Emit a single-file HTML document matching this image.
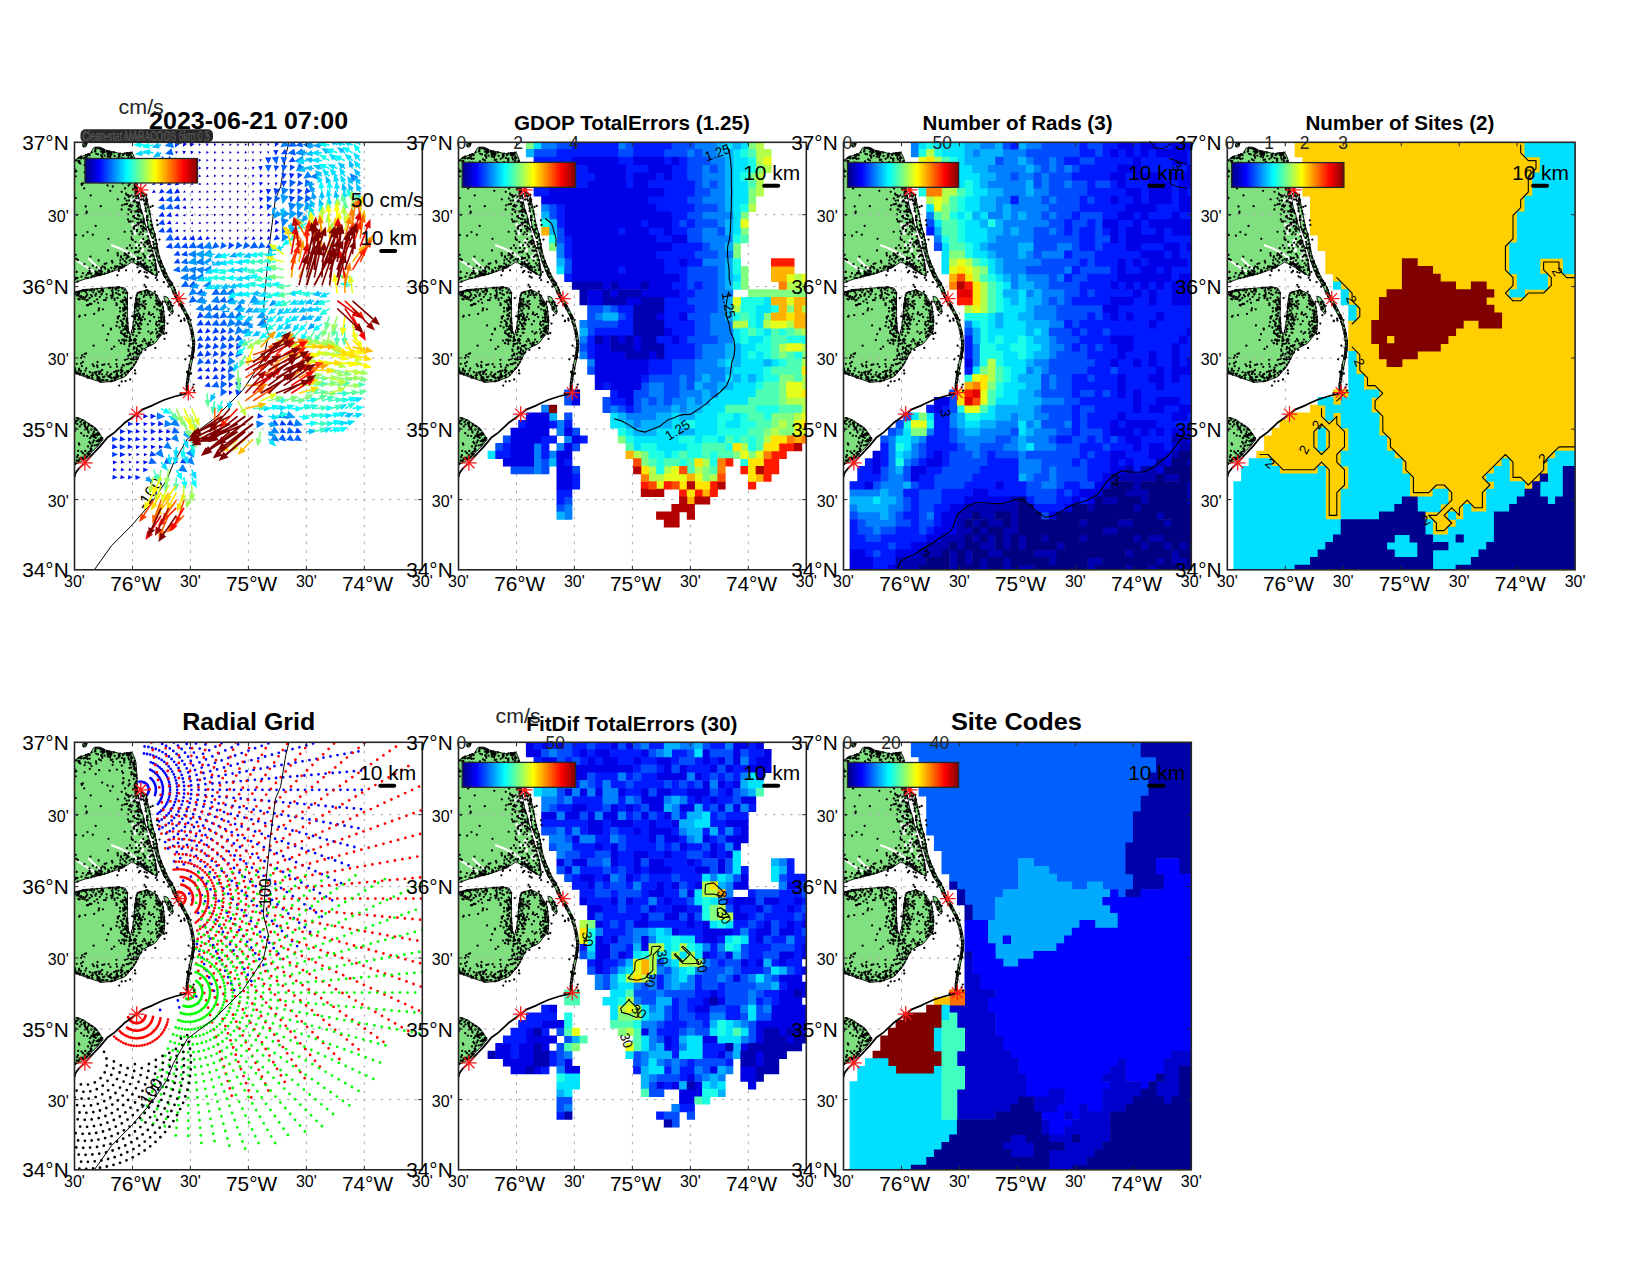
<!DOCTYPE html><html><head><meta charset="utf-8"><style>html,body{margin:0;padding:0;background:#fff;overflow:hidden;}svg{display:block;}text{font-family:'Liberation Sans', Arial, Helvetica, sans-serif;}.L{font-size:20.8px;fill:#000;}.S{font-size:16px;fill:#000;}.C{font-size:17.5px;fill:#262626;}.T{font-size:20.5px;font-weight:bold;fill:#000;}.g{stroke:#a8a8a8;stroke-width:1;stroke-dasharray:2.5 6;}.t{stroke:#262626;stroke-width:1;}.fr{fill:none;stroke:#262626;stroke-width:1.6;}</style></head><body>
<svg width="1650" height="1275" viewBox="0 0 1650 1275">
<defs><linearGradient id="jetg" x1="0" x2="1" y1="0" y2="0"><stop offset="0" stop-color="#000080"/><stop offset="0.125" stop-color="#0000ff"/><stop offset="0.375" stop-color="#00ffff"/><stop offset="0.625" stop-color="#ffff00"/><stop offset="0.875" stop-color="#ff0000"/><stop offset="1" stop-color="#800000"/></linearGradient><clipPath id="clipP"><rect x="0" y="0" width="347.8" height="427.5"/></clipPath><clipPath id="landclip"><polygon points="0.0,18.2 5.6,14.6 15.8,11.1 19.0,5.6 25.3,4.8 31.6,7.9 38.7,9.5 46.6,11.5 52.9,10.3 57.6,10.3 60.0,15.0 61.5,20.6 62.5,35.0 63.0,48.0 64.0,55.0 66.0,65.0 68.5,73.0 71.5,85.0 74.5,96.5 77.0,105.0 79.0,112.0 80.8,119.0 82.0,126.0 82.5,133.7 77.0,131.5 70.0,126.5 63.0,122.5 57.5,119.5 53.0,122.5 47.0,126.0 38.3,129.0 29.7,132.0 21.2,134.0 9.5,137.0 3.0,139.5 0.0,140.5"/><polygon points="66.3,48.1 71.8,53.0 75.0,68.6 78.0,84.0 80.5,92.0 84.9,114.7 91.8,131.1 98.7,143.2 103.9,155.3 109.9,165.6 115.1,176.0 118.6,188.9 120.3,199.7 120.0,205.0 118.9,213.0 115.3,230.6 113.6,241.2 113.6,250.1 111.8,249.0 111.8,241.0 113.3,230.6 116.9,213.0 117.9,205.0 118.1,199.7 116.4,189.0 113.0,177.0 107.8,167.2 101.9,157.2 96.8,146.0 92.5,139.0 88.5,131.5 86.0,126.0 83.5,119.0 81.5,112.0 79.0,103.0 77.0,95.0 74.5,88.0 72.5,78.0 71.5,68.0 69.5,60.0 66.5,54.0"/><polygon points="0.0,149.8 9.5,147.2 27.1,146.0 38.3,144.9 45.0,144.8 50.5,145.8 53.0,150.0 53.0,158.7 52.8,176.0 54.0,188.0 55.8,193.2 57.6,189.0 59.3,176.0 60.8,158.7 62.0,152.5 63.4,150.1 72.8,147.5 81.5,151.8 88.4,163.0 90.1,176.0 89.5,189.5 80.0,201.2 68.3,207.1 58.9,224.8 50.6,234.2 38.9,238.9 27.1,240.1 9.5,234.2 0.0,230.6"/><polygon points="89.5,153.8 93.0,155.0 96.5,161.0 98.8,169.5 97.5,172.0 94.5,168.0 91.5,161.0 89.8,157.0"/><polygon points="0.0,275.5 3.3,275.3 10.0,278.0 15.4,282.4 21.0,285.5 26.0,292.5 28.5,297.0 24.0,303.0 18.0,309.0 12.0,315.5 6.0,319.5 0.0,322.5"/><polygon points="8.0,1.5 12.7,0.9 11.5,4.5 9.0,4.8"/></clipPath><g id="landg"><polygon points="0.0,18.2 5.6,14.6 15.8,11.1 19.0,5.6 25.3,4.8 31.6,7.9 38.7,9.5 46.6,11.5 52.9,10.3 57.6,10.3 60.0,15.0 61.5,20.6 62.5,35.0 63.0,48.0 64.0,55.0 66.0,65.0 68.5,73.0 71.5,85.0 74.5,96.5 77.0,105.0 79.0,112.0 80.8,119.0 82.0,126.0 82.5,133.7 77.0,131.5 70.0,126.5 63.0,122.5 57.5,119.5 53.0,122.5 47.0,126.0 38.3,129.0 29.7,132.0 21.2,134.0 9.5,137.0 3.0,139.5 0.0,140.5" fill="#80e080" stroke="#000" stroke-width="0.9"/>
<polygon points="66.3,48.1 71.8,53.0 75.0,68.6 78.0,84.0 80.5,92.0 84.9,114.7 91.8,131.1 98.7,143.2 103.9,155.3 109.9,165.6 115.1,176.0 118.6,188.9 120.3,199.7 120.0,205.0 118.9,213.0 115.3,230.6 113.6,241.2 113.6,250.1 111.8,249.0 111.8,241.0 113.3,230.6 116.9,213.0 117.9,205.0 118.1,199.7 116.4,189.0 113.0,177.0 107.8,167.2 101.9,157.2 96.8,146.0 92.5,139.0 88.5,131.5 86.0,126.0 83.5,119.0 81.5,112.0 79.0,103.0 77.0,95.0 74.5,88.0 72.5,78.0 71.5,68.0 69.5,60.0 66.5,54.0" fill="#80e080" stroke="#000" stroke-width="0.9"/>
<polygon points="0.0,149.8 9.5,147.2 27.1,146.0 38.3,144.9 45.0,144.8 50.5,145.8 53.0,150.0 53.0,158.7 52.8,176.0 54.0,188.0 55.8,193.2 57.6,189.0 59.3,176.0 60.8,158.7 62.0,152.5 63.4,150.1 72.8,147.5 81.5,151.8 88.4,163.0 90.1,176.0 89.5,189.5 80.0,201.2 68.3,207.1 58.9,224.8 50.6,234.2 38.9,238.9 27.1,240.1 9.5,234.2 0.0,230.6" fill="#80e080" stroke="#000" stroke-width="0.9"/>
<polygon points="89.5,153.8 93.0,155.0 96.5,161.0 98.8,169.5 97.5,172.0 94.5,168.0 91.5,161.0 89.8,157.0" fill="#80e080" stroke="#000" stroke-width="0.9"/>
<polygon points="0.0,275.5 3.3,275.3 10.0,278.0 15.4,282.4 21.0,285.5 26.0,292.5 28.5,297.0 24.0,303.0 18.0,309.0 12.0,315.5 6.0,319.5 0.0,322.5" fill="#80e080" stroke="#000" stroke-width="0.9"/>
<polygon points="8.0,1.5 12.7,0.9 11.5,4.5 9.0,4.8" fill="#80e080" stroke="#000" stroke-width="0.9"/>
<path d="M58.8 83.4h0M69.4 92.3h0M68.0 108.2h0M68.2 107.2h0M60.4 73.2h0M68.8 65.5h0M60.6 57.3h0M60.8 89.0h0M66.5 98.5h0M79.6 100.8h0M73.8 108.1h0M58.3 82.4h0M68.9 59.0h0M66.7 103.3h0M69.2 60.0h0M76.2 116.3h0M74.0 114.4h0M68.7 66.5h0M67.3 100.7h0M74.4 77.4h0M67.9 54.6h0M77.7 97.4h0M63.2 58.1h0M76.2 112.4h0M78.2 101.6h0M69.8 56.1h0M67.6 102.2h0M56.2 57.8h0M65.4 83.4h0M62.3 102.9h0M58.1 62.8h0M61.6 85.1h0M73.1 91.7h0M67.7 69.7h0M70.9 71.5h0M62.6 81.9h0M60.5 91.1h0M57.7 53.2h0M59.4 57.9h0M72.3 103.4h0M65.2 82.4h0M67.7 97.9h0M76.9 108.6h0M74.6 116.0h0" stroke="#fff" stroke-width="3.2" stroke-linecap="round"/>
<polyline points="36.6,102.6 45.0,106.0 55.0,111.0 62.0,116.0 68.5,120.5" fill="none" stroke="#fff" stroke-width="2.2"/>
<polyline points="2.0,118.0 8.0,122.0 14.0,126.0 20.0,129.5" fill="none" stroke="#fff" stroke-width="2.2"/>
<polyline points="14.0,116.0 19.0,121.0 24.0,126.0 28.0,128.5" fill="none" stroke="#fff" stroke-width="2.2"/>
<polyline points="113.6,250.1 109.5,251.8 100.1,254.2 89.5,257.7 80.1,262.0 77.5,263.3 68.3,267.1 62.0,272.1 50.6,280.1 40.1,290.1 33.0,295.2 26.0,303.5 15.4,314.8 10.4,320.5 5.0,325.5 1.2,330.4 0.0,334.6" fill="none" stroke="#000" stroke-width="1.8"/>
<path d="M58.1 214.1h0M78.6 199.5h0M63.6 183.7h0M50.7 194.3h0M55.7 198.5h0M72.7 100.6h0M0.2 18.4h0M51.3 232.5h0M32.0 155.5h0M2.9 281.9h0M48.0 123.1h0M111.8 173.3h0M40.8 146.1h0M47.7 182.4h0M11.8 315.3h0M82.1 179.6h0M82.8 189.7h0M15.0 312.2h0M17.9 133.5h0M64.4 190.4h0M104.9 162.2h0M60.0 175.4h0M61.1 216.4h0M113.1 239.8h0M59.2 36.6h0M79.2 102.1h0M92.4 134.5h0M44.8 124.3h0M72.8 75.0h0M17.5 154.1h0M20.5 9.2h0M2.7 150.1h0M118.3 198.4h0M14.0 130.6h0M40.7 124.0h0M24.3 299.3h0M42.2 162.3h0M52.7 113.3h0M50.6 173.7h0M117.2 215.6h0M17.6 303.3h0M53.9 207.0h0M86.8 121.1h0M34.5 9.9h0M53.9 228.6h0M3.4 117.7h0M33.4 130.2h0M24.6 131.3h0M114.1 175.4h0M7.0 134.4h0M84.7 114.0h0M26.9 148.1h0M29.9 234.4h0M21.0 132.1h0M49.8 193.1h0M61.6 56.0h0M47.3 15.6h0M88.7 124.8h0M34.3 234.0h0M98.3 149.1h0M89.7 174.7h0M82.4 102.1h0M62.0 211.2h0M86.7 187.8h0M56.8 201.5h0M93.5 160.2h0M24.4 132.3h0M2.2 318.0h0M93.7 161.7h0M45.8 121.1h0M14.0 290.2h0M34.2 221.9h0M60.4 175.2h0M63.3 115.0h0M67.5 121.8h0M29.1 238.1h0M113.7 234.0h0M84.9 119.4h0M80.8 126.7h0M68.9 163.4h0M76.5 108.0h0M95.8 139.0h0M24.0 149.0h0M61.0 51.4h0M49.8 201.7h0M7.6 315.3h0M66.7 68.4h0M17.5 235.6h0M37.0 238.4h0M74.4 87.0h0M0.6 321.8h0M76.3 103.7h0M16.7 135.0h0M54.0 114.6h0M63.5 168.3h0M83.8 193.8h0M69.1 102.3h0M54.1 43.2h0M63.7 122.3h0M26.3 295.7h0M73.6 149.3h0M55.4 212.7h0M62.7 168.2h0M61.6 201.0h0M84.9 115.6h0M74.0 149.1h0M56.8 10.5h0M10.5 284.1h0M62.0 158.3h0M35.5 15.1h0M52.4 11.2h0M69.3 124.8h0M62.0 181.0h0M79.3 117.5h0M47.1 67.2h0M5.2 20.8h0M65.5 176.3h0M22.0 298.8h0M10.1 30.0h0M18.3 123.4h0M55.4 196.6h0M80.1 117.7h0M26.6 9.4h0M77.5 86.6h0M23.6 302.0h0M59.7 86.4h0M70.7 198.4h0M81.5 187.0h0M61.5 45.0h0M49.4 16.6h0M60.0 172.8h0M81.6 181.9h0M79.9 105.8h0M10.9 2.3h0M41.7 150.7h0M63.4 116.9h0M84.9 179.0h0M117.0 187.5h0M68.6 84.3h0M32.0 121.0h0M16.1 306.2h0M50.0 147.8h0M71.7 56.1h0M11.5 286.0h0M77.6 112.7h0M0.0 26.7h0M53.1 190.6h0M42.8 179.9h0M1.2 230.7h0M58.0 15.7h0M84.9 163.5h0M64.7 73.7h0M48.1 160.0h0M52.2 161.9h0M12.9 314.0h0M13.9 20.3h0M43.4 176.1h0M55.9 11.8h0M117.1 188.8h0M52.5 105.9h0M8.4 130.9h0M51.1 170.7h0M10.2 211.6h0M59.6 116.6h0M68.4 174.3h0M27.6 14.3h0M66.1 203.5h0M88.3 179.5h0M8.4 219.7h0M19.7 147.8h0M28.5 147.7h0M18.2 222.0h0M50.6 166.7h0M12.9 311.0h0M88.5 175.4h0M56.6 15.9h0M51.6 150.6h0M33.0 43.1h0M118.7 209.9h0M7.3 149.0h0M43.1 155.6h0M60.9 99.5h0M113.4 243.6h0M55.3 194.7h0M22.3 233.0h0M65.8 203.2h0M39.9 126.4h0M48.2 41.1h0M115.0 222.6h0M86.9 168.2h0M46.6 114.0h0M55.7 20.2h0M65.3 180.8h0M112.5 241.0h0M70.5 52.8h0M56.8 14.2h0M50.9 157.8h0M44.4 14.3h0M86.8 124.6h0M61.1 48.7h0M6.1 231.0h0M40.1 13.5h0M13.0 89.8h0M2.1 129.7h0M46.0 124.9h0M41.9 217.5h0M28.2 7.2h0M52.4 229.2h0M106.4 162.0h0M34.5 145.9h0M64.7 121.5h0M74.9 69.0h0M72.4 98.9h0M112.8 247.9h0M23.7 160.5h0M117.6 216.6h0M28.2 237.5h0M72.0 125.9h0M59.2 189.4h0M52.5 176.1h0M81.3 97.8h0M6.4 228.6h0M61.9 50.6h0M51.8 120.3h0M1.2 135.7h0M53.7 213.4h0M44.6 126.2h0M113.1 246.6h0M22.2 130.8h0M28.6 183.1h0M4.3 150.1h0M63.2 150.9h0M27.9 124.1h0M94.1 166.8h0M61.8 109.6h0M37.3 148.3h0M56.7 69.7h0M73.6 125.2h0M21.9 287.6h0M50.0 157.8h0M36.5 187.3h0M47.7 232.3h0M10.1 22.9h0M65.1 150.0h0M20.8 8.9h0M15.1 155.7h0M37.8 153.8h0M49.6 176.3h0M30.2 121.6h0M20.9 129.2h0M62.2 60.2h0M70.6 121.1h0M118.8 199.0h0M72.3 58.4h0M10.5 315.7h0M94.7 166.3h0M61.2 173.6h0M17.0 307.7h0M59.6 73.7h0M54.9 198.8h0M53.2 186.0h0M86.1 171.3h0M60.5 21.6h0M60.2 186.8h0M30.1 13.4h0M11.1 135.3h0M119.2 207.0h0M26.7 125.9h0M62.0 32.8h0M77.8 190.1h0M63.1 216.4h0M50.2 89.5h0M12.8 152.4h0M74.5 101.1h0M21.0 293.0h0M24.8 237.9h0M3.0 275.9h0M55.9 79.2h0M42.9 145.6h0M97.1 140.6h0M46.3 159.2h0M69.9 153.1h0M59.6 26.9h0M19.3 223.9h0M28.5 149.2h0M76.9 83.2h0M114.9 231.8h0M76.6 197.3h0M26.8 297.9h0M87.6 187.9h0M1.1 136.7h0M53.5 221.9h0M49.7 20.1h0M55.2 118.3h0M38.1 153.9h0M113.9 229.2h0M90.9 159.5h0M59.1 59.2h0M33.7 191.9h0M73.9 189.3h0M2.8 314.4h0M6.6 153.9h0M15.1 161.7h0M50.1 62.1h0M40.0 156.3h0M66.1 121.3h0M63.4 177.3h0M50.0 16.4h0M70.2 126.5h0M115.4 225.1h0M100.7 150.6h0M13.1 13.1h0M7.6 213.2h0M43.3 113.2h0M42.6 232.2h0M15.9 301.1h0M71.4 59.8h0M17.3 287.0h0M3.9 151.0h0M34.2 9.7h0M86.4 161.7h0M78.3 171.8h0M2.8 314.9h0M16.6 152.8h0M0.7 288.2h0M49.5 223.3h0M113.7 176.8h0M94.9 165.5h0M22.6 223.1h0M9.8 214.8h0M38.3 150.1h0M23.7 290.5h0M67.1 202.8h0M48.4 150.2h0M4.2 318.5h0M42.4 27.3h0M57.2 116.9h0M32.1 152.0h0M22.2 132.9h0M60.2 25.7h0M59.5 215.8h0M26.7 13.1h0M86.2 120.7h0M75.9 202.8h0M78.0 86.0h0M3.6 149.8h0M100.9 154.0h0M49.2 172.4h0M118.0 191.0h0M46.2 178.4h0M105.4 162.3h0M16.8 161.7h0M12.2 69.4h0M69.2 78.3h0M113.9 179.8h0M111.4 172.2h0M42.2 229.2h0M46.4 115.1h0M62.2 35.6h0M51.0 194.0h0M16.3 308.8h0M47.6 122.4h0M48.8 40.1h0M25.1 6.3h0M97.0 163.5h0M14.9 299.7h0M42.5 124.2h0M84.8 193.4h0M2.3 221.5h0M35.8 48.5h0M59.5 26.8h0M82.5 105.4h0M26.8 13.3h0M50.6 217.6h0M95.3 138.7h0M63.8 69.7h0M96.2 143.1h0M77.6 113.1h0M97.4 142.9h0M28.4 167.0h0M54.0 15.6h0M74.8 68.8h0M1.8 231.0h0M57.2 95.2h0M10.5 15.4h0M3.0 135.6h0M55.9 62.5h0M22.1 229.5h0M70.2 164.8h0M76.3 88.2h0M82.9 162.2h0M72.6 57.5h0M88.1 172.3h0M112.5 175.9h0M48.9 36.3h0M10.9 228.3h0M7.0 41.7h0M75.2 108.6h0M100.2 151.3h0M17.6 293.7h0M47.9 228.7h0M24.6 17.1h0M58.2 211.6h0M55.2 195.4h0M87.1 187.6h0M25.4 230.5h0M66.7 49.8h0M119.5 202.0h0M59.5 24.2h0M18.4 232.8h0M65.0 156.5h0M106.6 163.7h0M12.1 15.2h0M116.2 187.4h0M58.6 192.5h0M109.5 167.9h0M60.3 58.7h0M41.4 235.9h0M72.1 123.5h0M10.9 20.2h0M24.1 118.2h0M40.1 13.8h0M3.8 18.8h0M115.0 181.9h0M50.4 164.2h0M67.4 206.4h0M24.2 298.9h0M4.4 15.7h0M75.1 118.3h0M28.3 10.9h0M71.4 124.9h0M12.5 162.9h0M15.0 126.0h0M21.8 11.5h0M52.4 186.3h0M14.2 283.2h0M5.3 284.2h0M111.9 247.8h0M59.8 174.2h0M58.6 85.7h0M87.0 190.1h0M49.8 199.2h0M15.8 295.6h0M62.7 48.6h0M64.9 162.4h0M86.6 174.9h0M57.9 91.4h0M56.8 64.4h0M68.2 199.1h0M69.1 54.4h0M67.4 70.9h0M62.3 88.9h0M19.1 203.4h0M60.7 161.8h0M59.7 204.9h0M108.0 163.3h0M62.4 121.9h0M66.2 90.0h0M70.6 125.9h0M34.0 96.5h0M64.2 60.9h0M61.6 41.6h0M12.7 285.2h0M64.9 116.1h0M31.2 157.8h0M86.5 118.7h0M9.9 282.3h0M85.5 192.7h0M59.0 23.0h0M45.8 118.0h0M90.1 127.1h0M26.0 6.7h0M119.5 198.9h0M44.5 198.3h0M38.5 19.6h0M77.4 121.0h0M15.2 130.0h0M66.5 54.0h0M55.0 11.3h0M2.1 278.8h0M60.1 21.3h0M1.2 279.4h0M60.1 18.7h0M19.6 292.6h0M23.4 234.8h0M105.3 161.8h0M84.3 160.9h0M62.1 210.6h0M23.5 12.0h0M11.8 226.0h0M66.5 121.8h0M56.9 220.4h0M114.1 231.1h0M89.4 175.2h0M48.2 191.6h0M17.2 303.7h0M44.1 233.8h0M62.3 153.2h0M70.3 177.0h0M102.1 155.7h0M41.8 235.5h0M113.2 236.4h0M24.5 229.3h0M50.5 186.7h0M4.4 151.5h0M48.3 222.8h0M6.6 221.1h0M27.2 238.2h0M70.6 104.2h0M25.3 154.5h0M82.3 131.6h0M49.7 197.6h0M38.1 22.6h0M52.8 184.0h0M17.3 147.2h0M101.5 155.9h0M59.4 206.4h0M58.3 97.6h0M86.7 172.9h0M27.8 15.5h0M29.5 8.5h0M33.0 11.6h0M64.1 121.1h0M62.9 161.1h0M112.3 245.1h0M37.2 155.9h0M39.6 235.0h0M18.6 291.5h0M60.9 215.0h0M85.1 188.8h0M66.0 175.7h0M17.8 284.1h0M72.1 152.5h0M20.2 286.0h0M45.6 169.1h0M93.5 137.1h0M57.6 225.4h0M15.3 229.9h0M101.7 155.6h0M60.6 196.5h0M67.9 86.8h0M54.9 12.7h0M62.5 49.8h0M47.6 29.0h0M10.1 156.9h0M47.5 125.2h0M69.7 85.8h0M50.5 166.0h0M52.2 221.8h0M74.6 200.4h0M55.2 201.6h0M69.3 171.5h0M52.5 61.6h0M107.6 166.1h0M61.6 161.1h0M89.1 129.6h0M56.5 10.4h0M61.9 205.8h0M64.9 159.2h0M60.9 215.2h0M83.4 162.3h0M60.5 110.1h0M39.5 229.8h0M0.1 285.9h0M16.5 131.4h0M60.7 41.8h0M35.1 28.4h0M66.0 186.6h0M88.7 190.0h0M66.9 151.8h0M52.3 188.3h0M80.0 93.1h0M57.0 29.9h0M13.1 157.6h0M11.7 1.7h0M15.0 148.0h0M15.4 295.8h0M77.3 130.9h0M65.4 67.0h0M65.2 203.6h0M61.4 26.3h0M65.1 190.5h0M50.3 56.2h0M35.9 224.6h0M82.7 194.9h0M14.3 309.5h0M118.0 205.8h0M2.7 153.2h0M1.7 231.1h0M5.9 279.6h0M89.1 169.3h0M12.7 293.8h0M38.3 152.1h0M71.7 57.5h0M63.5 182.2h0M48.2 183.9h0M2.0 286.5h0M82.9 109.0h0M24.2 132.4h0M8.7 154.8h0M64.2 171.2h0M6.1 315.6h0M22.9 235.3h0M27.6 232.0h0M62.3 172.0h0M68.6 50.7h0M95.1 142.1h0M54.9 63.7h0M76.5 82.5h0M21.5 132.3h0M63.2 49.5h0M0.9 228.4h0M24.0 297.3h0M112.2 173.5h0M32.9 238.0h0M61.6 33.8h0M57.3 96.9h0M46.6 190.6h0M34.7 129.6h0M27.7 295.9h0M4.9 18.9h0M7.9 277.8h0M17.2 10.0h0M24.6 128.0h0M82.5 161.5h0M56.6 197.8h0M79.9 164.7h0M89.6 183.4h0M81.0 124.0h0M21.0 152.3h0M84.8 159.3h0M113.5 232.4h0M34.5 128.3h0M11.6 211.1h0M59.1 206.7h0M21.2 83.6h0M64.0 65.3h0M40.8 236.6h0M53.6 13.5h0M72.5 75.1h0M13.3 235.4h0M8.1 148.1h0M80.2 92.7h0M69.3 86.0h0M21.0 153.4h0M11.3 15.2h0M18.3 300.2h0M74.2 171.7h0M50.3 230.6h0M66.1 119.3h0M13.4 163.1h0M10.3 313.6h0M107.4 163.9h0M9.4 293.4h0M4.3 301.2h0M46.5 227.5h0M61.3 220.0h0M48.4 116.8h0M80.1 91.5h0M21.7 291.5h0M63.6 53.8h0M63.7 161.9h0M52.4 180.2h0M58.7 189.2h0M78.0 152.2h0M68.4 174.5h0M61.9 209.9h0M84.5 178.6h0M62.9 53.9h0M9.4 16.1h0M50.0 11.4h0M47.2 23.4h0M78.9 99.8h0M36.3 239.1h0M60.1 183.1h0M26.8 128.2h0M74.6 170.2h0M62.2 69.0h0M24.6 231.8h0M33.5 108.2h0M71.7 127.6h0M55.1 41.7h0M3.1 318.9h0M13.5 304.1h0M94.2 167.3h0M6.7 290.9h0M64.5 108.9h0M81.4 106.0h0M57.5 52.8h0M7.4 42.6h0M16.6 283.3h0M55.8 22.3h0M20.6 230.1h0M81.2 124.6h0M27.2 146.4h0M0.3 29.7h0M58.1 63.0h0M89.4 186.3h0M60.2 42.7h0M113.6 232.2h0M58.7 201.1h0M60.9 69.2h0M15.3 26.6h0M60.8 162.6h0M44.5 173.9h0M95.7 166.5h0M43.1 110.9h0M65.6 69.1h0M24.7 299.3h0M54.8 203.7h0M118.5 192.1h0M76.0 124.9h0M41.4 125.1h0M33.9 129.2h0M42.0 234.2h0M47.8 228.3h0M20.2 303.0h0M33.6 11.2h0M79.6 174.7h0M102.4 157.4h0M52.3 166.4h0M44.5 14.0h0M52.8 151.0h0M59.1 118.2h0M48.9 187.4h0M8.6 93.4h0M69.4 81.4h0M61.0 215.4h0M34.8 234.5h0M63.1 60.8h0M87.4 128.3h0M52.6 177.1h0M95.3 139.5h0M48.1 125.0h0M76.9 152.4h0M79.6 94.2h0M5.6 15.3h0M4.0 277.2h0M46.6 233.7h0M87.1 161.7h0M7.0 15.7h0M63.7 110.0h0M86.4 189.3h0M66.0 120.4h0M8.5 231.8h0M19.3 298.1h0M54.0 67.2h0M116.9 215.8h0M3.7 308.5h0M70.7 158.5h0M97.4 142.2h0M77.7 83.2h0M6.6 15.6h0M55.5 103.0h0M71.2 66.2h0M0.5 152.1h0M16.2 53.1h0M3.4 312.9h0M51.7 156.5h0M14.3 281.5h0M16.7 287.3h0M52.4 159.4h0M63.6 157.1h0M61.3 165.9h0M67.9 53.3h0M73.3 94.0h0M84.9 119.8h0M117.0 191.3h0M13.4 162.9h0M68.7 80.0h0M36.4 186.4h0M5.2 232.2h0M113.3 247.6h0M93.6 138.4h0M61.4 180.0h0M118.3 212.2h0M13.9 289.0h0M42.0 161.0h0M68.1 163.9h0M16.5 307.2h0M56.7 18.0h0M41.9 221.8h0M69.0 76.4h0M60.9 215.1h0M55.1 67.3h0M57.3 190.1h0M73.0 73.7h0M58.8 21.7h0M89.9 179.7h0M16.0 114.3h0M5.9 14.6h0M53.3 188.9h0M66.0 80.1h0M81.8 161.4h0M78.8 123.0h0M10.3 287.3h0M50.4 123.0h0M12.0 233.7h0M21.5 5.4h0M60.3 165.2h0M62.6 87.7h0M67.0 177.1h0M60.8 163.6h0M40.1 157.6h0M13.3 135.8h0M30.7 126.2h0M66.7 210.1h0M54.0 114.3h0M24.6 166.2h0M20.0 159.0h0M22.7 157.1h0M37.1 10.5h0M35.7 10.9h0M51.1 165.0h0M56.4 216.8h0M53.5 52.8h0M64.1 80.5h0M81.9 104.9h0M1.1 320.9h0M58.1 78.8h0M8.5 316.4h0M29.9 9.9h0M5.1 149.5h0M77.0 127.9h0M63.4 72.7h0M116.5 183.6h0M61.9 83.1h0M119.0 209.5h0M4.8 317.0h0M84.3 175.3h0M55.7 10.6h0M69.5 58.4h0M118.3 211.6h0M23.1 293.0h0M66.9 100.4h0M22.9 130.2h0M9.6 231.3h0M61.5 105.6h0M31.9 237.9h0M58.8 222.3h0M64.8 211.1h0M9.9 280.0h0M4.5 231.2h0M43.9 148.3h0M21.7 151.4h0M58.9 46.6h0M39.7 204.4h0M3.7 16.1h0M49.6 124.0h0M4.9 154.1h0M61.0 50.8h0M52.3 194.6h0M24.1 168.1h0M21.0 7.1h0M35.0 9.4h0M14.6 234.5h0M70.6 150.5h0M62.2 76.5h0M82.0 133.2h0M112.2 243.3h0M64.0 62.7h0M3.1 151.9h0M56.9 25.4h0M51.9 160.0h0M52.3 179.1h0M115.9 226.5h0M52.7 216.8h0M11.7 150.3h0M91.7 131.4h0M67.5 49.5h0M37.9 128.8h0M6.6 215.5h0M32.9 230.0h0M2.3 72.5h0M63.0 60.1h0M48.8 35.9h0M101.4 153.1h0M29.9 124.8h0M23.4 5.7h0M62.5 63.9h0M79.1 113.6h0M106.9 163.9h0M20.2 286.0h0M64.2 56.0h0M86.3 185.1h0M25.8 239.4h0M2.4 230.2h0M88.4 165.4h0M62.6 207.2h0M27.9 222.6h0M73.5 98.1h0M44.5 125.8h0M61.8 46.5h0M39.6 235.6h0M50.2 118.8h0M33.8 12.0h0M86.1 162.6h0M19.3 289.6h0M54.7 38.2h0M19.5 294.7h0M43.3 234.7h0M22.9 237.0h0M37.9 120.2h0M22.1 130.8h0M9.5 280.6h0M38.3 44.2h0M27.4 129.4h0M70.0 113.6h0M53.5 77.1h0M83.1 193.7h0M13.8 11.8h0M52.9 115.1h0M3.5 152.6h0M70.3 166.4h0M11.2 64.2h0M36.4 17.7h0M64.0 82.3h0M71.0 87.1h0M25.2 128.9h0M62.5 173.4h0M55.0 25.7h0M94.7 164.6h0M86.9 177.5h0M24.6 132.1h0M27.6 6.6h0M8.5 310.9h0M17.5 233.5h0M48.4 157.9h0M60.2 169.4h0M1.1 55.7h0M51.9 116.2h0M5.1 157.0h0M37.1 235.6h0M65.4 173.0h0M70.4 115.3h0M52.1 158.8h0M7.3 278.3h0M55.5 53.9h0M58.4 185.2h0M30.2 131.2h0M53.4 72.0h0M17.0 148.2h0M57.3 105.9h0M24.0 132.5h0M71.3 126.1h0M22.7 146.5h0M58.6 187.3h0M21.5 19.2h0M63.5 203.6h0M48.5 12.9h0M73.3 203.3h0M8.9 316.0h0M76.6 113.2h0M23.4 298.8h0M10.8 308.6h0M37.9 147.8h0M27.2 6.6h0M2.2 129.6h0M60.2 75.5h0M52.2 165.0h0M108.2 165.5h0M66.4 178.4h0M36.2 13.2h0M82.0 155.6h0M51.5 183.1h0M60.3 210.1h0M56.8 89.0h0M3.2 139.2h0M8.4 317.7h0M60.2 199.2h0M11.5 12.6h0M69.7 196.9h0M89.7 133.5h0M49.8 18.1h0M49.6 162.1h0M86.8 186.5h0M67.4 177.6h0M24.9 297.5h0M114.1 237.3h0M97.7 169.0h0M75.5 200.3h0M75.1 153.0h0M54.2 110.9h0M57.8 188.0h0M49.9 113.0h0M119.5 207.8h0M58.8 31.7h0M6.8 14.4h0M81.5 152.9h0M72.3 147.8h0M52.0 177.8h0M66.5 83.6h0M89.1 131.9h0M28.5 7.9h0M8.5 41.0h0M62.0 193.6h0M12.6 147.8h0M70.7 149.3h0M70.2 61.6h0M45.5 165.7h0M44.1 15.3h0M64.6 208.7h0M48.4 181.2h0M42.0 232.7h0M36.1 12.7h0M61.9 214.8h0M28.6 234.9h0M0.9 280.0h0M76.3 155.3h0M1.4 18.1h0M64.1 177.2h0M52.7 166.7h0M69.2 160.3h0M81.1 101.3h0M82.8 183.4h0M71.2 161.9h0M63.1 80.6h0M47.2 225.4h0M17.0 23.8h0M54.1 208.6h0M71.5 125.9h0M12.5 233.4h0M10.9 155.0h0M81.3 158.3h0M50.2 155.0h0M7.0 309.3h0M61.0 179.3h0M90.8 134.3h0M62.0 163.5h0M87.0 185.4h0M70.7 100.1h0M17.0 233.1h0M66.8 162.1h0M83.0 157.8h0M48.8 168.4h0M73.4 182.0h0M15.9 21.4h0M33.2 11.7h0M59.8 222.4h0M61.0 40.5h0M86.0 161.0h0M23.0 131.0h0M21.8 21.3h0M12.8 287.2h0M60.6 176.7h0M13.7 311.8h0M59.1 20.2h0M99.6 145.4h0M51.8 198.2h0M87.3 169.4h0M117.7 194.4h0M52.4 12.6h0M118.5 207.7h0M47.5 23.3h0M45.6 11.3h0M85.6 163.6h0M118.0 191.0h0M48.8 173.1h0M32.3 197.8h0M47.2 49.5h0M86.6 175.8h0M73.4 77.5h0M20.0 134.0h0M78.4 95.6h0M27.7 227.6h0M1.3 112.5h0M88.6 124.0h0M52.5 185.4h0M58.7 185.1h0M79.9 105.8h0M114.8 231.9h0M90.5 134.9h0M37.7 17.3h0M74.3 201.7h0M3.9 156.8h0M59.1 217.4h0M118.8 201.6h0M13.1 16.6h0M12.0 70.8h0M36.8 125.5h0M66.4 149.6h0M64.9 92.0h0M60.3 32.4h0M39.6 10.2h0M65.9 106.2h0M21.3 295.5h0M36.8 231.7h0M60.5 172.7h0M46.9 188.8h0M102.8 155.7h0M72.4 62.2h0M82.7 153.8h0M53.7 12.6h0M42.5 224.4h0M44.7 145.2h0M24.7 27.9h0M103.2 159.0h0M64.0 164.3h0M45.4 152.5h0M89.4 177.7h0M21.2 31.8h0M71.0 52.4h0M21.5 230.8h0M107.6 165.4h0M63.2 212.2h0M36.0 11.9h0M57.7 217.0h0M47.5 235.1h0M50.3 111.0h0M68.7 96.7h0M26.2 229.1h0M50.5 184.4h0M100.2 147.3h0M9.9 121.8h0M53.2 181.0h0M113.0 176.1h0M9.2 232.7h0M35.7 232.6h0M9.7 46.1h0M87.4 161.4h0M18.7 150.0h0M69.4 124.1h0M82.7 167.0h0M48.0 197.4h0M80.6 127.7h0M97.6 141.4h0M1.7 116.6h0M45.6 19.8h0M54.2 54.5h0M82.6 107.0h0M76.2 191.3h0M24.7 235.2h0M68.7 118.1h0M52.7 10.8h0M118.4 210.0h0M90.3 130.1h0M15.1 128.5h0M4.4 228.1h0M77.9 108.8h0M15.2 16.3h0M87.0 179.5h0M103.3 156.7h0M11.3 314.1h0M57.6 68.9h0M66.9 182.0h0M67.2 79.7h0M59.1 85.2h0M27.7 40.3h0M91.4 134.7h0M9.3 316.4h0M42.0 183.7h0M18.1 230.6h0M17.0 293.7h0M58.8 197.5h0M15.3 12.8h0M55.3 221.0h0M60.2 83.8h0M76.6 87.3h0M53.4 222.0h0M64.4 174.7h0M63.4 67.6h0M66.5 77.6h0M13.9 311.6h0M48.6 166.2h0M22.3 302.8h0M25.2 149.8h0M72.0 62.1h0M51.6 112.3h0M95.8 165.8h0M68.4 92.0h0M26.3 63.9h0M119.4 204.5h0M46.3 200.6h0M26.2 131.2h0M86.0 179.4h0M113.2 173.2h0M45.1 185.2h0M59.7 216.9h0M23.0 219.7h0M61.0 53.3h0M117.6 190.3h0M77.9 131.3h0M53.6 216.0h0M65.1 166.3h0M68.7 123.2h0M48.5 30.6h0M69.2 154.5h0M71.9 201.2h0M85.0 186.0h0M76.1 89.7h0M9.9 148.6h0M63.4 119.9h0M76.4 172.8h0M49.0 176.9h0M10.9 148.3h0M74.5 150.8h0M4.7 231.3h0M113.3 232.0h0M81.8 127.4h0M0.2 288.3h0M41.4 147.2h0M49.1 150.4h0M77.7 91.1h0M41.4 228.9h0M35.8 234.9h0M118.0 212.4h0M9.0 3.7h0M27.1 12.8h0M43.3 57.0h0M54.7 58.2h0M75.7 129.7h0M72.5 77.9h0M1.4 92.7h0M8.0 156.5h0M83.0 159.2h0M60.5 174.4h0M6.7 16.1h0M51.6 51.4h0M10.4 312.6h0M68.8 111.8h0M64.6 103.0h0M68.8 88.8h0M84.6 192.2h0M0.9 280.8h0M89.8 177.9h0M101.8 154.4h0M37.4 118.6h0M51.7 150.7h0M5.8 21.2h0M36.5 153.4h0M32.1 232.3h0M54.5 17.3h0M54.5 79.3h0M14.3 131.3h0M4.6 226.4h0M84.7 182.3h0M75.5 178.8h0M47.8 146.1h0M73.1 102.1h0M84.0 159.0h0M52.1 52.5h0M55.5 211.4h0M118.2 209.8h0M22.2 125.1h0M28.1 148.0h0M60.8 28.4h0M118.3 198.1h0M12.0 132.8h0M52.4 193.8h0M37.2 206.6h0M87.4 183.9h0M66.8 69.6h0M36.3 11.3h0M42.0 162.9h0M12.0 158.3h0M19.7 171.6h0M38.0 145.7h0M13.8 235.4h0M66.5 115.6h0M73.0 100.6h0M4.4 20.1h0M66.2 181.0h0M58.7 74.2h0M33.9 13.6h0M55.2 118.0h0M45.1 13.7h0M29.3 8.2h0M58.9 54.3h0M17.9 235.7h0M61.5 47.6h0M81.0 122.0h0M60.3 44.3h0M25.4 132.9h0M19.8 287.2h0M56.4 226.9h0M75.4 114.5h0M36.9 12.1h0M96.4 162.7h0M50.6 46.1h0M21.5 131.0h0M61.6 156.1h0M10.7 172.9h0M58.6 47.3h0M94.9 159.1h0M27.4 7.1h0M48.4 180.9h0M29.6 157.9h0M33.8 234.0h0M75.1 104.6h0M16.5 306.4h0M47.2 179.3h0M40.4 237.9h0M73.5 65.1h0M57.5 19.7h0M64.0 76.8h0M35.5 145.8h0M61.6 41.5h0M7.4 223.9h0M57.6 19.8h0M113.1 246.7h0M100.5 147.9h0M62.7 216.9h0M73.6 128.2h0M49.2 158.1h0M50.5 191.4h0M1.8 28.9h0M6.3 155.0h0M62.0 38.7h0M47.6 63.0h0M10.9 280.5h0M0.7 230.8h0M4.0 151.7h0M33.8 127.7h0M44.3 12.6h0M70.8 61.8h0M116.5 187.8h0M85.3 168.2h0M3.9 231.2h0M84.1 119.3h0M63.1 161.5h0M4.7 174.4h0M75.1 99.0h0M95.9 160.2h0M74.9 200.4h0M66.2 84.3h0M46.8 201.0h0M1.2 34.0h0M43.2 144.9h0M62.5 207.7h0M59.9 58.0h0M82.4 113.6h0M6.9 282.1h0M52.7 178.7h0M27.2 151.5h0M62.6 160.3h0M70.3 52.1h0M60.5 45.0h0M64.0 186.6h0M25.2 236.6h0M85.7 123.1h0M0.3 28.0h0M10.3 282.8h0M10.3 316.5h0M87.5 186.5h0M43.9 151.9h0M59.9 33.6h0M87.6 184.4h0M23.0 224.9h0M29.8 222.1h0M68.9 57.2h0M5.2 173.6h0M18.3 92.4h0M1.4 278.3h0M54.1 190.0h0M53.4 11.5h0M5.7 316.7h0M71.8 62.2h0M76.1 78.6h0M9.0 148.2h0M27.4 131.8h0M47.8 197.6h0M87.2 170.7h0M69.4 122.1h0M82.0 191.0h0M11.9 153.8h0M73.7 150.7h0M68.9 159.2h0M33.2 14.4h0M0.2 150.4h0M43.9 228.4h0M62.9 50.0h0M23.3 291.0h0M42.1 16.5h0M52.8 175.9h0M89.8 130.7h0M80.8 121.4h0M0.6 226.1h0M65.6 204.2h0M61.3 197.6h0M49.9 167.9h0M51.9 61.8h0M76.2 88.5h0M1.2 150.0h0M87.9 186.0h0M4.8 302.4h0M53.5 230.1h0M82.1 111.3h0M109.9 168.3h0M26.4 18.1h0M114.6 231.1h0M64.8 184.2h0M42.4 231.3h0M32.2 9.2h0M73.7 108.2h0M117.8 213.1h0M67.3 123.5h0M56.8 32.2h0M37.8 238.4h0M70.8 150.4h0M43.2 174.9h0M26.9 152.2h0M49.1 150.1h0M88.8 128.8h0M81.1 97.5h0M24.8 292.0h0M52.2 58.4h0M13.4 130.9h0M75.4 71.5h0M21.0 231.2h0M46.5 230.1h0M81.9 155.2h0M28.6 9.7h0M116.6 231.2h0M71.2 134.2h0M106.1 251.0h0M90.0 196.5h0M64.4 130.0h0M73.1 84.7h0M110.8 217.0h0M65.7 128.6h0M82.7 137.8h0M114.1 203.4h0M44.3 128.6h0M106.5 178.4h0M89.6 191.6h0M116.2 177.8h0M65.6 51.5h0M81.3 135.5h0M65.6 46.1h0M114.9 213.5h0M83.0 82.6h0M78.4 105.7h0M72.3 130.4h0M66.6 57.3h0M104.2 173.4h0M60.5 228.1h0M80.7 117.9h0M119.2 242.3h0M80.4 149.4h0M51.6 128.0h0M91.8 190.7h0M112.5 229.7h0M51.1 238.8h0M89.3 139.9h0M70.9 207.6h0M88.3 159.4h0M118.2 245.1h0M47.2 239.2h0M71.1 68.8h0M42.9 133.0h0M55.7 237.2h0M106.4 178.9h0M82.5 78.0h0M80.8 205.7h0M118.8 214.9h0M98.2 163.5h0M85.0 97.3h0M44.7 243.3h0M63.0 125.0h0M60.8 231.2h0M71.4 144.7h0M57.7 174.0h0M119.6 248.4h0M70.0 129.8h0M76.0 64.6h0M93.0 181.3h0M78.2 63.6h0M109.7 176.4h0M70.0 142.5h0M93.8 144.4h0M71.9 52.5h0M56.3 155.8h0M73.2 135.2h0M110.1 178.2h0M99.1 151.2h0M95.1 172.9h0M84.0 129.6h0" stroke="#000" stroke-width="2.3" stroke-linecap="round"/></g></defs>
<rect width="1650" height="1275" fill="#fff"/>
<g transform="translate(74.5,142.3)">
<g clip-path="url(#clipP)">
<line x1="58.0" y1="0.0" x2="58.0" y2="427.5" class="g"/>
<line x1="115.9" y1="0.0" x2="115.9" y2="427.5" class="g"/>
<line x1="173.9" y1="0.0" x2="173.9" y2="427.5" class="g"/>
<line x1="231.9" y1="0.0" x2="231.9" y2="427.5" class="g"/>
<line x1="289.8" y1="0.0" x2="289.8" y2="427.5" class="g"/>
<line x1="0.0" y1="72.4" x2="347.8" y2="72.4" class="g"/>
<line x1="0.0" y1="144.3" x2="347.8" y2="144.3" class="g"/>
<line x1="0.0" y1="215.7" x2="347.8" y2="215.7" class="g"/>
<line x1="0.0" y1="286.8" x2="347.8" y2="286.8" class="g"/>
<line x1="0.0" y1="357.3" x2="347.8" y2="357.3" class="g"/>
<path d="M214.7 -1.0L211.2 13.4L206.1 44.5L200.9 56.6L195.7 96.3L192.3 130.7L190.5 148.0L188.8 172.2L194.0 192.9L188.8 217.1L168.1 248.1L140.5 275.7L112.9 296.5L99.1 320.6L92.2 337.9L78.3 358.6L57.6 382.7L36.9 403.5L19.7 427.7L15.0 434.0" stroke="#000" stroke-width="1" fill="none"/><text x="0" y="0" font-size="17" fill="#000" transform="translate(71,369) rotate(-58)">-100</text><path fill="#00009f" d="M155.4 50.9L154.4 48.2L156.8 48.5zM155.4 66.6L154.4 63.8L156.9 64.1zM147.8 74.4L146.7 71.7L149.1 71.8zM155.5 82.2L154.2 79.6L156.7 79.5zM155.5 58.8L154.3 56.1L156.7 56.2zM147.5 66.5L146.9 63.7L149.3 64.3zM139.8 74.3L139.3 71.5L141.7 72.1zM170.4 58.7L170.0 55.8L172.4 56.6zM155.2 89.9L154.5 87.1L157.0 87.6zM162.9 50.9L162.1 48.2L164.6 48.6zM140.3 82.1L138.8 79.6L141.3 79.5zM147.6 50.9L146.9 48.1L149.3 48.6zM139.9 66.5L139.2 63.8L141.6 64.2zM162.8 58.7L162.3 55.9L164.7 56.6zM123.6 50.1L125.6 48.0L126.5 50.3zM163.1 82.2L161.9 79.5L164.4 79.6zM148.1 82.1L146.4 79.8L148.8 79.3zM155.3 43.1L154.5 40.3L156.9 40.8zM139.9 89.9L139.2 87.1L141.6 87.6zM131.7 74.1L132.3 71.3L134.3 72.8zM155.3 74.3L154.4 71.6L156.9 71.9zM163.1 74.4L162.0 71.7L164.5 71.8zM148.0 89.9L146.5 87.5L148.9 87.2zM162.5 35.1L162.8 32.3L164.9 33.5zM170.4 35.2L170.1 32.4L172.4 33.2zM162.8 43.1L162.3 40.3L164.7 40.9zM170.7 43.1L169.7 40.5L172.1 40.6zM163.2 66.6L161.9 64.0L164.4 63.9zM131.5 58.2L132.8 55.7L134.3 57.7z"/>
<path fill="#0000bf" d="M147.4 58.7L147.1 55.8L149.4 56.6zM131.4 66.0L132.9 63.5L134.3 65.6zM116.0 42.4L117.9 40.2L118.9 42.4zM170.8 50.9L169.6 48.4L172.0 48.3zM139.4 50.7L140.0 47.9L141.9 49.4zM131.4 50.4L132.9 47.9L134.3 49.9zM147.7 43.1L146.7 40.4L149.2 40.6zM116.0 58.1L117.7 55.7L118.9 57.9zM139.4 58.5L139.9 55.7L141.9 57.1zM116.0 50.1L118.0 48.0L118.8 50.3zM131.4 34.7L133.0 32.3L134.3 34.4zM139.6 35.2L139.6 32.3L141.8 33.4zM163.2 89.9L161.9 87.4L164.3 87.3zM115.9 73.4L118.2 71.6L118.7 74.0zM131.4 42.5L133.0 40.1L134.3 42.2zM170.6 66.5L169.8 63.7L172.3 64.2zM139.3 42.8L140.2 40.0L142.0 41.8zM123.9 34.9L124.9 32.2L126.6 34.0zM147.4 35.2L147.1 32.4L149.4 33.2zM154.9 35.2L155.0 32.3L157.2 33.4zM132.0 82.0L131.9 79.1L134.2 80.2zM123.6 81.3L125.6 79.2L126.5 81.6zM123.7 42.4L125.5 40.1L126.6 42.4zM123.7 58.0L125.5 55.8L126.6 58.0zM170.1 82.0L170.4 79.1L172.5 80.4zM115.9 65.6L118.1 63.7L118.8 66.1zM108.2 88.7L110.8 87.3L110.9 89.8zM154.7 3.7L155.3 0.9L157.3 2.4zM115.9 80.8L118.5 79.6L118.5 82.1zM170.4 89.9L170.0 87.0L172.4 87.8zM170.1 19.4L170.6 16.6L172.6 18.0zM147.0 3.7L147.7 0.9L149.6 2.4zM154.8 19.5L155.1 16.6L157.2 17.8zM108.3 50.1L110.3 48.0L111.2 50.3zM162.1 19.2L163.4 16.6L164.9 18.5zM193.8 11.8L192.5 9.3L195.0 9.2zM162.2 3.6L163.2 0.9L164.9 2.6zM147.1 19.4L147.5 16.6L149.6 18.0zM155.2 97.7L154.6 94.9L157.0 95.5zM123.7 65.8L125.5 63.6L126.5 65.9zM147.0 11.5L147.8 8.7L149.6 10.4zM123.6 73.4L125.8 71.5L126.4 73.9zM170.6 74.3L169.8 71.5L172.3 72.0zM108.4 42.5L109.9 40.1L111.3 42.2zM108.3 80.6L111.0 79.9L110.6 82.3zM116.0 34.6L117.8 32.3L118.9 34.6zM139.7 27.4L139.5 24.5L141.8 25.5zM147.2 27.3L147.4 24.4L149.5 25.6zM186.3 3.9L184.7 1.6L187.1 1.2zM170.0 11.5L170.7 8.7L172.6 10.3zM108.2 73.2L110.7 71.7L110.9 74.2zM124.5 3.9L124.0 1.1L126.4 1.7zM186.1 11.8L184.9 9.2L187.4 9.2zM177.6 81.8L178.4 79.1L180.3 80.7zM131.7 89.7L132.3 86.9L134.3 88.3zM170.1 3.7L170.6 0.9L172.6 2.3zM162.2 27.1L163.3 24.4L164.9 26.2zM131.8 19.5L132.1 16.6L134.2 17.9zM178.7 11.8L177.0 9.5L179.4 9.0zM185.4 74.1L185.9 71.3L187.9 72.8zM178.2 58.7L177.5 55.9L179.9 56.4zM154.7 27.2L155.3 24.4L157.3 25.9zM178.0 50.9L177.8 48.0L180.1 48.8zM192.9 81.8L193.9 79.1L195.6 80.8zM177.6 89.6L178.5 86.8L180.3 88.5zM154.9 11.7L155.0 8.8L157.2 10.0zM193.4 43.1L193.0 40.2L195.4 41.0zM139.5 11.6L139.8 8.8L141.9 10.0zM170.0 27.2L170.7 24.4L172.6 26.0zM115.9 88.4L118.7 87.6L118.3 90.1zM147.9 97.7L146.5 95.2L149.0 95.1z"/>
<path fill="#0000df" d="M162.2 11.4L163.2 8.7L165.0 10.4zM194.0 4.0L192.4 1.5L194.9 1.2zM178.2 19.7L177.5 16.8L180.0 17.3zM185.3 89.7L185.9 86.8L188.0 88.3zM177.8 66.5L178.0 63.5L180.2 64.7zM186.3 19.7L184.7 17.2L187.2 16.8zM178.5 4.0L177.2 1.3L179.7 1.3zM178.3 35.4L177.4 32.4L180.0 32.8zM139.7 4.0L139.3 0.9L141.9 1.8zM131.8 11.7L132.0 8.6L134.4 9.9zM100.5 81.2L102.9 79.2L103.6 81.8zM132.2 27.6L131.6 24.5L134.2 25.1zM185.1 81.8L186.2 78.9L188.1 80.8zM139.6 19.7L139.5 16.5L142.0 17.5zM124.2 11.8L124.3 8.6L126.7 9.9zM177.8 74.3L178.0 71.1L180.4 72.4zM162.7 97.8L162.3 94.6L164.9 95.5zM123.4 88.9L126.0 87.0L126.6 89.7zM123.9 27.3L124.7 24.2L126.9 25.9zM124.1 19.6L124.3 16.4L126.8 17.7zM57.4 319.8L54.5 321.3L54.3 318.5zM139.6 97.8L139.5 94.5L142.1 95.6zM178.2 27.7L177.3 24.4L180.2 24.9zM177.9 43.3L177.7 39.8L180.4 41.0zM132.3 4.2L131.3 0.9L134.2 1.4zM101.4 12.0L100.9 8.6L103.7 9.5zM85.2 34.9L87.0 31.9L88.7 34.3zM116.7 19.9L116.3 16.3L119.2 17.3zM65.2 312.2L62.0 313.7L62.0 310.7zM193.4 35.6L192.7 32.1L195.6 32.8zM57.5 327.6L54.2 328.8L54.5 325.8zM100.6 35.0L102.3 31.8L104.1 34.3zM116.7 12.1L116.2 8.5L119.2 9.5zM201.0 35.6L200.3 32.0L203.4 32.8zM100.3 89.0L103.1 86.7L103.8 89.8zM108.1 34.9L110.1 31.8L111.8 34.4zM77.5 42.7L79.5 39.6L81.1 42.3zM192.7 89.9L193.7 86.3L196.1 88.4zM201.2 43.5L200.2 39.9L203.3 40.4zM116.3 27.6L116.7 23.9L119.5 25.5zM65.3 319.7L62.0 321.7L61.7 318.4zM185.5 35.6L185.2 31.8L188.3 32.9zM192.7 74.4L193.7 70.6L196.2 72.8zM77.4 50.6L79.5 47.3L81.3 50.1zM100.2 73.6L103.0 70.9L104.1 74.1zM73.0 312.1L69.5 314.0L69.3 310.6zM107.9 58.3L110.3 55.1L111.9 58.1zM65.4 327.7L61.6 329.0L62.0 325.6zM57.7 311.9L54.4 314.2L53.8 310.8zM107.7 65.6L111.0 63.2L111.7 66.6zM109.3 12.3L108.0 8.5L111.5 8.9zM185.0 97.9L185.9 93.9L188.6 96.0z"/>
<path fill="#0000ff" d="M50.1 327.8L46.2 328.9L46.7 325.4zM169.7 97.9L170.5 93.9L173.3 96.0zM50.1 320.1L46.2 321.4L46.6 317.8zM177.0 97.7L178.8 93.8L181.1 96.6zM85.1 43.1L86.7 39.2L89.2 41.9zM185.3 51.4L185.3 47.1L188.7 48.7zM77.5 35.4L79.0 31.3L81.6 34.0zM192.6 98.0L193.5 93.7L196.5 96.0zM185.0 66.9L185.7 62.6L188.8 64.7zM103.8 319.8L99.9 321.8L99.9 318.0zM92.7 35.3L94.5 31.3L96.9 34.2zM42.6 327.7L38.4 329.1L38.8 325.4zM185.6 43.8L184.8 39.4L188.5 40.4zM73.2 288.9L69.6 291.5L68.9 287.8zM108.6 28.0L108.7 23.5L112.1 25.2zM116.1 4.4L116.6 -0.1L119.9 1.9zM80.9 297.3L76.5 298.5L77.2 294.6zM131.0 97.8L132.7 93.6L135.4 96.5zM65.6 281.3L61.8 283.9L61.2 280.0zM42.7 319.6L38.7 322.1L38.3 318.1zM73.3 281.3L69.4 283.9L68.9 280.0zM88.7 304.5L84.5 306.6L84.4 302.6zM65.7 304.3L61.8 306.9L61.2 302.9zM92.4 42.9L95.0 39.0L97.1 42.4zM199.9 90.2L201.5 85.7L204.4 88.5zM73.4 304.5L69.1 306.7L69.0 302.6zM100.1 43.1L102.4 38.9L104.9 42.2zM154.7 253.0L154.3 248.2L158.2 249.6zM130.6 236.8L133.3 232.7L135.5 236.2zM92.2 81.7L95.4 78.0L97.1 81.9zM108.4 4.6L108.9 -0.4L112.5 1.8zM50.5 335.5L45.7 336.8L46.4 332.6zM185.5 59.6L184.7 54.7L188.8 55.9zM73.5 319.6L69.2 322.3L68.7 318.0zM65.8 274.0L61.3 276.1L61.3 271.8zM108.7 20.5L108.4 15.4L112.4 17.1zM65.8 289.8L60.9 290.9L61.8 286.7zM96.5 289.6L91.6 291.1L92.2 286.8zM81.2 304.3L76.8 307.0L76.3 302.7zM73.6 274.0L68.8 276.1L69.0 271.7zM88.9 289.5L84.0 291.3L84.4 286.8zM101.0 20.5L100.7 15.3L104.8 17.0z"/>
<path fill="#0020ff" d="M58.3 335.3L53.3 337.1L53.8 332.6zM73.6 296.8L69.0 299.3L68.7 294.8zM107.3 97.1L111.1 93.5L112.5 97.9zM200.5 4.8L200.3 -0.4L204.5 1.4zM88.9 297.2L84.0 299.0L84.4 294.5zM186.3 28.6L183.7 24.0L188.2 23.6zM81.3 281.2L76.9 284.3L76.1 279.8zM58.3 296.7L53.7 299.5L53.3 294.9zM200.1 82.9L200.9 77.5L204.8 80.1zM58.4 281.6L53.5 284.0L53.4 279.3zM100.9 28.5L100.6 23.0L105.0 24.8zM130.1 228.7L134.2 224.9L135.6 229.4zM122.4 236.1L126.9 232.8L127.8 237.5zM43.1 335.3L37.9 337.2L38.3 332.5zM122.5 97.4L126.2 93.2L128.1 97.6zM73.8 327.5L68.7 329.9L68.7 325.1zM96.8 297.0L91.6 299.3L91.7 294.5zM58.5 289.0L53.6 292.0L53.1 287.1zM84.6 51.3L86.9 46.1L90.1 49.9zM122.7 229.3L125.7 224.4L128.4 228.6zM66.1 297.4L60.6 299.0L61.4 294.1zM154.3 245.7L154.4 239.8L158.9 242.0zM91.7 73.9L96.0 69.8L97.5 74.6zM66.2 334.9L61.1 337.8L60.7 332.7zM99.3 97.3L103.6 93.2L105.2 98.0zM81.6 289.2L76.3 291.9L76.1 286.8zM201.5 13.2L198.8 7.9L203.9 7.7zM58.6 304.7L53.1 307.0L53.3 301.9zM51.0 289.3L45.5 291.8L45.6 286.7zM130.5 191.2L132.8 185.7L136.2 189.5zM122.5 190.7L126.0 185.8L128.5 190.4zM99.5 51.1L102.8 46.0L105.6 50.4zM76.5 27.6L79.9 22.5L82.6 27.0zM138.2 229.8L140.3 224.1L144.0 227.9zM145.9 229.9L147.8 224.1L151.6 227.7zM84.0 74.2L88.0 69.5L90.2 74.4zM145.7 222.1L148.2 216.3L151.7 220.4zM216.2 36.8L214.7 30.7L220.0 31.8zM51.1 312.1L45.5 315.0L45.4 309.6zM193.4 52.4L191.5 46.5L196.8 47.2zM114.5 97.3L119.0 93.0L120.7 98.1zM51.1 297.4L45.0 299.2L45.9 293.8zM81.8 274.0L76.0 276.7L76.0 271.2zM83.9 58.5L88.2 53.9L90.2 58.9zM89.4 282.0L83.3 283.9L84.1 278.5zM43.4 305.0L37.4 306.9L38.1 301.5zM223.3 52.3L223.1 45.9L228.1 48.1z"/>
<path fill="#0040ff" d="M211.7 290.6L205.3 290.5L207.7 285.5zM43.5 312.3L37.6 314.9L37.8 309.4zM112.1 321.3L105.6 320.8L108.4 316.0zM122.3 198.6L126.0 193.3L128.8 198.1zM138.3 222.5L139.9 216.2L144.2 219.8zM201.1 29.1L199.1 22.9L204.6 23.6zM208.7 36.9L206.7 30.7L212.2 31.4zM215.5 28.8L215.6 22.3L220.6 24.8zM137.9 199.0L140.6 193.1L144.2 197.3zM223.2 36.7L223.0 30.2L228.2 32.4zM43.5 297.0L37.6 299.7L37.7 294.1zM129.7 244.2L134.4 239.7L136.2 245.0zM192.8 68.1L192.1 61.5L197.5 63.4zM99.1 121.0L103.5 115.9L105.8 121.1zM146.1 238.1L147.2 231.5L151.9 234.8zM51.3 304.5L45.4 307.5L45.1 301.8zM189.1 274.5L182.7 276.3L183.6 270.6zM222.6 44.2L224.0 37.7L228.6 41.2zM98.9 66.0L104.1 61.7L105.5 67.3zM199.1 98.3L202.0 92.3L205.6 96.8zM84.5 28.4L86.5 22.0L90.8 25.9zM129.8 221.7L133.8 216.2L136.6 221.3zM137.4 237.0L141.6 231.6L144.2 236.8zM99.0 113.1L103.6 108.1L105.8 113.5zM216.0 52.6L214.8 45.9L220.4 47.5zM130.0 199.0L133.2 192.9L136.7 197.6zM100.4 5.4L100.7 -1.4L105.9 1.3zM81.9 313.1L75.0 314.1L76.8 308.5zM138.0 214.8L140.2 208.2L144.5 212.3zM206.4 12.0L210.5 6.4L213.2 11.6zM83.6 89.6L88.6 84.9L90.4 90.5zM92.0 28.4L94.3 21.9L98.5 26.0zM153.2 214.7L155.7 208.2L159.8 212.5zM212.0 282.9L205.0 283.1L207.4 277.6zM145.6 191.6L148.0 185.1L152.2 189.4zM214.0 19.9L218.0 14.2L221.0 19.4zM83.5 81.9L88.6 77.0L90.5 82.7zM106.4 112.6L112.0 108.4L113.3 114.3zM230.1 52.1L231.7 45.3L236.4 49.0zM122.1 214.2L125.9 208.3L129.2 213.4zM192.6 60.4L192.1 53.3L197.8 55.6zM130.2 207.1L132.6 200.4L136.9 204.7zM129.6 183.0L134.2 177.6L136.7 183.1zM137.9 207.2L140.2 200.4L144.6 204.6zM98.9 58.7L103.6 53.3L106.1 59.0zM208.8 45.1L206.3 38.3L212.5 38.8zM130.1 214.8L132.7 208.0L137.0 212.5zM122.8 207.4L124.5 200.3L129.3 204.3zM153.8 207.6L154.5 200.4L159.8 203.6zM216.0 60.7L214.5 53.5L220.6 55.0zM193.7 21.6L190.7 15.0L197.0 15.1zM161.5 207.7L162.1 200.4L167.5 203.6zM190.9 105.8L195.1 99.8L198.2 105.3zM106.3 105.1L111.9 100.3L113.6 106.3zM227.5 290.5L220.2 291.0L222.5 285.1zM137.5 191.4L141.0 184.9L144.7 190.0zM162.5 246.6L160.7 239.4L166.9 240.6zM121.9 183.3L126.3 177.3L129.3 182.9zM91.1 89.9L96.2 84.5L98.5 90.4zM145.5 199.5L147.8 192.5L152.4 196.9zM91.0 50.6L96.6 45.7L98.3 51.8zM153.7 107.1L154.6 99.7L160.0 103.0zM162.6 254.3L160.5 247.1L166.9 248.1zM200.7 52.9L199.1 45.6L205.3 47.0zM145.9 215.3L147.1 207.9L152.4 211.5zM219.7 283.4L212.2 282.6L215.6 277.1zM122.2 176.1L125.5 169.3L129.5 174.4zM90.9 105.1L96.7 100.2L98.3 106.4z"/>
<path fill="#0060ff" d="M153.2 191.9L155.4 184.7L160.2 189.1zM199.9 60.5L200.1 52.9L205.9 55.9zM122.4 222.6L125.1 215.5L129.6 220.2zM83.1 65.8L89.4 61.4L90.5 67.9zM98.4 128.1L104.7 123.7L105.8 130.2zM106.2 120.8L111.9 115.6L113.8 121.9zM145.7 106.9L147.4 99.4L152.6 103.6zM90.8 58.2L96.9 53.5L98.3 59.9zM208.4 29.6L206.6 22.1L213.1 23.5zM221.0 3.5L227.0 -1.5L228.7 5.0zM183.4 106.4L186.8 99.4L191.0 104.6zM137.4 106.4L140.8 99.4L145.0 104.6zM204.6 283.3L196.7 283.0L199.9 277.0zM193.8 29.7L190.4 22.7L197.1 22.6zM90.8 66.4L96.5 60.9L98.7 67.3zM152.8 199.5L156.0 192.2L160.4 197.4zM83.4 20.0L88.2 13.7L91.3 19.7zM160.5 199.5L163.6 192.2L168.1 197.3zM208.8 21.9L206.1 14.4L212.8 15.1zM219.7 299.0L211.8 297.6L215.8 292.0zM98.5 105.5L104.0 99.7L106.5 106.1zM136.8 167.5L142.4 161.8L144.7 168.2zM91.4 20.6L94.9 13.4L99.2 18.8zM144.4 159.8L150.0 154.0L152.5 160.5zM136.8 244.7L142.3 238.7L144.9 245.1zM168.3 106.9L170.7 99.2L175.8 103.8zM160.6 215.2L163.1 207.5L168.2 212.3zM220.3 290.5L212.2 291.4L214.4 284.8zM145.2 207.4L148.0 199.7L152.9 204.7zM161.0 107.2L162.5 99.1L168.2 103.3zM215.2 45.2L215.1 37.0L221.5 39.9zM227.6 298.8L219.5 298.1L223.0 292.0zM222.6 60.7L223.2 52.5L229.4 56.0zM144.7 175.9L149.1 169.0L152.9 175.0zM105.4 290.6L97.1 291.3L99.6 284.7zM97.6 321.4L89.3 321.5L92.3 315.0zM230.1 45.0L231.0 36.8L237.1 40.5zM212.0 299.3L203.9 297.3L208.4 291.8zM145.9 246.6L146.6 238.2L152.8 241.8zM213.1 11.3L219.8 6.2L221.2 13.3zM136.7 183.2L142.2 176.9L145.1 183.5zM113.7 144.4L119.4 138.3L122.0 145.0zM153.0 230.8L155.2 222.7L160.7 227.3zM113.7 105.8L119.2 99.3L122.1 105.9zM202.2 22.1L197.2 15.3L204.3 13.9zM136.4 174.7L143.3 169.7L144.6 176.8zM121.2 152.0L127.3 146.1L129.7 152.9zM207.6 92.2L207.3 83.7L214.0 86.6zM145.9 254.3L146.5 245.8L152.9 249.4zM90.7 98.1L96.1 91.5L99.3 98.1zM114.1 160.8L118.1 153.3L122.5 159.2zM106.2 144.9L111.1 137.9L114.7 144.3zM175.1 106.2L179.9 99.1L183.7 105.4zM121.0 104.8L128.1 99.9L129.3 107.2zM136.8 152.6L141.8 145.6L145.4 152.1zM90.5 11.6L96.9 5.9L99.0 13.0zM144.3 183.4L149.7 176.7L152.9 183.3zM153.8 239.1L153.9 230.5L160.6 233.8zM82.5 321.3L73.9 321.8L76.7 314.9zM229.9 60.7L231.2 52.1L237.4 56.3zM213.3 4.5L218.5 -2.5L222.0 4.1z"/>
<path fill="#0080ff" d="M223.1 76.8L222.3 68.1L229.3 70.6zM228.8 36.2L233.2 28.7L237.5 34.9zM104.6 299.8L96.4 296.7L101.8 291.5zM97.5 306.9L88.8 305.4L93.1 299.2zM207.1 99.8L207.9 91.1L214.4 95.0zM98.2 282.1L89.8 285.0L90.6 277.4zM205.0 291.1L196.1 290.8L199.7 284.1zM207.8 53.5L206.8 44.6L214.1 47.1zM105.7 128.9L112.0 122.5L114.6 129.8zM120.1 322.6L111.6 319.8L116.9 314.3zM223.1 84.7L222.1 75.8L229.4 78.3zM220.4 11.3L227.6 5.9L229.2 13.5zM120.9 167.3L127.8 161.4L129.8 168.9zM151.7 175.6L157.7 168.8L160.8 175.9zM128.5 143.8L135.8 138.4L137.3 146.1zM120.8 127.0L129.4 124.1L128.5 131.9zM113.8 153.2L118.2 145.2L122.8 151.5zM113.1 127.0L121.8 124.1L120.8 131.9zM153.0 223.5L154.9 214.5L161.1 219.4zM190.3 281.3L182.3 285.9L181.7 278.1zM205.0 299.2L195.8 298.0L200.1 291.4zM90.7 274.1L82.2 277.8L82.5 269.9zM151.6 160.1L157.8 153.2L160.9 160.6zM205.7 5.0L210.3 -3.0L214.8 3.6zM227.9 2.5L236.4 -1.2L236.2 6.8zM221.5 29.2L224.5 20.4L230.2 25.9zM159.9 184.4L163.8 175.9L169.0 182.0zM113.0 112.2L121.2 107.7L121.7 115.7zM136.2 159.8L142.9 153.3L145.5 161.0zM144.0 152.7L149.8 145.2L153.4 152.4zM105.3 135.9L113.1 130.6L114.3 138.6zM159.4 175.9L165.1 168.4L168.8 175.6zM228.5 282.9L219.2 284.3L221.5 276.5zM120.6 135.8L128.6 130.7L129.6 138.7zM235.5 34.4L243.7 29.6L244.4 37.7zM160.1 192.4L163.4 183.5L169.1 189.3zM128.5 105.6L135.2 98.9L137.9 106.6zM128.3 167.2L135.7 161.3L137.6 169.2zM167.0 183.7L172.7 176.0L176.6 183.3zM207.9 85.0L206.4 75.5L214.3 77.8zM113.1 329.9L103.6 328.4L108.3 321.6zM120.7 159.6L128.0 153.4L130.1 161.4zM128.5 175.6L135.0 168.5L138.1 176.2zM119.6 315.8L111.3 310.9L118.2 306.3zM128.2 127.7L136.7 123.2L137.1 131.4zM182.2 183.5L188.3 176.1L191.8 183.6zM112.9 136.0L120.8 130.4L122.2 138.6zM89.4 315.5L80.5 311.6L86.8 306.2zM90.0 3.8L97.4 -2.5L99.5 5.6zM120.5 120.4L128.5 114.9L129.9 123.1zM152.3 184.7L155.7 175.6L161.6 181.6zM105.4 284.2L95.8 282.4L100.8 275.7zM159.0 167.7L166.0 160.8L168.7 168.8zM151.3 152.0L158.5 145.5L160.9 153.5zM213.1 275.9L203.3 275.8L207.0 268.3zM275.2 30.6L284.1 34.7L277.7 40.1zM215.8 69.6L213.7 60.0L221.9 61.9z"/>
<path fill="#009fff" d="M214.7 92.6L215.1 82.7L222.6 86.6zM198.8 76.7L200.6 66.9L207.5 71.9zM143.7 167.9L150.4 160.6L153.6 168.5zM128.1 113.0L135.9 106.8L137.9 115.1zM221.1 275.4L211.1 276.7L213.8 268.5zM208.1 61.9L206.0 52.0L214.3 54.0zM120.3 111.9L129.5 107.7L129.3 116.4zM229.3 68.9L231.4 59.0L238.4 64.2zM223.1 69.7L221.5 59.6L229.9 62.1zM214.6 77.1L215.1 66.9L222.8 71.1zM206.9 77.1L207.4 66.9L215.2 71.1zM127.9 120.6L136.3 114.6L137.9 123.3zM181.8 175.8L188.6 168.0L192.2 176.2zM112.6 120.8L120.8 114.4L122.8 123.0zM219.8 19.0L228.4 13.3L229.7 22.1zM174.6 161.2L179.7 152.1L184.9 159.4zM166.5 191.4L173.2 183.3L177.0 191.4zM231.7 173.3L230.4 174.1L229.2 172.2L224.5 178.9L232.5 177.3L231.3 175.4L232.5 174.6zM240.5 57.3L240.2 55.9L242.4 55.4L237.8 48.7L236.5 56.7L238.6 56.2L239.0 57.6zM193.4 173.3L192.1 174.1L190.9 172.2L186.1 178.7L194.1 177.3L192.9 175.4L194.2 174.6zM170.6 157.7L169.1 158.2L168.4 156.1L162.2 161.3L170.3 161.8L169.6 159.7L171.1 159.3zM162.9 111.2L161.4 111.7L160.7 109.6L154.5 114.7L162.6 115.3L161.9 113.2L163.4 112.7zM200.7 64.9L200.0 66.3L198.0 65.3L197.2 73.4L203.4 68.1L201.4 67.1L202.2 65.6zM132.3 150.0L130.7 150.4L130.2 148.2L123.6 153.0L131.7 154.1L131.1 151.9L132.7 151.5zM132.4 157.7L130.8 158.0L130.4 155.8L123.5 160.1L131.4 161.8L131.1 159.6L132.7 159.3zM178.0 181.0L176.7 182.0L175.4 180.1L170.9 186.9L178.9 185.1L177.6 183.3L178.9 182.3zM70.8 335.7L72.1 336.7L70.8 338.5L78.7 340.4L74.3 333.6L73.0 335.4L71.7 334.4zM239.2 181.1L238.0 182.1L236.5 180.5L232.8 187.7L240.5 185.0L239.0 183.4L240.3 182.3zM231.4 72.6L230.5 74.0L228.7 72.7L226.9 80.7L233.7 76.1L231.8 74.9L232.8 73.5zM240.4 49.1L239.3 47.8L241.1 46.5L234.0 42.4L236.4 50.2L238.1 48.8L239.1 50.1zM201.0 157.9L199.6 158.9L198.3 157.2L194.2 164.3L202.0 161.9L200.6 160.2L201.9 159.1zM193.3 289.9L194.6 291.0L193.2 292.7L201.0 295.1L197.0 288.0L195.6 289.7L194.3 288.7zM193.6 282.4L195.3 282.8L194.9 284.9L202.9 283.4L196.1 279.0L195.6 281.2L193.9 280.8zM239.7 1.9L237.9 2.1L237.7 -0.1L230.5 3.7L238.4 5.9L238.1 3.7L239.8 3.5zM232.1 9.7L230.4 9.7L230.4 7.4L222.8 10.2L230.2 13.5L230.3 11.3L232.1 11.3zM155.2 165.5L153.6 166.2L152.7 164.2L147.0 170.0L155.1 169.7L154.2 167.7L155.8 167.0zM247.3 1.9L245.5 2.1L245.3 -0.1L238.1 3.7L246.0 5.9L245.7 3.7L247.5 3.5zM239.7 41.0L237.9 41.1L237.9 38.8L230.4 42.0L238.0 44.9L238.0 42.7L239.8 42.6zM139.9 119.0L138.2 119.6L137.5 117.5L131.2 122.7L139.4 123.2L138.7 121.1L140.4 120.5zM178.1 165.5L176.4 166.4L175.4 164.5L170.2 170.7L178.3 169.8L177.2 167.8L178.9 166.9zM108.9 289.8L110.1 291.2L108.4 292.7L115.6 296.5L113.1 288.8L111.3 290.2L110.1 288.8zM124.7 142.2L122.8 142.7L122.3 140.5L115.6 145.1L123.7 146.4L123.2 144.2L125.0 143.8z"/>
<path fill="#00bfff" d="M231.9 25.4L230.0 26.0L229.4 23.8L223.0 28.9L231.1 29.6L230.4 27.5L232.3 26.9zM193.5 181.0L191.7 181.7L190.8 179.7L185.1 185.5L193.2 185.2L192.3 183.2L194.1 182.4zM239.6 9.7L237.7 10.1L237.2 7.9L230.4 12.3L238.4 13.9L238.0 11.7L239.9 11.3zM255.8 41.5L254.9 39.7L256.9 38.7L250.8 33.3L251.5 41.4L253.5 40.4L254.4 42.2zM170.6 165.5L168.6 166.1L168.0 164.0L161.7 169.2L169.8 169.7L169.1 167.6L171.1 167.0zM86.2 9.8L84.4 10.8L83.3 8.9L78.2 15.2L86.3 14.1L85.2 12.2L86.9 11.2zM163.0 142.2L161.0 142.7L160.4 140.6L153.8 145.4L161.9 146.4L161.4 144.3L163.3 143.8zM147.5 111.2L145.6 112.1L144.7 110.0L139.0 115.9L147.2 115.6L146.3 113.5L148.2 112.7zM208.3 65.1L207.8 67.0L205.7 66.5L206.7 74.6L211.5 68.0L209.4 67.4L209.9 65.5zM248.2 57.4L248.2 55.4L250.4 55.4L247.3 47.8L244.4 55.4L246.6 55.4L246.6 57.5zM247.9 33.4L246.4 32.1L247.8 30.4L240.1 27.7L243.9 35.0L245.3 33.3L246.9 34.6zM278.8 25.9L278.0 24.0L280.1 23.1L274.4 17.3L274.5 25.4L276.5 24.6L277.3 26.5zM216.0 80.7L215.6 82.8L213.4 82.4L215.2 90.4L219.4 83.4L217.2 83.0L217.6 81.0zM255.5 9.8L253.7 8.8L254.8 6.8L246.8 5.6L251.7 12.1L252.9 10.1L254.7 11.2zM86.3 1.9L84.3 2.4L83.7 0.3L77.1 5.2L85.2 6.2L84.7 4.0L86.8 3.4zM248.2 65.0L247.6 63.0L249.7 62.3L244.6 55.9L243.9 64.1L246.0 63.4L246.6 65.5zM186.0 150.0L183.9 150.2L183.6 148.0L176.4 151.8L184.3 154.0L184.0 151.8L186.2 151.6zM278.7 41.4L277.5 39.6L279.3 38.3L272.6 33.7L274.3 41.7L276.2 40.5L277.4 42.3zM270.6 274.7L272.7 274.1L273.4 276.2L279.7 271.0L271.6 270.4L272.2 272.5L270.1 273.2zM286.4 49.3L285.5 47.3L287.5 46.3L281.4 40.8L282.0 49.0L284.0 48.0L285.0 50.0zM286.4 57.0L285.1 55.2L286.9 53.9L280.1 49.4L281.9 57.3L283.8 56.1L285.1 57.9zM247.7 25.4L245.6 24.7L246.3 22.6L238.1 22.8L244.3 28.3L245.0 26.2L247.1 26.9zM286.3 41.3L284.9 39.6L286.7 38.2L279.6 34.1L281.9 41.9L283.7 40.6L285.1 42.3zM239.6 165.5L237.4 166.0L236.8 163.9L230.2 168.7L238.3 169.7L237.7 167.6L239.9 167.0zM231.8 165.5L229.7 166.5L228.7 164.4L223.1 170.4L231.3 169.9L230.4 167.9L232.4 167.0zM154.7 258.5L154.4 260.8L152.2 260.5L154.1 268.4L158.2 261.4L156.0 261.0L156.3 258.8zM271.2 49.4L270.6 47.2L272.8 46.7L267.9 40.1L266.9 48.2L269.0 47.6L269.6 49.8zM270.9 25.6L269.2 24.1L270.7 22.4L263.0 19.6L266.7 26.9L268.1 25.3L269.9 26.8zM185.8 157.8L183.7 158.7L182.8 156.6L177.0 162.4L185.2 162.2L184.3 160.2L186.4 159.2zM239.9 17.6L237.6 17.1L238.0 14.9L230.0 16.4L236.8 20.9L237.3 18.7L239.6 19.1zM78.6 17.6L76.4 18.5L75.5 16.5L69.6 22.2L77.8 22.1L77.0 20.0L79.2 19.1zM185.7 188.7L183.6 189.9L182.5 187.9L177.4 194.3L185.5 193.2L184.4 191.3L186.5 190.1zM239.8 25.4L237.4 25.1L237.7 22.9L229.8 25.1L237.0 28.9L237.2 26.7L239.7 27.0zM216.3 181.0L214.3 182.5L213.0 180.7L208.7 187.7L216.6 185.6L215.3 183.8L217.2 182.3zM263.2 2.1L261.4 0.5L262.8 -1.2L255.0 -3.8L258.9 3.4L260.3 1.7L262.2 3.3zM247.3 150.0L244.8 150.4L244.4 148.2L237.5 152.6L245.5 154.2L245.1 152.0L247.6 151.5zM263.5 57.3L263.0 54.9L265.2 54.4L260.5 47.6L259.2 55.7L261.4 55.2L261.9 57.6zM232.1 290.1L234.6 290.0L234.7 292.2L242.2 288.8L234.4 286.1L234.5 288.4L232.1 288.5zM278.8 49.3L277.6 47.1L279.6 46.0L273.3 40.7L274.2 48.9L276.2 47.8L277.3 50.0zM270.9 9.9L268.8 8.4L270.2 6.6L262.2 4.5L266.6 11.5L267.9 9.7L269.9 11.2zM240.4 64.9L239.2 62.7L241.2 61.6L234.8 56.4L235.9 64.5L237.8 63.4L239.1 65.7zM208.5 165.7L206.7 167.4L205.2 165.9L201.9 173.4L209.4 170.2L207.9 168.6L209.7 166.8zM286.3 33.5L284.6 31.5L286.3 30.0L279.1 26.2L281.7 34.0L283.4 32.5L285.1 34.5zM162.9 157.7L160.4 158.5L159.7 156.4L153.4 161.6L161.5 162.2L160.9 160.1L163.4 159.3zM178.0 173.3L175.9 174.9L174.5 173.1L170.2 180.0L178.1 178.0L176.8 176.2L178.9 174.6zM247.1 157.8L244.6 158.9L243.7 156.9L238.1 162.8L246.3 162.4L245.3 160.4L247.7 159.2zM239.5 173.2L236.9 174.0L236.2 171.9L229.9 177.2L238.1 177.7L237.4 175.6L240.0 174.7zM247.0 173.3L244.7 174.8L243.5 172.9L238.8 179.7L246.9 178.0L245.6 176.1L247.9 174.6zM170.8 126.7L168.0 126.8L167.9 124.6L160.5 128.1L168.3 130.7L168.1 128.4L170.9 128.3zM147.6 119.0L145.0 119.8L144.3 117.7L138.0 122.9L146.2 123.5L145.5 121.3L148.1 120.5zM139.5 250.6L138.2 253.0L136.2 252.0L135.4 260.2L141.6 254.8L139.6 253.8L140.9 251.3zM239.5 157.7L236.9 158.5L236.3 156.3L229.8 161.3L238.0 162.2L237.3 160.0L240.0 159.3zM201.0 103.5L198.8 105.1L197.5 103.3L193.0 110.2L201.0 108.3L199.7 106.4L201.9 104.9zM155.2 142.2L152.6 143.1L151.9 140.9L145.6 146.2L153.8 146.8L153.1 144.6L155.7 143.8zM140.1 111.2L137.3 111.5L137.1 109.2L129.8 113.0L137.7 115.3L137.5 113.0L140.2 112.8zM93.9 274.7L96.6 275.7L95.9 277.8L104.1 277.4L97.9 272.0L97.1 274.2L94.5 273.2zM185.8 165.5L183.2 166.7L182.3 164.6L176.6 170.5L184.8 170.2L183.9 168.1L186.5 167.0zM224.1 165.5L221.5 166.7L220.6 164.7L214.9 170.6L223.1 170.2L222.2 168.2L224.8 167.0zM178.2 111.2L175.5 112.0L174.8 109.9L168.4 115.0L176.6 115.7L176.0 113.6L178.7 112.7z"/>
<path fill="#00dfff" d="M208.6 181.1L206.5 183.1L204.9 181.5L201.6 189.0L209.2 185.9L207.6 184.3L209.7 182.3zM247.5 17.6L244.6 17.3L244.8 15.0L236.9 17.4L244.3 21.1L244.5 18.9L247.3 19.1zM232.0 17.6L229.1 18.0L228.7 15.8L221.7 19.9L229.7 21.8L229.3 19.6L232.2 19.1zM278.4 1.9L275.6 0.8L276.5 -1.3L268.3 -1.3L274.2 4.4L275.0 2.3L277.7 3.4zM262.9 282.4L265.8 281.9L266.2 284.1L273.1 279.6L265.0 278.1L265.5 280.3L262.6 280.8zM208.6 173.3L206.3 175.0L204.9 173.2L200.5 180.2L208.5 178.2L207.2 176.3L209.6 174.6zM162.4 219.9L161.3 222.7L159.2 221.8L159.1 230.0L164.9 224.1L162.8 223.3L163.9 220.5zM271.2 57.4L270.8 54.4L273.1 54.2L269.2 46.9L267.0 54.9L269.3 54.6L269.6 57.5zM224.1 157.8L221.4 158.9L220.5 156.8L214.6 162.4L222.8 162.4L222.0 160.3L224.7 159.2zM263.1 25.4L260.3 24.2L261.2 22.2L253.0 21.9L258.8 27.8L259.7 25.7L262.4 26.9zM216.4 165.5L213.8 167.0L212.7 165.1L207.6 171.6L215.7 170.4L214.6 168.4L217.2 166.9zM286.3 25.7L284.5 23.3L286.3 21.9L279.1 17.8L281.5 25.7L283.2 24.3L285.1 26.7zM248.1 41.4L246.6 38.8L248.6 37.7L242.2 32.5L243.3 40.7L245.2 39.6L246.7 42.2zM201.0 165.6L198.5 167.3L197.2 165.5L192.7 172.4L200.7 170.5L199.4 168.6L201.9 166.9zM208.8 103.5L206.0 104.8L205.0 102.8L199.5 108.9L207.7 108.3L206.7 106.3L209.5 104.9zM170.6 150.0L167.6 150.7L167.1 148.5L160.4 153.2L168.5 154.4L168.0 152.2L171.0 151.5zM247.4 9.7L244.3 9.7L244.3 7.5L236.7 10.6L244.3 13.6L244.3 11.3L247.4 11.3zM223.8 181.2L221.8 183.5L220.1 182.1L217.5 189.9L224.8 186.0L223.1 184.6L225.0 182.2zM108.8 297.3L110.1 300.1L108.0 301.0L113.9 306.7L113.6 298.5L111.5 299.4L110.3 296.6zM247.7 290.0L250.6 288.9L251.4 291.0L257.4 285.3L249.1 285.3L250.0 287.4L247.1 288.5zM263.5 41.6L262.6 38.6L264.8 38.0L259.7 31.5L258.9 39.7L261.1 39.1L262.0 42.1zM271.1 41.5L269.8 38.7L271.8 37.7L265.7 32.1L266.3 40.3L268.3 39.3L269.7 42.2zM116.4 304.8L117.1 307.8L114.9 308.3L119.6 315.1L120.9 307.0L118.7 307.5L118.0 304.4zM247.3 165.4L244.2 166.0L243.8 163.8L236.8 168.2L244.9 169.8L244.5 167.6L247.6 167.0zM193.5 150.0L190.5 151.0L189.8 148.9L183.6 154.3L191.8 154.7L191.1 152.5L194.1 151.5zM186.1 267.1L189.3 267.1L189.3 269.3L196.9 266.2L189.3 263.2L189.3 265.5L186.1 265.5zM271.1 33.6L269.4 30.9L271.3 29.7L264.6 24.9L266.1 33.0L268.0 31.8L269.7 34.4zM170.6 134.5L167.5 135.3L167.0 133.1L160.3 137.9L168.5 139.0L167.9 136.8L171.0 136.0zM193.2 297.5L195.6 299.7L194.0 301.3L201.7 304.3L198.2 296.9L196.7 298.5L194.3 296.3zM170.3 196.5L167.9 198.6L166.4 196.8L162.5 204.1L170.4 201.5L168.9 199.8L171.3 197.7zM224.0 173.3L221.2 174.8L220.2 172.8L214.9 179.1L223.1 178.2L222.0 176.2L224.8 174.7zM263.1 274.7L266.0 273.3L266.9 275.4L272.6 269.4L264.3 269.9L265.3 271.9L262.4 273.2zM255.6 33.4L253.3 31.2L254.9 29.6L247.2 26.5L250.6 34.0L252.2 32.4L254.5 34.6zM101.1 312.1L100.5 315.2L98.3 314.8L99.9 322.9L104.3 315.9L102.1 315.5L102.7 312.4zM270.6 282.4L273.7 281.5L274.3 283.7L280.9 278.7L272.7 277.8L273.3 280.0L270.2 280.9zM170.8 118.9L167.5 119.1L167.4 116.9L159.9 120.3L167.7 123.0L167.6 120.7L170.9 120.5zM93.4 312.3L93.9 315.6L91.7 315.9L95.8 323.0L97.7 315.0L95.5 315.3L95.0 312.1zM278.6 17.7L276.1 15.6L277.6 13.9L269.8 11.2L273.6 18.5L275.0 16.8L277.5 19.0zM163.1 126.7L159.8 127.1L159.5 124.8L152.3 128.8L160.2 130.9L160.0 128.7L163.2 128.3zM270.7 1.9L267.6 0.8L268.4 -1.3L260.1 -1.1L266.2 4.4L267.0 2.3L270.1 3.4zM286.3 2.2L284.2 -0.4L285.9 -1.8L278.7 -5.8L281.2 2.1L283.0 0.6L285.1 3.2zM139.9 142.3L136.8 143.4L136.0 141.2L129.8 146.7L138.1 147.0L137.3 144.9L140.4 143.8zM170.6 173.2L167.4 174.3L166.7 172.1L160.4 177.5L168.6 177.9L167.9 175.8L171.1 174.7zM139.9 126.7L136.8 127.9L136.0 125.7L129.8 131.2L138.1 131.5L137.3 129.4L140.4 128.3zM286.3 17.8L284.1 15.3L285.9 13.8L278.6 10.0L281.2 17.8L282.9 16.3L285.1 18.9zM193.5 165.5L190.4 166.6L189.6 164.5L183.4 169.9L191.7 170.2L190.9 168.1L194.1 167.0zM147.6 142.2L144.4 143.3L143.7 141.1L137.3 146.4L145.6 147.0L144.9 144.8L148.1 143.8zM108.8 312.5L110.2 315.6L108.1 316.5L114.0 322.3L113.7 314.0L111.6 315.0L110.3 311.9zM231.8 157.7L228.7 158.9L227.9 156.8L221.7 162.3L230.0 162.5L229.2 160.4L232.4 159.2zM178.1 188.7L175.1 190.2L174.1 188.2L168.6 194.4L176.8 193.7L175.8 191.6L178.8 190.1zM178.4 134.5L175.1 134.6L175.0 132.3L167.4 135.7L175.2 138.5L175.1 136.2L178.5 136.1zM263.5 49.6L263.3 46.2L265.5 46.0L261.9 38.6L259.4 46.5L261.7 46.3L261.9 49.7zM208.6 188.8L205.9 190.7L204.5 188.9L200.1 195.9L208.1 193.9L206.8 192.0L209.6 190.1zM278.2 274.8L281.6 274.0L282.1 276.2L288.9 271.5L280.7 270.2L281.2 272.4L277.9 273.2zM263.0 267.1L266.2 265.7L267.1 267.8L273.0 262.0L264.7 262.2L265.6 264.2L262.4 265.6zM116.5 327.8L118.0 331.0L115.9 331.9L122.0 337.5L121.5 329.3L119.4 330.3L117.9 327.1zM79.0 9.7L75.5 9.2L75.8 7.0L67.8 9.0L75.0 13.1L75.3 10.8L78.8 11.3zM71.1 9.7L67.6 10.2L67.3 7.9L60.1 11.9L68.1 14.0L67.8 11.8L71.3 11.3zM278.3 259.4L281.7 258.4L282.3 260.5L288.8 255.4L280.5 254.7L281.2 256.8L277.8 257.9zM224.4 150.0L220.9 150.2L220.7 147.9L213.3 151.5L221.1 154.1L221.0 151.8L224.5 151.6zM247.5 274.8L251.0 274.4L251.3 276.7L258.6 272.8L250.6 270.6L250.9 272.8L247.3 273.2zM170.8 142.2L167.2 142.3L167.2 140.0L159.6 143.3L167.3 146.2L167.3 143.9L170.8 143.8zM85.9 320.3L88.1 323.1L86.3 324.5L93.5 328.7L91.2 320.8L89.4 322.1L87.2 319.4zM255.9 57.3L255.2 53.8L257.4 53.3L252.9 46.4L251.4 54.6L253.6 54.1L254.3 57.6zM255.9 65.2L255.5 61.6L257.7 61.3L253.8 54.0L251.6 62.0L253.9 61.8L254.3 65.4zM132.3 134.5L128.8 135.6L128.1 133.5L121.8 138.8L130.0 139.3L129.3 137.2L132.8 136.0zM263.2 17.7L260.5 15.4L261.9 13.6L254.1 11.0L258.0 18.3L259.4 16.6L262.2 19.0zM193.7 274.8L197.3 275.3L197.0 277.5L205.0 275.6L197.9 271.5L197.5 273.7L193.9 273.2zM101.1 304.5L100.7 308.2L98.5 308.0L100.9 315.9L104.6 308.5L102.3 308.3L102.7 304.6zM201.4 111.2L197.7 111.6L197.4 109.4L190.2 113.3L198.1 115.5L197.9 113.2L201.5 112.8zM193.5 157.7L190.0 159.0L189.3 156.8L183.0 162.2L191.3 162.6L190.6 160.5L194.1 159.3zM263.3 33.4L260.6 30.8L262.2 29.2L254.6 26.1L257.9 33.6L259.5 32.0L262.2 34.6zM170.7 111.2L167.0 111.5L166.9 109.2L159.5 112.9L167.4 115.4L167.2 113.1L170.9 112.8zM201.6 267.1L205.2 266.6L205.5 268.9L212.7 264.8L204.7 262.8L205.0 265.0L201.3 265.5zM254.8 150.0L251.3 151.5L250.4 149.4L244.5 155.2L252.8 155.0L251.9 153.0L255.4 151.5zM155.3 119.0L151.6 119.7L151.2 117.5L144.2 122.0L152.4 123.5L151.9 121.3L155.6 120.5zM240.4 72.6L238.4 69.4L240.4 68.2L233.7 63.3L235.1 71.4L237.1 70.2L239.1 73.5z"/>
<path fill="#00ffff" d="M255.2 1.9L251.4 1.5L251.6 -0.8L243.6 1.5L251.0 5.3L251.2 3.1L255.0 3.5zM208.7 157.8L205.4 159.8L204.3 157.8L199.2 164.4L207.4 163.1L206.3 161.1L209.5 159.2zM139.9 134.5L136.3 135.7L135.6 133.5L129.2 138.8L137.5 139.4L136.8 137.2L140.4 136.0zM162.8 150.0L159.4 151.8L158.3 149.7L152.9 155.9L161.1 155.2L160.1 153.2L163.5 151.5zM248.2 49.5L247.7 45.7L250.0 45.4L246.0 38.2L243.9 46.2L246.1 45.9L246.6 49.7zM263.5 65.3L263.6 61.4L265.9 61.5L263.1 53.7L259.8 61.3L262.0 61.4L261.9 65.2zM86.2 267.0L89.6 268.8L88.5 270.8L96.8 271.7L91.4 265.4L90.3 267.4L86.9 265.6zM186.0 111.2L182.2 111.6L181.9 109.4L174.6 113.3L182.6 115.5L182.4 113.2L186.2 112.8zM186.3 134.5L182.5 133.7L182.9 131.5L174.8 133.0L181.7 137.5L182.2 135.3L186.0 136.0zM216.1 173.5L213.7 176.5L212.0 175.1L209.6 183.0L216.8 178.9L215.0 177.5L217.4 174.5zM193.8 142.2L189.9 142.4L189.8 140.1L182.2 143.5L190.0 146.3L189.9 144.0L193.8 143.8zM224.3 274.8L228.2 275.5L227.8 277.7L235.9 276.0L228.8 271.6L228.4 273.9L224.6 273.2zM178.6 118.9L174.7 118.4L175.0 116.1L166.9 118.1L174.1 122.2L174.4 120.0L178.4 120.5zM278.2 267.1L282.1 266.5L282.4 268.8L289.6 264.6L281.5 262.7L281.8 264.9L277.9 265.5zM286.4 10.0L284.0 6.8L285.8 5.5L278.8 1.1L280.9 9.1L282.7 7.8L285.1 11.0zM163.1 134.5L159.1 134.7L158.9 132.4L151.5 136.0L159.3 138.6L159.2 136.3L163.2 136.1zM232.2 282.4L236.2 281.9L236.5 284.2L243.8 280.2L235.7 278.1L236.0 280.4L232.0 280.8zM178.4 142.2L174.4 142.6L174.1 140.3L166.8 144.1L174.7 146.5L174.5 144.2L178.5 143.8zM178.3 150.0L174.3 150.9L173.8 148.6L167.0 153.3L175.2 154.6L174.7 152.4L178.6 151.5zM263.0 290.0L266.8 288.4L267.7 290.5L273.6 284.7L265.3 284.9L266.2 287.0L262.4 288.5zM231.5 181.1L228.5 183.9L227.0 182.2L223.4 189.7L231.2 186.7L229.6 185.1L232.6 182.3zM248.2 72.9L247.6 68.9L249.8 68.5L245.6 61.4L243.7 69.5L246.0 69.1L246.6 73.2zM231.4 189.0L229.2 192.5L227.3 191.3L225.8 199.4L232.5 194.5L230.6 193.3L232.8 189.8zM155.3 111.2L151.3 112.3L150.7 110.1L144.1 115.2L152.4 116.1L151.7 113.9L155.7 112.7zM209.3 267.1L213.3 265.9L214.0 268.0L220.5 262.8L212.2 262.1L212.8 264.3L208.9 265.5zM194.0 267.1L198.0 266.1L198.6 268.3L205.3 263.4L197.1 262.3L197.6 264.5L193.6 265.5zM116.5 335.4L118.2 339.2L116.1 340.2L122.2 345.9L121.7 337.6L119.7 338.5L117.9 334.8zM78.7 1.9L74.6 2.7L74.2 0.4L67.2 4.9L75.4 6.5L74.9 4.2L79.0 3.5zM231.7 80.2L228.1 82.4L226.9 80.4L222.0 87.1L230.1 85.7L228.9 83.7L232.5 81.5zM255.3 274.7L259.3 273.6L260.0 275.8L266.5 270.7L258.3 269.9L258.9 272.1L254.9 273.2zM255.9 49.6L255.8 45.4L258.1 45.4L254.9 37.7L251.9 45.5L254.2 45.4L254.3 49.7zM201.0 173.3L197.5 175.7L196.2 173.8L191.6 180.7L199.7 178.9L198.4 177.0L201.9 174.6zM216.8 267.1L221.0 267.1L221.0 269.4L228.8 266.4L221.1 263.2L221.1 265.5L216.8 265.5zM147.7 126.7L143.5 127.5L143.1 125.2L136.0 129.6L144.2 131.3L143.7 129.1L148.0 128.3zM255.3 290.0L259.4 288.5L260.2 290.7L266.4 285.1L258.0 284.9L258.8 287.0L254.8 288.5zM193.3 188.8L190.0 191.6L188.5 189.9L184.6 197.2L192.5 194.6L191.0 192.8L194.3 190.0zM216.3 95.8L212.9 98.4L211.5 96.6L207.2 103.8L215.2 101.5L213.8 99.7L217.3 97.1zM108.7 335.2L109.2 339.5L106.9 339.7L110.8 347.1L113.1 339.1L110.8 339.3L110.3 335.0zM255.3 282.4L259.5 281.2L260.1 283.4L266.7 278.3L258.4 277.5L259.1 279.7L254.8 280.9zM255.4 25.4L251.3 23.8L252.1 21.6L243.8 21.6L249.8 27.4L250.7 25.2L254.8 26.9zM246.9 181.1L243.4 183.9L242.0 182.1L237.9 189.4L245.9 186.9L244.4 185.1L247.9 182.3zM263.0 9.8L258.8 8.2L259.6 6.1L251.2 6.3L257.4 11.9L258.2 9.7L262.5 11.3zM208.9 150.0L204.5 151.0L204.0 148.8L197.2 153.5L205.4 154.8L204.9 152.6L209.3 151.5zM201.4 134.5L196.9 134.7L196.7 132.4L189.2 136.0L197.1 138.6L197.0 136.3L201.5 136.1zM278.4 9.8L274.5 7.6L275.6 5.6L267.4 4.4L272.6 10.9L273.7 8.9L277.7 11.2zM232.2 259.4L236.7 258.7L237.1 261.0L244.2 256.6L236.1 254.8L236.5 257.1L232.0 257.9zM71.2 1.9L66.7 1.8L66.7 -0.5L58.9 2.5L66.6 5.7L66.6 3.4L71.2 3.5zM269.6 181.4L268.3 185.8L266.1 185.2L266.8 193.5L272.0 187.0L269.8 186.3L271.2 181.9zM209.2 142.2L204.6 141.6L204.9 139.3L196.9 141.4L204.1 145.5L204.4 143.2L209.0 143.8zM247.5 267.1L252.1 266.7L252.3 269.0L259.8 265.2L251.8 262.8L252.0 265.1L247.3 265.5zM170.3 204.2L166.8 207.4L165.3 205.7L161.6 213.2L169.4 210.3L167.9 208.6L171.3 205.4zM270.7 17.6L266.5 15.6L267.5 13.5L259.1 13.0L264.8 19.1L265.8 17.0L270.0 19.1zM101.2 327.9L103.6 331.9L101.6 333.1L108.2 338.2L106.9 330.0L105.0 331.1L102.6 327.1zM108.7 304.4L108.0 309.1L105.7 308.7L107.5 316.9L111.8 309.7L109.5 309.4L110.3 304.7zM270.6 259.4L275.1 258.0L275.8 260.2L282.3 254.9L274.0 254.3L274.7 256.5L270.2 257.9zM163.1 118.9L158.4 119.1L158.3 116.8L150.7 120.2L158.5 123.0L158.4 120.7L163.2 120.5zM201.6 126.7L197.0 125.7L197.5 123.4L189.3 124.8L196.2 129.5L196.6 127.3L201.3 128.3z"/>
<path fill="#20ffdf" d="M255.5 17.7L251.3 15.2L252.5 13.2L244.3 11.9L249.3 18.5L250.5 16.6L254.7 19.0zM239.6 150.0L234.9 150.8L234.5 148.5L227.3 152.8L235.5 154.6L235.1 152.3L239.9 151.5zM201.6 119.0L196.8 118.1L197.2 115.9L189.0 117.6L196.2 122.0L196.5 119.7L201.3 120.5zM201.5 259.4L206.3 259.2L206.5 261.5L214.0 257.9L206.1 255.3L206.2 257.6L201.4 257.8zM232.2 150.0L227.3 149.6L227.5 147.3L219.5 149.8L227.0 153.5L227.2 151.2L232.0 151.6zM147.8 134.5L143.0 134.5L142.9 132.2L135.2 135.5L143.0 138.4L143.0 136.1L147.8 136.1zM155.3 126.7L150.6 128.1L150.0 125.9L143.4 131.1L151.7 131.9L151.1 129.6L155.7 128.3zM201.0 181.0L197.0 183.7L195.7 181.8L190.9 188.7L199.1 187.0L197.8 185.0L201.9 182.4zM201.0 188.8L197.0 191.6L195.7 189.7L191.1 196.7L199.3 194.8L197.9 192.9L201.9 190.1zM201.1 150.0L196.6 152.1L195.7 150.0L189.9 156.0L198.2 155.6L197.3 153.5L201.8 151.5zM232.2 274.8L237.1 274.0L237.5 276.3L244.6 272.0L236.5 270.1L236.8 272.4L232.0 273.2zM147.1 258.3L145.3 263.0L143.1 262.1L143.1 270.5L148.9 264.4L146.7 263.5L148.6 258.9zM216.4 188.7L212.1 191.2L210.9 189.2L205.8 195.9L214.1 194.6L212.9 192.6L217.2 190.1zM270.8 267.0L275.1 264.6L276.2 266.6L281.5 260.0L273.2 261.2L274.3 263.2L270.0 265.6zM254.6 165.6L250.5 168.3L249.2 166.4L244.4 173.2L252.6 171.6L251.3 169.6L255.5 166.9zM262.8 259.4L267.8 258.7L268.1 261.0L275.3 256.8L267.2 254.9L267.5 257.1L262.6 257.9zM201.5 142.2L196.5 141.8L196.7 139.5L188.7 142.0L196.2 145.7L196.4 143.4L201.4 143.8zM247.5 282.4L252.5 282.1L252.6 284.4L260.2 280.8L252.2 278.2L252.4 280.5L247.4 280.8zM155.4 134.5L150.4 134.9L150.2 132.6L142.7 136.4L150.7 138.8L150.5 136.5L155.6 136.1zM201.6 274.8L206.6 273.6L207.2 275.8L214.0 271.0L205.7 269.8L206.3 272.0L201.3 273.2zM232.3 267.1L237.3 265.6L238.0 267.8L244.5 262.6L236.2 261.9L236.9 264.1L231.9 265.5zM262.7 251.8L268.0 251.8L267.9 254.1L275.8 251.1L268.0 247.9L268.0 250.2L262.7 250.2zM239.8 274.8L245.1 274.2L245.3 276.5L252.7 272.6L244.7 270.3L244.9 272.6L239.7 273.2zM278.2 142.2L272.9 141.4L273.2 139.1L265.0 141.1L272.3 145.3L272.6 143.0L277.9 143.8zM278.8 57.1L276.2 52.3L278.2 51.2L271.8 45.8L272.7 54.2L274.8 53.1L277.3 57.8zM193.7 126.7L188.3 127.1L188.2 124.8L180.6 128.4L188.6 131.0L188.4 128.7L193.8 128.3zM116.4 297.0L117.2 302.4L114.9 302.8L119.1 310.0L121.1 301.9L118.8 302.2L118.0 296.8zM186.3 142.2L180.8 141.4L181.2 139.1L173.0 141.0L180.2 145.3L180.6 143.0L186.0 143.8zM193.8 111.2L188.3 111.2L188.2 108.9L180.5 112.1L188.3 115.1L188.3 112.8L193.8 112.8zM224.6 267.1L230.0 265.6L230.6 267.9L237.3 262.8L229.0 261.8L229.6 264.1L224.2 265.5zM254.9 157.7L249.5 159.2L248.9 157.0L242.2 162.1L250.5 163.0L249.9 160.8L255.3 159.3zM178.5 126.7L172.9 126.5L172.9 124.2L165.0 127.1L172.7 130.5L172.8 128.1L178.4 128.3z"/>
<path fill="#40ffbf" d="M193.8 118.9L188.1 118.6L188.3 116.3L180.3 119.0L187.9 122.5L188.1 120.2L193.7 120.5zM186.1 118.9L180.4 118.9L180.4 116.6L172.6 119.7L180.4 122.8L180.4 120.5L186.1 120.5zM216.4 157.8L211.3 160.2L210.3 158.1L204.5 164.3L212.9 163.8L212.0 161.7L217.1 159.2zM223.9 188.8L219.8 192.8L218.2 191.2L214.8 198.9L222.5 195.6L220.9 194.0L225.0 190.0zM278.1 244.1L283.9 243.5L284.1 245.8L291.6 241.9L283.5 239.6L283.7 241.9L278.0 242.5zM178.6 267.1L184.3 266.5L184.6 268.8L192.0 264.9L183.9 262.6L184.2 264.9L178.4 265.5zM239.9 290.1L245.6 288.7L246.2 291.0L253.1 286.2L244.7 284.9L245.3 287.2L239.6 288.5zM246.8 188.9L243.0 193.5L241.2 192.0L238.7 200.1L246.1 196.0L244.3 194.5L248.0 189.9zM78.2 327.8L80.7 333.2L78.6 334.2L84.7 340.0L84.3 331.6L82.1 332.5L79.6 327.1zM255.2 267.1L261.1 265.8L261.6 268.1L268.6 263.4L260.3 262.0L260.8 264.3L254.9 265.5zM255.2 259.4L261.2 258.5L261.5 260.9L268.8 256.6L260.6 254.7L260.9 257.0L255.0 257.9zM139.4 258.5L138.4 264.5L136.1 264.1L137.9 272.3L142.3 265.1L140.0 264.7L141.0 258.8zM186.0 126.7L180.0 127.9L179.6 125.7L172.5 130.3L180.8 131.8L180.3 129.5L186.3 128.3zM239.8 282.4L245.9 282.1L246.0 284.4L253.7 280.9L245.7 278.2L245.8 280.5L239.7 280.8zM262.9 244.1L268.8 242.7L269.4 245.0L276.3 240.2L268.0 238.9L268.5 241.2L262.6 242.5zM278.2 134.5L272.1 133.7L272.4 131.3L264.2 133.4L271.6 137.6L271.9 135.2L277.9 136.1zM247.7 259.4L253.5 257.5L254.2 259.7L260.7 254.3L252.3 253.7L253.0 256.0L247.2 257.9zM223.8 88.1L219.8 92.9L218.0 91.4L215.3 99.4L222.8 95.4L221.0 93.9L225.0 89.2zM240.5 80.5L237.5 74.9L239.6 73.8L233.1 68.3L234.0 76.7L236.1 75.6L239.0 81.2zM269.6 189.4L269.2 195.7L266.9 195.6L269.6 203.6L273.2 195.9L270.8 195.8L271.2 189.4zM261.9 189.4L261.6 195.7L259.3 195.6L262.1 203.6L265.6 195.9L263.2 195.8L263.5 189.4zM101.1 335.0L100.7 341.4L98.3 341.3L101.0 349.3L104.6 341.7L102.3 341.5L102.7 335.1zM239.9 244.1L246.2 242.9L246.7 245.2L253.8 240.8L245.5 239.1L246.0 241.4L239.6 242.5zM239.8 267.1L246.3 266.5L246.5 268.8L254.0 265.0L245.9 262.6L246.1 264.9L239.7 265.5zM193.6 134.5L187.1 135.8L186.7 133.5L179.6 138.2L187.9 139.7L187.5 137.4L194.0 136.0z"/>
<path fill="#60ff9f" d="M239.8 251.8L246.4 251.0L246.7 253.3L254.2 249.2L246.0 247.1L246.2 249.4L239.7 250.2zM239.1 188.9L235.2 194.4L233.3 193.0L231.3 201.3L238.4 196.7L236.5 195.3L240.4 189.9zM254.3 173.7L252.1 180.1L249.9 179.3L250.3 187.8L255.9 181.3L253.6 180.6L255.8 174.2zM131.7 251.0L132.2 257.8L129.9 258.0L133.6 265.6L136.1 257.5L133.8 257.7L133.3 250.9zM162.4 235.7L163.2 242.5L160.9 242.8L164.9 250.2L167.1 242.0L164.8 242.3L163.9 235.5zM170.1 212.2L167.3 218.4L165.1 217.5L164.8 225.9L170.9 220.0L168.7 219.1L171.5 212.9zM286.5 65.1L284.7 58.4L287.0 57.8L282.0 51.0L280.9 59.4L283.2 58.8L284.9 65.5zM271.2 65.1L269.8 58.4L272.1 57.9L267.5 50.8L266.0 59.2L268.3 58.7L269.6 65.4zM178.1 196.4L172.1 199.7L171.0 197.7L165.6 204.3L174.0 203.2L172.9 201.1L178.9 197.8zM240.1 259.4L246.3 256.4L247.3 258.6L253.1 252.4L244.6 252.9L245.6 255.0L239.4 257.9zM232.3 251.7L238.9 249.6L239.6 251.8L246.1 246.4L237.6 245.8L238.4 248.1L231.8 250.2zM270.5 251.8L277.3 251.1L277.5 253.5L285.1 249.6L277.0 247.2L277.2 249.6L270.3 250.2zM216.6 150.0L209.7 151.5L209.2 149.2L202.1 154.0L210.5 155.4L210.0 153.1L216.9 151.5zM216.8 259.4L223.9 259.1L224.0 261.5L231.8 258.0L223.7 255.2L223.8 257.5L216.7 257.8zM93.4 334.9L91.6 341.9L89.3 341.3L90.3 349.7L95.4 342.9L93.1 342.3L95.0 335.3zM255.9 72.9L254.6 65.8L256.9 65.4L252.4 58.2L250.7 66.5L253.0 66.1L254.3 73.2zM278.2 251.8L285.4 250.7L285.7 253.0L293.1 248.8L284.8 246.8L285.2 249.1L277.9 250.2zM262.0 181.4L259.2 188.2L257.0 187.3L256.9 195.8L262.9 189.7L260.7 188.8L263.5 182.0zM239.7 236.4L247.2 236.7L247.1 239.0L255.1 236.1L247.3 232.7L247.2 235.1L239.8 234.8zM93.6 266.8L98.0 272.8L96.2 274.2L103.4 278.6L101.2 270.4L99.3 271.8L94.8 265.8zM271.2 73.1L271.5 65.6L273.9 65.7L271.1 57.7L267.6 65.5L269.9 65.6L269.6 73.0zM216.6 142.2L209.2 143.5L208.8 141.1L201.5 145.5L209.9 147.4L209.5 145.0L216.9 143.8z"/>
<path fill="#80ff80" d="M185.3 289.1L183.7 296.5L181.4 296.0L182.7 304.4L187.5 297.4L185.2 296.9L186.9 289.5zM108.8 282.0L112.1 288.8L110.0 289.9L116.3 295.6L115.7 287.1L113.5 288.1L110.3 281.3zM247.4 251.8L255.2 251.9L255.2 254.3L263.2 251.3L255.3 247.9L255.3 250.3L247.4 250.2zM101.3 274.6L107.0 280.0L105.3 281.7L113.2 285.0L109.7 277.2L108.1 278.9L102.4 273.4zM209.3 259.4L216.9 257.1L217.6 259.4L224.3 254.1L215.8 253.3L216.5 255.6L208.9 257.9zM162.4 228.0L163.2 236.0L160.8 236.2L164.9 243.8L167.2 235.5L164.8 235.8L163.9 227.8zM85.8 327.3L84.4 335.3L82.1 334.9L83.9 343.3L88.4 335.9L86.0 335.5L87.3 327.6zM262.5 228.7L270.1 231.2L269.4 233.5L277.9 233.0L271.4 227.5L270.6 229.7L263.0 227.2zM277.9 236.4L286.0 237.4L285.7 239.8L294.0 237.6L286.5 233.5L286.2 235.8L278.2 234.8zM232.7 88.2L227.9 81.6L229.8 80.2L222.5 75.7L224.7 84.0L226.6 82.5L231.4 89.1zM278.8 73.1L279.4 65.0L281.8 65.1L279.1 57.0L275.4 64.7L277.8 64.9L277.3 73.0zM261.9 197.2L263.3 205.4L260.9 205.8L265.3 213.1L267.2 204.8L264.8 205.1L263.5 197.0zM262.6 236.4L270.8 237.5L270.5 239.8L278.9 237.7L271.4 233.5L271.1 235.9L262.8 234.8zM209.2 134.5L200.8 133.9L201.0 131.5L192.8 134.1L200.6 137.9L200.7 135.5L209.1 136.1zM254.4 181.3L250.0 188.3L247.9 187.1L246.4 195.5L253.3 190.5L251.3 189.2L255.7 182.1zM194.0 259.4L202.1 257.2L202.7 259.5L209.6 254.3L201.0 253.4L201.7 255.7L193.6 257.9zM247.6 244.1L255.8 242.2L256.3 244.5L263.4 239.6L254.9 238.3L255.4 240.6L247.2 242.5zM224.8 259.4L232.4 255.7L233.4 257.9L239.3 251.6L230.7 252.1L231.7 254.3L224.1 257.9zM209.3 126.7L201.1 124.7L201.6 122.4L193.1 123.5L200.1 128.6L200.7 126.2L208.9 128.3z"/>
<path fill="#9fff60" d="M193.6 196.3L185.3 198.6L184.7 196.3L177.8 201.5L186.4 202.4L185.8 200.1L194.0 197.9zM270.4 244.1L279.0 244.1L279.0 246.5L287.0 243.4L279.0 240.1L279.0 242.5L270.4 242.5zM247.4 228.7L256.0 229.1L255.9 231.5L264.0 228.7L256.2 225.1L256.1 227.5L247.4 227.1zM231.9 197.9L240.3 200.0L239.7 202.3L248.3 201.2L241.3 196.1L240.7 198.5L232.3 196.3zM116.5 282.1L121.5 289.2L119.5 290.6L126.7 295.3L124.8 286.9L122.8 288.3L117.8 281.2zM254.8 228.7L262.9 231.8L262.0 234.1L270.6 234.0L264.3 228.1L263.5 230.3L255.4 227.2zM93.4 327.3L91.9 335.9L89.5 335.5L91.3 343.9L95.8 336.6L93.5 336.2L95.0 327.6zM239.4 197.8L247.3 201.5L246.3 203.7L254.9 204.2L249.0 197.9L248.0 200.1L240.1 196.4zM277.9 228.7L286.4 230.6L285.9 233.0L294.4 231.6L287.3 226.7L286.8 229.0L278.2 227.1zM232.3 236.4L240.8 234.3L241.4 236.7L248.4 231.7L239.9 230.4L240.4 232.8L231.9 234.8zM247.4 236.4L256.2 236.3L256.3 238.7L264.2 235.4L256.2 232.3L256.2 234.7L247.4 234.8zM270.4 236.4L279.3 236.4L279.2 238.8L287.3 235.7L279.3 232.4L279.3 234.8L270.4 234.8zM116.4 342.7L116.8 351.7L114.4 351.8L118.0 359.7L120.8 351.5L118.4 351.6L118.0 342.7zM255.9 88.5L254.8 79.7L257.2 79.4L253.1 71.8L250.8 80.1L253.2 79.9L254.3 88.7zM262.0 173.7L259.2 182.3L256.9 181.5L257.5 190.1L263.0 183.5L260.7 182.7L263.5 174.2zM255.2 244.1L264.2 242.5L264.6 244.9L271.9 240.4L263.5 238.6L263.9 240.9L254.9 242.5zM201.2 197.9L210.0 200.5L209.3 202.8L217.9 202.0L211.1 196.6L210.4 198.9L201.7 196.4zM116.4 350.1L113.4 358.7L111.1 357.9L111.4 366.5L117.2 360.0L114.9 359.2L117.9 350.6zM247.1 197.9L255.5 201.5L254.6 203.7L263.2 203.9L257.1 197.8L256.1 200.0L247.7 196.4zM278.8 65.2L278.5 56.0L280.9 55.9L277.4 48.0L274.5 56.1L276.9 56.0L277.3 65.3zM101.1 266.6L104.7 275.2L102.5 276.1L108.6 282.2L108.4 273.6L106.2 274.5L102.6 266.0zM116.4 274.2L119.1 283.1L116.8 283.8L122.1 290.6L122.9 282.0L120.6 282.7L118.0 273.7zM232.3 244.1L241.3 241.9L241.9 244.3L249.0 239.3L240.4 238.0L241.0 240.4L231.9 242.5zM255.9 96.6L257.4 87.4L259.8 87.8L257.9 79.3L253.4 86.7L255.8 87.1L254.3 96.3zM224.2 197.9L233.1 200.6L232.4 203.0L241.0 202.3L234.3 196.8L233.6 199.1L224.7 196.4zM116.4 289.5L118.9 298.5L116.6 299.1L121.9 306.0L122.8 297.4L120.5 298.0L118.0 289.1zM216.2 197.7L223.0 204.2L221.3 205.9L229.4 209.1L225.8 201.2L224.1 203.0L217.3 196.5zM254.4 197.5L259.0 205.7L256.9 206.9L263.7 212.3L262.5 203.7L260.4 204.9L255.8 196.7zM254.3 189.2L252.3 198.4L250.0 197.9L251.4 206.5L256.2 199.3L253.9 198.8L255.9 189.6zM185.7 196.5L178.0 201.9L176.6 199.9L171.9 207.2L180.3 205.2L178.9 203.2L186.6 197.8zM208.7 197.8L217.0 202.4L215.8 204.5L224.5 205.5L218.9 198.8L217.8 201.0L209.5 196.4z"/>
<path fill="#bfff40" d="M255.3 251.7L264.3 248.6L265.1 250.9L271.7 245.2L263.0 244.8L263.8 247.1L254.8 250.2zM248.2 80.9L248.7 71.2L251.1 71.3L248.2 63.1L244.6 71.0L247.1 71.1L246.6 80.8zM263.5 73.1L263.8 63.3L266.2 63.3L263.2 55.2L259.8 63.2L262.2 63.2L261.9 73.0zM254.9 236.4L264.3 239.0L263.6 241.4L272.3 240.5L265.4 235.2L264.7 237.5L255.3 234.8zM78.1 334.9L75.9 344.5L73.5 344.0L74.9 352.6L79.8 345.4L77.5 344.9L79.7 335.3zM271.2 80.8L270.3 70.9L272.7 70.7L268.7 63.0L266.3 71.3L268.7 71.1L269.6 80.9zM254.9 221.0L264.4 223.6L263.8 225.9L272.4 224.9L265.5 219.7L264.8 222.0L255.3 219.5zM162.5 259.0L167.3 267.6L165.2 268.8L172.0 274.3L170.8 265.7L168.7 266.9L163.8 258.2zM247.4 213.3L257.4 213.4L257.4 215.8L265.5 212.6L257.4 209.4L257.4 211.8L247.4 211.7zM247.5 205.6L257.5 205.0L257.6 207.4L265.5 203.7L257.2 201.0L257.4 203.4L247.4 204.0zM270.2 228.7L280.2 230.6L279.8 233.0L288.3 231.3L281.0 226.6L280.5 229.0L270.5 227.1zM224.5 221.0L234.6 220.0L234.9 222.4L242.6 218.3L234.2 215.9L234.5 218.4L224.3 219.4zM270.3 221.0L280.5 221.6L280.4 224.1L288.7 221.3L280.8 217.6L280.6 220.0L270.4 219.4zM239.8 213.3L250.0 212.4L250.2 214.8L258.0 210.9L249.7 208.4L249.9 210.8L239.7 211.7zM108.7 342.7L108.2 353.0L105.8 352.9L108.6 361.1L112.3 353.2L109.8 353.1L110.3 342.8z"/>
<path fill="#dfff20" d="M239.7 221.0L250.1 221.7L250.0 224.1L258.3 221.4L250.4 217.6L250.2 220.1L239.8 219.4zM209.6 111.3L201.1 105.2L202.5 103.2L194.0 101.1L198.7 108.5L200.1 106.5L208.6 112.6zM277.3 181.8L279.4 192.1L277.0 192.6L281.8 199.9L283.4 191.3L281.0 191.8L278.8 181.5zM278.8 150.6L277.2 140.2L279.7 139.8L275.2 132.3L273.2 140.8L275.7 140.4L277.3 150.9zM271.2 88.8L273.1 78.4L275.5 78.8L273.8 70.2L269.1 77.6L271.5 78.1L269.6 88.5zM186.5 259.4L196.2 254.9L197.2 257.1L203.3 250.8L194.5 251.2L195.5 253.4L185.8 257.9zM93.5 342.4L89.1 352.4L86.9 351.4L86.6 360.2L92.8 354.0L90.6 353.0L94.9 343.0zM270.2 213.3L280.6 216.5L279.9 218.8L288.7 218.0L281.8 212.6L281.1 214.9L270.6 211.8zM85.8 342.5L82.3 352.8L79.9 352.0L80.4 360.8L86.1 354.1L83.8 353.3L87.3 343.0zM232.2 213.3L243.2 211.9L243.5 214.4L251.2 210.1L242.7 207.9L243.0 210.3L232.0 211.7zM170.3 296.3L161.7 303.2L160.1 301.3L155.8 308.9L164.2 306.4L162.6 304.5L171.3 297.6zM248.2 88.6L247.1 77.5L249.5 77.3L245.4 69.5L243.0 78.0L245.5 77.7L246.6 88.7zM209.3 119.0L198.6 115.9L199.3 113.5L190.6 114.4L197.5 119.8L198.2 117.5L208.9 120.5zM116.5 266.6L121.0 276.9L118.8 277.9L125.1 284.0L124.8 275.2L122.5 276.2L117.9 266.0zM108.8 266.6L113.4 276.9L111.2 277.9L117.5 284.0L117.1 275.2L114.9 276.2L110.3 266.0z"/>
<path fill="#ffff00" d="M177.7 204.6L174.2 215.3L171.8 214.6L172.3 223.4L178.0 216.6L175.7 215.8L179.2 205.1zM108.9 274.4L115.3 283.8L113.3 285.2L120.6 290.0L118.7 281.4L116.7 282.9L110.2 273.5zM262.3 205.5L272.3 211.0L271.1 213.2L279.9 214.2L274.3 207.4L273.1 209.6L263.1 204.1zM255.9 80.8L255.0 69.3L257.4 69.1L253.5 61.3L250.9 69.7L253.4 69.5L254.3 80.9zM85.8 334.7L80.5 345.0L78.3 343.9L77.5 352.7L84.1 346.9L81.9 345.8L87.3 335.5zM232.1 221.0L243.7 220.7L243.8 223.2L251.9 219.7L243.6 216.6L243.7 219.1L232.1 219.4zM277.3 189.8L283.0 200.0L280.8 201.2L287.6 206.8L286.5 198.0L284.4 199.2L278.8 189.0zM277.8 221.0L289.2 224.0L288.6 226.4L297.4 225.3L290.3 220.1L289.6 222.5L278.3 219.5zM262.6 221.0L274.3 222.5L274.0 225.0L282.6 222.8L274.8 218.5L274.5 220.9L262.8 219.4zM269.6 173.9L268.0 185.6L265.5 185.3L267.7 193.8L272.0 186.1L269.6 185.8L271.2 174.1zM78.2 349.9L72.5 360.4L70.3 359.2L69.3 367.9L76.1 362.3L73.9 361.1L79.6 350.7zM254.9 213.3L266.5 216.0L265.9 218.5L274.7 217.1L267.4 212.1L266.9 214.5L255.3 211.8zM263.5 150.6L261.6 138.8L264.1 138.4L259.6 130.8L257.6 139.4L260.1 139.0L261.9 150.9zM263.5 80.8L263.1 68.8L265.6 68.8L262.0 60.7L259.0 69.0L261.5 68.9L261.9 80.9zM263.5 88.7L265.0 76.8L267.4 77.1L265.2 68.6L260.9 76.3L263.4 76.6L261.9 88.5zM240.5 88.5L238.1 76.6L240.6 76.2L235.7 68.7L234.1 77.5L236.6 77.0L239.0 88.8zM224.4 213.3L236.6 213.8L236.5 216.3L244.8 213.4L236.7 209.8L236.6 212.2L224.5 211.7zM270.1 205.6L281.4 210.0L280.5 212.3L289.4 212.3L282.9 206.2L282.0 208.5L270.7 204.1z"/>
<path fill="#ffdf00" d="M217.0 205.6L228.8 202.0L229.5 204.3L236.4 198.8L227.5 198.0L228.3 200.4L216.5 204.1zM286.5 73.1L287.6 60.9L290.1 61.1L287.5 52.6L283.5 60.5L286.0 60.7L284.9 73.0zM254.8 205.6L266.3 209.9L265.5 212.2L274.3 212.0L267.8 206.0L266.9 208.4L255.3 204.1zM101.2 342.3L94.2 352.4L92.2 351.0L90.3 359.7L97.6 354.7L95.6 353.3L102.5 343.2zM277.8 213.3L289.7 216.5L289.1 218.9L297.9 217.8L290.8 212.5L290.2 214.9L278.3 211.8zM247.4 221.0L259.7 221.3L259.7 223.8L268.0 220.7L259.8 217.2L259.8 219.7L247.4 219.4zM101.2 349.9L95.2 360.7L93.0 359.5L91.9 368.3L98.8 362.7L96.6 361.5L102.6 350.7zM224.9 95.8L214.8 88.6L216.3 86.6L207.6 84.5L212.4 92.0L213.9 89.9L224.0 97.1zM232.1 205.6L244.5 205.3L244.6 207.8L252.7 204.3L244.4 201.2L244.4 203.7L232.1 204.0zM262.7 213.3L275.0 214.1L274.9 216.6L283.3 213.8L275.3 210.0L275.1 212.5L262.8 211.7zM108.8 350.1L104.5 361.8L102.2 360.9L102.5 369.8L108.4 363.2L106.0 362.3L110.3 350.6zM239.7 228.7L252.3 229.0L252.2 231.5L260.6 228.4L252.4 224.9L252.3 227.4L239.8 227.1zM85.9 349.9L79.7 360.9L77.5 359.7L76.4 368.5L83.3 362.9L81.1 361.7L87.2 350.7zM224.7 244.1L236.8 240.3L237.6 242.7L244.5 237.0L235.6 236.3L236.4 238.7L224.2 242.5zM277.5 197.7L286.1 207.0L284.3 208.7L292.3 212.6L289.2 204.3L287.3 206.0L278.6 196.6zM224.7 251.7L236.9 248.1L237.6 250.5L244.6 245.0L235.7 244.2L236.5 246.6L224.2 250.2zM217.3 213.1L227.0 204.8L228.7 206.7L232.8 198.8L224.4 201.7L226.0 203.6L216.2 211.9zM224.5 205.6L237.4 204.8L237.5 207.3L245.6 203.5L237.1 200.7L237.3 203.2L224.4 204.0zM217.5 104.0L214.2 91.4L216.6 90.7L211.3 83.6L210.2 92.4L212.7 91.8L216.0 104.4zM269.7 197.5L276.2 208.9L274.0 210.2L280.9 215.7L279.7 206.9L277.6 208.1L271.1 196.7zM240.5 96.2L237.1 83.5L239.6 82.9L234.2 75.7L233.2 84.6L235.6 83.9L239.0 96.6z"/>
<path fill="#ffbf00" d="M162.7 296.3L152.2 304.5L150.6 302.6L146.1 310.3L154.7 307.8L153.1 305.8L163.6 297.6zM278.7 120.2L286.5 109.4L288.6 110.9L290.7 102.2L283.2 107.0L285.2 108.4L277.4 119.3zM239.8 205.6L253.2 205.4L253.2 207.9L261.4 204.4L253.1 201.3L253.1 203.8L239.7 204.0zM277.9 205.6L291.1 208.3L290.6 210.7L299.3 209.1L291.9 204.2L291.4 206.7L278.2 204.0zM286.5 88.8L289.2 75.6L291.6 76.1L290.0 67.3L285.1 74.8L287.6 75.3L284.9 88.5zM263.5 96.3L262.2 82.8L264.7 82.6L260.6 74.6L258.1 83.2L260.6 82.9L261.9 96.5zM93.5 349.9L86.8 361.9L84.6 360.6L83.4 369.5L90.4 363.9L88.2 362.7L94.9 350.7zM177.9 296.4L168.3 306.2L166.5 304.4L163.0 312.7L171.2 309.1L169.4 307.3L179.0 297.5zM255.7 111.4L246.6 101.1L248.6 99.4L240.6 95.3L243.5 103.8L245.4 102.1L254.5 112.5zM171.0 267.1L184.5 264.0L185.0 266.4L192.4 261.3L183.5 259.9L184.1 262.4L170.6 265.5zM93.6 357.4L84.6 368.3L82.7 366.7L79.9 375.2L87.8 370.9L85.9 369.3L94.8 358.4zM255.9 104.2L256.0 90.1L258.5 90.1L255.3 81.7L251.9 90.0L254.4 90.1L254.3 104.2z"/>
<path fill="#ff9f00" d="M186.7 205.4L196.4 195.1L198.3 196.8L201.6 188.5L193.4 192.2L195.3 194.0L185.5 204.3zM217.4 220.7L226.4 209.7L228.4 211.4L231.1 202.8L223.2 207.1L225.2 208.7L216.2 219.7zM217.6 135.4L219.5 121.2L222.0 121.5L219.8 112.8L215.4 120.7L217.9 121.0L216.0 135.2zM225.2 119.9L227.9 105.7L230.4 106.2L228.7 97.4L223.8 104.9L226.3 105.4L223.6 119.6zM271.2 150.8L271.2 136.3L273.7 136.3L270.4 127.9L267.0 136.3L269.6 136.3L269.6 150.8zM232.3 228.7L246.5 225.3L247.1 227.8L254.5 222.5L245.6 221.2L246.2 223.7L231.9 227.1zM170.8 244.1L185.5 243.6L185.6 246.2L193.9 242.5L185.4 239.5L185.5 242.0L170.8 242.5zM201.9 205.5L213.5 196.3L215.1 198.3L219.6 190.4L210.9 193.0L212.5 195.0L201.0 204.2zM248.2 103.9L243.1 90.0L245.5 89.1L239.4 82.4L239.2 91.4L241.6 90.6L246.7 104.5zM201.8 220.9L214.8 213.7L216.0 215.9L221.7 208.8L212.7 210.0L214.0 212.3L201.1 219.5zM286.4 112.4L294.8 100.0L296.9 101.4L298.8 92.5L291.3 97.6L293.5 99.1L285.0 111.5z"/>
<path fill="#ff8000" d="M225.2 111.9L223.9 96.6L226.4 96.4L222.3 88.3L219.7 97.0L222.3 96.8L223.6 112.0zM224.8 236.3L238.2 228.8L239.4 231.0L245.1 224.0L236.1 225.2L237.4 227.4L224.0 234.9zM271.2 96.6L274.7 81.6L277.2 82.2L275.8 73.3L270.6 80.7L273.1 81.3L269.6 96.2zM248.2 96.3L246.8 81.0L249.3 80.8L245.2 72.7L242.6 81.4L245.2 81.2L246.6 96.5zM278.8 88.6L278.3 73.2L280.8 73.1L277.1 64.8L274.1 73.4L276.7 73.3L277.3 88.7zM271.2 143.2L274.6 128.1L277.1 128.6L275.6 119.7L270.5 127.2L273.0 127.7L269.6 142.8zM278.8 81.0L281.1 65.5L283.7 65.9L281.6 57.0L277.0 64.9L279.6 65.3L277.3 80.7zM209.4 205.6L224.4 200.2L225.2 202.7L232.0 196.6L222.9 196.3L223.8 198.7L208.8 204.1zM225.2 135.6L231.9 121.1L234.2 122.2L234.7 113.1L228.1 119.4L230.4 120.4L223.7 134.9zM217.3 236.2L229.6 226.1L231.3 228.1L235.7 220.1L227.0 222.9L228.6 224.9L216.3 235.0z"/>
<path fill="#ff6000" d="M232.8 96.0L225.1 82.0L227.3 80.7L220.3 74.9L221.4 84.0L223.7 82.8L231.4 96.8zM109.0 372.6L97.5 383.9L95.7 382.0L92.1 390.4L100.5 386.8L98.7 385.0L110.1 373.7zM139.4 266.3L139.4 282.5L136.8 282.5L140.3 291.0L143.6 282.5L141.0 282.5L141.0 266.3zM194.2 205.5L208.5 197.9L209.7 200.2L215.6 193.2L206.5 194.2L207.8 196.5L193.4 204.1zM93.5 372.8L86.7 387.6L84.4 386.5L83.9 395.6L90.5 389.3L88.2 388.2L94.9 373.5zM286.5 80.8L285.1 64.3L287.7 64.1L283.5 55.9L280.9 64.7L283.5 64.5L284.9 80.9zM171.3 259.3L184.5 249.3L186.1 251.4L190.9 243.5L182.0 245.9L183.6 248.0L170.3 258.0zM85.8 357.7L80.1 373.3L77.6 372.4L77.9 381.5L84.0 374.7L81.6 373.8L87.3 358.2zM186.6 236.2L199.8 225.9L201.4 227.9L206.0 220.0L197.2 222.6L198.8 224.6L185.6 235.0zM286.5 96.5L288.8 79.9L291.4 80.3L289.1 71.4L284.6 79.3L287.2 79.7L284.9 96.3zM171.0 221.0L187.5 217.2L188.1 219.8L195.6 214.5L186.5 213.1L187.1 215.7L170.6 219.4zM101.2 357.5L91.6 371.4L89.4 369.9L87.4 378.9L95.0 373.8L92.9 372.3L102.5 358.4z"/>
<path fill="#ff4000" d="M286.4 120.1L293.7 104.7L296.0 105.8L296.6 96.7L289.9 102.9L292.2 104.0L285.0 119.4zM171.3 236.3L185.6 226.4L187.1 228.6L192.2 221.0L183.2 223.0L184.7 225.1L170.4 235.0zM271.2 119.8L273.1 102.4L275.7 102.7L273.2 93.9L268.9 102.0L271.5 102.3L269.6 119.7zM178.9 259.3L193.7 250.0L195.1 252.3L200.6 244.8L191.5 246.5L192.9 248.7L178.0 258.0zM217.5 120.1L224.4 103.9L226.8 105.0L227.0 95.7L220.5 102.3L222.9 103.3L216.0 119.4zM78.2 357.5L68.7 372.3L66.5 370.9L64.7 379.9L72.3 374.6L70.0 373.2L79.6 358.4zM224.7 228.7L241.5 223.4L242.3 225.9L249.5 220.1L240.3 219.4L241.1 221.9L224.2 227.2zM108.8 357.7L103.4 374.5L100.9 373.7L101.6 382.9L107.4 375.8L104.9 375.0L110.3 358.2zM178.7 213.3L195.5 207.7L196.4 210.2L203.4 204.2L194.2 203.6L195.0 206.1L178.2 211.8zM271.1 104.5L277.5 87.8L279.9 88.7L279.8 79.5L273.5 86.3L276.0 87.2L269.6 103.9zM147.1 265.9L138.7 281.7L136.4 280.5L135.4 289.7L142.4 283.7L140.1 282.5L148.5 266.7z"/>
<path fill="#ff2000" d="M278.7 127.9L287.9 112.5L290.2 113.9L291.6 104.7L284.3 110.4L286.5 111.7L277.4 127.1zM186.6 228.5L200.6 217.3L202.2 219.4L206.8 211.3L197.9 214.0L199.6 216.1L185.6 227.3zM217.5 127.7L222.8 110.6L225.3 111.3L224.5 102.1L218.7 109.3L221.2 110.1L216.0 127.3zM217.3 228.5L230.6 216.4L232.4 218.4L236.5 210.1L227.8 213.3L229.6 215.2L216.2 227.3zM202.0 213.1L214.9 200.6L216.8 202.5L220.6 194.1L212.0 197.6L213.8 199.5L200.9 212.0zM101.3 365.0L88.5 377.8L86.7 375.9L83.0 384.4L91.5 380.8L89.7 378.9L102.4 366.1zM162.6 265.8L150.1 278.9L148.2 277.1L144.8 285.7L153.2 281.8L151.3 280.0L163.7 266.9zM232.9 104.3L234.7 86.2L237.4 86.5L234.8 77.5L230.5 85.8L233.1 86.0L231.3 104.1zM278.8 104.4L284.6 86.7L287.1 87.5L286.5 78.2L280.6 85.3L283.1 86.2L277.3 104.0zM232.9 112.0L233.1 93.3L235.7 93.3L232.3 84.6L228.8 93.2L231.5 93.2L231.3 112.0zM209.6 220.9L225.0 210.2L226.5 212.4L231.6 204.6L222.6 206.7L224.1 208.9L208.7 219.6zM269.8 159.1L283.6 172.0L281.8 173.9L290.4 177.3L286.5 168.9L284.7 170.8L270.9 157.9z"/>
<path fill="#ff0000" d="M108.8 365.1L99.3 381.4L97.0 380.1L95.6 389.3L103.0 383.6L100.7 382.2L110.2 365.9zM217.2 251.6L233.4 241.5L234.8 243.8L240.3 236.2L231.1 237.9L232.5 240.2L216.3 250.3zM217.2 244.0L233.3 233.6L234.7 235.9L240.1 228.3L231.0 230.0L232.4 232.3L216.3 242.6zM277.3 174.3L286.4 191.4L284.1 192.6L291.2 198.6L290.2 189.3L287.8 190.6L278.8 173.6zM186.6 243.9L201.6 231.3L203.3 233.3L207.7 225.1L198.8 228.0L200.6 230.1L185.6 242.7zM209.5 213.2L226.6 203.4L227.9 205.7L233.7 198.3L224.4 199.7L225.8 202.0L208.7 211.8z"/>
<path fill="#df0000" d="M278.8 96.6L284.3 77.5L286.9 78.2L285.9 68.8L280.2 76.3L282.8 77.0L277.3 96.2zM271.2 135.1L267.3 115.5L270.0 115.0L264.9 107.1L263.1 116.3L265.8 115.8L269.6 135.4zM269.7 166.7L281.3 183.1L279.1 184.6L287.0 189.7L284.8 180.6L282.6 182.1L271.0 165.8zM225.2 127.8L231.9 108.9L234.5 109.8L234.1 100.4L227.9 107.4L230.4 108.3L223.7 127.2zM262.3 159.1L278.7 171.0L277.1 173.1L286.3 175.4L281.2 167.5L279.6 169.7L263.2 157.8zM85.9 372.7L74.9 390.0L72.7 388.5L70.9 397.8L78.6 392.3L76.3 390.8L87.2 373.6zM263.5 104.2L264.2 83.7L266.9 83.8L263.7 74.9L259.9 83.5L262.6 83.6L261.9 104.2zM286.5 104.5L293.6 85.2L296.1 86.1L295.9 76.7L289.6 83.7L292.1 84.6L285.0 103.9zM217.6 112.1L221.1 91.8L223.8 92.3L221.8 83.1L216.9 91.1L219.5 91.6L216.0 111.8z"/>
<path fill="#bf0000" d="M171.2 228.6L189.4 218.1L190.7 220.4L196.6 213.0L187.2 214.3L188.6 216.7L170.4 227.2zM179.1 251.5L193.5 235.9L195.5 237.8L198.9 228.9L190.3 233.0L192.3 234.8L177.9 250.4zM240.5 104.2L241.7 83.0L244.4 83.1L241.3 74.2L237.3 82.8L240.1 82.9L239.0 104.2zM209.5 236.3L228.7 226.8L229.9 229.2L236.2 222.1L226.7 222.9L227.9 225.3L208.8 234.9zM225.2 104.1L221.6 82.8L224.3 82.4L219.3 74.3L217.3 83.6L220.0 83.1L223.6 104.3zM194.1 213.2L213.5 203.7L214.7 206.1L221.0 199.0L211.6 199.8L212.8 202.2L193.4 211.8zM178.9 244.0L197.8 233.5L199.1 235.9L205.1 228.5L195.7 229.7L197.0 232.1L178.1 242.6z"/>
<path fill="#9f0000" d="M179.0 236.2L195.2 221.8L197.1 223.9L201.3 215.4L192.4 218.6L194.2 220.6L177.9 235.0zM171.4 251.5L186.3 235.2L188.4 237.0L191.7 228.1L183.1 232.2L185.2 234.1L170.2 250.4zM263.5 112.1L266.9 90.1L269.6 90.5L267.5 81.2L262.6 89.4L265.3 89.8L261.9 111.9zM277.5 166.8L293.5 182.5L291.6 184.5L300.4 188.2L296.6 179.4L294.6 181.4L278.6 165.7zM93.5 365.2L83.6 385.4L81.2 384.2L80.5 393.8L87.6 387.3L85.1 386.1L94.9 365.9z"/>
<path fill="#800000" d="M248.2 143.3L255.4 121.8L258.0 122.6L257.5 113.1L251.2 120.4L253.9 121.2L246.7 142.8zM85.8 365.2L76.5 386.0L74.0 384.8L73.6 394.4L80.5 387.8L78.0 386.6L87.3 365.9zM178.8 228.6L199.0 218.1L200.3 220.5L206.5 213.2L197.0 214.2L198.3 216.7L178.1 227.2zM194.3 251.6L211.4 236.5L213.3 238.5L217.6 230.0L208.6 233.2L210.4 235.3L193.3 250.4zM225.2 143.2L231.0 121.1L233.6 121.8L232.4 112.2L226.7 120.0L229.4 120.7L223.7 142.8zM271.1 127.8L278.7 106.1L281.4 107.0L280.9 97.4L274.6 104.6L277.2 105.5L269.6 127.2zM154.9 265.8L139.6 283.0L137.5 281.1L134.2 290.2L142.8 285.9L140.8 284.0L156.1 266.8zM278.8 112.0L281.0 89.0L283.8 89.3L281.0 80.1L276.6 88.6L279.4 88.9L277.3 111.9zM101.2 372.7L88.2 391.8L85.9 390.2L83.8 399.6L91.8 394.3L89.5 392.7L102.5 373.6zM240.5 135.4L245.4 112.7L248.1 113.3L246.5 103.8L241.1 111.8L243.8 112.4L239.0 135.1zM248.2 111.8L241.9 89.1L244.5 88.4L238.7 80.7L237.6 90.3L240.3 89.5L246.6 112.2zM263.5 143.2L269.5 120.5L272.2 121.2L271.0 111.6L265.3 119.4L268.0 120.1L262.0 142.8zM240.5 111.9L238.4 88.5L241.2 88.2L236.8 79.6L234.1 88.9L236.8 88.6L239.0 112.0zM232.9 135.5L239.1 112.2L241.8 113.0L240.6 103.4L234.8 111.1L237.5 111.8L231.3 135.1zM255.8 127.8L266.0 106.0L268.5 107.2L269.0 97.5L262.0 104.2L264.5 105.3L254.3 127.2zM271.1 112.3L280.3 89.9L282.9 90.9L283.0 81.2L276.3 88.2L278.9 89.3L269.7 111.7zM209.4 228.6L231.6 218.4L232.8 220.9L239.4 213.9L229.7 214.4L230.9 216.9L208.8 227.2zM147.5 288.6L125.0 298.7L123.9 296.1L117.1 303.1L126.8 302.7L125.7 300.1L148.2 290.0zM194.3 243.9L214.1 229.1L215.7 231.3L220.8 223.0L211.4 225.5L213.1 227.8L193.3 242.7zM201.8 236.3L223.8 224.4L225.1 226.9L231.3 219.4L221.7 220.6L223.0 223.0L201.1 234.9zM255.9 119.9L261.2 95.5L264.0 96.1L262.4 86.5L256.9 94.6L259.6 95.2L254.3 119.6zM194.2 228.6L216.2 216.3L217.6 218.8L223.7 211.2L214.0 212.4L215.4 214.9L193.4 227.2zM162.7 273.3L142.3 289.3L140.5 287.0L135.6 295.5L145.0 292.8L143.2 290.5L163.6 274.6zM186.5 213.3L210.4 202.2L211.6 204.8L218.3 197.6L208.5 198.1L209.7 200.7L185.8 211.8zM194.3 236.3L215.7 220.8L217.3 223.1L222.6 214.8L213.1 217.2L214.7 219.5L193.3 235.0zM179.0 220.9L200.2 204.8L202.0 207.1L207.0 198.7L197.5 201.3L199.3 203.5L178.0 219.6zM262.2 166.8L281.9 185.1L280.0 187.2L289.2 190.7L285.0 181.8L283.0 183.9L263.3 165.6zM194.1 221.0L218.6 209.7L219.8 212.3L226.6 205.2L216.7 205.7L217.9 208.2L193.5 219.5zM248.2 135.3L249.9 108.3L252.8 108.4L249.7 99.1L245.5 108.0L248.3 108.2L246.6 135.2zM277.5 159.1L298.1 177.4L296.2 179.5L305.5 182.9L301.1 174.0L299.2 176.1L278.6 157.9zM201.9 244.0L224.4 227.7L226.1 230.0L231.4 221.6L221.8 224.0L223.4 226.3L201.0 242.6zM201.7 251.8L227.7 241.8L228.8 244.4L236.1 237.7L226.1 237.5L227.1 240.2L201.2 250.2zM240.5 120.0L249.2 93.3L252.0 94.2L251.3 84.3L244.9 91.9L247.6 92.8L239.0 119.5zM209.5 251.7L234.1 238.0L235.5 240.5L241.7 232.8L231.9 234.1L233.3 236.6L208.7 250.2zM255.9 143.1L259.8 115.1L262.6 115.5L260.2 105.8L255.3 114.5L258.1 114.9L254.2 142.9zM263.6 119.8L267.1 91.4L269.9 91.8L267.4 82.1L262.6 90.9L265.4 91.2L261.9 119.6zM154.9 288.6L132.9 307.2L131.1 305.0L126.4 313.8L135.9 310.7L134.0 308.5L156.0 289.9zM201.9 228.7L227.2 213.9L228.7 216.4L234.9 208.4L224.9 209.9L226.4 212.4L201.0 227.2zM209.6 244.0L233.8 227.4L235.4 229.7L241.0 221.4L231.2 223.6L232.8 225.9L208.6 242.6zM147.4 280.9L121.1 294.0L119.9 291.5L113.2 299.0L123.2 298.1L121.9 295.6L148.2 282.4zM248.2 120.0L258.6 92.0L261.2 93.0L261.0 82.9L254.2 90.4L256.9 91.4L246.6 119.4zM147.4 273.2L121.9 289.5L120.4 287.1L114.5 295.3L124.4 293.4L122.9 291.0L148.3 274.7zM232.9 127.8L241.5 98.6L244.2 99.4L243.3 89.4L237.0 97.3L239.8 98.1L231.2 127.3zM256.0 135.5L263.1 105.3L265.8 106.0L264.3 96.0L258.5 104.3L261.3 104.9L254.2 135.1zM233.0 119.9L239.9 89.4L242.7 90.0L241.1 80.0L235.3 88.4L238.1 89.0L231.2 119.5zM186.6 251.8L213.8 236.1L215.3 238.5L221.6 230.5L211.5 232.0L212.9 234.5L185.7 250.2zM240.7 127.6L244.7 95.6L247.6 95.9L245.0 86.0L240.0 95.0L242.9 95.4L238.8 127.4zM162.6 288.5L135.2 306.1L133.6 303.7L127.7 312.1L137.8 310.1L136.2 307.7L163.7 290.1zM170.2 288.6L144.9 309.5L143.1 307.3L138.2 316.3L148.0 313.2L146.1 311.0L171.4 290.0zM162.7 280.8L133.0 294.8L131.7 292.2L124.7 299.8L135.0 299.1L133.8 296.5L163.6 282.5zM155.1 280.8L125.2 295.6L123.9 293.1L117.0 300.8L127.3 299.9L126.0 297.4L155.9 282.5zM240.6 143.5L256.4 114.1L258.9 115.4L260.1 105.2L252.2 111.8L254.7 113.1L238.9 142.6zM155.1 273.1L125.0 287.6L123.8 285.0L116.8 292.7L127.1 291.9L125.8 289.4L155.9 274.8zM170.4 280.7L138.8 293.7L137.8 291.0L130.3 298.2L140.7 298.2L139.6 295.5L171.2 282.5zM186.8 220.9L210.8 196.5L212.8 198.5L216.8 188.9L207.3 193.1L209.4 195.1L185.4 219.5zM170.2 273.1L141.4 293.6L139.7 291.2L134.0 300.0L144.2 297.6L142.5 295.2L171.4 274.8zM177.8 288.5L150.8 311.5L148.9 309.4L144.1 318.6L154.0 315.3L152.1 313.1L179.1 290.1zM177.9 280.8L149.5 302.5L147.7 300.2L142.3 309.2L152.4 306.4L150.7 304.1L179.1 282.4zM263.7 127.9L276.0 93.0L278.7 94.0L278.3 83.4L271.4 91.4L274.1 92.3L261.7 127.2zM177.8 273.2L148.8 296.3L147.0 294.0L141.8 303.2L151.9 300.1L150.2 297.9L179.1 274.8zM233.1 143.3L243.8 107.6L246.5 108.5L245.5 97.9L239.0 106.2L241.7 107.0L231.1 142.7zM263.8 135.5L273.2 98.4L276.0 99.1L274.6 88.5L268.4 97.1L271.1 97.8L261.7 135.0zM248.4 127.9L262.7 91.8L265.3 92.9L265.3 82.2L258.0 90.0L260.6 91.0L246.4 127.1z"/>
<use href="#landg"/>
<g clip-path="url(#landclip)"><line x1="58.0" y1="0.0" x2="58.0" y2="427.5" class="g"/>
<line x1="115.9" y1="0.0" x2="115.9" y2="427.5" class="g"/>
<line x1="173.9" y1="0.0" x2="173.9" y2="427.5" class="g"/>
<line x1="231.9" y1="0.0" x2="231.9" y2="427.5" class="g"/>
<line x1="289.8" y1="0.0" x2="289.8" y2="427.5" class="g"/>
<line x1="0.0" y1="72.4" x2="347.8" y2="72.4" class="g"/>
<line x1="0.0" y1="144.3" x2="347.8" y2="144.3" class="g"/>
<line x1="0.0" y1="215.7" x2="347.8" y2="215.7" class="g"/>
<line x1="0.0" y1="286.8" x2="347.8" y2="286.8" class="g"/>
<line x1="0.0" y1="357.3" x2="347.8" y2="357.3" class="g"/></g>
</g>
<path d="M58.5 47.5L74.1 47.5M60.8 42.0L71.8 53.0M66.3 39.7L66.3 55.3M71.8 42.0L60.8 53.0" stroke="#ff1a1a" stroke-width="1.3"/>
<path d="M96.6 156.3L112.2 156.3M98.9 150.8L109.9 161.8M104.4 148.5L104.4 164.1M109.9 150.8L98.9 161.8" stroke="#ff1a1a" stroke-width="1.3"/>
<path d="M106.0 250.3L121.6 250.3M108.3 244.8L119.3 255.8M113.8 242.5L113.8 258.1M119.3 244.8L108.3 255.8" stroke="#ff1a1a" stroke-width="1.3"/>
<path d="M54.4 271.8L70.0 271.8M56.7 266.3L67.7 277.3M62.2 264.0L62.2 279.6M67.7 266.3L56.7 277.3" stroke="#ff1a1a" stroke-width="1.3"/>
<path d="M2.6 320.5L18.2 320.5M4.9 315.0L15.9 326.0M10.4 312.7L10.4 328.3M15.9 315.0L4.9 326.0" stroke="#ff1a1a" stroke-width="1.3"/>
</g>
<line x1="132.5" y1="569.8" x2="132.5" y2="565.8" class="t"/>
<line x1="132.5" y1="142.3" x2="132.5" y2="146.3" class="t"/>
<line x1="190.4" y1="569.8" x2="190.4" y2="565.8" class="t"/>
<line x1="190.4" y1="142.3" x2="190.4" y2="146.3" class="t"/>
<line x1="248.4" y1="569.8" x2="248.4" y2="565.8" class="t"/>
<line x1="248.4" y1="142.3" x2="248.4" y2="146.3" class="t"/>
<line x1="306.4" y1="569.8" x2="306.4" y2="565.8" class="t"/>
<line x1="306.4" y1="142.3" x2="306.4" y2="146.3" class="t"/>
<line x1="364.3" y1="569.8" x2="364.3" y2="565.8" class="t"/>
<line x1="364.3" y1="142.3" x2="364.3" y2="146.3" class="t"/>
<line x1="74.5" y1="214.7" x2="78.5" y2="214.7" class="t"/>
<line x1="422.3" y1="214.7" x2="418.3" y2="214.7" class="t"/>
<line x1="74.5" y1="286.6" x2="78.5" y2="286.6" class="t"/>
<line x1="422.3" y1="286.6" x2="418.3" y2="286.6" class="t"/>
<line x1="74.5" y1="358.0" x2="78.5" y2="358.0" class="t"/>
<line x1="422.3" y1="358.0" x2="418.3" y2="358.0" class="t"/>
<line x1="74.5" y1="429.1" x2="78.5" y2="429.1" class="t"/>
<line x1="422.3" y1="429.1" x2="418.3" y2="429.1" class="t"/>
<line x1="74.5" y1="499.6" x2="78.5" y2="499.6" class="t"/>
<line x1="422.3" y1="499.6" x2="418.3" y2="499.6" class="t"/>
<rect x="74.5" y="142.3" width="347.8" height="427.5" class="fr"/>
<text x="68.7" y="149.9" class="L" text-anchor="end">37°N</text>
<text x="68.7" y="221.6" class="S" text-anchor="end">30'</text>
<text x="68.7" y="294.2" class="L" text-anchor="end">36°N</text>
<text x="68.7" y="364.9" class="S" text-anchor="end">30'</text>
<text x="68.7" y="436.7" class="L" text-anchor="end">35°N</text>
<text x="68.7" y="506.5" class="S" text-anchor="end">30'</text>
<text x="68.7" y="577.4" class="L" text-anchor="end">34°N</text>
<text x="74.5" y="587.3" class="S" text-anchor="middle">30'</text>
<text x="135.7" y="590.8" class="L" text-anchor="middle">76°W</text>
<text x="190.4" y="587.3" class="S" text-anchor="middle">30'</text>
<text x="251.6" y="590.8" class="L" text-anchor="middle">75°W</text>
<text x="306.4" y="587.3" class="S" text-anchor="middle">30'</text>
<text x="367.5" y="590.8" class="L" text-anchor="middle">74°W</text>
<text x="422.3" y="587.3" class="S" text-anchor="middle">30'</text>
<g transform="translate(458.5,142.3)">
<g clip-path="url(#clipP)">
<line x1="58.0" y1="0.0" x2="58.0" y2="427.5" class="g"/>
<line x1="115.9" y1="0.0" x2="115.9" y2="427.5" class="g"/>
<line x1="173.9" y1="0.0" x2="173.9" y2="427.5" class="g"/>
<line x1="231.9" y1="0.0" x2="231.9" y2="427.5" class="g"/>
<line x1="289.8" y1="0.0" x2="289.8" y2="427.5" class="g"/>
<line x1="0.0" y1="72.4" x2="347.8" y2="72.4" class="g"/>
<line x1="0.0" y1="144.3" x2="347.8" y2="144.3" class="g"/>
<line x1="0.0" y1="215.7" x2="347.8" y2="215.7" class="g"/>
<line x1="0.0" y1="286.8" x2="347.8" y2="286.8" class="g"/>
<line x1="0.0" y1="357.3" x2="347.8" y2="357.3" class="g"/>
<path fill="#80ff80" d="M67.4 -1.3h8.2v8.4h-8.2zM289.5 -1.3h8.2v8.4h-8.2zM297.2 22.3h8.2v8.4h-8.2zM289.5 30.1h8.2v8.4h-8.2zM289.5 45.7h8.2v8.4h-8.2zM289.5 53.5h8.2v8.4h-8.2zM281.9 69.2h8.2v8.4h-8.2zM281.9 84.7h8.2v8.4h-8.2zM90.4 100.3h8.2v8.4h-8.2zM274.2 100.3h8.2v8.4h-8.2zM274.2 108.1h8.2v8.4h-8.2zM281.9 123.6h8.2v8.4h-8.2zM281.9 131.4h8.2v8.4h-8.2zM281.9 139.1h8.2v8.3h-8.2zM289.5 146.9h61.8v8.3h-61.8zM327.8 162.4h8.2v8.3h-8.2zM304.9 170.1h8.2v8.3h-8.2zM335.5 185.5h8.2v8.3h-8.2zM320.2 208.7h8.2v8.3h-8.2zM343.2 208.7h8.2v8.3h-8.2zM320.2 231.8h15.8v8.3h-15.8zM320.2 239.5h8.2v8.3h-8.2zM320.2 247.1h8.2v8.3h-8.2zM320.2 254.8h8.2v8.3h-8.2zM312.5 270.1h23.5v8.3h-23.5zM312.5 277.8h8.2v8.3h-8.2zM327.8 277.8h8.2v8.3h-8.2zM304.9 285.5h8.2v8.2h-8.2zM320.2 285.5h15.8v8.2h-15.8zM159.3 293.1h8.2v8.2h-8.2zM182.3 308.4h8.2v8.2h-8.2zM274.2 308.4h8.2v8.2h-8.2zM289.5 308.4h8.2v8.2h-8.2zM182.3 316.0h8.2v8.2h-8.2zM243.6 323.7h8.2v8.2h-8.2zM243.6 331.3h8.2v8.2h-8.2z"/>
<path fill="#00e5ff" d="M75.1 -1.3h8.2v8.4h-8.2zM266.6 -1.3h8.2v8.4h-8.2zM281.9 -1.3h8.2v8.4h-8.2zM274.2 6.6h8.2v8.4h-8.2zM274.2 14.4h15.8v8.4h-15.8zM274.2 22.3h15.8v8.4h-15.8zM274.2 30.1h8.2v8.4h-8.2zM274.2 37.9h15.8v8.4h-15.8zM274.2 45.7h15.8v8.4h-15.8zM274.2 53.5h15.8v8.4h-15.8zM274.2 61.4h8.2v8.4h-8.2zM274.2 69.2h8.2v8.4h-8.2zM274.2 77.0h8.2v8.4h-8.2zM274.2 84.7h8.2v8.4h-8.2zM98.0 123.6h8.2v8.4h-8.2zM274.2 131.4h8.2v8.4h-8.2zM304.9 154.6h8.2v8.3h-8.2zM297.2 162.4h15.8v8.3h-15.8zM297.2 170.1h8.2v8.3h-8.2zM297.2 177.8h8.2v8.3h-8.2zM274.2 185.5h8.2v8.3h-8.2zM304.9 185.5h8.2v8.3h-8.2zM274.2 193.3h8.2v8.3h-8.2zM289.5 193.3h15.8v8.3h-15.8zM281.9 201.0h15.8v8.3h-15.8zM281.9 208.7h8.2v8.3h-8.2zM297.2 208.7h8.2v8.3h-8.2zM266.6 216.4h8.2v8.3h-8.2zM281.9 216.4h23.5v8.3h-23.5zM312.5 216.4h8.2v8.3h-8.2zM274.2 224.1h31.1v8.3h-31.1zM266.6 231.8h8.2v8.3h-8.2zM281.9 231.8h8.2v8.3h-8.2zM297.2 231.8h8.2v8.3h-8.2zM274.2 239.5h23.5v8.3h-23.5zM258.9 247.1h38.8v8.3h-38.8zM251.2 254.8h38.8v8.3h-38.8zM243.6 262.5h23.5v8.3h-23.5zM151.7 270.1h8.2v8.3h-8.2zM212.9 270.1h8.2v8.3h-8.2zM235.9 270.1h23.5v8.3h-23.5zM274.2 270.1h8.2v8.3h-8.2zM151.7 277.8h15.8v8.3h-15.8zM212.9 277.8h15.8v8.3h-15.8zM235.9 277.8h23.5v8.3h-23.5zM266.6 277.8h15.8v8.3h-15.8zM167.0 285.5h8.2v8.2h-8.2zM197.6 285.5h23.5v8.2h-23.5zM235.9 285.5h23.5v8.2h-23.5zM174.6 293.1h46.5v8.2h-46.5zM235.9 293.1h8.2v8.2h-8.2zM258.9 293.1h8.2v8.2h-8.2zM174.6 300.8h8.2v8.2h-8.2zM197.6 300.8h31.1v8.2h-31.1zM29.1 308.4h8.2v8.2h-8.2zM205.3 308.4h8.2v8.2h-8.2z"/>
<path fill="#0080ff" d="M82.7 -1.3h15.8v8.4h-15.8zM159.3 -1.3h8.2v8.4h-8.2zM235.9 -1.3h23.5v8.4h-23.5zM228.3 6.6h8.2v8.4h-8.2zM243.6 6.6h15.8v8.4h-15.8zM251.2 14.4h15.8v8.4h-15.8zM243.6 22.3h8.2v8.4h-8.2zM258.9 22.3h8.2v8.4h-8.2zM243.6 30.1h23.5v8.4h-23.5zM243.6 37.9h8.2v8.4h-8.2zM258.9 37.9h8.2v8.4h-8.2zM251.2 45.7h15.8v8.4h-15.8zM243.6 53.5h23.5v8.4h-23.5zM82.7 61.4h8.2v8.4h-8.2zM258.9 61.4h8.2v8.4h-8.2zM243.6 69.2h31.1v8.4h-31.1zM258.9 77.0h8.2v8.4h-8.2zM243.6 84.7h15.8v8.4h-15.8zM243.6 92.5h31.1v8.4h-31.1zM98.0 100.3h8.2v8.4h-8.2zM251.2 100.3h15.8v8.4h-15.8zM98.0 108.1h8.2v8.4h-8.2zM258.9 108.1h15.8v8.4h-15.8zM243.6 115.9h23.5v8.4h-23.5zM258.9 123.6h8.2v8.4h-8.2zM258.9 131.4h8.2v8.4h-8.2zM258.9 139.1h8.2v8.3h-8.2zM258.9 146.9h15.8v8.3h-15.8zM258.9 154.6h8.2v8.3h-8.2zM144.0 162.4h8.2v8.3h-8.2zM258.9 162.4h8.2v8.3h-8.2zM136.3 170.1h8.2v8.3h-8.2zM251.2 170.1h15.8v8.3h-15.8zM121.0 177.8h8.2v8.3h-8.2zM251.2 177.8h23.5v8.3h-23.5zM251.2 185.5h23.5v8.3h-23.5zM121.0 193.3h8.2v8.3h-8.2zM258.9 193.3h15.8v8.3h-15.8zM243.6 201.0h23.5v8.3h-23.5zM121.0 208.7h8.2v8.3h-8.2zM243.6 208.7h23.5v8.3h-23.5zM128.7 216.4h8.2v8.3h-8.2zM235.9 216.4h23.5v8.3h-23.5zM235.9 224.1h31.1v8.3h-31.1zM220.6 231.8h8.2v8.3h-8.2zM235.9 231.8h8.2v8.3h-8.2zM251.2 231.8h15.8v8.3h-15.8zM190.0 239.5h15.8v8.3h-15.8zM220.6 239.5h8.2v8.3h-8.2zM243.6 239.5h15.8v8.3h-15.8zM190.0 247.1h15.8v8.3h-15.8zM220.6 247.1h23.5v8.3h-23.5zM251.2 247.1h8.2v8.3h-8.2zM182.3 254.8h8.2v8.3h-8.2zM197.6 254.8h8.2v8.3h-8.2zM212.9 254.8h15.8v8.3h-15.8zM235.9 254.8h8.2v8.3h-8.2zM82.7 262.5h8.2v8.3h-8.2zM151.7 262.5h8.2v8.3h-8.2zM182.3 262.5h31.1v8.3h-31.1zM220.6 262.5h8.2v8.3h-8.2zM167.0 270.1h31.1v8.3h-31.1zM98.0 277.8h8.2v8.3h-8.2zM174.6 277.8h8.2v8.3h-8.2zM98.0 285.5h8.2v8.2h-8.2zM105.7 293.1h8.2v8.2h-8.2zM75.1 300.8h8.2v8.2h-8.2zM98.0 300.8h8.2v8.2h-8.2zM75.1 308.4h8.2v8.2h-8.2zM90.4 308.4h8.2v8.2h-8.2zM75.1 316.0h8.2v8.2h-8.2zM75.1 323.7h8.2v8.2h-8.2zM105.7 361.7h8.2v8.2h-8.2zM105.7 369.3h8.2v8.2h-8.2z"/>
<path fill="#004dff" d="M98.0 -1.3h15.8v8.4h-15.8zM167.0 -1.3h8.2v8.4h-8.2zM212.9 -1.3h23.5v8.4h-23.5zM75.1 6.6h23.5v8.4h-23.5zM159.3 6.6h15.8v8.4h-15.8zM205.3 6.6h23.5v8.4h-23.5zM235.9 6.6h8.2v8.4h-8.2zM228.3 14.4h23.5v8.4h-23.5zM228.3 22.3h15.8v8.4h-15.8zM251.2 22.3h8.2v8.4h-8.2zM228.3 30.1h15.8v8.4h-15.8zM235.9 37.9h8.2v8.4h-8.2zM251.2 37.9h8.2v8.4h-8.2zM235.9 45.7h15.8v8.4h-15.8zM228.3 53.5h15.8v8.4h-15.8zM90.4 61.4h8.2v8.4h-8.2zM235.9 61.4h23.5v8.4h-23.5zM90.4 69.2h8.2v8.4h-8.2zM228.3 69.2h15.8v8.4h-15.8zM220.6 77.0h8.2v8.4h-8.2zM235.9 77.0h23.5v8.4h-23.5zM98.0 84.7h8.2v8.4h-8.2zM228.3 84.7h15.8v8.4h-15.8zM258.9 84.7h8.2v8.4h-8.2zM98.0 92.5h8.2v8.4h-8.2zM228.3 92.5h15.8v8.4h-15.8zM243.6 100.3h8.2v8.4h-8.2zM235.9 108.1h23.5v8.4h-23.5zM105.7 115.9h8.2v8.4h-8.2zM105.7 123.6h8.2v8.4h-8.2zM228.3 123.6h31.1v8.4h-31.1zM228.3 131.4h31.1v8.4h-31.1zM228.3 139.1h8.2v8.3h-8.2zM243.6 139.1h15.8v8.3h-15.8zM235.9 146.9h23.5v8.3h-23.5zM228.3 154.6h31.1v8.3h-31.1zM128.7 162.4h15.8v8.3h-15.8zM151.7 162.4h8.2v8.3h-8.2zM235.9 162.4h23.5v8.3h-23.5zM128.7 170.1h8.2v8.3h-8.2zM159.3 170.1h8.2v8.3h-8.2zM228.3 170.1h23.5v8.3h-23.5zM128.7 177.8h31.1v8.3h-31.1zM235.9 177.8h15.8v8.3h-15.8zM128.7 185.5h8.2v8.3h-8.2zM235.9 185.5h15.8v8.3h-15.8zM228.3 193.3h31.1v8.3h-31.1zM121.0 201.0h8.2v8.3h-8.2zM235.9 201.0h8.2v8.3h-8.2zM235.9 208.7h8.2v8.3h-8.2zM212.9 216.4h23.5v8.3h-23.5zM128.7 224.1h8.2v8.3h-8.2zM212.9 224.1h23.5v8.3h-23.5zM190.0 231.8h31.1v8.3h-31.1zM228.3 231.8h8.2v8.3h-8.2zM182.3 239.5h8.2v8.3h-8.2zM205.3 239.5h15.8v8.3h-15.8zM228.3 239.5h8.2v8.3h-8.2zM105.7 247.1h8.2v8.3h-8.2zM174.6 247.1h15.8v8.3h-15.8zM205.3 247.1h15.8v8.3h-15.8zM105.7 254.8h8.2v8.3h-8.2zM144.0 254.8h8.2v8.3h-8.2zM174.6 254.8h8.2v8.3h-8.2zM190.0 254.8h8.2v8.3h-8.2zM205.3 254.8h8.2v8.3h-8.2zM144.0 262.5h8.2v8.3h-8.2zM159.3 262.5h8.2v8.3h-8.2zM174.6 262.5h8.2v8.3h-8.2zM105.7 270.1h8.2v8.3h-8.2zM113.4 285.5h8.2v8.2h-8.2zM44.4 293.1h8.2v8.2h-8.2zM36.8 300.8h8.2v8.2h-8.2zM113.4 300.8h8.2v8.2h-8.2zM82.7 316.0h8.2v8.2h-8.2zM52.1 323.7h23.5v8.2h-23.5zM82.7 323.7h8.2v8.2h-8.2zM113.4 323.7h8.2v8.2h-8.2zM105.7 354.1h8.2v8.2h-8.2zM98.0 361.7h8.2v8.2h-8.2z"/>
<path fill="#001aff" d="M113.4 -1.3h46.5v8.4h-46.5zM174.6 -1.3h38.8v8.4h-38.8zM98.0 6.6h61.8v8.4h-61.8zM174.6 6.6h31.1v8.4h-31.1zM75.1 14.4h38.8v8.4h-38.8zM159.3 14.4h15.8v8.4h-15.8zM205.3 14.4h8.2v8.4h-8.2zM220.6 14.4h8.2v8.4h-8.2zM75.1 22.3h54.1v8.4h-54.1zM167.0 22.3h23.5v8.4h-23.5zM212.9 22.3h15.8v8.4h-15.8zM75.1 30.1h61.8v8.4h-61.8zM167.0 30.1h8.2v8.4h-8.2zM197.6 30.1h8.2v8.4h-8.2zM212.9 30.1h15.8v8.4h-15.8zM75.1 37.9h54.1v8.4h-54.1zM167.0 37.9h8.2v8.4h-8.2zM190.0 37.9h46.5v8.4h-46.5zM75.1 45.7h15.8v8.4h-15.8zM205.3 45.7h31.1v8.4h-31.1zM190.0 53.5h38.8v8.4h-38.8zM98.0 61.4h8.2v8.4h-8.2zM197.6 61.4h38.8v8.4h-38.8zM98.0 69.2h8.2v8.4h-8.2zM212.9 69.2h15.8v8.4h-15.8zM98.0 77.0h8.2v8.4h-8.2zM182.3 77.0h8.2v8.4h-8.2zM212.9 77.0h8.2v8.4h-8.2zM228.3 77.0h8.2v8.4h-8.2zM159.3 84.7h8.2v8.4h-8.2zM190.0 84.7h15.8v8.4h-15.8zM212.9 84.7h15.8v8.4h-15.8zM105.7 92.5h8.2v8.4h-8.2zM197.6 92.5h15.8v8.4h-15.8zM105.7 100.3h8.2v8.4h-8.2zM212.9 100.3h31.1v8.4h-31.1zM105.7 108.1h8.2v8.4h-8.2zM197.6 108.1h38.8v8.4h-38.8zM205.3 115.9h15.8v8.4h-15.8zM228.3 115.9h15.8v8.4h-15.8zM159.3 123.6h8.2v8.4h-8.2zM205.3 123.6h23.5v8.4h-23.5zM105.7 131.4h8.2v8.4h-8.2zM220.6 131.4h8.2v8.4h-8.2zM212.9 139.1h15.8v8.3h-15.8zM235.9 139.1h8.2v8.3h-8.2zM220.6 146.9h15.8v8.3h-15.8zM205.3 154.6h23.5v8.3h-23.5zM159.3 162.4h15.8v8.3h-15.8zM205.3 162.4h31.1v8.3h-31.1zM167.0 170.1h8.2v8.3h-8.2zM205.3 170.1h15.8v8.3h-15.8zM159.3 177.8h15.8v8.3h-15.8zM205.3 177.8h31.1v8.3h-31.1zM136.3 185.5h38.8v8.3h-38.8zM212.9 185.5h23.5v8.3h-23.5zM128.7 193.3h8.2v8.3h-8.2zM197.6 193.3h15.8v8.3h-15.8zM220.6 193.3h8.2v8.3h-8.2zM128.7 201.0h8.2v8.3h-8.2zM205.3 201.0h31.1v8.3h-31.1zM128.7 208.7h8.2v8.3h-8.2zM205.3 208.7h31.1v8.3h-31.1zM190.0 216.4h23.5v8.3h-23.5zM190.0 224.1h23.5v8.3h-23.5zM182.3 231.8h8.2v8.3h-8.2zM144.0 239.5h8.2v8.3h-8.2zM151.7 247.1h8.2v8.3h-8.2zM151.7 254.8h15.8v8.3h-15.8zM167.0 262.5h8.2v8.3h-8.2zM59.7 277.8h8.2v8.3h-8.2zM90.4 277.8h8.2v8.3h-8.2zM105.7 277.8h8.2v8.3h-8.2zM82.7 293.1h15.8v8.2h-15.8zM121.0 293.1h8.2v8.2h-8.2zM44.4 300.8h8.2v8.2h-8.2zM82.7 300.8h8.2v8.2h-8.2zM36.8 308.4h15.8v8.2h-15.8zM82.7 308.4h8.2v8.2h-8.2zM105.7 316.0h8.2v8.2h-8.2zM113.4 331.3h8.2v8.2h-8.2zM113.4 338.9h8.2v8.2h-8.2zM98.0 346.5h15.8v8.2h-15.8zM98.0 354.1h8.2v8.2h-8.2z"/>
<path fill="#00b2ff" d="M258.9 -1.3h8.2v8.4h-8.2zM274.2 -1.3h8.2v8.4h-8.2zM67.4 6.6h8.2v8.4h-8.2zM258.9 6.6h15.8v8.4h-15.8zM266.6 14.4h8.2v8.4h-8.2zM266.6 22.3h8.2v8.4h-8.2zM266.6 30.1h8.2v8.4h-8.2zM266.6 37.9h8.2v8.4h-8.2zM266.6 45.7h8.2v8.4h-8.2zM266.6 53.5h8.2v8.4h-8.2zM266.6 61.4h8.2v8.4h-8.2zM82.7 69.2h8.2v8.4h-8.2zM90.4 77.0h8.2v8.4h-8.2zM266.6 77.0h8.2v8.4h-8.2zM90.4 84.7h8.2v8.4h-8.2zM266.6 84.7h8.2v8.4h-8.2zM266.6 100.3h8.2v8.4h-8.2zM98.0 115.9h8.2v8.4h-8.2zM266.6 115.9h8.2v8.4h-8.2zM266.6 123.6h8.2v8.4h-8.2zM266.6 131.4h8.2v8.4h-8.2zM266.6 139.1h8.2v8.3h-8.2zM266.6 154.6h8.2v8.3h-8.2zM266.6 162.4h8.2v8.3h-8.2zM144.0 170.1h15.8v8.3h-15.8zM266.6 170.1h8.2v8.3h-8.2zM121.0 185.5h8.2v8.3h-8.2zM266.6 201.0h15.8v8.3h-15.8zM266.6 208.7h15.8v8.3h-15.8zM258.9 216.4h8.2v8.3h-8.2zM274.2 216.4h8.2v8.3h-8.2zM304.9 216.4h8.2v8.3h-8.2zM266.6 224.1h8.2v8.3h-8.2zM243.6 231.8h8.2v8.3h-8.2zM274.2 231.8h8.2v8.3h-8.2zM289.5 231.8h8.2v8.3h-8.2zM235.9 239.5h8.2v8.3h-8.2zM258.9 239.5h15.8v8.3h-15.8zM243.6 247.1h8.2v8.3h-8.2zM228.3 254.8h8.2v8.3h-8.2zM243.6 254.8h8.2v8.3h-8.2zM212.9 262.5h8.2v8.3h-8.2zM228.3 262.5h15.8v8.3h-15.8zM90.4 270.1h8.2v8.3h-8.2zM159.3 270.1h8.2v8.3h-8.2zM197.6 270.1h15.8v8.3h-15.8zM220.6 270.1h15.8v8.3h-15.8zM167.0 277.8h8.2v8.3h-8.2zM182.3 277.8h31.1v8.3h-31.1zM174.6 285.5h23.5v8.2h-23.5zM220.6 285.5h15.8v8.2h-15.8zM90.4 316.0h8.2v8.2h-8.2zM98.0 369.3h8.2v8.2h-8.2z"/>
<path fill="#b3ff4c" d="M297.2 -1.3h8.2v8.4h-8.2zM297.2 6.6h15.8v8.4h-15.8zM297.2 14.4h8.2v8.4h-8.2zM304.9 22.3h8.2v8.4h-8.2zM297.2 30.1h8.2v8.4h-8.2zM297.2 37.9h8.2v8.4h-8.2zM297.2 45.7h8.2v8.4h-8.2zM289.5 61.4h8.2v8.4h-8.2zM335.5 131.4h8.2v8.4h-8.2zM327.8 139.1h23.5v8.3h-23.5zM274.2 162.4h8.2v8.3h-8.2zM343.2 162.4h8.2v8.3h-8.2zM274.2 177.8h15.8v8.3h-15.8zM304.9 177.8h8.2v8.3h-8.2zM327.8 177.8h8.2v8.3h-8.2zM343.2 185.5h8.2v8.3h-8.2zM320.2 201.0h8.2v8.3h-8.2zM343.2 201.0h8.2v8.3h-8.2zM343.2 216.4h8.2v8.3h-8.2zM343.2 231.8h8.2v8.3h-8.2zM343.2 239.5h8.2v8.3h-8.2zM327.8 254.8h23.5v8.3h-23.5zM343.2 262.5h8.2v8.3h-8.2zM335.5 270.1h8.2v8.3h-8.2zM320.2 277.8h8.2v8.3h-8.2zM312.5 285.5h8.2v8.2h-8.2zM304.9 293.1h8.2v8.2h-8.2zM281.9 300.8h8.2v8.2h-8.2zM174.6 308.4h8.2v8.2h-8.2zM243.6 316.0h8.2v8.2h-8.2zM190.0 323.7h8.2v8.2h-8.2zM205.3 323.7h8.2v8.2h-8.2zM235.9 323.7h8.2v8.2h-8.2zM190.0 331.3h15.8v8.2h-15.8zM251.2 331.3h8.2v8.2h-8.2z"/>
<path fill="#1affe5" d="M281.9 6.6h8.2v8.4h-8.2zM289.5 14.4h8.2v8.4h-8.2zM289.5 22.3h8.2v8.4h-8.2zM281.9 30.1h8.2v8.4h-8.2zM281.9 61.4h8.2v8.4h-8.2zM82.7 77.0h8.2v8.4h-8.2zM90.4 92.5h8.2v8.4h-8.2zM274.2 92.5h8.2v8.4h-8.2zM274.2 115.9h8.2v8.4h-8.2zM274.2 123.6h8.2v8.4h-8.2zM274.2 139.1h8.2v8.3h-8.2zM281.9 154.6h23.5v8.3h-23.5zM281.9 162.4h15.8v8.3h-15.8zM312.5 162.4h8.2v8.3h-8.2zM274.2 170.1h8.2v8.3h-8.2zM289.5 170.1h8.2v8.3h-8.2zM289.5 177.8h8.2v8.3h-8.2zM281.9 185.5h8.2v8.3h-8.2zM297.2 185.5h8.2v8.3h-8.2zM320.2 185.5h8.2v8.3h-8.2zM281.9 193.3h8.2v8.3h-8.2zM304.9 193.3h8.2v8.3h-8.2zM327.8 193.3h23.5v8.3h-23.5zM297.2 201.0h15.8v8.3h-15.8zM289.5 208.7h8.2v8.3h-8.2zM304.9 208.7h8.2v8.3h-8.2zM335.5 208.7h8.2v8.3h-8.2zM320.2 216.4h8.2v8.3h-8.2zM304.9 224.1h8.2v8.3h-8.2zM304.9 231.8h15.8v8.3h-15.8zM297.2 239.5h8.2v8.3h-8.2zM297.2 262.5h23.5v8.3h-23.5zM258.9 270.1h15.8v8.3h-15.8zM281.9 270.1h8.2v8.3h-8.2zM304.9 270.1h8.2v8.3h-8.2zM228.3 277.8h8.2v8.3h-8.2zM258.9 277.8h8.2v8.3h-8.2zM281.9 277.8h15.8v8.3h-15.8zM159.3 285.5h8.2v8.2h-8.2zM258.9 285.5h31.1v8.2h-31.1zM167.0 293.1h8.2v8.2h-8.2zM220.6 293.1h15.8v8.2h-15.8zM243.6 293.1h15.8v8.2h-15.8zM274.2 293.1h8.2v8.2h-8.2zM289.5 293.1h8.2v8.2h-8.2zM182.3 300.8h15.8v8.2h-15.8zM228.3 300.8h15.8v8.2h-15.8zM266.6 300.8h8.2v8.2h-8.2zM289.5 300.8h8.2v8.2h-8.2zM190.0 308.4h15.8v8.2h-15.8zM212.9 308.4h8.2v8.2h-8.2zM228.3 308.4h15.8v8.2h-15.8zM251.2 308.4h8.2v8.2h-8.2zM197.6 316.0h8.2v8.2h-8.2zM220.6 316.0h8.2v8.2h-8.2zM251.2 316.0h8.2v8.2h-8.2zM281.9 316.0h8.2v8.2h-8.2zM197.6 323.7h8.2v8.2h-8.2z"/>
<path fill="#4dffb2" d="M289.5 6.6h8.2v8.4h-8.2zM289.5 37.9h8.2v8.4h-8.2zM281.9 92.5h8.2v8.4h-8.2zM281.9 170.1h8.2v8.3h-8.2zM289.5 185.5h8.2v8.3h-8.2zM312.5 185.5h8.2v8.3h-8.2zM327.8 185.5h8.2v8.3h-8.2zM312.5 193.3h15.8v8.3h-15.8zM312.5 201.0h8.2v8.3h-8.2zM312.5 208.7h8.2v8.3h-8.2zM327.8 208.7h8.2v8.3h-8.2zM327.8 216.4h15.8v8.3h-15.8zM312.5 224.1h31.1v8.3h-31.1zM335.5 231.8h8.2v8.3h-8.2zM304.9 239.5h15.8v8.3h-15.8zM297.2 247.1h23.5v8.3h-23.5zM289.5 254.8h31.1v8.3h-31.1zM266.6 262.5h31.1v8.3h-31.1zM320.2 262.5h23.5v8.3h-23.5zM289.5 270.1h15.8v8.3h-15.8zM297.2 277.8h15.8v8.3h-15.8zM289.5 285.5h15.8v8.2h-15.8zM266.6 293.1h8.2v8.2h-8.2zM281.9 293.1h8.2v8.2h-8.2zM297.2 293.1h8.2v8.2h-8.2zM167.0 300.8h8.2v8.2h-8.2zM243.6 300.8h23.5v8.2h-23.5zM297.2 300.8h8.2v8.2h-8.2zM220.6 308.4h8.2v8.2h-8.2zM243.6 308.4h8.2v8.2h-8.2zM258.9 308.4h15.8v8.2h-15.8zM190.0 316.0h8.2v8.2h-8.2zM205.3 316.0h15.8v8.2h-15.8zM228.3 316.0h8.2v8.2h-8.2zM228.3 323.7h8.2v8.2h-8.2zM251.2 323.7h8.2v8.2h-8.2z"/>
<path fill="#0000e6" d="M113.4 14.4h46.5v8.4h-46.5zM174.6 14.4h31.1v8.4h-31.1zM212.9 14.4h8.2v8.4h-8.2zM128.7 22.3h38.8v8.4h-38.8zM190.0 22.3h23.5v8.4h-23.5zM136.3 30.1h31.1v8.4h-31.1zM174.6 30.1h23.5v8.4h-23.5zM205.3 30.1h8.2v8.4h-8.2zM128.7 37.9h38.8v8.4h-38.8zM174.6 37.9h15.8v8.4h-15.8zM90.4 45.7h115.4v8.4h-115.4zM82.7 53.5h107.7v8.4h-107.7zM105.7 61.4h92.4v8.4h-92.4zM105.7 69.2h107.7v8.4h-107.7zM105.7 77.0h77.1v8.4h-77.1zM190.0 77.0h23.5v8.4h-23.5zM105.7 84.7h54.1v8.4h-54.1zM167.0 84.7h23.5v8.4h-23.5zM205.3 84.7h8.2v8.4h-8.2zM113.4 92.5h84.8v8.4h-84.8zM212.9 92.5h15.8v8.4h-15.8zM113.4 100.3h100.1v8.4h-100.1zM113.4 108.1h84.8v8.4h-84.8zM113.4 115.9h92.4v8.4h-92.4zM220.6 115.9h8.2v8.4h-8.2zM113.4 123.6h46.5v8.4h-46.5zM167.0 123.6h38.8v8.4h-38.8zM113.4 131.4h107.7v8.4h-107.7zM144.0 139.1h8.2v8.3h-8.2zM159.3 139.1h23.5v8.3h-23.5zM190.0 139.1h23.5v8.3h-23.5zM128.7 146.9h15.8v8.3h-15.8zM151.7 146.9h8.2v8.3h-8.2zM182.3 146.9h38.8v8.3h-38.8zM128.7 154.6h15.8v8.3h-15.8zM167.0 154.6h15.8v8.3h-15.8zM197.6 170.1h8.2v8.3h-8.2zM220.6 170.1h8.2v8.3h-8.2zM205.3 185.5h8.2v8.3h-8.2zM144.0 193.3h8.2v8.3h-8.2zM159.3 193.3h8.2v8.3h-8.2zM174.6 193.3h8.2v8.3h-8.2zM212.9 193.3h8.2v8.3h-8.2zM136.3 201.0h15.8v8.3h-15.8zM174.6 201.0h8.2v8.3h-8.2zM136.3 208.7h31.1v8.3h-31.1zM190.0 208.7h8.2v8.3h-8.2zM136.3 216.4h54.1v8.3h-54.1zM136.3 224.1h54.1v8.3h-54.1zM136.3 231.8h46.5v8.3h-46.5zM136.3 239.5h8.2v8.3h-8.2zM151.7 239.5h31.1v8.3h-31.1zM113.4 247.1h8.2v8.3h-8.2zM159.3 247.1h15.8v8.3h-15.8zM113.4 254.8h8.2v8.3h-8.2zM167.0 254.8h8.2v8.3h-8.2zM67.4 270.1h23.5v8.3h-23.5zM67.4 277.8h23.5v8.3h-23.5zM52.1 285.5h38.8v8.2h-38.8zM105.7 285.5h8.2v8.2h-8.2zM52.1 293.1h31.1v8.2h-31.1zM113.4 293.1h8.2v8.2h-8.2zM52.1 300.8h23.5v8.2h-23.5zM105.7 300.8h8.2v8.2h-8.2zM52.1 308.4h23.5v8.2h-23.5zM98.0 308.4h15.8v8.2h-15.8zM44.4 316.0h31.1v8.2h-31.1zM98.0 316.0h8.2v8.2h-8.2zM98.0 323.7h15.8v8.2h-15.8zM98.0 331.3h15.8v8.2h-15.8zM98.0 338.9h15.8v8.2h-15.8z"/>
<path fill="#e5ff1a" d="M304.9 14.4h8.2v8.4h-8.2zM281.9 77.0h8.2v8.4h-8.2zM327.8 131.4h8.2v8.4h-8.2zM343.2 131.4h8.2v8.4h-8.2zM274.2 154.6h8.2v8.3h-8.2zM327.8 154.6h8.2v8.3h-8.2zM312.5 177.8h15.8v8.3h-15.8zM327.8 201.0h15.8v8.3h-15.8zM327.8 239.5h15.8v8.3h-15.8zM327.8 247.1h15.8v8.3h-15.8zM343.2 270.1h8.2v8.3h-8.2zM335.5 277.8h8.2v8.3h-8.2zM335.5 285.5h15.8v8.2h-15.8zM281.9 308.4h8.2v8.2h-8.2zM297.2 308.4h8.2v8.2h-8.2zM212.9 323.7h8.2v8.2h-8.2zM205.3 331.3h23.5v8.2h-23.5zM235.9 331.3h8.2v8.2h-8.2zM197.6 338.9h8.2v8.2h-8.2z"/>
<path fill="#ffb300" d="M82.7 84.7h8.2v8.4h-8.2zM312.5 123.6h23.5v8.4h-23.5zM312.5 131.4h15.8v8.4h-15.8zM312.5 154.6h15.8v8.3h-15.8zM335.5 154.6h15.8v8.3h-15.8zM320.2 162.4h8.2v8.3h-8.2zM335.5 162.4h8.2v8.3h-8.2zM312.5 170.1h15.8v8.3h-15.8zM335.5 170.1h15.8v8.3h-15.8zM335.5 177.8h15.8v8.3h-15.8zM335.5 293.1h8.2v8.2h-8.2zM167.0 308.4h8.2v8.2h-8.2zM228.3 331.3h8.2v8.2h-8.2zM297.2 331.3h8.2v8.2h-8.2zM243.6 346.5h8.2v8.2h-8.2zM228.3 354.1h8.2v8.2h-8.2z"/>
<path fill="#ff1a00" d="M312.5 115.9h23.5v8.4h-23.5zM320.2 300.8h15.8v8.2h-15.8zM312.5 308.4h15.8v8.2h-15.8zM266.6 316.0h8.2v8.2h-8.2zM304.9 316.0h15.8v8.2h-15.8zM281.9 323.7h8.2v8.2h-8.2zM304.9 323.7h15.8v8.2h-15.8zM304.9 331.3h8.2v8.2h-8.2zM182.3 338.9h8.2v8.2h-8.2zM205.3 338.9h8.2v8.2h-8.2zM251.2 338.9h8.2v8.2h-8.2zM289.5 338.9h8.2v8.2h-8.2zM220.6 346.5h8.2v8.2h-8.2zM235.9 346.5h8.2v8.2h-8.2zM251.2 346.5h8.2v8.2h-8.2z"/>
<path fill="#0000b2" d="M113.4 139.1h31.1v8.3h-31.1zM151.7 139.1h8.2v8.3h-8.2zM182.3 139.1h8.2v8.3h-8.2zM121.0 146.9h8.2v8.3h-8.2zM144.0 146.9h8.2v8.3h-8.2zM159.3 146.9h23.5v8.3h-23.5zM121.0 154.6h8.2v8.3h-8.2zM144.0 154.6h23.5v8.3h-23.5zM182.3 154.6h23.5v8.3h-23.5zM174.6 162.4h31.1v8.3h-31.1zM174.6 170.1h23.5v8.3h-23.5zM174.6 177.8h31.1v8.3h-31.1zM174.6 185.5h31.1v8.3h-31.1zM136.3 193.3h8.2v8.3h-8.2zM151.7 193.3h8.2v8.3h-8.2zM167.0 193.3h8.2v8.3h-8.2zM182.3 193.3h15.8v8.3h-15.8zM151.7 201.0h23.5v8.3h-23.5zM182.3 201.0h23.5v8.3h-23.5zM167.0 208.7h23.5v8.3h-23.5zM197.6 208.7h8.2v8.3h-8.2z"/>
<path fill="#ff8000" d="M320.2 139.1h8.2v8.3h-8.2zM327.8 293.1h8.2v8.2h-8.2zM343.2 293.1h8.2v8.2h-8.2zM304.9 308.4h8.2v8.2h-8.2zM258.9 316.0h8.2v8.2h-8.2zM258.9 323.7h8.2v8.2h-8.2zM182.3 331.3h8.2v8.2h-8.2z"/>
<path fill="#ffe500" d="M327.8 170.1h8.2v8.3h-8.2zM343.2 224.1h8.2v8.3h-8.2zM343.2 247.1h8.2v8.3h-8.2zM343.2 277.8h8.2v8.3h-8.2zM312.5 293.1h15.8v8.2h-15.8zM274.2 300.8h8.2v8.2h-8.2zM304.9 300.8h15.8v8.2h-15.8zM235.9 316.0h8.2v8.2h-8.2zM289.5 316.0h15.8v8.2h-15.8zM182.3 323.7h8.2v8.2h-8.2zM289.5 323.7h8.2v8.2h-8.2zM289.5 331.3h8.2v8.2h-8.2zM220.6 338.9h8.2v8.2h-8.2zM235.9 338.9h15.8v8.2h-15.8zM228.3 346.5h8.2v8.2h-8.2z"/>
<path fill="#800000" d="M90.4 262.5h8.2v8.3h-8.2z"/>
<path fill="#b30000" d="M335.5 300.8h8.2v8.2h-8.2zM174.6 323.7h8.2v8.2h-8.2zM297.2 323.7h8.2v8.2h-8.2zM228.3 338.9h8.2v8.2h-8.2zM258.9 338.9h8.2v8.2h-8.2zM182.3 346.5h23.5v8.2h-23.5zM220.6 354.1h8.2v8.2h-8.2zM235.9 354.1h15.8v8.2h-15.8zM212.9 361.7h23.5v8.2h-23.5zM197.6 369.3h23.5v8.2h-23.5zM228.3 369.3h8.2v8.2h-8.2zM205.3 376.9h15.8v8.2h-15.8z"/>
<path fill="#ff4c00" d="M174.6 316.0h8.2v8.2h-8.2zM220.6 323.7h8.2v8.2h-8.2zM258.9 331.3h8.2v8.2h-8.2zM190.0 338.9h8.2v8.2h-8.2zM212.9 338.9h8.2v8.2h-8.2z"/><path d="M268.0 2.7L270.4 8.8L271.0 10.5L272.0 18.3L272.8 26.2L272.8 34.0L272.8 41.8L273.1 49.6L272.8 57.5L272.8 65.3L272.4 73.1L272.2 80.9L271.9 88.6L271.1 96.4L270.4 99.3L269.1 104.2L269.0 112.0L269.6 119.7L270.4 125.6L270.7 127.5L270.6 135.3L272.1 143.0M97.3 104.2L97.7 96.4L95.2 88.6L94.2 84.4L92.9 80.9L86.6 75.9M270.4 149.3L269.9 150.8L268.2 158.5L267.4 166.2L267.9 174.0L270.4 181.0L270.6 181.7L271.8 189.4L275.4 197.1L276.4 204.8L275.8 212.5L273.3 220.2L272.3 227.9L271.3 235.6L270.4 237.5L268.1 243.3L262.7 248.7L260.4 251.0L255.1 254.8L250.6 258.6L247.4 261.8L240.7 266.3L239.8 267.0L232.1 272.1L224.4 272.3L218.7 274.0L216.8 274.9L209.1 277.8L204.3 281.6L201.4 283.9L193.8 287.0L188.0 289.3L186.1 289.8L184.2 289.3L178.5 287.9L170.8 282.8L168.8 281.6L163.2 278.6L155.5 276.5" stroke="#000" stroke-width="1.1" fill="none" stroke-linejoin="round"/>
<use href="#landg"/>
<g clip-path="url(#landclip)"><line x1="58.0" y1="0.0" x2="58.0" y2="427.5" class="g"/>
<line x1="115.9" y1="0.0" x2="115.9" y2="427.5" class="g"/>
<line x1="173.9" y1="0.0" x2="173.9" y2="427.5" class="g"/>
<line x1="231.9" y1="0.0" x2="231.9" y2="427.5" class="g"/>
<line x1="289.8" y1="0.0" x2="289.8" y2="427.5" class="g"/>
<line x1="0.0" y1="72.4" x2="347.8" y2="72.4" class="g"/>
<line x1="0.0" y1="144.3" x2="347.8" y2="144.3" class="g"/>
<line x1="0.0" y1="215.7" x2="347.8" y2="215.7" class="g"/>
<line x1="0.0" y1="286.8" x2="347.8" y2="286.8" class="g"/>
<line x1="0.0" y1="357.3" x2="347.8" y2="357.3" class="g"/></g>
</g>
<path d="M58.5 47.5L74.1 47.5M60.8 42.0L71.8 53.0M66.3 39.7L66.3 55.3M71.8 42.0L60.8 53.0" stroke="#ff1a1a" stroke-width="1.3"/>
<path d="M96.6 156.3L112.2 156.3M98.9 150.8L109.9 161.8M104.4 148.5L104.4 164.1M109.9 150.8L98.9 161.8" stroke="#ff1a1a" stroke-width="1.3"/>
<path d="M106.0 250.3L121.6 250.3M108.3 244.8L119.3 255.8M113.8 242.5L113.8 258.1M119.3 244.8L108.3 255.8" stroke="#ff1a1a" stroke-width="1.3"/>
<path d="M54.4 271.8L70.0 271.8M56.7 266.3L67.7 277.3M62.2 264.0L62.2 279.6M67.7 266.3L56.7 277.3" stroke="#ff1a1a" stroke-width="1.3"/>
<path d="M2.6 320.5L18.2 320.5M4.9 315.0L15.9 326.0M10.4 312.7L10.4 328.3M15.9 315.0L4.9 326.0" stroke="#ff1a1a" stroke-width="1.3"/>
</g>
<line x1="516.5" y1="569.8" x2="516.5" y2="565.8" class="t"/>
<line x1="516.5" y1="142.3" x2="516.5" y2="146.3" class="t"/>
<line x1="574.4" y1="569.8" x2="574.4" y2="565.8" class="t"/>
<line x1="574.4" y1="142.3" x2="574.4" y2="146.3" class="t"/>
<line x1="632.4" y1="569.8" x2="632.4" y2="565.8" class="t"/>
<line x1="632.4" y1="142.3" x2="632.4" y2="146.3" class="t"/>
<line x1="690.4" y1="569.8" x2="690.4" y2="565.8" class="t"/>
<line x1="690.4" y1="142.3" x2="690.4" y2="146.3" class="t"/>
<line x1="748.3" y1="569.8" x2="748.3" y2="565.8" class="t"/>
<line x1="748.3" y1="142.3" x2="748.3" y2="146.3" class="t"/>
<line x1="458.5" y1="214.7" x2="462.5" y2="214.7" class="t"/>
<line x1="806.3" y1="214.7" x2="802.3" y2="214.7" class="t"/>
<line x1="458.5" y1="286.6" x2="462.5" y2="286.6" class="t"/>
<line x1="806.3" y1="286.6" x2="802.3" y2="286.6" class="t"/>
<line x1="458.5" y1="358.0" x2="462.5" y2="358.0" class="t"/>
<line x1="806.3" y1="358.0" x2="802.3" y2="358.0" class="t"/>
<line x1="458.5" y1="429.1" x2="462.5" y2="429.1" class="t"/>
<line x1="806.3" y1="429.1" x2="802.3" y2="429.1" class="t"/>
<line x1="458.5" y1="499.6" x2="462.5" y2="499.6" class="t"/>
<line x1="806.3" y1="499.6" x2="802.3" y2="499.6" class="t"/>
<rect x="458.5" y="142.3" width="347.8" height="427.5" class="fr"/>
<text x="452.7" y="149.9" class="L" text-anchor="end">37°N</text>
<text x="452.7" y="221.6" class="S" text-anchor="end">30'</text>
<text x="452.7" y="294.2" class="L" text-anchor="end">36°N</text>
<text x="452.7" y="364.9" class="S" text-anchor="end">30'</text>
<text x="452.7" y="436.7" class="L" text-anchor="end">35°N</text>
<text x="452.7" y="506.5" class="S" text-anchor="end">30'</text>
<text x="452.7" y="577.4" class="L" text-anchor="end">34°N</text>
<text x="458.5" y="587.3" class="S" text-anchor="middle">30'</text>
<text x="519.7" y="590.8" class="L" text-anchor="middle">76°W</text>
<text x="574.4" y="587.3" class="S" text-anchor="middle">30'</text>
<text x="635.6" y="590.8" class="L" text-anchor="middle">75°W</text>
<text x="690.4" y="587.3" class="S" text-anchor="middle">30'</text>
<text x="751.5" y="590.8" class="L" text-anchor="middle">74°W</text>
<text x="806.3" y="587.3" class="S" text-anchor="middle">30'</text>
<g transform="translate(843.5,142.3)">
<g clip-path="url(#clipP)">
<line x1="58.0" y1="0.0" x2="58.0" y2="427.5" class="g"/>
<line x1="115.9" y1="0.0" x2="115.9" y2="427.5" class="g"/>
<line x1="173.9" y1="0.0" x2="173.9" y2="427.5" class="g"/>
<line x1="231.9" y1="0.0" x2="231.9" y2="427.5" class="g"/>
<line x1="289.8" y1="0.0" x2="289.8" y2="427.5" class="g"/>
<line x1="0.0" y1="72.4" x2="347.8" y2="72.4" class="g"/>
<line x1="0.0" y1="144.3" x2="347.8" y2="144.3" class="g"/>
<line x1="0.0" y1="215.7" x2="347.8" y2="215.7" class="g"/>
<line x1="0.0" y1="286.8" x2="347.8" y2="286.8" class="g"/>
<line x1="0.0" y1="357.3" x2="347.8" y2="357.3" class="g"/>
<path fill="#0080ff" d="M67.4 -1.3h8.2v8.4h-8.2zM136.3 -1.3h15.8v8.4h-15.8zM182.3 -1.3h15.8v8.4h-15.8zM67.4 6.6h8.2v8.4h-8.2zM128.7 6.6h8.2v8.4h-8.2zM159.3 6.6h23.5v8.4h-23.5zM159.3 14.4h15.8v8.4h-15.8zM182.3 14.4h8.2v8.4h-8.2zM205.3 14.4h8.2v8.4h-8.2zM144.0 22.3h38.8v8.4h-38.8zM190.0 22.3h8.2v8.4h-8.2zM205.3 22.3h8.2v8.4h-8.2zM220.6 22.3h8.2v8.4h-8.2zM151.7 30.1h15.8v8.4h-15.8zM174.6 30.1h15.8v8.4h-15.8zM197.6 30.1h8.2v8.4h-8.2zM144.0 37.9h38.8v8.4h-38.8zM197.6 37.9h8.2v8.4h-8.2zM220.6 37.9h8.2v8.4h-8.2zM159.3 45.7h23.5v8.4h-23.5zM190.0 45.7h15.8v8.4h-15.8zM151.7 53.5h15.8v8.4h-15.8zM174.6 53.5h23.5v8.4h-23.5zM205.3 53.5h8.2v8.4h-8.2zM151.7 61.4h8.2v8.4h-8.2zM167.0 61.4h38.8v8.4h-38.8zM82.7 69.2h8.2v8.4h-8.2zM144.0 69.2h15.8v8.4h-15.8zM167.0 69.2h8.2v8.4h-8.2zM182.3 69.2h15.8v8.4h-15.8zM205.3 69.2h8.2v8.4h-8.2zM159.3 77.0h46.5v8.4h-46.5zM159.3 84.7h8.2v8.4h-8.2zM174.6 84.7h15.8v8.4h-15.8zM205.3 84.7h8.2v8.4h-8.2zM90.4 92.5h8.2v8.4h-8.2zM151.7 92.5h38.8v8.4h-38.8zM144.0 100.3h31.1v8.4h-31.1zM212.9 100.3h15.8v8.4h-15.8zM151.7 108.1h23.5v8.4h-23.5zM182.3 108.1h8.2v8.4h-8.2zM197.6 108.1h23.5v8.4h-23.5zM159.3 115.9h38.8v8.4h-38.8zM159.3 123.6h23.5v8.4h-23.5zM220.6 123.6h8.2v8.4h-8.2zM167.0 131.4h8.2v8.4h-8.2zM182.3 131.4h23.5v8.4h-23.5zM212.9 131.4h8.2v8.4h-8.2zM167.0 139.1h8.2v8.3h-8.2zM190.0 139.1h15.8v8.3h-15.8zM182.3 146.9h8.2v8.3h-8.2zM197.6 146.9h23.5v8.3h-23.5zM197.6 154.6h8.2v8.3h-8.2zM212.9 154.6h8.2v8.3h-8.2zM190.0 162.4h23.5v8.3h-23.5zM190.0 170.1h23.5v8.3h-23.5zM121.0 177.8h8.2v8.3h-8.2zM205.3 177.8h15.8v8.3h-15.8zM205.3 193.3h8.2v8.3h-8.2zM128.7 201.0h8.2v8.3h-8.2zM205.3 201.0h15.8v8.3h-15.8zM128.7 208.7h8.2v8.3h-8.2zM205.3 208.7h8.2v8.3h-8.2zM128.7 216.4h8.2v8.3h-8.2zM190.0 216.4h15.8v8.3h-15.8zM182.3 224.1h8.2v8.3h-8.2zM197.6 224.1h8.2v8.3h-8.2zM205.3 231.8h8.2v8.3h-8.2zM205.3 239.5h8.2v8.3h-8.2zM190.0 247.1h8.2v8.3h-8.2zM197.6 254.8h23.5v8.3h-23.5zM190.0 262.5h8.2v8.3h-8.2zM105.7 270.1h8.2v8.3h-8.2zM167.0 270.1h8.2v8.3h-8.2zM190.0 270.1h15.8v8.3h-15.8zM105.7 277.8h8.2v8.3h-8.2zM151.7 277.8h23.5v8.3h-23.5zM182.3 277.8h8.2v8.3h-8.2zM220.6 277.8h8.2v8.3h-8.2zM52.1 285.5h8.2v8.2h-8.2zM82.7 285.5h8.2v8.2h-8.2zM113.4 285.5h8.2v8.2h-8.2zM136.3 285.5h31.1v8.2h-31.1zM190.0 285.5h23.5v8.2h-23.5zM44.4 293.1h8.2v8.2h-8.2zM75.1 293.1h8.2v8.2h-8.2zM113.4 293.1h38.8v8.2h-38.8zM167.0 293.1h8.2v8.2h-8.2zM182.3 293.1h23.5v8.2h-23.5zM44.4 300.8h8.2v8.2h-8.2zM67.4 300.8h8.2v8.2h-8.2zM121.0 300.8h15.8v8.2h-15.8zM159.3 300.8h15.8v8.2h-15.8zM190.0 300.8h23.5v8.2h-23.5zM44.4 308.4h8.2v8.2h-8.2zM67.4 308.4h8.2v8.2h-8.2zM128.7 308.4h8.2v8.2h-8.2zM174.6 308.4h8.2v8.2h-8.2zM44.4 316.0h8.2v8.2h-8.2zM59.7 316.0h8.2v8.2h-8.2zM174.6 316.0h23.5v8.2h-23.5zM44.4 323.7h8.2v8.2h-8.2zM174.6 323.7h23.5v8.2h-23.5zM205.3 323.7h8.2v8.2h-8.2zM44.4 331.3h15.8v8.2h-15.8zM182.3 331.3h8.2v8.2h-8.2zM205.3 331.3h8.2v8.2h-8.2zM36.8 338.9h23.5v8.2h-23.5zM197.6 338.9h15.8v8.2h-15.8zM6.1 346.5h31.1v8.2h-31.1zM44.4 346.5h15.8v8.2h-15.8zM52.1 354.1h8.2v8.2h-8.2zM6.1 361.7h8.2v8.2h-8.2zM44.4 361.7h15.8v8.2h-15.8zM13.8 369.3h23.5v8.2h-23.5zM44.4 369.3h8.2v8.2h-8.2zM82.7 369.3h8.2v8.2h-8.2zM21.4 376.9h31.1v8.2h-31.1zM29.1 384.5h8.2v8.2h-8.2z"/>
<path fill="#00e5ff" d="M75.1 -1.3h8.2v8.4h-8.2zM90.4 -1.3h31.1v8.4h-31.1zM98.0 6.6h23.5v8.4h-23.5zM113.4 14.4h8.2v8.4h-8.2zM75.1 22.3h54.1v8.4h-54.1zM75.1 30.1h61.8v8.4h-61.8zM75.1 37.9h46.5v8.4h-46.5zM128.7 37.9h8.2v8.4h-8.2zM128.7 45.7h15.8v8.4h-15.8zM121.0 53.5h15.8v8.4h-15.8zM82.7 61.4h8.2v8.4h-8.2zM121.0 61.4h15.8v8.4h-15.8zM113.4 69.2h8.2v8.4h-8.2zM136.3 69.2h8.2v8.4h-8.2zM90.4 77.0h8.2v8.4h-8.2zM121.0 77.0h15.8v8.4h-15.8zM121.0 84.7h23.5v8.4h-23.5zM121.0 92.5h23.5v8.4h-23.5zM98.0 100.3h8.2v8.4h-8.2zM128.7 100.3h8.2v8.4h-8.2zM98.0 108.1h8.2v8.4h-8.2zM128.7 108.1h15.8v8.4h-15.8zM98.0 115.9h8.2v8.4h-8.2zM144.0 115.9h8.2v8.4h-8.2zM98.0 123.6h8.2v8.4h-8.2zM144.0 123.6h8.2v8.4h-8.2zM151.7 131.4h8.2v8.4h-8.2zM159.3 139.1h8.2v8.3h-8.2zM174.6 146.9h8.2v8.3h-8.2zM159.3 154.6h8.2v8.3h-8.2zM174.6 154.6h8.2v8.3h-8.2zM159.3 162.4h23.5v8.3h-23.5zM144.0 170.1h8.2v8.3h-8.2zM159.3 170.1h15.8v8.3h-15.8zM128.7 177.8h8.2v8.3h-8.2zM144.0 177.8h8.2v8.3h-8.2zM159.3 177.8h23.5v8.3h-23.5zM144.0 185.5h38.8v8.3h-38.8zM190.0 185.5h8.2v8.3h-8.2zM144.0 193.3h8.2v8.3h-8.2zM159.3 193.3h15.8v8.3h-15.8zM182.3 193.3h8.2v8.3h-8.2zM151.7 201.0h15.8v8.3h-15.8zM182.3 201.0h15.8v8.3h-15.8zM159.3 208.7h15.8v8.3h-15.8zM182.3 208.7h8.2v8.3h-8.2zM159.3 216.4h23.5v8.3h-23.5zM128.7 224.1h8.2v8.3h-8.2zM167.0 224.1h15.8v8.3h-15.8zM167.0 231.8h8.2v8.3h-8.2zM159.3 239.5h23.5v8.3h-23.5zM159.3 247.1h15.8v8.3h-15.8zM151.7 254.8h23.5v8.3h-23.5zM144.0 262.5h8.2v8.3h-8.2zM67.4 270.1h8.2v8.3h-8.2zM82.7 270.1h8.2v8.3h-8.2zM136.3 270.1h15.8v8.3h-15.8zM121.0 277.8h15.8v8.3h-15.8zM174.6 277.8h8.2v8.3h-8.2zM59.7 285.5h8.2v8.2h-8.2zM174.6 285.5h8.2v8.2h-8.2zM52.1 293.1h15.8v8.2h-15.8zM59.7 300.8h8.2v8.2h-8.2zM182.3 300.8h8.2v8.2h-8.2zM52.1 308.4h8.2v8.2h-8.2zM29.1 354.1h8.2v8.2h-8.2z"/>
<path fill="#1affe5" d="M82.7 -1.3h8.2v8.4h-8.2zM75.1 6.6h8.2v8.4h-8.2zM90.4 6.6h8.2v8.4h-8.2zM105.7 14.4h8.2v8.4h-8.2zM121.0 37.9h8.2v8.4h-8.2zM75.1 45.7h8.2v8.4h-8.2zM121.0 45.7h8.2v8.4h-8.2zM113.4 53.5h8.2v8.4h-8.2zM113.4 61.4h8.2v8.4h-8.2zM105.7 69.2h8.2v8.4h-8.2zM121.0 69.2h8.2v8.4h-8.2zM113.4 77.0h8.2v8.4h-8.2zM144.0 77.0h8.2v8.4h-8.2zM113.4 84.7h8.2v8.4h-8.2zM98.0 92.5h8.2v8.4h-8.2zM113.4 92.5h8.2v8.4h-8.2zM121.0 100.3h8.2v8.4h-8.2zM121.0 108.1h8.2v8.4h-8.2zM136.3 115.9h8.2v8.4h-8.2zM144.0 131.4h8.2v8.4h-8.2zM151.7 139.1h8.2v8.3h-8.2zM151.7 146.9h8.2v8.3h-8.2zM151.7 154.6h8.2v8.3h-8.2zM151.7 162.4h8.2v8.3h-8.2zM121.0 170.1h23.5v8.3h-23.5zM136.3 177.8h8.2v8.3h-8.2zM136.3 185.5h8.2v8.3h-8.2zM136.3 193.3h8.2v8.3h-8.2zM151.7 193.3h8.2v8.3h-8.2zM174.6 193.3h8.2v8.3h-8.2zM136.3 201.0h15.8v8.3h-15.8zM167.0 201.0h15.8v8.3h-15.8zM136.3 208.7h23.5v8.3h-23.5zM174.6 208.7h8.2v8.3h-8.2zM136.3 216.4h8.2v8.3h-8.2zM151.7 216.4h8.2v8.3h-8.2zM159.3 224.1h8.2v8.3h-8.2zM121.0 231.8h8.2v8.3h-8.2zM159.3 231.8h8.2v8.3h-8.2zM151.7 239.5h8.2v8.3h-8.2zM151.7 247.1h8.2v8.3h-8.2zM113.4 262.5h8.2v8.3h-8.2zM121.0 270.1h15.8v8.3h-15.8zM59.7 277.8h8.2v8.3h-8.2zM82.7 277.8h8.2v8.3h-8.2zM52.1 300.8h8.2v8.2h-8.2zM52.1 316.0h8.2v8.2h-8.2z"/>
<path fill="#00b2ff" d="M121.0 -1.3h15.8v8.4h-15.8zM151.7 -1.3h8.2v8.4h-8.2zM174.6 -1.3h8.2v8.4h-8.2zM121.0 6.6h8.2v8.4h-8.2zM136.3 6.6h23.5v8.4h-23.5zM121.0 14.4h31.1v8.4h-31.1zM174.6 14.4h8.2v8.4h-8.2zM128.7 22.3h15.8v8.4h-15.8zM182.3 22.3h8.2v8.4h-8.2zM136.3 30.1h15.8v8.4h-15.8zM136.3 37.9h8.2v8.4h-8.2zM182.3 37.9h8.2v8.4h-8.2zM144.0 45.7h15.8v8.4h-15.8zM182.3 45.7h8.2v8.4h-8.2zM136.3 53.5h15.8v8.4h-15.8zM136.3 61.4h15.8v8.4h-15.8zM159.3 61.4h8.2v8.4h-8.2zM128.7 69.2h8.2v8.4h-8.2zM159.3 69.2h8.2v8.4h-8.2zM174.6 69.2h8.2v8.4h-8.2zM136.3 77.0h8.2v8.4h-8.2zM151.7 77.0h8.2v8.4h-8.2zM90.4 84.7h8.2v8.4h-8.2zM144.0 84.7h15.8v8.4h-15.8zM167.0 84.7h8.2v8.4h-8.2zM144.0 92.5h8.2v8.4h-8.2zM136.3 100.3h8.2v8.4h-8.2zM174.6 100.3h15.8v8.4h-15.8zM144.0 108.1h8.2v8.4h-8.2zM174.6 108.1h8.2v8.4h-8.2zM151.7 115.9h8.2v8.4h-8.2zM151.7 123.6h8.2v8.4h-8.2zM159.3 131.4h8.2v8.4h-8.2zM174.6 131.4h8.2v8.4h-8.2zM174.6 139.1h15.8v8.3h-15.8zM159.3 146.9h15.8v8.3h-15.8zM190.0 146.9h8.2v8.3h-8.2zM167.0 154.6h8.2v8.3h-8.2zM182.3 154.6h15.8v8.3h-15.8zM182.3 162.4h8.2v8.3h-8.2zM151.7 170.1h8.2v8.3h-8.2zM174.6 170.1h15.8v8.3h-15.8zM151.7 177.8h8.2v8.3h-8.2zM182.3 177.8h23.5v8.3h-23.5zM128.7 185.5h8.2v8.3h-8.2zM182.3 185.5h8.2v8.3h-8.2zM197.6 185.5h8.2v8.3h-8.2zM128.7 193.3h8.2v8.3h-8.2zM190.0 193.3h15.8v8.3h-15.8zM197.6 201.0h8.2v8.3h-8.2zM190.0 208.7h15.8v8.3h-15.8zM182.3 216.4h8.2v8.3h-8.2zM190.0 224.1h8.2v8.3h-8.2zM174.6 231.8h23.5v8.3h-23.5zM182.3 239.5h15.8v8.3h-15.8zM174.6 247.1h15.8v8.3h-15.8zM174.6 254.8h23.5v8.3h-23.5zM151.7 262.5h38.8v8.3h-38.8zM113.4 270.1h8.2v8.3h-8.2zM151.7 270.1h15.8v8.3h-15.8zM174.6 270.1h15.8v8.3h-15.8zM113.4 277.8h8.2v8.3h-8.2zM136.3 277.8h15.8v8.3h-15.8zM190.0 277.8h8.2v8.3h-8.2zM121.0 285.5h15.8v8.2h-15.8zM182.3 285.5h8.2v8.2h-8.2zM67.4 293.1h8.2v8.2h-8.2zM174.6 293.1h8.2v8.2h-8.2zM174.6 300.8h8.2v8.2h-8.2zM59.7 308.4h8.2v8.2h-8.2zM52.1 323.7h8.2v8.2h-8.2zM174.6 331.3h8.2v8.2h-8.2zM59.7 338.9h8.2v8.2h-8.2zM36.8 346.5h8.2v8.2h-8.2zM6.1 354.1h23.5v8.2h-23.5zM36.8 354.1h15.8v8.2h-15.8zM13.8 361.7h31.1v8.2h-31.1zM36.8 369.3h8.2v8.2h-8.2z"/>
<path fill="#004dff" d="M159.3 -1.3h8.2v8.4h-8.2zM197.6 -1.3h38.8v8.4h-38.8zM243.6 -1.3h15.8v8.4h-15.8zM182.3 6.6h54.1v8.4h-54.1zM251.2 6.6h8.2v8.4h-8.2zM151.7 14.4h8.2v8.4h-8.2zM190.0 14.4h15.8v8.4h-15.8zM212.9 14.4h8.2v8.4h-8.2zM235.9 14.4h15.8v8.4h-15.8zM197.6 22.3h8.2v8.4h-8.2zM212.9 22.3h8.2v8.4h-8.2zM228.3 22.3h8.2v8.4h-8.2zM167.0 30.1h8.2v8.4h-8.2zM190.0 30.1h8.2v8.4h-8.2zM205.3 30.1h23.5v8.4h-23.5zM190.0 37.9h8.2v8.4h-8.2zM205.3 37.9h15.8v8.4h-15.8zM228.3 37.9h15.8v8.4h-15.8zM251.2 37.9h15.8v8.4h-15.8zM205.3 45.7h38.8v8.4h-38.8zM197.6 53.5h8.2v8.4h-8.2zM212.9 53.5h23.5v8.4h-23.5zM243.6 53.5h8.2v8.4h-8.2zM205.3 61.4h31.1v8.4h-31.1zM197.6 69.2h8.2v8.4h-8.2zM212.9 69.2h15.8v8.4h-15.8zM235.9 69.2h23.5v8.4h-23.5zM82.7 77.0h8.2v8.4h-8.2zM205.3 77.0h15.8v8.4h-15.8zM228.3 77.0h15.8v8.4h-15.8zM251.2 77.0h8.2v8.4h-8.2zM190.0 84.7h15.8v8.4h-15.8zM212.9 84.7h8.2v8.4h-8.2zM228.3 84.7h8.2v8.4h-8.2zM251.2 84.7h8.2v8.4h-8.2zM190.0 92.5h46.5v8.4h-46.5zM251.2 92.5h15.8v8.4h-15.8zM90.4 100.3h8.2v8.4h-8.2zM190.0 100.3h23.5v8.4h-23.5zM228.3 100.3h8.2v8.4h-8.2zM251.2 100.3h8.2v8.4h-8.2zM190.0 108.1h8.2v8.4h-8.2zM228.3 108.1h23.5v8.4h-23.5zM197.6 115.9h38.8v8.4h-38.8zM243.6 115.9h8.2v8.4h-8.2zM182.3 123.6h38.8v8.4h-38.8zM235.9 123.6h31.1v8.4h-31.1zM205.3 131.4h8.2v8.4h-8.2zM228.3 131.4h15.8v8.4h-15.8zM205.3 139.1h31.1v8.3h-31.1zM220.6 146.9h15.8v8.3h-15.8zM243.6 146.9h8.2v8.3h-8.2zM205.3 154.6h8.2v8.3h-8.2zM220.6 154.6h8.2v8.3h-8.2zM212.9 162.4h46.5v8.3h-46.5zM212.9 170.1h31.1v8.3h-31.1zM251.2 170.1h8.2v8.3h-8.2zM228.3 177.8h8.2v8.3h-8.2zM121.0 185.5h8.2v8.3h-8.2zM205.3 185.5h23.5v8.3h-23.5zM235.9 185.5h8.2v8.3h-8.2zM258.9 185.5h8.2v8.3h-8.2zM212.9 193.3h23.5v8.3h-23.5zM220.6 201.0h8.2v8.3h-8.2zM235.9 201.0h8.2v8.3h-8.2zM251.2 201.0h8.2v8.3h-8.2zM212.9 208.7h31.1v8.3h-31.1zM205.3 216.4h46.5v8.3h-46.5zM205.3 224.1h38.8v8.3h-38.8zM266.6 224.1h8.2v8.3h-8.2zM197.6 231.8h8.2v8.3h-8.2zM212.9 231.8h15.8v8.3h-15.8zM243.6 231.8h8.2v8.3h-8.2zM197.6 239.5h8.2v8.3h-8.2zM212.9 239.5h15.8v8.3h-15.8zM105.7 247.1h8.2v8.3h-8.2zM197.6 247.1h31.1v8.3h-31.1zM235.9 247.1h15.8v8.3h-15.8zM258.9 247.1h8.2v8.3h-8.2zM105.7 254.8h8.2v8.3h-8.2zM220.6 254.8h15.8v8.3h-15.8zM105.7 262.5h8.2v8.3h-8.2zM197.6 262.5h31.1v8.3h-31.1zM235.9 262.5h15.8v8.3h-15.8zM59.7 270.1h8.2v8.3h-8.2zM205.3 270.1h23.5v8.3h-23.5zM235.9 270.1h8.2v8.3h-8.2zM52.1 277.8h8.2v8.3h-8.2zM197.6 277.8h23.5v8.3h-23.5zM235.9 277.8h8.2v8.3h-8.2zM44.4 285.5h8.2v8.2h-8.2zM105.7 285.5h8.2v8.2h-8.2zM167.0 285.5h8.2v8.2h-8.2zM212.9 285.5h15.8v8.2h-15.8zM235.9 285.5h23.5v8.2h-23.5zM36.8 293.1h8.2v8.2h-8.2zM105.7 293.1h8.2v8.2h-8.2zM151.7 293.1h15.8v8.2h-15.8zM205.3 293.1h8.2v8.2h-8.2zM228.3 293.1h15.8v8.2h-15.8zM251.2 293.1h8.2v8.2h-8.2zM266.6 293.1h8.2v8.2h-8.2zM75.1 300.8h8.2v8.2h-8.2zM113.4 300.8h8.2v8.2h-8.2zM136.3 300.8h23.5v8.2h-23.5zM212.9 300.8h23.5v8.2h-23.5zM258.9 300.8h8.2v8.2h-8.2zM75.1 308.4h8.2v8.2h-8.2zM105.7 308.4h23.5v8.2h-23.5zM136.3 308.4h8.2v8.2h-8.2zM151.7 308.4h23.5v8.2h-23.5zM182.3 308.4h54.1v8.2h-54.1zM243.6 308.4h8.2v8.2h-8.2zM67.4 316.0h8.2v8.2h-8.2zM105.7 316.0h38.8v8.2h-38.8zM197.6 316.0h31.1v8.2h-31.1zM235.9 316.0h8.2v8.2h-8.2zM36.8 323.7h8.2v8.2h-8.2zM59.7 323.7h8.2v8.2h-8.2zM98.0 323.7h38.8v8.2h-38.8zM197.6 323.7h8.2v8.2h-8.2zM212.9 323.7h31.1v8.2h-31.1zM36.8 331.3h8.2v8.2h-8.2zM59.7 331.3h8.2v8.2h-8.2zM90.4 331.3h38.8v8.2h-38.8zM190.0 331.3h15.8v8.2h-15.8zM212.9 331.3h31.1v8.2h-31.1zM29.1 338.9h8.2v8.2h-8.2zM67.4 338.9h8.2v8.2h-8.2zM90.4 338.9h31.1v8.2h-31.1zM182.3 338.9h15.8v8.2h-15.8zM212.9 338.9h8.2v8.2h-8.2zM235.9 338.9h15.8v8.2h-15.8zM75.1 346.5h23.5v8.2h-23.5zM182.3 346.5h31.1v8.2h-31.1zM220.6 346.5h8.2v8.2h-8.2zM59.7 354.1h8.2v8.2h-8.2zM75.1 354.1h23.5v8.2h-23.5zM190.0 354.1h23.5v8.2h-23.5zM59.7 361.7h8.2v8.2h-8.2zM75.1 361.7h15.8v8.2h-15.8zM6.1 369.3h8.2v8.2h-8.2zM52.1 369.3h8.2v8.2h-8.2zM75.1 369.3h8.2v8.2h-8.2zM197.6 369.3h8.2v8.2h-8.2zM13.8 376.9h8.2v8.2h-8.2zM52.1 376.9h15.8v8.2h-15.8zM75.1 376.9h15.8v8.2h-15.8zM13.8 384.5h15.8v8.2h-15.8zM36.8 384.5h15.8v8.2h-15.8zM75.1 384.5h8.2v8.2h-8.2zM21.4 392.1h15.8v8.2h-15.8zM44.4 399.7h8.2v8.2h-8.2zM29.1 407.3h8.2v8.2h-8.2z"/>
<path fill="#001aff" d="M167.0 -1.3h8.2v8.4h-8.2zM235.9 -1.3h8.2v8.4h-8.2zM258.9 -1.3h15.8v8.4h-15.8zM289.5 -1.3h8.2v8.4h-8.2zM312.5 -1.3h15.8v8.4h-15.8zM235.9 6.6h15.8v8.4h-15.8zM258.9 6.6h8.2v8.4h-8.2zM274.2 6.6h8.2v8.4h-8.2zM289.5 6.6h8.2v8.4h-8.2zM304.9 6.6h8.2v8.4h-8.2zM343.2 6.6h8.2v8.4h-8.2zM220.6 14.4h15.8v8.4h-15.8zM251.2 14.4h38.8v8.4h-38.8zM297.2 14.4h31.1v8.4h-31.1zM343.2 14.4h8.2v8.4h-8.2zM235.9 22.3h38.8v8.4h-38.8zM297.2 22.3h46.5v8.4h-46.5zM228.3 30.1h38.8v8.4h-38.8zM281.9 30.1h8.2v8.4h-8.2zM320.2 30.1h8.2v8.4h-8.2zM243.6 37.9h8.2v8.4h-8.2zM266.6 37.9h8.2v8.4h-8.2zM281.9 37.9h23.5v8.4h-23.5zM327.8 37.9h8.2v8.4h-8.2zM243.6 45.7h38.8v8.4h-38.8zM297.2 45.7h8.2v8.4h-8.2zM327.8 45.7h8.2v8.4h-8.2zM343.2 45.7h8.2v8.4h-8.2zM167.0 53.5h8.2v8.4h-8.2zM235.9 53.5h8.2v8.4h-8.2zM251.2 53.5h15.8v8.4h-15.8zM274.2 53.5h15.8v8.4h-15.8zM297.2 53.5h8.2v8.4h-8.2zM327.8 53.5h8.2v8.4h-8.2zM235.9 61.4h46.5v8.4h-46.5zM312.5 61.4h23.5v8.4h-23.5zM228.3 69.2h8.2v8.4h-8.2zM258.9 69.2h15.8v8.4h-15.8zM289.5 69.2h8.2v8.4h-8.2zM304.9 69.2h23.5v8.4h-23.5zM335.5 69.2h15.8v8.4h-15.8zM220.6 77.0h8.2v8.4h-8.2zM243.6 77.0h8.2v8.4h-8.2zM274.2 77.0h15.8v8.4h-15.8zM297.2 77.0h8.2v8.4h-8.2zM82.7 84.7h8.2v8.4h-8.2zM220.6 84.7h8.2v8.4h-8.2zM235.9 84.7h15.8v8.4h-15.8zM258.9 84.7h8.2v8.4h-8.2zM274.2 84.7h8.2v8.4h-8.2zM297.2 84.7h15.8v8.4h-15.8zM320.2 84.7h8.2v8.4h-8.2zM235.9 92.5h15.8v8.4h-15.8zM274.2 92.5h8.2v8.4h-8.2zM320.2 92.5h31.1v8.4h-31.1zM235.9 100.3h15.8v8.4h-15.8zM258.9 100.3h23.5v8.4h-23.5zM297.2 100.3h23.5v8.4h-23.5zM335.5 100.3h8.2v8.4h-8.2zM220.6 108.1h8.2v8.4h-8.2zM251.2 108.1h46.5v8.4h-46.5zM320.2 108.1h8.2v8.4h-8.2zM335.5 108.1h15.8v8.4h-15.8zM235.9 115.9h8.2v8.4h-8.2zM251.2 115.9h23.5v8.4h-23.5zM281.9 115.9h8.2v8.4h-8.2zM297.2 115.9h8.2v8.4h-8.2zM343.2 115.9h8.2v8.4h-8.2zM228.3 123.6h8.2v8.4h-8.2zM266.6 123.6h8.2v8.4h-8.2zM281.9 123.6h15.8v8.4h-15.8zM312.5 123.6h8.2v8.4h-8.2zM327.8 123.6h23.5v8.4h-23.5zM220.6 131.4h8.2v8.4h-8.2zM243.6 131.4h31.1v8.4h-31.1zM327.8 131.4h8.2v8.4h-8.2zM235.9 139.1h31.1v8.3h-31.1zM274.2 139.1h8.2v8.3h-8.2zM289.5 139.1h8.2v8.3h-8.2zM304.9 139.1h8.2v8.3h-8.2zM320.2 139.1h8.2v8.3h-8.2zM343.2 139.1h8.2v8.3h-8.2zM235.9 146.9h8.2v8.3h-8.2zM251.2 146.9h38.8v8.3h-38.8zM297.2 146.9h8.2v8.3h-8.2zM312.5 146.9h15.8v8.3h-15.8zM228.3 154.6h38.8v8.3h-38.8zM289.5 154.6h15.8v8.3h-15.8zM312.5 154.6h15.8v8.3h-15.8zM274.2 162.4h77.1v8.3h-77.1zM243.6 170.1h8.2v8.3h-8.2zM258.9 170.1h8.2v8.3h-8.2zM274.2 170.1h8.2v8.3h-8.2zM289.5 170.1h23.5v8.3h-23.5zM320.2 170.1h31.1v8.3h-31.1zM220.6 177.8h8.2v8.3h-8.2zM235.9 177.8h69.4v8.3h-69.4zM312.5 177.8h38.8v8.3h-38.8zM228.3 185.5h8.2v8.3h-8.2zM243.6 185.5h15.8v8.3h-15.8zM266.6 185.5h77.1v8.3h-77.1zM121.0 193.3h8.2v8.3h-8.2zM235.9 193.3h31.1v8.3h-31.1zM289.5 193.3h46.5v8.3h-46.5zM343.2 193.3h8.2v8.3h-8.2zM121.0 201.0h8.2v8.3h-8.2zM228.3 201.0h8.2v8.3h-8.2zM243.6 201.0h8.2v8.3h-8.2zM258.9 201.0h15.8v8.3h-15.8zM289.5 201.0h38.8v8.3h-38.8zM335.5 201.0h15.8v8.3h-15.8zM121.0 208.7h8.2v8.3h-8.2zM243.6 208.7h31.1v8.3h-31.1zM281.9 208.7h23.5v8.3h-23.5zM312.5 208.7h15.8v8.3h-15.8zM335.5 208.7h15.8v8.3h-15.8zM251.2 216.4h15.8v8.3h-15.8zM274.2 216.4h15.8v8.3h-15.8zM297.2 216.4h8.2v8.3h-8.2zM312.5 216.4h15.8v8.3h-15.8zM335.5 216.4h8.2v8.3h-8.2zM121.0 224.1h8.2v8.3h-8.2zM243.6 224.1h23.5v8.3h-23.5zM274.2 224.1h38.8v8.3h-38.8zM320.2 224.1h8.2v8.3h-8.2zM228.3 231.8h15.8v8.3h-15.8zM251.2 231.8h23.5v8.3h-23.5zM281.9 231.8h23.5v8.3h-23.5zM320.2 231.8h8.2v8.3h-8.2zM335.5 231.8h15.8v8.3h-15.8zM228.3 239.5h46.5v8.3h-46.5zM281.9 239.5h31.1v8.3h-31.1zM320.2 239.5h31.1v8.3h-31.1zM228.3 247.1h8.2v8.3h-8.2zM251.2 247.1h8.2v8.3h-8.2zM266.6 247.1h8.2v8.3h-8.2zM281.9 247.1h8.2v8.3h-8.2zM297.2 247.1h54.1v8.3h-54.1zM235.9 254.8h54.1v8.3h-54.1zM297.2 254.8h15.8v8.3h-15.8zM335.5 254.8h15.8v8.3h-15.8zM82.7 262.5h8.2v8.3h-8.2zM98.0 262.5h8.2v8.3h-8.2zM228.3 262.5h8.2v8.3h-8.2zM251.2 262.5h38.8v8.3h-38.8zM297.2 262.5h8.2v8.3h-8.2zM320.2 262.5h15.8v8.3h-15.8zM90.4 270.1h15.8v8.3h-15.8zM228.3 270.1h8.2v8.3h-8.2zM243.6 270.1h31.1v8.3h-31.1zM281.9 270.1h46.5v8.3h-46.5zM343.2 270.1h8.2v8.3h-8.2zM90.4 277.8h15.8v8.3h-15.8zM228.3 277.8h8.2v8.3h-8.2zM243.6 277.8h23.5v8.3h-23.5zM274.2 277.8h8.2v8.3h-8.2zM312.5 277.8h38.8v8.3h-38.8zM90.4 285.5h15.8v8.2h-15.8zM228.3 285.5h8.2v8.2h-8.2zM258.9 285.5h8.2v8.2h-8.2zM289.5 285.5h8.2v8.2h-8.2zM304.9 285.5h8.2v8.2h-8.2zM320.2 285.5h8.2v8.2h-8.2zM82.7 293.1h23.5v8.2h-23.5zM212.9 293.1h15.8v8.2h-15.8zM243.6 293.1h8.2v8.2h-8.2zM258.9 293.1h8.2v8.2h-8.2zM274.2 293.1h8.2v8.2h-8.2zM297.2 293.1h31.1v8.2h-31.1zM36.8 300.8h8.2v8.2h-8.2zM82.7 300.8h31.1v8.2h-31.1zM235.9 300.8h23.5v8.2h-23.5zM266.6 300.8h23.5v8.2h-23.5zM297.2 300.8h8.2v8.2h-8.2zM320.2 300.8h8.2v8.2h-8.2zM36.8 308.4h8.2v8.2h-8.2zM82.7 308.4h8.2v8.2h-8.2zM98.0 308.4h8.2v8.2h-8.2zM144.0 308.4h8.2v8.2h-8.2zM235.9 308.4h8.2v8.2h-8.2zM251.2 308.4h15.8v8.2h-15.8zM281.9 308.4h23.5v8.2h-23.5zM21.4 316.0h8.2v8.2h-8.2zM36.8 316.0h8.2v8.2h-8.2zM75.1 316.0h8.2v8.2h-8.2zM98.0 316.0h8.2v8.2h-8.2zM144.0 316.0h31.1v8.2h-31.1zM228.3 316.0h8.2v8.2h-8.2zM243.6 316.0h23.5v8.2h-23.5zM274.2 316.0h8.2v8.2h-8.2zM289.5 316.0h23.5v8.2h-23.5zM13.8 323.7h15.8v8.2h-15.8zM82.7 323.7h15.8v8.2h-15.8zM136.3 323.7h38.8v8.2h-38.8zM243.6 323.7h23.5v8.2h-23.5zM289.5 323.7h8.2v8.2h-8.2zM13.8 331.3h23.5v8.2h-23.5zM75.1 331.3h15.8v8.2h-15.8zM128.7 331.3h46.5v8.2h-46.5zM243.6 331.3h15.8v8.2h-15.8zM6.1 338.9h15.8v8.2h-15.8zM75.1 338.9h15.8v8.2h-15.8zM121.0 338.9h31.1v8.2h-31.1zM159.3 338.9h23.5v8.2h-23.5zM220.6 338.9h15.8v8.2h-15.8zM59.7 346.5h15.8v8.2h-15.8zM98.0 346.5h31.1v8.2h-31.1zM144.0 346.5h38.8v8.2h-38.8zM212.9 346.5h8.2v8.2h-8.2zM228.3 346.5h8.2v8.2h-8.2zM67.4 354.1h8.2v8.2h-8.2zM98.0 354.1h23.5v8.2h-23.5zM182.3 354.1h8.2v8.2h-8.2zM212.9 354.1h15.8v8.2h-15.8zM235.9 354.1h8.2v8.2h-8.2zM67.4 361.7h8.2v8.2h-8.2zM90.4 361.7h15.8v8.2h-15.8zM190.0 361.7h31.1v8.2h-31.1zM59.7 369.3h15.8v8.2h-15.8zM90.4 369.3h8.2v8.2h-8.2zM6.1 376.9h8.2v8.2h-8.2zM67.4 376.9h8.2v8.2h-8.2zM90.4 376.9h8.2v8.2h-8.2zM6.1 384.5h8.2v8.2h-8.2zM52.1 384.5h23.5v8.2h-23.5zM82.7 384.5h8.2v8.2h-8.2zM6.1 392.1h15.8v8.2h-15.8zM36.8 392.1h46.5v8.2h-46.5zM6.1 399.7h38.8v8.2h-38.8zM52.1 399.7h15.8v8.2h-15.8zM21.4 407.3h8.2v8.2h-8.2zM36.8 407.3h15.8v8.2h-15.8zM29.1 414.8h23.5v8.2h-23.5zM29.1 422.4h15.8v8.2h-15.8z"/>
<path fill="#0000e6" d="M274.2 -1.3h15.8v8.4h-15.8zM297.2 -1.3h15.8v8.4h-15.8zM327.8 -1.3h23.5v8.4h-23.5zM266.6 6.6h8.2v8.4h-8.2zM281.9 6.6h8.2v8.4h-8.2zM297.2 6.6h8.2v8.4h-8.2zM312.5 6.6h31.1v8.4h-31.1zM289.5 14.4h8.2v8.4h-8.2zM327.8 14.4h15.8v8.4h-15.8zM274.2 22.3h23.5v8.4h-23.5zM343.2 22.3h8.2v8.4h-8.2zM266.6 30.1h15.8v8.4h-15.8zM289.5 30.1h31.1v8.4h-31.1zM327.8 30.1h23.5v8.4h-23.5zM274.2 37.9h8.2v8.4h-8.2zM304.9 37.9h23.5v8.4h-23.5zM335.5 37.9h15.8v8.4h-15.8zM281.9 45.7h15.8v8.4h-15.8zM304.9 45.7h23.5v8.4h-23.5zM335.5 45.7h8.2v8.4h-8.2zM266.6 53.5h8.2v8.4h-8.2zM289.5 53.5h8.2v8.4h-8.2zM304.9 53.5h23.5v8.4h-23.5zM335.5 53.5h15.8v8.4h-15.8zM281.9 61.4h31.1v8.4h-31.1zM335.5 61.4h15.8v8.4h-15.8zM274.2 69.2h15.8v8.4h-15.8zM297.2 69.2h8.2v8.4h-8.2zM327.8 69.2h8.2v8.4h-8.2zM258.9 77.0h15.8v8.4h-15.8zM289.5 77.0h8.2v8.4h-8.2zM304.9 77.0h46.5v8.4h-46.5zM266.6 84.7h8.2v8.4h-8.2zM281.9 84.7h15.8v8.4h-15.8zM312.5 84.7h8.2v8.4h-8.2zM327.8 84.7h23.5v8.4h-23.5zM266.6 92.5h8.2v8.4h-8.2zM281.9 92.5h38.8v8.4h-38.8zM281.9 100.3h15.8v8.4h-15.8zM320.2 100.3h15.8v8.4h-15.8zM343.2 100.3h8.2v8.4h-8.2zM297.2 108.1h23.5v8.4h-23.5zM327.8 108.1h8.2v8.4h-8.2zM274.2 115.9h8.2v8.4h-8.2zM289.5 115.9h8.2v8.4h-8.2zM304.9 115.9h38.8v8.4h-38.8zM274.2 123.6h8.2v8.4h-8.2zM297.2 123.6h15.8v8.4h-15.8zM320.2 123.6h8.2v8.4h-8.2zM274.2 131.4h54.1v8.4h-54.1zM335.5 131.4h15.8v8.4h-15.8zM266.6 139.1h8.2v8.3h-8.2zM281.9 139.1h8.2v8.3h-8.2zM297.2 139.1h8.2v8.3h-8.2zM312.5 139.1h8.2v8.3h-8.2zM327.8 139.1h15.8v8.3h-15.8zM289.5 146.9h8.2v8.3h-8.2zM304.9 146.9h8.2v8.3h-8.2zM327.8 146.9h23.5v8.3h-23.5zM266.6 154.6h23.5v8.3h-23.5zM304.9 154.6h8.2v8.3h-8.2zM327.8 154.6h23.5v8.3h-23.5zM258.9 162.4h15.8v8.3h-15.8zM266.6 170.1h8.2v8.3h-8.2zM281.9 170.1h8.2v8.3h-8.2zM312.5 170.1h8.2v8.3h-8.2zM304.9 177.8h8.2v8.3h-8.2zM343.2 185.5h8.2v8.3h-8.2zM266.6 193.3h23.5v8.3h-23.5zM335.5 193.3h8.2v8.3h-8.2zM274.2 201.0h15.8v8.3h-15.8zM327.8 201.0h8.2v8.3h-8.2zM274.2 208.7h8.2v8.3h-8.2zM304.9 208.7h8.2v8.3h-8.2zM327.8 208.7h8.2v8.3h-8.2zM121.0 216.4h8.2v8.3h-8.2zM266.6 216.4h8.2v8.3h-8.2zM289.5 216.4h8.2v8.3h-8.2zM304.9 216.4h8.2v8.3h-8.2zM327.8 216.4h8.2v8.3h-8.2zM343.2 216.4h8.2v8.3h-8.2zM312.5 224.1h8.2v8.3h-8.2zM327.8 224.1h23.5v8.3h-23.5zM274.2 231.8h8.2v8.3h-8.2zM304.9 231.8h15.8v8.3h-15.8zM327.8 231.8h8.2v8.3h-8.2zM274.2 239.5h8.2v8.3h-8.2zM312.5 239.5h8.2v8.3h-8.2zM274.2 247.1h8.2v8.3h-8.2zM289.5 247.1h8.2v8.3h-8.2zM90.4 254.8h15.8v8.3h-15.8zM289.5 254.8h8.2v8.3h-8.2zM312.5 254.8h23.5v8.3h-23.5zM90.4 262.5h8.2v8.3h-8.2zM289.5 262.5h8.2v8.3h-8.2zM304.9 262.5h15.8v8.3h-15.8zM335.5 262.5h15.8v8.3h-15.8zM274.2 270.1h8.2v8.3h-8.2zM327.8 270.1h15.8v8.3h-15.8zM266.6 277.8h8.2v8.3h-8.2zM281.9 277.8h31.1v8.3h-31.1zM266.6 285.5h23.5v8.2h-23.5zM297.2 285.5h8.2v8.2h-8.2zM312.5 285.5h8.2v8.2h-8.2zM327.8 285.5h23.5v8.2h-23.5zM281.9 293.1h15.8v8.2h-15.8zM343.2 293.1h8.2v8.2h-8.2zM289.5 300.8h8.2v8.2h-8.2zM304.9 300.8h15.8v8.2h-15.8zM327.8 300.8h8.2v8.2h-8.2zM29.1 308.4h8.2v8.2h-8.2zM90.4 308.4h8.2v8.2h-8.2zM266.6 308.4h15.8v8.2h-15.8zM304.9 308.4h23.5v8.2h-23.5zM29.1 316.0h8.2v8.2h-8.2zM82.7 316.0h15.8v8.2h-15.8zM266.6 316.0h8.2v8.2h-8.2zM281.9 316.0h8.2v8.2h-8.2zM320.2 316.0h8.2v8.2h-8.2zM29.1 323.7h8.2v8.2h-8.2zM67.4 323.7h15.8v8.2h-15.8zM266.6 323.7h15.8v8.2h-15.8zM312.5 323.7h8.2v8.2h-8.2zM67.4 331.3h8.2v8.2h-8.2zM258.9 331.3h8.2v8.2h-8.2zM21.4 338.9h8.2v8.2h-8.2zM151.7 338.9h8.2v8.2h-8.2zM251.2 338.9h15.8v8.2h-15.8zM128.7 346.5h15.8v8.2h-15.8zM235.9 346.5h23.5v8.2h-23.5zM121.0 354.1h46.5v8.2h-46.5zM228.3 354.1h8.2v8.2h-8.2zM243.6 354.1h8.2v8.2h-8.2zM105.7 361.7h15.8v8.2h-15.8zM220.6 361.7h8.2v8.2h-8.2zM98.0 369.3h15.8v8.2h-15.8zM205.3 369.3h8.2v8.2h-8.2zM98.0 376.9h15.8v8.2h-15.8zM90.4 384.5h23.5v8.2h-23.5zM82.7 392.1h15.8v8.2h-15.8zM67.4 399.7h15.8v8.2h-15.8zM6.1 407.3h15.8v8.2h-15.8zM52.1 407.3h23.5v8.2h-23.5zM6.1 414.8h23.5v8.2h-23.5zM6.1 422.4h23.5v8.2h-23.5zM44.4 422.4h8.2v8.2h-8.2z"/>
<path fill="#b3ff4c" d="M82.7 6.6h8.2v8.4h-8.2zM90.4 14.4h8.2v8.4h-8.2zM98.0 45.7h15.8v8.4h-15.8zM82.7 53.5h8.2v8.4h-8.2zM98.0 53.5h8.2v8.4h-8.2zM105.7 115.9h8.2v8.4h-8.2zM121.0 115.9h8.2v8.4h-8.2zM128.7 123.6h8.2v8.4h-8.2zM128.7 131.4h8.2v8.4h-8.2zM136.3 139.1h8.2v8.3h-8.2zM136.3 146.9h8.2v8.3h-8.2zM136.3 154.6h8.2v8.3h-8.2zM121.0 162.4h8.2v8.3h-8.2zM136.3 162.4h8.2v8.3h-8.2zM144.0 216.4h8.2v8.3h-8.2zM144.0 224.1h8.2v8.3h-8.2zM144.0 231.8h8.2v8.3h-8.2z"/>
<path fill="#e5ff1a" d="M75.1 14.4h8.2v8.4h-8.2zM90.4 53.5h8.2v8.4h-8.2zM90.4 61.4h8.2v8.4h-8.2zM113.4 115.9h8.2v8.4h-8.2zM105.7 123.6h8.2v8.4h-8.2zM121.0 123.6h8.2v8.4h-8.2zM128.7 162.4h8.2v8.3h-8.2zM128.7 231.8h8.2v8.3h-8.2zM136.3 247.1h8.2v8.3h-8.2zM136.3 254.8h8.2v8.3h-8.2zM121.0 262.5h15.8v8.3h-15.8zM67.4 277.8h15.8v8.3h-15.8z"/>
<path fill="#ffe500" d="M82.7 14.4h8.2v8.4h-8.2zM113.4 123.6h8.2v8.4h-8.2zM121.0 131.4h8.2v8.4h-8.2zM128.7 139.1h8.2v8.3h-8.2zM128.7 146.9h8.2v8.3h-8.2zM128.7 154.6h8.2v8.3h-8.2zM136.3 231.8h8.2v8.3h-8.2zM136.3 239.5h8.2v8.3h-8.2zM113.4 247.1h8.2v8.3h-8.2zM113.4 254.8h8.2v8.3h-8.2z"/>
<path fill="#4dffb2" d="M98.0 14.4h8.2v8.4h-8.2zM113.4 45.7h8.2v8.4h-8.2zM105.7 53.5h8.2v8.4h-8.2zM105.7 61.4h8.2v8.4h-8.2zM90.4 69.2h8.2v8.4h-8.2zM98.0 77.0h15.8v8.4h-15.8zM98.0 84.7h15.8v8.4h-15.8zM105.7 92.5h8.2v8.4h-8.2zM105.7 100.3h15.8v8.4h-15.8zM128.7 115.9h8.2v8.4h-8.2zM136.3 131.4h8.2v8.4h-8.2zM144.0 139.1h8.2v8.3h-8.2zM144.0 146.9h8.2v8.3h-8.2zM144.0 154.6h8.2v8.3h-8.2zM144.0 162.4h8.2v8.3h-8.2zM151.7 224.1h8.2v8.3h-8.2zM151.7 231.8h8.2v8.3h-8.2zM144.0 247.1h8.2v8.3h-8.2zM144.0 254.8h8.2v8.3h-8.2zM136.3 262.5h8.2v8.3h-8.2z"/>
<path fill="#ff8000" d="M82.7 45.7h15.8v8.4h-15.8zM105.7 139.1h8.2v8.3h-8.2zM128.7 239.5h8.2v8.3h-8.2z"/>
<path fill="#80ff80" d="M98.0 61.4h8.2v8.4h-8.2zM98.0 69.2h8.2v8.4h-8.2zM105.7 108.1h15.8v8.4h-15.8zM136.3 123.6h8.2v8.4h-8.2zM136.3 224.1h8.2v8.3h-8.2zM144.0 239.5h8.2v8.3h-8.2zM75.1 270.1h8.2v8.3h-8.2zM67.4 285.5h15.8v8.2h-15.8z"/>
<path fill="#ffb300" d="M105.7 131.4h8.2v8.4h-8.2zM121.0 239.5h8.2v8.3h-8.2z"/>
<path fill="#ff4c00" d="M113.4 131.4h8.2v8.4h-8.2zM128.7 254.8h8.2v8.3h-8.2z"/>
<path fill="#b30000" d="M113.4 139.1h8.2v8.3h-8.2z"/>
<path fill="#ff1a00" d="M121.0 139.1h8.2v8.3h-8.2zM113.4 154.6h15.8v8.3h-15.8zM121.0 247.1h8.2v8.3h-8.2z"/>
<path fill="#e50000" d="M113.4 146.9h15.8v8.3h-15.8zM128.7 247.1h8.2v8.3h-8.2zM121.0 254.8h8.2v8.3h-8.2z"/>
<path fill="#0000b2" d="M327.8 293.1h15.8v8.2h-15.8zM335.5 300.8h15.8v8.2h-15.8zM327.8 308.4h8.2v8.2h-8.2zM312.5 316.0h8.2v8.2h-8.2zM343.2 316.0h8.2v8.2h-8.2zM281.9 323.7h8.2v8.2h-8.2zM297.2 323.7h15.8v8.2h-15.8zM266.6 331.3h46.5v8.2h-46.5zM320.2 331.3h15.8v8.2h-15.8zM289.5 338.9h8.2v8.2h-8.2zM343.2 338.9h8.2v8.2h-8.2zM281.9 346.5h23.5v8.2h-23.5zM343.2 346.5h8.2v8.2h-8.2zM167.0 354.1h8.2v8.2h-8.2zM258.9 354.1h15.8v8.2h-15.8zM297.2 354.1h8.2v8.2h-8.2zM343.2 354.1h8.2v8.2h-8.2zM121.0 361.7h54.1v8.2h-54.1zM243.6 361.7h8.2v8.2h-8.2zM289.5 361.7h8.2v8.2h-8.2zM113.4 369.3h15.8v8.2h-15.8zM136.3 369.3h15.8v8.2h-15.8zM167.0 369.3h8.2v8.2h-8.2zM312.5 369.3h8.2v8.2h-8.2zM113.4 376.9h8.2v8.2h-8.2zM128.7 376.9h8.2v8.2h-8.2zM144.0 376.9h15.8v8.2h-15.8zM167.0 376.9h8.2v8.2h-8.2zM235.9 376.9h8.2v8.2h-8.2zM274.2 376.9h15.8v8.2h-15.8zM320.2 376.9h8.2v8.2h-8.2zM113.4 384.5h15.8v8.2h-15.8zM136.3 384.5h8.2v8.2h-8.2zM159.3 384.5h15.8v8.2h-15.8zM258.9 384.5h15.8v8.2h-15.8zM98.0 392.1h23.5v8.2h-23.5zM128.7 392.1h8.2v8.2h-8.2zM144.0 392.1h8.2v8.2h-8.2zM159.3 392.1h8.2v8.2h-8.2zM174.6 392.1h8.2v8.2h-8.2zM197.6 392.1h8.2v8.2h-8.2zM235.9 392.1h8.2v8.2h-8.2zM289.5 392.1h8.2v8.2h-8.2zM304.9 392.1h15.8v8.2h-15.8zM82.7 399.7h23.5v8.2h-23.5zM113.4 399.7h8.2v8.2h-8.2zM136.3 399.7h15.8v8.2h-15.8zM159.3 399.7h8.2v8.2h-8.2zM174.6 399.7h8.2v8.2h-8.2zM212.9 399.7h8.2v8.2h-8.2zM297.2 399.7h8.2v8.2h-8.2zM320.2 399.7h8.2v8.2h-8.2zM335.5 399.7h8.2v8.2h-8.2zM75.1 407.3h23.5v8.2h-23.5zM105.7 407.3h8.2v8.2h-8.2zM121.0 407.3h8.2v8.2h-8.2zM144.0 407.3h15.8v8.2h-15.8zM190.0 407.3h23.5v8.2h-23.5zM281.9 407.3h8.2v8.2h-8.2zM327.8 407.3h8.2v8.2h-8.2zM52.1 414.8h31.1v8.2h-31.1zM105.7 414.8h8.2v8.2h-8.2zM121.0 414.8h8.2v8.2h-8.2zM136.3 414.8h8.2v8.2h-8.2zM159.3 414.8h8.2v8.2h-8.2zM205.3 414.8h8.2v8.2h-8.2zM243.6 414.8h15.8v8.2h-15.8zM312.5 414.8h8.2v8.2h-8.2zM327.8 414.8h15.8v8.2h-15.8zM52.1 422.4h23.5v8.2h-23.5zM105.7 422.4h8.2v8.2h-8.2zM136.3 422.4h8.2v8.2h-8.2zM159.3 422.4h8.2v8.2h-8.2zM174.6 422.4h15.8v8.2h-15.8zM243.6 422.4h8.2v8.2h-8.2zM281.9 422.4h8.2v8.2h-8.2zM304.9 422.4h8.2v8.2h-8.2zM335.5 422.4h8.2v8.2h-8.2z"/>
<path fill="#000080" d="M335.5 308.4h15.8v8.2h-15.8zM327.8 316.0h15.8v8.2h-15.8zM320.2 323.7h31.1v8.2h-31.1zM312.5 331.3h8.2v8.2h-8.2zM335.5 331.3h15.8v8.2h-15.8zM266.6 338.9h23.5v8.2h-23.5zM297.2 338.9h46.5v8.2h-46.5zM258.9 346.5h23.5v8.2h-23.5zM304.9 346.5h38.8v8.2h-38.8zM174.6 354.1h8.2v8.2h-8.2zM251.2 354.1h8.2v8.2h-8.2zM274.2 354.1h23.5v8.2h-23.5zM304.9 354.1h38.8v8.2h-38.8zM174.6 361.7h15.8v8.2h-15.8zM228.3 361.7h15.8v8.2h-15.8zM251.2 361.7h38.8v8.2h-38.8zM297.2 361.7h54.1v8.2h-54.1zM128.7 369.3h8.2v8.2h-8.2zM151.7 369.3h15.8v8.2h-15.8zM174.6 369.3h23.5v8.2h-23.5zM212.9 369.3h100.1v8.2h-100.1zM320.2 369.3h31.1v8.2h-31.1zM121.0 376.9h8.2v8.2h-8.2zM136.3 376.9h8.2v8.2h-8.2zM159.3 376.9h8.2v8.2h-8.2zM174.6 376.9h61.8v8.2h-61.8zM243.6 376.9h31.1v8.2h-31.1zM289.5 376.9h31.1v8.2h-31.1zM327.8 376.9h23.5v8.2h-23.5zM128.7 384.5h8.2v8.2h-8.2zM144.0 384.5h15.8v8.2h-15.8zM174.6 384.5h84.8v8.2h-84.8zM274.2 384.5h77.1v8.2h-77.1zM121.0 392.1h8.2v8.2h-8.2zM136.3 392.1h8.2v8.2h-8.2zM151.7 392.1h8.2v8.2h-8.2zM167.0 392.1h8.2v8.2h-8.2zM182.3 392.1h15.8v8.2h-15.8zM205.3 392.1h31.1v8.2h-31.1zM243.6 392.1h46.5v8.2h-46.5zM297.2 392.1h8.2v8.2h-8.2zM320.2 392.1h31.1v8.2h-31.1zM105.7 399.7h8.2v8.2h-8.2zM121.0 399.7h15.8v8.2h-15.8zM151.7 399.7h8.2v8.2h-8.2zM167.0 399.7h8.2v8.2h-8.2zM182.3 399.7h31.1v8.2h-31.1zM220.6 399.7h77.1v8.2h-77.1zM304.9 399.7h15.8v8.2h-15.8zM327.8 399.7h8.2v8.2h-8.2zM343.2 399.7h8.2v8.2h-8.2zM98.0 407.3h8.2v8.2h-8.2zM113.4 407.3h8.2v8.2h-8.2zM128.7 407.3h15.8v8.2h-15.8zM159.3 407.3h31.1v8.2h-31.1zM212.9 407.3h69.4v8.2h-69.4zM289.5 407.3h38.8v8.2h-38.8zM335.5 407.3h15.8v8.2h-15.8zM82.7 414.8h23.5v8.2h-23.5zM113.4 414.8h8.2v8.2h-8.2zM128.7 414.8h8.2v8.2h-8.2zM144.0 414.8h15.8v8.2h-15.8zM167.0 414.8h38.8v8.2h-38.8zM212.9 414.8h31.1v8.2h-31.1zM258.9 414.8h54.1v8.2h-54.1zM320.2 414.8h8.2v8.2h-8.2zM343.2 414.8h8.2v8.2h-8.2zM75.1 422.4h31.1v8.2h-31.1zM113.4 422.4h23.5v8.2h-23.5zM144.0 422.4h15.8v8.2h-15.8zM167.0 422.4h8.2v8.2h-8.2zM190.0 422.4h54.1v8.2h-54.1zM251.2 422.4h31.1v8.2h-31.1zM289.5 422.4h15.8v8.2h-15.8zM312.5 422.4h23.5v8.2h-23.5zM343.2 422.4h8.2v8.2h-8.2z"/><path d="M347.0 296.6L339.3 295.7L337.4 296.9L331.7 304.6L331.7 304.6L325.5 312.2L324.0 313.7L316.4 319.8L316.4 319.8L308.7 325.3L304.9 327.5L301.0 329.4L293.4 330.0L285.7 329.6L278.1 328.4L270.4 332.9L267.8 335.1L262.7 340.2L260.8 342.7L255.9 350.3L255.1 351.2L247.4 356.2L243.6 357.9L239.8 359.5L232.1 361.4L224.4 364.8L223.5 365.5L216.8 369.6L210.2 373.1L209.1 373.8L201.4 374.9L198.9 373.1L193.8 369.9L189.4 365.5L186.1 362.3L179.3 357.9L178.5 357.3L170.8 357.1L168.9 357.9L163.2 360.5L155.5 361.3L147.8 361.2L140.2 360.5L132.5 360.5L124.9 363.4L121.8 365.5L117.2 369.3L113.4 373.1L111.1 380.7L109.5 384.5L107.6 388.3L101.9 392.1L96.1 395.9L94.2 397.2L86.6 402.4L84.6 403.5L78.9 406.7L72.8 411.0L71.2 412.3L63.6 414.8L57.8 418.6L55.9 421.4L54.1 426.2" stroke="#000" stroke-width="1.1" fill="none" stroke-linejoin="round"/>
<use href="#landg"/>
<g clip-path="url(#landclip)"><line x1="58.0" y1="0.0" x2="58.0" y2="427.5" class="g"/>
<line x1="115.9" y1="0.0" x2="115.9" y2="427.5" class="g"/>
<line x1="173.9" y1="0.0" x2="173.9" y2="427.5" class="g"/>
<line x1="231.9" y1="0.0" x2="231.9" y2="427.5" class="g"/>
<line x1="289.8" y1="0.0" x2="289.8" y2="427.5" class="g"/>
<line x1="0.0" y1="72.4" x2="347.8" y2="72.4" class="g"/>
<line x1="0.0" y1="144.3" x2="347.8" y2="144.3" class="g"/>
<line x1="0.0" y1="215.7" x2="347.8" y2="215.7" class="g"/>
<line x1="0.0" y1="286.8" x2="347.8" y2="286.8" class="g"/>
<line x1="0.0" y1="357.3" x2="347.8" y2="357.3" class="g"/></g>
</g>
<path d="M58.5 47.5L74.1 47.5M60.8 42.0L71.8 53.0M66.3 39.7L66.3 55.3M71.8 42.0L60.8 53.0" stroke="#ff1a1a" stroke-width="1.3"/>
<path d="M96.6 156.3L112.2 156.3M98.9 150.8L109.9 161.8M104.4 148.5L104.4 164.1M109.9 150.8L98.9 161.8" stroke="#ff1a1a" stroke-width="1.3"/>
<path d="M106.0 250.3L121.6 250.3M108.3 244.8L119.3 255.8M113.8 242.5L113.8 258.1M119.3 244.8L108.3 255.8" stroke="#ff1a1a" stroke-width="1.3"/>
<path d="M54.4 271.8L70.0 271.8M56.7 266.3L67.7 277.3M62.2 264.0L62.2 279.6M67.7 266.3L56.7 277.3" stroke="#ff1a1a" stroke-width="1.3"/>
<path d="M2.6 320.5L18.2 320.5M4.9 315.0L15.9 326.0M10.4 312.7L10.4 328.3M15.9 315.0L4.9 326.0" stroke="#ff1a1a" stroke-width="1.3"/>
</g>
<line x1="901.5" y1="569.8" x2="901.5" y2="565.8" class="t"/>
<line x1="901.5" y1="142.3" x2="901.5" y2="146.3" class="t"/>
<line x1="959.4" y1="569.8" x2="959.4" y2="565.8" class="t"/>
<line x1="959.4" y1="142.3" x2="959.4" y2="146.3" class="t"/>
<line x1="1017.4" y1="569.8" x2="1017.4" y2="565.8" class="t"/>
<line x1="1017.4" y1="142.3" x2="1017.4" y2="146.3" class="t"/>
<line x1="1075.4" y1="569.8" x2="1075.4" y2="565.8" class="t"/>
<line x1="1075.4" y1="142.3" x2="1075.4" y2="146.3" class="t"/>
<line x1="1133.3" y1="569.8" x2="1133.3" y2="565.8" class="t"/>
<line x1="1133.3" y1="142.3" x2="1133.3" y2="146.3" class="t"/>
<line x1="843.5" y1="214.7" x2="847.5" y2="214.7" class="t"/>
<line x1="1191.3" y1="214.7" x2="1187.3" y2="214.7" class="t"/>
<line x1="843.5" y1="286.6" x2="847.5" y2="286.6" class="t"/>
<line x1="1191.3" y1="286.6" x2="1187.3" y2="286.6" class="t"/>
<line x1="843.5" y1="358.0" x2="847.5" y2="358.0" class="t"/>
<line x1="1191.3" y1="358.0" x2="1187.3" y2="358.0" class="t"/>
<line x1="843.5" y1="429.1" x2="847.5" y2="429.1" class="t"/>
<line x1="1191.3" y1="429.1" x2="1187.3" y2="429.1" class="t"/>
<line x1="843.5" y1="499.6" x2="847.5" y2="499.6" class="t"/>
<line x1="1191.3" y1="499.6" x2="1187.3" y2="499.6" class="t"/>
<rect x="843.5" y="142.3" width="347.8" height="427.5" class="fr"/>
<text x="837.7" y="149.9" class="L" text-anchor="end">37°N</text>
<text x="837.7" y="221.6" class="S" text-anchor="end">30'</text>
<text x="837.7" y="294.2" class="L" text-anchor="end">36°N</text>
<text x="837.7" y="364.9" class="S" text-anchor="end">30'</text>
<text x="837.7" y="436.7" class="L" text-anchor="end">35°N</text>
<text x="837.7" y="506.5" class="S" text-anchor="end">30'</text>
<text x="837.7" y="577.4" class="L" text-anchor="end">34°N</text>
<text x="843.5" y="587.3" class="S" text-anchor="middle">30'</text>
<text x="904.7" y="590.8" class="L" text-anchor="middle">76°W</text>
<text x="959.4" y="587.3" class="S" text-anchor="middle">30'</text>
<text x="1020.6" y="590.8" class="L" text-anchor="middle">75°W</text>
<text x="1075.4" y="587.3" class="S" text-anchor="middle">30'</text>
<text x="1136.5" y="590.8" class="L" text-anchor="middle">74°W</text>
<text x="1191.3" y="587.3" class="S" text-anchor="middle">30'</text>
<g transform="translate(1227.3,142.3)">
<g clip-path="url(#clipP)">
<line x1="58.0" y1="0.0" x2="58.0" y2="427.5" class="g"/>
<line x1="115.9" y1="0.0" x2="115.9" y2="427.5" class="g"/>
<line x1="173.9" y1="0.0" x2="173.9" y2="427.5" class="g"/>
<line x1="231.9" y1="0.0" x2="231.9" y2="427.5" class="g"/>
<line x1="289.8" y1="0.0" x2="289.8" y2="427.5" class="g"/>
<line x1="0.0" y1="72.4" x2="347.8" y2="72.4" class="g"/>
<line x1="0.0" y1="144.3" x2="347.8" y2="144.3" class="g"/>
<line x1="0.0" y1="215.7" x2="347.8" y2="215.7" class="g"/>
<line x1="0.0" y1="286.8" x2="347.8" y2="286.8" class="g"/>
<line x1="0.0" y1="357.3" x2="347.8" y2="357.3" class="g"/>
<path fill="#ffcf00" d="M67.4 -1.3h230.3v8.4h-230.3zM67.4 6.6h230.3v8.4h-230.3zM75.1 14.4h238.0v8.4h-238.0zM75.1 22.3h238.0v8.4h-238.0zM75.1 30.1h230.3v8.4h-230.3zM75.1 37.9h230.3v8.4h-230.3zM75.1 45.7h230.3v8.4h-230.3zM82.7 53.5h215.0v8.4h-215.0zM82.7 61.4h215.0v8.4h-215.0zM82.7 69.2h207.3v8.4h-207.3zM82.7 77.0h207.3v8.4h-207.3zM82.7 84.7h207.3v8.4h-207.3zM90.4 92.5h199.7v8.4h-199.7zM90.4 100.3h192.0v8.4h-192.0zM98.0 108.1h184.3v8.4h-184.3zM98.0 115.9h77.1v8.4h-77.1zM190.0 115.9h92.4v8.4h-92.4zM312.5 115.9h23.5v8.4h-23.5zM98.0 123.6h77.1v8.4h-77.1zM205.3 123.6h77.1v8.4h-77.1zM312.5 123.6h23.5v8.4h-23.5zM105.7 131.4h69.4v8.4h-69.4zM212.9 131.4h77.1v8.4h-77.1zM320.2 131.4h31.1v8.4h-31.1zM113.4 139.1h61.8v8.3h-61.8zM228.3 139.1h15.8v8.3h-15.8zM258.9 139.1h31.1v8.3h-31.1zM320.2 139.1h31.1v8.3h-31.1zM121.0 146.9h38.8v8.3h-38.8zM266.6 146.9h15.8v8.3h-15.8zM297.2 146.9h54.1v8.3h-54.1zM121.0 154.6h31.1v8.3h-31.1zM258.9 154.6h92.4v8.3h-92.4zM128.7 162.4h23.5v8.3h-23.5zM266.6 162.4h84.8v8.3h-84.8zM128.7 170.1h23.5v8.3h-23.5zM274.2 170.1h77.1v8.3h-77.1zM121.0 177.8h23.5v8.3h-23.5zM235.9 177.8h15.8v8.3h-15.8zM274.2 177.8h77.1v8.3h-77.1zM121.0 185.5h23.5v8.3h-23.5zM228.3 185.5h123.1v8.3h-123.1zM121.0 193.3h23.5v8.3h-23.5zM159.3 193.3h8.2v8.3h-8.2zM220.6 193.3h130.7v8.3h-130.7zM121.0 201.0h31.1v8.3h-31.1zM212.9 201.0h138.4v8.3h-138.4zM128.7 208.7h23.5v8.3h-23.5zM190.0 208.7h161.4v8.3h-161.4zM128.7 216.4h31.1v8.3h-31.1zM174.6 216.4h176.7v8.3h-176.7zM128.7 224.1h222.6v8.3h-222.6zM136.3 231.8h215.0v8.3h-215.0zM136.3 239.5h215.0v8.3h-215.0zM105.7 247.1h15.8v8.3h-15.8zM151.7 247.1h199.7v8.3h-199.7zM105.7 254.8h8.2v8.3h-8.2zM144.0 254.8h207.3v8.3h-207.3zM82.7 262.5h15.8v8.3h-15.8zM144.0 262.5h207.3v8.3h-207.3zM59.7 270.1h38.8v8.3h-38.8zM105.7 270.1h8.2v8.3h-8.2zM151.7 270.1h199.7v8.3h-199.7zM52.1 277.8h61.8v8.3h-61.8zM151.7 277.8h199.7v8.3h-199.7zM44.4 285.5h46.5v8.2h-46.5zM98.0 285.5h23.5v8.2h-23.5zM151.7 285.5h199.7v8.2h-199.7zM36.8 293.1h54.1v8.2h-54.1zM98.0 293.1h23.5v8.2h-23.5zM159.3 293.1h192.0v8.2h-192.0zM36.8 300.8h54.1v8.2h-54.1zM98.0 300.8h23.5v8.2h-23.5zM159.3 300.8h192.0v8.2h-192.0zM29.1 308.4h84.8v8.2h-84.8zM167.0 308.4h161.4v8.2h-161.4zM44.4 316.0h69.4v8.2h-69.4zM174.6 316.0h100.1v8.2h-100.1zM281.9 316.0h38.8v8.2h-38.8zM52.1 323.7h38.8v8.2h-38.8zM98.0 323.7h23.5v8.2h-23.5zM174.6 323.7h92.4v8.2h-92.4zM281.9 323.7h38.8v8.2h-38.8zM98.0 331.3h23.5v8.2h-23.5zM182.3 331.3h77.1v8.2h-77.1zM281.9 331.3h31.1v8.2h-31.1zM98.0 338.9h23.5v8.2h-23.5zM182.3 338.9h84.8v8.2h-84.8zM297.2 338.9h8.2v8.2h-8.2zM98.0 346.5h15.8v8.2h-15.8zM182.3 346.5h23.5v8.2h-23.5zM220.6 346.5h38.8v8.2h-38.8zM98.0 354.1h15.8v8.2h-15.8zM220.6 354.1h38.8v8.2h-38.8zM98.0 361.7h15.8v8.2h-15.8zM212.9 361.7h23.5v8.2h-23.5zM243.6 361.7h15.8v8.2h-15.8zM98.0 369.3h15.8v8.2h-15.8zM197.6 369.3h23.5v8.2h-23.5zM228.3 369.3h8.2v8.2h-8.2zM205.3 376.9h23.5v8.2h-23.5zM205.3 384.5h15.8v8.2h-15.8z"/>
<path fill="#00dfff" d="M297.2 -1.3h54.1v8.4h-54.1zM297.2 6.6h54.1v8.4h-54.1zM312.5 14.4h38.8v8.4h-38.8zM312.5 22.3h38.8v8.4h-38.8zM304.9 30.1h46.5v8.4h-46.5zM304.9 37.9h46.5v8.4h-46.5zM304.9 45.7h46.5v8.4h-46.5zM297.2 53.5h54.1v8.4h-54.1zM297.2 61.4h54.1v8.4h-54.1zM289.5 69.2h61.8v8.4h-61.8zM289.5 77.0h61.8v8.4h-61.8zM289.5 84.7h61.8v8.4h-61.8zM289.5 92.5h61.8v8.4h-61.8zM281.9 100.3h69.4v8.4h-69.4zM281.9 108.1h69.4v8.4h-69.4zM281.9 115.9h31.1v8.4h-31.1zM335.5 115.9h15.8v8.4h-15.8zM281.9 123.6h31.1v8.4h-31.1zM335.5 123.6h15.8v8.4h-15.8zM289.5 131.4h31.1v8.4h-31.1zM105.7 139.1h8.2v8.3h-8.2zM289.5 139.1h31.1v8.3h-31.1zM113.4 146.9h8.2v8.3h-8.2zM281.9 146.9h15.8v8.3h-15.8zM113.4 154.6h8.2v8.3h-8.2zM121.0 162.4h8.2v8.3h-8.2zM121.0 170.1h8.2v8.3h-8.2zM121.0 208.7h8.2v8.3h-8.2zM121.0 216.4h8.2v8.3h-8.2zM121.0 224.1h8.2v8.3h-8.2zM121.0 231.8h15.8v8.3h-15.8zM121.0 239.5h15.8v8.3h-15.8zM121.0 247.1h31.1v8.3h-31.1zM90.4 254.8h15.8v8.3h-15.8zM113.4 254.8h31.1v8.3h-31.1zM98.0 262.5h46.5v8.3h-46.5zM98.0 270.1h8.2v8.3h-8.2zM113.4 270.1h38.8v8.3h-38.8zM113.4 277.8h38.8v8.3h-38.8zM90.4 285.5h8.2v8.2h-8.2zM121.0 285.5h31.1v8.2h-31.1zM90.4 293.1h8.2v8.2h-8.2zM121.0 293.1h38.8v8.2h-38.8zM90.4 300.8h8.2v8.2h-8.2zM121.0 300.8h38.8v8.2h-38.8zM113.4 308.4h54.1v8.2h-54.1zM327.8 308.4h23.5v8.2h-23.5zM21.4 316.0h23.5v8.2h-23.5zM113.4 316.0h61.8v8.2h-61.8zM274.2 316.0h8.2v8.2h-8.2zM320.2 316.0h31.1v8.2h-31.1zM13.8 323.7h38.8v8.2h-38.8zM90.4 323.7h8.2v8.2h-8.2zM121.0 323.7h54.1v8.2h-54.1zM266.6 323.7h15.8v8.2h-15.8zM320.2 323.7h15.8v8.2h-15.8zM13.8 331.3h84.8v8.2h-84.8zM121.0 331.3h61.8v8.2h-61.8zM258.9 331.3h23.5v8.2h-23.5zM320.2 331.3h15.8v8.2h-15.8zM6.1 338.9h92.4v8.2h-92.4zM121.0 338.9h61.8v8.2h-61.8zM266.6 338.9h31.1v8.2h-31.1zM312.5 338.9h23.5v8.2h-23.5zM6.1 346.5h92.4v8.2h-92.4zM113.4 346.5h69.4v8.2h-69.4zM205.3 346.5h15.8v8.2h-15.8zM258.9 346.5h38.8v8.2h-38.8zM312.5 346.5h23.5v8.2h-23.5zM6.1 354.1h92.4v8.2h-92.4zM113.4 354.1h61.8v8.2h-61.8zM190.0 354.1h31.1v8.2h-31.1zM258.9 354.1h31.1v8.2h-31.1zM320.2 354.1h8.2v8.2h-8.2zM6.1 361.7h92.4v8.2h-92.4zM113.4 361.7h54.1v8.2h-54.1zM190.0 361.7h23.5v8.2h-23.5zM235.9 361.7h8.2v8.2h-8.2zM258.9 361.7h23.5v8.2h-23.5zM6.1 369.3h92.4v8.2h-92.4zM113.4 369.3h38.8v8.2h-38.8zM220.6 369.3h8.2v8.2h-8.2zM235.9 369.3h31.1v8.2h-31.1zM6.1 376.9h107.7v8.2h-107.7zM197.6 376.9h8.2v8.2h-8.2zM228.3 376.9h38.8v8.2h-38.8zM6.1 384.5h107.7v8.2h-107.7zM197.6 384.5h8.2v8.2h-8.2zM220.6 384.5h46.5v8.2h-46.5zM6.1 392.1h100.1v8.2h-100.1zM167.0 392.1h15.8v8.2h-15.8zM205.3 392.1h23.5v8.2h-23.5zM235.9 392.1h31.1v8.2h-31.1zM6.1 399.7h92.4v8.2h-92.4zM159.3 399.7h31.1v8.2h-31.1zM220.6 399.7h38.8v8.2h-38.8zM6.1 407.3h84.8v8.2h-84.8zM167.0 407.3h23.5v8.2h-23.5zM205.3 407.3h46.5v8.2h-46.5zM6.1 414.8h77.1v8.2h-77.1zM205.3 414.8h38.8v8.2h-38.8zM6.1 422.4h61.8v8.2h-61.8zM205.3 422.4h23.5v8.2h-23.5z"/>
<path fill="#800000" d="M174.6 115.9h15.8v8.4h-15.8zM174.6 123.6h31.1v8.4h-31.1zM174.6 131.4h38.8v8.4h-38.8zM174.6 139.1h54.1v8.3h-54.1zM243.6 139.1h15.8v8.3h-15.8zM159.3 146.9h107.7v8.3h-107.7zM151.7 154.6h107.7v8.3h-107.7zM151.7 162.4h115.4v8.3h-115.4zM151.7 170.1h123.1v8.3h-123.1zM144.0 177.8h92.4v8.3h-92.4zM251.2 177.8h23.5v8.3h-23.5zM144.0 185.5h84.8v8.3h-84.8zM144.0 193.3h15.8v8.3h-15.8zM167.0 193.3h54.1v8.3h-54.1zM151.7 201.0h61.8v8.3h-61.8zM151.7 208.7h38.8v8.3h-38.8zM159.3 216.4h15.8v8.3h-15.8z"/>
<path fill="#00008f" d="M335.5 323.7h15.8v8.2h-15.8zM312.5 331.3h8.2v8.2h-8.2zM335.5 331.3h15.8v8.2h-15.8zM304.9 338.9h8.2v8.2h-8.2zM335.5 338.9h15.8v8.2h-15.8zM297.2 346.5h15.8v8.2h-15.8zM335.5 346.5h15.8v8.2h-15.8zM174.6 354.1h15.8v8.2h-15.8zM289.5 354.1h31.1v8.2h-31.1zM327.8 354.1h23.5v8.2h-23.5zM167.0 361.7h23.5v8.2h-23.5zM281.9 361.7h69.4v8.2h-69.4zM151.7 369.3h46.5v8.2h-46.5zM266.6 369.3h84.8v8.2h-84.8zM113.4 376.9h84.8v8.2h-84.8zM266.6 376.9h84.8v8.2h-84.8zM113.4 384.5h84.8v8.2h-84.8zM266.6 384.5h84.8v8.2h-84.8zM105.7 392.1h61.8v8.2h-61.8zM182.3 392.1h23.5v8.2h-23.5zM228.3 392.1h8.2v8.2h-8.2zM266.6 392.1h84.8v8.2h-84.8zM98.0 399.7h61.8v8.2h-61.8zM190.0 399.7h31.1v8.2h-31.1zM258.9 399.7h92.4v8.2h-92.4zM90.4 407.3h77.1v8.2h-77.1zM190.0 407.3h15.8v8.2h-15.8zM251.2 407.3h100.1v8.2h-100.1zM82.7 414.8h123.1v8.2h-123.1zM243.6 414.8h107.7v8.2h-107.7zM67.4 422.4h138.4v8.2h-138.4zM228.3 422.4h123.1v8.2h-123.1z"/><path d="M293.4 2.7L293.4 10.5M293.4 10.5L301.0 18.3M308.7 18.3L301.0 18.3M308.7 18.3L308.7 18.3M308.7 18.3L308.7 26.2M308.7 26.2L301.0 34.0M308.7 26.2L308.7 26.2M301.0 34.0L301.0 41.8M301.0 41.8L301.0 49.6M301.0 49.7L293.4 57.5M301.0 49.6L301.0 49.7M293.4 57.5L293.4 65.3M293.4 65.3L285.7 73.1M293.4 65.3L293.4 65.3M285.7 73.1L285.7 80.9M285.7 80.9L285.7 88.6M285.7 88.6L285.7 96.4M285.7 96.4L278.1 104.2M285.7 96.4L285.7 96.4M278.1 104.2L278.1 112.0M278.1 112.0L278.1 119.7M316.4 119.7L316.3 119.7M324.0 119.7L316.4 119.7M331.7 119.7L324.0 119.7M331.7 119.7L331.7 119.7M278.1 119.7L278.1 127.5M316.3 119.7L316.3 127.5M331.7 119.7L331.7 127.5M278.1 127.5L285.7 135.3M285.7 135.3L285.7 135.3M316.3 127.5L316.4 127.5M324.0 135.3L316.4 127.5M331.7 127.5L339.3 135.3M347.0 135.3L339.3 135.3M117.2 143.0L109.5 135.3M285.7 135.3L285.7 143.0M324.0 135.3L324.0 143.0M124.8 150.8L117.2 143.0M285.7 143.0L278.1 150.8M285.7 143.0L285.7 143.0M301.0 150.7L301.0 150.8M308.7 150.7L301.0 150.7M316.4 150.7L308.7 150.7M324.0 143.0L316.4 150.7M124.8 150.8L124.8 158.5M278.1 150.8L285.7 158.5M293.4 158.5L285.7 158.5M301.0 150.8L293.4 158.5M132.5 166.2L124.9 158.5M132.5 166.2L132.5 174.0M132.5 174.0L124.9 181.7M132.5 212.5L124.9 204.8M132.5 212.5L132.5 220.2M132.5 220.2L132.5 227.9M132.5 227.9L132.5 227.9M140.2 235.6L132.5 227.9M140.2 235.6L140.2 243.3M140.2 243.3L140.2 243.3M147.8 243.3L140.2 243.3M155.5 251.0L147.8 243.3M117.2 251.0L109.5 258.6M117.2 251.0L117.2 251.0M147.8 258.6L147.8 258.6M155.5 251.0L147.8 258.6M94.2 266.3L94.2 266.3M109.5 258.6L109.5 258.7M109.5 258.6L109.5 258.7M147.8 258.6L147.8 266.3M94.2 266.3L94.2 274.0M109.5 274.0L109.5 274.0M109.5 274.0L109.5 274.0M147.8 266.3L147.8 266.3M155.5 274.0L147.8 266.3M94.2 274.0L101.9 281.6M109.5 274.0L101.9 281.6M109.5 274.0L109.5 281.6M155.5 274.0L155.5 281.6M94.2 281.6L86.6 289.3M101.9 289.3L94.2 281.6M109.5 281.6L117.2 289.3M117.2 289.3L117.2 289.3M155.5 281.6L155.5 289.3M86.6 289.3L86.6 296.9M101.9 289.3L101.9 296.9M117.2 289.3L117.2 296.9M155.5 289.3L155.5 289.3M163.1 296.9L155.5 289.3M86.6 296.9L86.6 304.6M101.9 296.9L101.9 304.6M117.2 296.9L117.2 304.6M163.1 296.9L163.1 304.6M86.6 304.6L94.2 312.2M101.9 304.6L94.2 312.2M117.2 304.6L109.5 312.2M117.2 304.6L117.2 304.6M163.1 304.6L163.2 304.6M170.8 312.2L163.2 304.6M331.7 304.6L324.0 312.2M339.3 304.6L331.7 304.6M347.0 304.6L339.3 304.6M40.6 312.2L32.9 312.2M48.2 319.8L40.6 312.2M109.5 312.2L109.5 319.8M170.8 312.2L170.8 312.2M178.5 319.8L170.8 312.2M278.1 312.2L270.4 319.8M285.7 319.8L278.1 312.2M324.0 312.2L316.4 319.8M324.0 312.2L324.0 312.2M48.2 319.8L48.3 319.9M55.9 327.5L48.3 319.9M94.2 319.9L86.6 327.5M101.9 327.5L94.2 319.9M109.5 319.8L117.2 327.5M117.2 327.5L117.2 327.5M178.5 319.8L178.5 327.5M270.4 319.9L262.7 327.5M270.4 319.8L270.4 319.9M285.7 319.8L285.7 327.5M316.4 319.8L316.4 327.5M55.9 327.5L55.9 327.5M63.6 327.5L55.9 327.5M71.2 327.5L63.6 327.5M78.9 327.5L71.2 327.5M86.6 327.5L78.9 327.5M86.6 327.5L86.6 327.5M101.9 327.5L101.9 335.1M117.2 327.5L117.2 335.1M178.5 327.5L178.5 327.5M186.1 335.1L178.5 327.5M262.7 327.5L255.1 335.1M262.7 327.5L262.7 327.5M285.7 327.5L285.7 335.1M316.4 327.5L308.7 335.1M316.4 327.5L316.4 327.5M101.9 335.1L101.9 342.7M117.2 335.1L117.2 342.7M186.1 335.1L186.1 342.7M255.1 335.1L262.7 342.7M262.7 342.7L262.7 342.7M285.7 335.1L285.7 335.1M293.4 335.1L285.7 335.1M301.0 342.7L293.4 335.1M308.7 335.1L301.0 342.7M308.7 335.1L308.7 335.1M101.9 342.7L101.9 350.3M117.2 342.7L109.5 350.3M117.2 342.7L117.2 342.7M186.1 342.7L186.1 350.3M209.1 342.7L201.5 350.3M216.8 342.7L209.1 342.7M224.4 350.3L216.8 342.7M262.7 342.7L255.1 350.3M262.7 342.7L262.7 342.7M301.0 342.7L301.0 342.7M301.0 342.7L301.0 342.7M101.9 350.3L101.9 357.9M109.5 350.3L109.5 357.9M186.1 350.3L186.1 350.3M193.8 350.3L186.1 350.3M201.4 350.3L193.8 350.3M201.5 350.3L201.4 350.3M224.4 350.3L224.4 357.9M255.1 350.3L255.1 357.9M101.9 357.9L101.9 365.5M109.5 357.9L109.5 365.5M216.8 365.5L216.8 365.5M224.4 357.9L216.8 365.5M239.8 357.9L232.1 365.5M247.4 365.5L239.8 357.9M255.1 357.9L255.1 365.5M101.9 365.5L101.9 373.1M109.5 365.5L109.5 373.1M201.4 373.1L201.4 373.1M209.1 373.1L201.4 373.1M216.8 365.5L209.1 373.1M224.4 365.5L216.8 373.1M232.1 373.1L224.4 365.5M232.1 365.5L232.1 373.1M247.4 365.5L247.4 365.5M255.1 365.5L247.4 365.5M255.1 365.5L255.1 365.5M101.9 373.1L101.9 373.1M109.5 373.1L101.9 373.1M109.5 373.1L109.5 373.1M201.4 373.1L201.4 373.1M209.1 380.7L201.4 373.1M216.8 373.1L224.4 380.7M232.1 373.1L232.1 373.1M224.4 380.7L224.4 380.7M232.1 373.1L232.1 373.1M209.1 380.7L209.1 388.3M224.4 380.7L216.8 388.3M224.4 380.7L224.4 380.7M209.1 388.3L209.1 388.3M216.8 388.3L209.1 388.3M216.8 388.3L216.8 388.3" stroke="#000" stroke-width="1.1" fill="none" stroke-linecap="round"/>
<use href="#landg"/>
<g clip-path="url(#landclip)"><line x1="58.0" y1="0.0" x2="58.0" y2="427.5" class="g"/>
<line x1="115.9" y1="0.0" x2="115.9" y2="427.5" class="g"/>
<line x1="173.9" y1="0.0" x2="173.9" y2="427.5" class="g"/>
<line x1="231.9" y1="0.0" x2="231.9" y2="427.5" class="g"/>
<line x1="289.8" y1="0.0" x2="289.8" y2="427.5" class="g"/>
<line x1="0.0" y1="72.4" x2="347.8" y2="72.4" class="g"/>
<line x1="0.0" y1="144.3" x2="347.8" y2="144.3" class="g"/>
<line x1="0.0" y1="215.7" x2="347.8" y2="215.7" class="g"/>
<line x1="0.0" y1="286.8" x2="347.8" y2="286.8" class="g"/>
<line x1="0.0" y1="357.3" x2="347.8" y2="357.3" class="g"/></g>
</g>
<path d="M58.5 47.5L74.1 47.5M60.8 42.0L71.8 53.0M66.3 39.7L66.3 55.3M71.8 42.0L60.8 53.0" stroke="#ff1a1a" stroke-width="1.3"/>
<path d="M96.6 156.3L112.2 156.3M98.9 150.8L109.9 161.8M104.4 148.5L104.4 164.1M109.9 150.8L98.9 161.8" stroke="#ff1a1a" stroke-width="1.3"/>
<path d="M106.0 250.3L121.6 250.3M108.3 244.8L119.3 255.8M113.8 242.5L113.8 258.1M119.3 244.8L108.3 255.8" stroke="#ff1a1a" stroke-width="1.3"/>
<path d="M54.4 271.8L70.0 271.8M56.7 266.3L67.7 277.3M62.2 264.0L62.2 279.6M67.7 266.3L56.7 277.3" stroke="#ff1a1a" stroke-width="1.3"/>
<path d="M2.6 320.5L18.2 320.5M4.9 315.0L15.9 326.0M10.4 312.7L10.4 328.3M15.9 315.0L4.9 326.0" stroke="#ff1a1a" stroke-width="1.3"/>
</g>
<line x1="1285.3" y1="569.8" x2="1285.3" y2="565.8" class="t"/>
<line x1="1285.3" y1="142.3" x2="1285.3" y2="146.3" class="t"/>
<line x1="1343.2" y1="569.8" x2="1343.2" y2="565.8" class="t"/>
<line x1="1343.2" y1="142.3" x2="1343.2" y2="146.3" class="t"/>
<line x1="1401.2" y1="569.8" x2="1401.2" y2="565.8" class="t"/>
<line x1="1401.2" y1="142.3" x2="1401.2" y2="146.3" class="t"/>
<line x1="1459.2" y1="569.8" x2="1459.2" y2="565.8" class="t"/>
<line x1="1459.2" y1="142.3" x2="1459.2" y2="146.3" class="t"/>
<line x1="1517.1" y1="569.8" x2="1517.1" y2="565.8" class="t"/>
<line x1="1517.1" y1="142.3" x2="1517.1" y2="146.3" class="t"/>
<line x1="1227.3" y1="214.7" x2="1231.3" y2="214.7" class="t"/>
<line x1="1575.1" y1="214.7" x2="1571.1" y2="214.7" class="t"/>
<line x1="1227.3" y1="286.6" x2="1231.3" y2="286.6" class="t"/>
<line x1="1575.1" y1="286.6" x2="1571.1" y2="286.6" class="t"/>
<line x1="1227.3" y1="358.0" x2="1231.3" y2="358.0" class="t"/>
<line x1="1575.1" y1="358.0" x2="1571.1" y2="358.0" class="t"/>
<line x1="1227.3" y1="429.1" x2="1231.3" y2="429.1" class="t"/>
<line x1="1575.1" y1="429.1" x2="1571.1" y2="429.1" class="t"/>
<line x1="1227.3" y1="499.6" x2="1231.3" y2="499.6" class="t"/>
<line x1="1575.1" y1="499.6" x2="1571.1" y2="499.6" class="t"/>
<rect x="1227.3" y="142.3" width="347.8" height="427.5" class="fr"/>
<text x="1221.5" y="149.9" class="L" text-anchor="end">37°N</text>
<text x="1221.5" y="221.6" class="S" text-anchor="end">30'</text>
<text x="1221.5" y="294.2" class="L" text-anchor="end">36°N</text>
<text x="1221.5" y="364.9" class="S" text-anchor="end">30'</text>
<text x="1221.5" y="436.7" class="L" text-anchor="end">35°N</text>
<text x="1221.5" y="506.5" class="S" text-anchor="end">30'</text>
<text x="1221.5" y="577.4" class="L" text-anchor="end">34°N</text>
<text x="1227.3" y="587.3" class="S" text-anchor="middle">30'</text>
<text x="1288.5" y="590.8" class="L" text-anchor="middle">76°W</text>
<text x="1343.2" y="587.3" class="S" text-anchor="middle">30'</text>
<text x="1404.4" y="590.8" class="L" text-anchor="middle">75°W</text>
<text x="1459.2" y="587.3" class="S" text-anchor="middle">30'</text>
<text x="1520.3" y="590.8" class="L" text-anchor="middle">74°W</text>
<text x="1575.1" y="587.3" class="S" text-anchor="middle">30'</text>
<g transform="translate(74.5,742.3)">
<g clip-path="url(#clipP)">
<line x1="58.0" y1="0.0" x2="58.0" y2="427.5" class="g"/>
<line x1="115.9" y1="0.0" x2="115.9" y2="427.5" class="g"/>
<line x1="173.9" y1="0.0" x2="173.9" y2="427.5" class="g"/>
<line x1="231.9" y1="0.0" x2="231.9" y2="427.5" class="g"/>
<line x1="289.8" y1="0.0" x2="289.8" y2="427.5" class="g"/>
<line x1="0.0" y1="72.4" x2="347.8" y2="72.4" class="g"/>
<line x1="0.0" y1="144.3" x2="347.8" y2="144.3" class="g"/>
<line x1="0.0" y1="215.7" x2="347.8" y2="215.7" class="g"/>
<line x1="0.0" y1="286.8" x2="347.8" y2="286.8" class="g"/>
<line x1="0.0" y1="357.3" x2="347.8" y2="357.3" class="g"/>
<path d="M64.9 39.6h0M65.6 39.5h0M66.3 39.5h0M67.0 39.5h0M69.5 11.2h0M70.1 4.2h0M67.7 39.6h0M72.6 11.7h0M73.9 4.7h0M68.4 39.8h0M75.7 12.3h0M77.6 5.5h0M69.0 40.0h0M76.3 20.0h0M78.7 13.3h0M81.2 6.6h0M69.7 40.2h0M75.7 27.4h0M78.7 20.9h0M81.7 14.5h0M84.7 8.1h0M87.7 1.6h0M70.3 40.6h0M77.4 28.3h0M80.9 22.1h0M84.5 16.0h0M88.0 9.8h0M91.6 3.7h0M70.9 40.9h0M79.0 29.3h0M83.1 23.5h0M87.2 17.7h0M91.3 11.9h0M95.3 6.1h0M99.4 0.2h0M71.4 41.4h0M76.0 35.9h0M80.6 30.5h0M85.1 25.1h0M89.7 19.6h0M94.3 14.2h0M98.8 8.7h0M103.4 3.3h0M72.0 41.8h0M77.0 36.8h0M82.0 31.8h0M87.0 26.8h0M92.0 21.8h0M97.1 16.7h0M102.1 11.7h0M107.1 6.7h0M112.1 1.7h0M72.4 42.4h0M77.9 37.8h0M83.3 33.2h0M88.7 28.7h0M94.2 24.1h0M99.6 19.5h0M105.1 15.0h0M110.5 10.4h0M115.9 5.8h0M121.4 1.3h0M72.9 42.9h0M78.7 38.8h0M84.5 34.8h0M90.3 30.7h0M96.1 26.6h0M101.9 22.5h0M107.7 18.5h0M113.6 14.4h0M119.4 10.3h0M125.2 6.3h0M131.0 2.2h0M73.2 43.5h0M79.4 39.9h0M85.5 36.4h0M91.7 32.8h0M97.8 29.3h0M104.0 25.7h0M110.1 22.2h0M116.3 18.6h0M122.4 15.1h0M128.6 11.5h0M134.7 8.0h0M140.9 4.4h0M147.0 0.9h0M73.6 44.1h0M80.0 41.1h0M86.4 38.1h0M92.9 35.1h0M99.3 32.1h0M105.7 29.1h0M112.2 26.1h0M118.6 23.1h0M125.0 20.1h0M131.5 17.1h0M137.9 14.1h0M144.3 11.1h0M150.8 8.1h0M157.2 5.1h0M163.6 2.1h0M73.8 44.8h0M80.5 42.3h0M87.2 39.9h0M93.8 37.5h0M100.5 35.1h0M107.2 32.6h0M113.8 30.2h0M120.5 27.8h0M127.2 25.3h0M133.9 22.9h0M140.5 20.5h0M147.2 18.1h0M153.9 15.6h0M160.6 13.2h0M167.2 10.8h0M173.9 8.3h0M180.6 5.9h0M187.2 3.5h0M193.9 1.1h0M74.0 45.4h0M80.9 43.6h0M87.7 41.8h0M94.6 39.9h0M101.5 38.1h0M108.3 36.2h0M115.2 34.4h0M122.0 32.6h0M128.9 30.7h0M135.8 28.9h0M142.6 27.1h0M149.5 25.2h0M156.3 23.4h0M163.2 21.5h0M170.0 19.7h0M176.9 17.9h0M183.8 16.0h0M190.6 14.2h0M197.5 12.4h0M204.3 10.5h0M211.2 8.7h0M218.0 6.8h0M224.9 5.0h0M231.8 3.2h0M238.6 1.3h0M74.2 46.1h0M81.2 44.9h0M88.2 43.6h0M95.2 42.4h0M102.1 41.2h0M109.1 39.9h0M116.1 38.7h0M123.1 37.5h0M130.1 36.2h0M137.1 35.0h0M144.1 33.8h0M151.1 32.5h0M158.1 31.3h0M165.1 30.1h0M172.1 28.9h0M179.1 27.6h0M186.1 26.4h0M193.0 25.2h0M200.0 23.9h0M207.0 22.7h0M214.0 21.5h0M221.0 20.2h0M228.0 19.0h0M235.0 17.8h0M242.0 16.5h0M249.0 15.3h0M256.0 14.1h0M263.0 12.8h0M270.0 11.6h0M277.0 10.4h0M283.9 9.1h0M74.3 46.8h0M81.3 46.2h0M88.4 45.6h0M95.5 44.9h0M102.6 44.3h0M109.6 43.7h0M116.7 43.1h0M123.8 42.5h0M130.9 41.9h0M137.9 41.2h0M145.0 40.6h0M152.1 40.0h0M159.1 39.4h0M166.2 38.8h0M173.3 38.1h0M180.4 37.5h0M187.4 36.9h0M194.5 36.3h0M201.6 35.7h0M208.7 35.0h0M215.7 34.4h0M222.8 33.8h0M229.9 33.2h0M236.9 32.6h0M244.0 32.0h0M251.1 31.3h0M258.2 30.7h0M265.2 30.1h0M272.3 29.5h0M279.4 28.9h0M286.5 28.2h0M74.3 47.5h0M81.4 47.5h0M88.5 47.5h0M95.6 47.5h0M102.7 47.5h0M109.8 47.5h0M116.9 47.5h0M124.0 47.5h0M131.1 47.5h0M138.2 47.5h0M145.3 47.5h0M152.4 47.5h0M159.5 47.5h0M166.6 47.5h0M173.7 47.5h0M180.8 47.5h0M187.9 47.5h0M195.0 47.5h0M202.1 47.5h0M209.2 47.5h0M216.3 47.5h0M223.4 47.5h0M230.5 47.5h0M237.6 47.5h0M244.7 47.5h0M251.8 47.5h0M258.9 47.5h0M266.0 47.5h0M273.1 47.5h0M280.2 47.5h0M287.3 47.5h0M74.3 48.2h0M81.3 48.8h0M88.4 49.4h0M95.5 50.1h0M102.6 50.7h0M109.6 51.3h0M116.7 51.9h0M123.8 52.5h0M130.9 53.1h0M137.9 53.8h0M145.0 54.4h0M152.1 55.0h0M159.1 55.6h0M166.2 56.2h0M173.3 56.9h0M180.4 57.5h0M187.4 58.1h0M194.5 58.7h0M201.6 59.3h0M208.7 60.0h0M215.7 60.6h0M222.8 61.2h0M229.9 61.8h0M236.9 62.4h0M244.0 63.0h0M251.1 63.7h0M258.2 64.3h0M265.2 64.9h0M272.3 65.5h0M279.4 66.1h0M286.5 66.8h0M74.2 48.9h0M81.2 50.1h0M88.2 51.4h0M95.2 52.6h0M102.1 53.8h0M109.1 55.1h0M116.1 56.3h0M123.1 57.5h0M130.1 58.8h0M137.1 60.0h0M144.1 61.2h0M151.1 62.5h0M158.1 63.7h0M165.1 64.9h0M172.1 66.1h0M179.1 67.4h0M186.1 68.6h0M193.0 69.8h0M200.0 71.1h0M207.0 72.3h0M214.0 73.5h0M221.0 74.8h0M228.0 76.0h0M235.0 77.2h0M242.0 78.5h0M249.0 79.7h0M256.0 80.9h0M263.0 82.2h0M270.0 83.4h0M277.0 84.6h0M283.9 85.9h0M74.0 49.6h0M80.9 51.4h0M87.7 53.2h0M94.6 55.1h0M101.5 56.9h0M108.3 58.8h0M115.2 60.6h0M122.0 62.4h0M128.9 64.3h0M135.8 66.1h0M142.6 67.9h0M149.5 69.8h0M156.3 71.6h0M163.2 73.5h0M170.0 75.3h0M176.9 77.1h0M183.8 79.0h0M190.6 80.8h0M197.5 82.6h0M204.3 84.5h0M211.2 86.3h0M218.0 88.2h0M224.9 90.0h0M231.8 91.8h0M238.6 93.7h0M245.5 95.5h0M252.3 97.3h0M259.2 99.2h0M266.1 101.0h0M272.9 102.9h0M279.8 104.7h0M73.8 50.2h0M80.5 52.7h0M87.2 55.1h0M93.8 57.5h0M100.5 59.9h0M107.2 62.4h0M113.8 64.8h0M120.5 67.2h0M127.2 69.7h0M133.9 72.1h0M140.5 74.5h0M147.2 76.9h0M153.9 79.4h0M160.6 81.8h0M167.2 84.2h0M173.9 86.7h0M180.6 89.1h0M187.2 91.5h0M193.9 93.9h0M200.6 96.4h0M207.3 98.8h0M213.9 101.2h0M220.6 103.7h0M227.3 106.1h0M233.9 108.5h0M240.6 110.9h0M247.3 113.4h0M254.0 115.8h0M260.6 118.2h0M267.3 120.7h0M274.0 123.1h0M73.6 50.9h0M86.4 56.9h0M92.9 59.9h0M99.3 62.9h0M105.7 65.9h0M112.2 68.9h0M118.6 71.9h0M125.0 74.9h0M131.5 77.9h0M137.9 80.9h0M144.3 83.9h0M150.8 86.9h0M157.2 89.9h0M163.6 92.9h0M170.1 95.9h0M176.5 98.9h0M182.9 101.9h0M189.4 104.9h0M195.8 107.9h0M202.2 110.9h0M208.7 113.9h0M215.1 116.9h0M221.6 119.9h0M228.0 122.9h0M234.4 125.9h0M240.9 128.9h0M247.3 131.9h0M253.7 134.9h0M260.2 137.9h0M266.6 140.9h0M73.2 51.5h0M85.5 58.6h0M91.7 62.1h0M97.8 65.7h0M104.0 69.2h0M110.1 72.8h0M116.3 76.3h0M122.4 79.9h0M128.6 83.4h0M134.7 87.0h0M140.9 90.5h0M147.0 94.1h0M153.2 97.6h0M159.3 101.2h0M165.5 104.7h0M171.6 108.3h0M177.8 111.8h0M183.9 115.4h0M190.1 118.9h0M196.2 122.5h0M202.4 126.0h0M208.5 129.6h0M214.7 133.1h0M220.8 136.7h0M226.9 140.2h0M233.1 143.8h0M239.2 147.3h0M245.4 150.9h0M251.5 154.4h0M257.7 158.0h0M72.9 52.1h0M84.5 60.2h0M90.3 64.3h0M96.1 68.4h0M101.9 72.5h0M107.7 76.5h0M113.6 80.6h0M119.4 84.7h0M125.2 88.7h0M131.0 92.8h0M136.8 96.9h0M142.6 101.0h0M148.5 105.0h0M154.3 109.1h0M160.1 113.2h0M165.9 117.2h0M171.7 121.3h0M177.5 125.4h0M183.4 129.5h0M189.2 133.5h0M195.0 137.6h0M200.8 141.7h0M206.6 145.8h0M212.4 149.8h0M218.3 153.9h0M224.1 158.0h0M229.9 162.0h0M235.7 166.1h0M241.5 170.2h0M247.3 174.3h0M72.4 52.6h0M83.3 61.8h0M88.7 66.3h0M94.2 70.9h0M99.6 75.5h0M105.1 80.0h0M110.5 84.6h0M115.9 89.2h0M121.4 93.7h0M126.8 98.3h0M132.3 102.8h0M137.7 107.4h0M143.1 112.0h0M148.6 116.5h0M154.0 121.1h0M159.5 125.7h0M164.9 130.2h0M170.3 134.8h0M175.8 139.4h0M181.2 143.9h0M186.6 148.5h0M192.1 153.0h0M197.5 157.6h0M203.0 162.2h0M208.4 166.7h0M213.8 171.3h0M219.3 175.9h0M224.7 180.4h0M230.2 185.0h0M235.6 189.6h0M72.0 53.2h0M87.0 68.2h0M92.0 73.2h0M97.1 78.3h0M102.1 83.3h0M107.1 88.3h0M112.1 93.3h0M117.1 98.3h0M122.2 103.4h0M127.2 108.4h0M132.2 113.4h0M137.2 118.4h0M142.2 123.4h0M147.3 128.5h0M152.3 133.5h0M157.3 138.5h0M162.3 143.5h0M167.3 148.5h0M172.4 153.6h0M177.4 158.6h0M182.4 163.6h0M187.4 168.6h0M192.4 173.6h0M197.5 178.7h0M202.5 183.7h0M207.5 188.7h0M212.5 193.7h0M217.6 198.8h0M222.6 203.8h0M85.1 69.9h0M89.7 75.4h0M94.3 80.8h0M98.8 86.3h0M103.4 91.7h0M108.0 97.1h0M112.5 102.6h0M117.1 108.0h0M121.6 113.5h0M126.2 118.9h0M130.8 124.3h0M135.3 129.8h0M139.9 135.2h0M144.5 140.7h0M149.0 146.1h0M153.6 151.5h0M158.2 157.0h0M162.7 162.4h0M167.3 167.8h0M171.8 173.3h0M176.4 178.7h0M181.0 184.2h0M185.5 189.6h0M190.1 195.0h0M194.7 200.5h0M199.2 205.9h0M203.8 211.4h0M208.4 216.8h0M83.1 71.5h0M87.2 77.3h0M91.3 83.1h0M95.3 88.9h0M99.4 94.8h0M103.5 100.6h0M107.5 106.4h0M111.6 112.2h0M115.7 118.0h0M119.8 123.8h0M123.8 129.7h0M127.9 135.5h0M132.0 141.3h0M136.0 147.1h0M140.1 152.9h0M144.2 158.7h0M148.3 164.6h0M152.3 170.4h0M156.4 176.2h0M160.5 182.0h0M164.6 187.8h0M168.6 193.6h0M172.7 199.5h0M176.8 205.3h0M180.8 211.1h0M184.9 216.9h0M189.0 222.7h0M193.1 228.5h0M84.5 79.0h0M88.0 85.2h0M91.6 91.3h0M95.1 97.5h0M98.7 103.6h0M102.2 109.8h0M105.8 115.9h0M109.3 122.1h0M112.9 128.2h0M116.4 134.4h0M120.0 140.5h0M123.5 146.7h0M127.1 152.8h0M130.6 159.0h0M134.2 165.1h0M137.8 171.3h0M141.3 177.4h0M144.8 183.6h0M148.4 189.7h0M151.9 195.9h0M155.5 202.0h0M159.0 208.1h0M162.6 214.3h0M166.1 220.4h0M169.7 226.6h0M173.2 232.7h0M176.8 238.9h0M84.7 86.9h0M90.7 99.8h0M93.7 106.2h0M99.7 119.1h0M102.7 125.5h0M108.7 138.4h0M111.7 144.8h0M114.7 151.3h0M117.7 157.7h0M123.7 170.6h0M126.7 177.0h0M129.7 183.4h0M132.7 189.9h0M135.7 196.3h0M138.7 202.8h0M141.7 209.2h0M144.7 215.6h0M147.7 222.1h0M150.7 228.5h0M153.7 234.9h0M156.7 241.4h0M159.7 247.8h0M122.5 201.8h0M124.9 208.5h0M127.3 215.1h0M129.7 221.8h0M132.2 228.5h0M134.6 235.2h0M137.0 241.8h0M139.5 248.5h0M141.9 255.2h0M119.8 247.3h0M121.7 254.1h0M123.5 261.0h0M103.4 258.2h0M104.7 265.1h0M67.0 55.5h0M85.6 267.7h0" stroke="#0000ff" stroke-width="2.8" stroke-linecap="round" fill="none"/>
<path d="M102.2 150.2h0M102.7 150.0h0M90.9 106.0h0M87.0 91.3h0M85.0 84.0h0M83.0 76.6h0M75.2 47.2h0M103.3 149.9h0M99.3 127.4h0M95.4 105.0h0M94.0 97.5h0M92.7 90.0h0M91.4 82.5h0M90.1 75.1h0M88.8 67.6h0M87.4 60.1h0M86.1 52.6h0M84.8 45.1h0M83.5 37.6h0M82.2 30.1h0M80.8 22.7h0M79.5 15.2h0M78.2 7.7h0M76.9 0.2h0M103.8 149.8h0M101.8 127.1h0M101.2 119.5h0M100.5 112.0h0M99.9 104.4h0M99.2 96.8h0M98.5 89.3h0M97.9 81.7h0M97.2 74.1h0M96.5 66.5h0M95.9 59.0h0M95.2 51.4h0M94.6 43.8h0M93.9 36.3h0M93.2 28.7h0M92.6 21.1h0M91.9 13.5h0M91.2 6.0h0M104.4 149.8h0M104.4 127.0h0M104.4 119.4h0M104.4 111.8h0M104.4 104.2h0M104.4 96.6h0M104.4 89.0h0M104.4 81.4h0M104.4 73.8h0M104.4 66.2h0M104.4 58.6h0M104.4 51.0h0M104.4 43.4h0M104.4 35.8h0M104.4 28.2h0M104.4 20.6h0M104.4 13.0h0M104.4 5.4h0M105.0 149.8h0M106.3 134.7h0M107.0 127.1h0M107.6 119.5h0M108.3 112.0h0M108.9 104.4h0M109.6 96.8h0M110.3 89.3h0M110.9 81.7h0M111.6 74.1h0M112.3 66.5h0M112.9 59.0h0M113.6 51.4h0M114.2 43.8h0M114.9 36.3h0M115.6 28.7h0M116.2 21.1h0M116.9 13.5h0M117.6 6.0h0M105.5 149.9h0M106.8 142.4h0M108.2 134.9h0M109.5 127.4h0M110.8 120.0h0M112.1 112.5h0M113.4 105.0h0M114.8 97.5h0M116.1 90.0h0M117.4 82.5h0M118.7 75.1h0M120.0 67.6h0M121.4 60.1h0M122.7 52.6h0M124.0 45.1h0M125.3 37.6h0M126.6 30.1h0M128.0 22.7h0M129.3 15.2h0M130.6 7.7h0M131.9 0.2h0M106.1 150.0h0M108.0 142.7h0M110.0 135.3h0M112.0 128.0h0M114.0 120.7h0M115.9 113.3h0M117.9 106.0h0M119.9 98.6h0M121.8 91.3h0M123.8 84.0h0M125.8 76.6h0M127.7 69.3h0M129.7 61.9h0M131.7 54.6h0M133.6 47.2h0M135.6 39.9h0M137.6 32.6h0M139.5 25.2h0M141.5 17.9h0M143.5 10.5h0M145.4 3.2h0M106.6 150.2h0M109.2 143.1h0M111.8 135.9h0M114.4 128.8h0M117.0 121.6h0M119.6 114.5h0M122.2 107.3h0M124.8 100.2h0M127.4 93.1h0M130.0 85.9h0M132.6 78.8h0M135.2 71.6h0M137.8 64.5h0M140.4 57.4h0M143.0 50.2h0M145.6 43.1h0M148.2 35.9h0M150.8 28.8h0M153.4 21.6h0M156.0 14.5h0M158.6 7.4h0M161.2 0.2h0M107.1 150.4h0M110.4 143.5h0M113.6 136.6h0M116.8 129.7h0M120.0 122.9h0M123.2 116.0h0M126.4 109.1h0M129.6 102.2h0M132.8 95.3h0M136.1 88.4h0M139.3 81.5h0M142.5 74.6h0M145.7 67.8h0M148.9 60.9h0M152.1 54.0h0M155.3 47.1h0M158.5 40.2h0M161.7 33.3h0M165.0 26.4h0M168.2 19.5h0M171.4 12.7h0M174.6 5.8h0M107.7 150.7h0M111.5 144.1h0M115.2 137.5h0M119.0 130.9h0M122.8 124.3h0M126.7 117.8h0M130.4 111.2h0M134.2 104.6h0M138.1 98.0h0M141.8 91.4h0M145.7 84.9h0M149.4 78.3h0M153.2 71.7h0M157.1 65.1h0M160.8 58.5h0M164.7 51.9h0M168.4 45.4h0M172.2 38.8h0M176.0 32.2h0M179.8 25.6h0M183.6 19.0h0M187.4 12.5h0M191.2 5.9h0M108.1 151.0h0M112.5 144.7h0M116.8 138.5h0M121.2 132.3h0M125.6 126.1h0M129.9 119.8h0M134.3 113.6h0M138.6 107.4h0M143.0 101.2h0M147.4 94.9h0M151.7 88.7h0M156.1 82.5h0M160.4 76.3h0M164.8 70.0h0M169.2 63.8h0M173.5 57.6h0M177.9 51.4h0M182.2 45.1h0M186.6 38.9h0M191.0 32.7h0M195.3 26.5h0M199.7 20.2h0M204.0 14.0h0M208.4 7.8h0M212.7 1.6h0M108.6 151.3h0M113.5 145.5h0M118.3 139.7h0M123.2 133.9h0M128.1 128.0h0M133.0 122.2h0M137.9 116.4h0M142.8 110.6h0M147.7 104.7h0M152.5 98.9h0M157.4 93.1h0M162.3 87.3h0M167.2 81.5h0M172.1 75.6h0M177.0 69.8h0M181.9 64.0h0M186.7 58.2h0M191.6 52.3h0M196.5 46.5h0M201.4 40.7h0M206.3 34.9h0M211.2 29.1h0M216.1 23.2h0M220.9 17.4h0M225.8 11.6h0M230.7 5.8h0M109.0 151.7h0M114.4 146.3h0M119.7 141.0h0M125.1 135.6h0M130.5 130.2h0M135.9 124.8h0M141.2 119.5h0M146.6 114.1h0M152.0 108.7h0M157.4 103.3h0M162.7 98.0h0M168.1 92.6h0M173.5 87.2h0M178.9 81.8h0M184.2 76.5h0M189.6 71.1h0M195.0 65.7h0M200.4 60.3h0M205.7 55.0h0M211.1 49.6h0M216.5 44.2h0M221.9 38.8h0M227.2 33.5h0M232.6 28.1h0M238.0 22.7h0M243.3 17.4h0M248.7 12.0h0M254.1 6.6h0M259.5 1.2h0M109.4 152.1h0M115.2 147.2h0M121.0 142.4h0M126.8 137.5h0M132.7 132.6h0M138.5 127.7h0M144.3 122.8h0M150.1 117.9h0M156.0 113.0h0M161.8 108.2h0M167.6 103.3h0M173.4 98.4h0M179.2 93.5h0M185.1 88.6h0M190.9 83.7h0M196.7 78.8h0M202.5 74.0h0M208.4 69.1h0M214.2 64.2h0M220.0 59.3h0M225.8 54.4h0M231.6 49.5h0M237.5 44.6h0M243.3 39.8h0M249.1 34.9h0M254.9 30.0h0M260.7 25.1h0M266.6 20.2h0M272.4 15.3h0M278.2 10.5h0M284.0 5.6h0M289.9 0.7h0M109.7 152.6h0M116.0 148.2h0M122.2 143.9h0M128.4 139.5h0M134.6 135.1h0M140.9 130.8h0M147.1 126.4h0M153.3 122.1h0M159.5 117.7h0M165.8 113.3h0M172.0 109.0h0M178.2 104.6h0M184.4 100.3h0M190.7 95.9h0M196.9 91.5h0M203.1 87.2h0M209.3 82.8h0M215.6 78.5h0M221.8 74.1h0M228.0 69.7h0M234.2 65.4h0M240.5 61.0h0M246.7 56.7h0M252.9 52.3h0M259.1 48.0h0M265.4 43.6h0M271.6 39.2h0M277.8 34.9h0M284.0 30.5h0M290.3 26.2h0M296.5 21.8h0M302.7 17.4h0M308.9 13.1h0M315.2 8.7h0M321.4 4.4h0M110.0 153.1h0M116.6 149.2h0M123.2 145.5h0M129.8 141.7h0M136.4 137.9h0M142.9 134.1h0M149.5 130.2h0M156.1 126.5h0M162.7 122.7h0M169.3 118.9h0M175.8 115.1h0M182.4 111.2h0M189.0 107.5h0M195.6 103.7h0M202.2 99.8h0M208.8 96.0h0M215.3 92.2h0M221.9 88.5h0M228.5 84.7h0M235.1 80.8h0M241.7 77.0h0M248.2 73.2h0M254.8 69.5h0M261.4 65.7h0M268.0 61.9h0M274.6 58.0h0M281.2 54.2h0M287.7 50.4h0M294.3 46.6h0M300.9 42.8h0M307.5 39.0h0M314.1 35.2h0M320.6 31.4h0M327.2 27.7h0M333.8 23.8h0M110.3 153.6h0M117.2 150.3h0M124.1 147.1h0M131.0 143.9h0M137.8 140.7h0M144.7 137.5h0M151.6 134.3h0M158.5 131.1h0M165.4 127.9h0M172.3 124.6h0M179.2 121.4h0M186.1 118.2h0M192.9 115.0h0M199.8 111.8h0M206.7 108.6h0M213.6 105.4h0M220.5 102.2h0M227.4 99.0h0M234.3 95.7h0M241.2 92.5h0M248.0 89.3h0M254.9 86.1h0M261.8 82.9h0M268.7 79.7h0M275.6 76.5h0M282.5 73.3h0M289.4 70.0h0M296.3 66.8h0M303.2 63.6h0M310.0 60.4h0M316.9 57.2h0M323.8 54.0h0M330.7 50.8h0M337.6 47.6h0M344.5 44.3h0M110.5 154.1h0M117.6 151.5h0M124.8 148.9h0M131.9 146.3h0M139.1 143.7h0M146.2 141.1h0M153.4 138.5h0M160.5 135.9h0M167.6 133.3h0M174.8 130.7h0M181.9 128.1h0M189.1 125.5h0M196.2 122.9h0M203.3 120.3h0M210.5 117.7h0M217.6 115.1h0M224.8 112.5h0M231.9 109.9h0M239.1 107.3h0M246.2 104.7h0M253.3 102.1h0M260.5 99.5h0M267.6 96.9h0M274.8 94.3h0M281.9 91.7h0M289.0 89.1h0M296.2 86.5h0M303.3 83.9h0M310.5 81.3h0M317.6 78.7h0M324.8 76.1h0M331.9 73.5h0M339.0 70.9h0M346.2 68.3h0M110.7 154.6h0M118.0 152.7h0M125.4 150.7h0M132.7 148.7h0M140.0 146.7h0M147.4 144.8h0M154.7 142.8h0M162.1 140.8h0M169.4 138.9h0M176.7 136.9h0M184.1 134.9h0M191.4 133.0h0M198.8 131.0h0M206.1 129.0h0M213.5 127.1h0M220.8 125.1h0M228.1 123.1h0M235.5 121.2h0M242.8 119.2h0M250.2 117.2h0M257.5 115.3h0M264.8 113.3h0M272.2 111.3h0M279.5 109.4h0M286.9 107.4h0M294.2 105.4h0M301.5 103.5h0M308.9 101.5h0M316.2 99.5h0M323.6 97.6h0M330.9 95.6h0M338.3 93.6h0M345.6 91.7h0M110.8 155.2h0M118.3 153.9h0M125.8 152.5h0M133.3 151.2h0M140.7 149.9h0M148.2 148.6h0M155.7 147.3h0M163.2 145.9h0M170.7 144.6h0M178.2 143.3h0M185.6 142.0h0M193.1 140.7h0M200.6 139.3h0M208.1 138.0h0M215.6 136.7h0M223.1 135.4h0M230.6 134.1h0M238.0 132.7h0M245.5 131.4h0M253.0 130.1h0M260.5 128.8h0M268.0 127.5h0M275.5 126.1h0M282.9 124.8h0M290.4 123.5h0M297.9 122.2h0M305.4 120.9h0M312.9 119.5h0M320.4 118.2h0M327.9 116.9h0M335.3 115.6h0M342.8 114.3h0M110.9 155.7h0M118.4 155.1h0M126.0 154.4h0M133.6 153.7h0M141.2 153.1h0M148.7 152.4h0M156.3 151.8h0M163.9 151.1h0M171.4 150.4h0M179.0 149.8h0M186.6 149.1h0M194.2 148.4h0M201.7 147.8h0M209.3 147.1h0M216.9 146.5h0M224.4 145.8h0M232.0 145.1h0M239.6 144.5h0M247.2 143.8h0M254.7 143.1h0M262.3 142.5h0M269.9 141.8h0M277.4 141.2h0M285.0 140.5h0M292.6 139.8h0M300.2 139.2h0M307.7 138.5h0M315.3 137.8h0M322.9 137.2h0M330.4 136.5h0M338.0 135.9h0M345.6 135.2h0M110.9 156.3h0M118.5 156.3h0M126.1 156.3h0M133.7 156.3h0M141.3 156.3h0M148.9 156.3h0M156.5 156.3h0M164.1 156.3h0M171.7 156.3h0M179.3 156.3h0M186.9 156.3h0M194.5 156.3h0M202.1 156.3h0M209.7 156.3h0M217.3 156.3h0M224.9 156.3h0M232.5 156.3h0M240.1 156.3h0M247.7 156.3h0M255.3 156.3h0M262.9 156.3h0M270.5 156.3h0M278.1 156.3h0M285.7 156.3h0M293.3 156.3h0M300.9 156.3h0M308.5 156.3h0M316.1 156.3h0M323.7 156.3h0M331.3 156.3h0M338.9 156.3h0M346.5 156.3h0M110.9 156.9h0M118.4 157.5h0M126.0 158.2h0M133.6 158.9h0M141.2 159.5h0M148.7 160.2h0M156.3 160.8h0M163.9 161.5h0M171.4 162.2h0M179.0 162.8h0M186.6 163.5h0M194.2 164.2h0M201.7 164.8h0M209.3 165.5h0M216.9 166.1h0M224.4 166.8h0M232.0 167.5h0M239.6 168.1h0M247.2 168.8h0M254.7 169.5h0M262.3 170.1h0M269.9 170.8h0M277.4 171.4h0M285.0 172.1h0M292.6 172.8h0M300.2 173.4h0M307.7 174.1h0M315.3 174.8h0M322.9 175.4h0M330.4 176.1h0M338.0 176.7h0M345.6 177.4h0M110.8 157.4h0M118.3 158.7h0M125.8 160.1h0M133.3 161.4h0M140.7 162.7h0M148.2 164.0h0M155.7 165.3h0M163.2 166.7h0M170.7 168.0h0M178.2 169.3h0M185.6 170.6h0M193.1 171.9h0M200.6 173.3h0M208.1 174.6h0M215.6 175.9h0M223.1 177.2h0M230.6 178.5h0M238.0 179.9h0M245.5 181.2h0M253.0 182.5h0M260.5 183.8h0M268.0 185.1h0M275.5 186.5h0M282.9 187.8h0M290.4 189.1h0M297.9 190.4h0M305.4 191.7h0M312.9 193.1h0M320.4 194.4h0M327.9 195.7h0M335.3 197.0h0M342.8 198.3h0M110.7 158.0h0M118.0 159.9h0M125.4 161.9h0M132.7 163.9h0M140.0 165.9h0M147.4 167.8h0M154.7 169.8h0M162.1 171.8h0M169.4 173.7h0M176.7 175.7h0M184.1 177.7h0M191.4 179.6h0M198.8 181.6h0M206.1 183.6h0M213.5 185.5h0M220.8 187.5h0M228.1 189.5h0M235.5 191.4h0M242.8 193.4h0M250.2 195.4h0M257.5 197.3h0M264.8 199.3h0M272.2 201.3h0M279.5 203.2h0M286.9 205.2h0M294.2 207.2h0M301.5 209.1h0M308.9 211.1h0M316.2 213.1h0M323.6 215.0h0M330.9 217.0h0M338.3 219.0h0M345.6 220.9h0M110.5 158.5h0M117.6 161.1h0M124.8 163.7h0M131.9 166.3h0M139.1 168.9h0M146.2 171.5h0M153.4 174.1h0M160.5 176.7h0M167.6 179.3h0M174.8 181.9h0M181.9 184.5h0M189.1 187.1h0M196.2 189.7h0M203.3 192.3h0M210.5 194.9h0M217.6 197.5h0M224.8 200.1h0M231.9 202.7h0M239.1 205.3h0M246.2 207.9h0M253.3 210.5h0M260.5 213.1h0M267.6 215.7h0M274.8 218.3h0M281.9 220.9h0M289.0 223.5h0M296.2 226.1h0M303.3 228.7h0M310.5 231.3h0M317.6 233.9h0M324.8 236.5h0M331.9 239.1h0M339.0 241.7h0M346.2 244.3h0M110.3 159.0h0M117.2 162.3h0M124.1 165.5h0M131.0 168.7h0M137.8 171.9h0M144.7 175.1h0M151.6 178.3h0M158.5 181.5h0M165.4 184.7h0M172.3 188.0h0M179.2 191.2h0M186.1 194.4h0M192.9 197.6h0M199.8 200.8h0M206.7 204.0h0M213.6 207.2h0M220.5 210.4h0M227.4 213.6h0M234.3 216.9h0M241.2 220.1h0M248.0 223.3h0M254.9 226.5h0M261.8 229.7h0M268.7 232.9h0M275.6 236.1h0M282.5 239.3h0M289.4 242.6h0M296.3 245.8h0M303.2 249.0h0M310.0 252.2h0M316.9 255.4h0M323.8 258.6h0M330.7 261.8h0M337.6 265.0h0M344.5 268.3h0M110.0 159.6h0M123.2 167.2h0M129.8 170.9h0M136.4 174.8h0M142.9 178.6h0M149.5 182.3h0M156.1 186.2h0M162.7 189.9h0M169.3 193.8h0M175.8 197.5h0M182.4 201.3h0M189.0 205.1h0M195.6 208.9h0M202.2 212.7h0M208.8 216.5h0M215.3 220.3h0M221.9 224.1h0M228.5 227.9h0M235.1 231.8h0M241.7 235.5h0M248.2 239.3h0M254.8 243.1h0M261.4 246.9h0M268.0 250.7h0M274.6 254.5h0M281.2 258.3h0M287.7 262.1h0M294.3 265.9h0M300.9 269.7h0M307.5 273.5h0M314.1 277.3h0M320.6 281.1h0M327.2 284.9h0M333.8 288.7h0M109.7 160.0h0M122.2 168.7h0M128.4 173.1h0M134.6 177.5h0M140.9 181.8h0M147.1 186.2h0M153.3 190.5h0M159.5 194.9h0M165.8 199.3h0M172.0 203.6h0M178.2 208.0h0M184.4 212.3h0M190.7 216.7h0M196.9 221.1h0M203.1 225.4h0M209.3 229.8h0M215.6 234.1h0M221.8 238.5h0M228.0 242.9h0M234.2 247.2h0M240.5 251.6h0M246.7 255.9h0M252.9 260.3h0M259.1 264.6h0M265.4 269.0h0M271.6 273.4h0M277.8 277.7h0M284.0 282.1h0M290.3 286.4h0M296.5 290.8h0M302.7 295.2h0M308.9 299.5h0M109.4 160.5h0M121.0 170.2h0M126.8 175.1h0M132.7 180.0h0M138.5 184.9h0M144.3 189.8h0M150.1 194.7h0M156.0 199.6h0M161.8 204.4h0M167.6 209.3h0M173.4 214.2h0M179.2 219.1h0M185.1 224.0h0M190.9 228.9h0M196.7 233.8h0M202.5 238.6h0M208.4 243.5h0M214.2 248.4h0M220.0 253.3h0M225.8 258.2h0M231.6 263.1h0M237.5 268.0h0M243.3 272.8h0M249.1 277.7h0M254.9 282.6h0M260.7 287.5h0M266.6 292.4h0M272.4 297.3h0M278.2 302.1h0M284.0 307.0h0M109.0 160.9h0M125.1 177.0h0M130.5 182.4h0M135.9 187.8h0M141.2 193.1h0M146.6 198.5h0M152.0 203.9h0M157.4 209.3h0M162.7 214.6h0M168.1 220.0h0M173.5 225.4h0M178.9 230.8h0M184.2 236.1h0M189.6 241.5h0M195.0 246.9h0M200.4 252.3h0M205.7 257.6h0M211.1 263.0h0M216.5 268.4h0M221.9 273.8h0M227.2 279.1h0M232.6 284.5h0M238.0 289.9h0M243.3 295.2h0M248.7 300.6h0M254.1 306.0h0M259.5 311.4h0M264.8 316.7h0M108.6 161.3h0M123.2 178.7h0M128.1 184.6h0M133.0 190.4h0M137.9 196.2h0M142.8 202.0h0M147.7 207.9h0M152.5 213.7h0M157.4 219.5h0M162.3 225.3h0M167.2 231.1h0M172.1 237.0h0M177.0 242.8h0M181.9 248.6h0M186.7 254.4h0M191.6 260.3h0M196.5 266.1h0M201.4 271.9h0M206.3 277.7h0M211.2 283.5h0M216.1 289.4h0M220.9 295.2h0M225.8 301.0h0M230.7 306.8h0M235.6 312.6h0M240.5 318.5h0M245.4 324.3h0M108.1 161.6h0M121.2 180.3h0M125.6 186.5h0M129.9 192.8h0M134.3 199.0h0M138.6 205.2h0M143.0 211.4h0M147.4 217.7h0M151.7 223.9h0M156.1 230.1h0M160.4 236.3h0M164.8 242.6h0M169.2 248.8h0M173.5 255.0h0M177.9 261.2h0M182.2 267.5h0M186.6 273.7h0M191.0 279.9h0M195.3 286.1h0M199.7 292.4h0M204.0 298.6h0M208.4 304.8h0M212.7 311.0h0M217.1 317.3h0M221.5 323.5h0M225.8 329.7h0M230.2 335.9h0M122.8 188.3h0M126.7 194.8h0M130.4 201.4h0M134.2 208.0h0M138.1 214.6h0M141.8 221.2h0M145.7 227.7h0M149.4 234.3h0M153.2 240.9h0M157.1 247.5h0M160.8 254.1h0M164.7 260.7h0M168.4 267.2h0M172.2 273.8h0M176.0 280.4h0M179.8 287.0h0M183.6 293.6h0M187.4 300.1h0M191.2 306.7h0M195.0 313.3h0M198.8 319.9h0M202.6 326.5h0M206.4 333.1h0M210.2 339.6h0M123.2 196.6h0M126.4 203.5h0M129.6 210.4h0M132.8 217.3h0M136.1 224.2h0M139.3 231.1h0M142.5 238.0h0M145.7 244.8h0M148.9 251.7h0M152.1 258.6h0M155.3 265.5h0M158.5 272.4h0M161.7 279.3h0M165.0 286.2h0M168.2 293.1h0M171.4 299.9h0M174.6 306.8h0M177.8 313.7h0M181.0 320.6h0M184.2 327.5h0M187.4 334.4h0M190.7 341.3h0M193.9 348.2h0M122.2 205.3h0M124.8 212.4h0M127.4 219.5h0M130.0 226.7h0M132.6 233.8h0M135.2 241.0h0M137.8 248.1h0M140.4 255.2h0M143.0 262.4h0M145.6 269.5h0M148.2 276.7h0M150.8 283.8h0M153.4 291.0h0M156.0 298.1h0M158.6 305.2h0M161.2 312.4h0M163.8 319.5h0M166.4 326.7h0M169.0 333.8h0M171.6 340.9h0M174.2 348.1h0M176.8 355.2h0M121.8 221.3h0M123.8 228.6h0M125.8 236.0h0M127.7 243.3h0M129.7 250.7h0M131.7 258.0h0M133.6 265.4h0M135.6 272.7h0M137.6 280.0h0M139.5 287.4h0M141.5 294.7h0M143.5 302.1h0M145.4 309.4h0M147.4 316.7h0M149.4 324.1h0M151.3 331.4h0M153.3 338.8h0M155.3 346.1h0M157.2 353.4h0" stroke="#ff0000" stroke-width="2.8" stroke-linecap="round" fill="none"/>
<path d="M114.4 243.8h0M121.7 160.5h0M122.3 153.0h0M123.0 145.4h0M123.6 137.8h0M124.3 130.3h0M114.9 243.9h0M121.5 206.5h0M122.8 199.0h0M124.2 191.5h0M125.5 184.0h0M126.8 176.5h0M128.1 169.1h0M129.4 161.6h0M130.8 154.1h0M132.1 146.6h0M133.4 139.1h0M134.7 131.6h0M115.5 244.0h0M121.4 222.0h0M123.4 214.7h0M125.3 207.3h0M127.3 200.0h0M129.3 192.6h0M131.2 185.3h0M133.2 178.0h0M135.2 170.6h0M137.1 163.3h0M139.1 155.9h0M141.1 148.6h0M143.0 141.2h0M145.0 133.9h0M147.0 126.6h0M116.0 244.2h0M121.2 229.9h0M123.8 222.8h0M126.4 215.6h0M129.0 208.5h0M131.6 201.3h0M134.2 194.2h0M136.8 187.1h0M139.4 179.9h0M142.0 172.8h0M144.6 165.6h0M147.2 158.5h0M149.8 151.4h0M152.4 144.2h0M155.0 137.1h0M157.6 129.9h0M116.5 244.4h0M123.0 230.6h0M126.2 223.7h0M129.4 216.9h0M132.6 210.0h0M135.8 203.1h0M139.0 196.2h0M142.2 189.3h0M145.5 182.4h0M148.7 175.5h0M151.9 168.6h0M155.1 161.8h0M158.3 154.9h0M161.5 148.0h0M164.7 141.1h0M167.9 134.2h0M171.1 127.3h0M117.0 244.7h0M124.6 231.5h0M128.4 224.9h0M132.2 218.3h0M136.0 211.8h0M139.8 205.2h0M143.6 198.6h0M147.4 192.0h0M151.2 185.4h0M155.0 178.9h0M158.8 172.3h0M162.6 165.7h0M166.4 159.1h0M170.2 152.5h0M174.0 145.9h0M177.8 139.4h0M181.6 132.8h0M185.4 126.2h0M117.5 245.0h0M121.9 238.7h0M126.2 232.5h0M130.6 226.3h0M135.0 220.1h0M139.3 213.8h0M143.7 207.6h0M148.0 201.4h0M152.4 195.2h0M156.8 188.9h0M161.1 182.7h0M165.5 176.5h0M169.8 170.3h0M174.2 164.0h0M178.6 157.8h0M182.9 151.6h0M187.3 145.4h0M191.6 139.1h0M196.0 132.9h0M200.4 126.7h0M118.0 245.3h0M122.9 239.5h0M127.7 233.7h0M132.6 227.9h0M137.5 222.0h0M142.4 216.2h0M147.3 210.4h0M152.2 204.6h0M157.1 198.7h0M161.9 192.9h0M166.8 187.1h0M171.7 181.3h0M176.6 175.5h0M181.5 169.6h0M186.4 163.8h0M191.3 158.0h0M196.1 152.2h0M201.0 146.3h0M205.9 140.5h0M210.8 134.7h0M215.7 128.9h0M118.4 245.7h0M123.8 240.3h0M129.1 235.0h0M134.5 229.6h0M139.9 224.2h0M145.3 218.8h0M150.6 213.5h0M156.0 208.1h0M161.4 202.7h0M166.8 197.3h0M172.1 192.0h0M177.5 186.6h0M182.9 181.2h0M188.3 175.8h0M193.6 170.5h0M199.0 165.1h0M204.4 159.7h0M209.8 154.3h0M215.1 149.0h0M220.5 143.6h0M225.9 138.2h0M231.3 132.8h0M118.8 246.1h0M124.6 241.2h0M130.4 236.4h0M136.2 231.5h0M142.1 226.6h0M147.9 221.7h0M153.7 216.8h0M159.5 211.9h0M165.4 207.0h0M171.2 202.2h0M177.0 197.3h0M182.8 192.4h0M188.6 187.5h0M194.5 182.6h0M200.3 177.7h0M206.1 172.8h0M211.9 168.0h0M217.8 163.1h0M223.6 158.2h0M229.4 153.3h0M235.2 148.4h0M241.0 143.5h0M246.9 138.6h0M252.7 133.8h0M119.1 246.6h0M125.4 242.2h0M131.6 237.9h0M137.8 233.5h0M144.0 229.1h0M150.3 224.8h0M156.5 220.4h0M162.7 216.1h0M168.9 211.7h0M175.2 207.3h0M181.4 203.0h0M187.6 198.6h0M193.8 194.3h0M200.1 189.9h0M206.3 185.5h0M212.5 181.2h0M218.7 176.8h0M225.0 172.5h0M231.2 168.1h0M237.4 163.7h0M243.6 159.4h0M249.9 155.0h0M256.1 150.7h0M262.3 146.3h0M268.5 142.0h0M274.8 137.6h0M281.0 133.2h0M119.4 247.1h0M126.0 243.2h0M132.6 239.5h0M139.2 235.7h0M145.8 231.9h0M152.3 228.1h0M158.9 224.2h0M165.5 220.5h0M172.1 216.7h0M178.7 212.9h0M185.2 209.1h0M191.8 205.2h0M198.4 201.4h0M205.0 197.7h0M211.6 193.8h0M218.2 190.1h0M224.7 186.2h0M231.3 182.4h0M237.9 178.7h0M244.5 174.8h0M251.1 171.1h0M257.6 167.2h0M264.2 163.4h0M270.8 159.7h0M277.4 155.9h0M284.0 152.0h0M290.6 148.2h0M297.1 144.4h0M303.7 140.6h0M310.3 136.8h0M119.7 247.6h0M126.6 244.3h0M133.5 241.1h0M140.4 237.9h0M147.2 234.7h0M154.1 231.5h0M161.0 228.3h0M167.9 225.1h0M174.8 221.9h0M181.7 218.6h0M188.6 215.4h0M195.5 212.2h0M202.3 209.0h0M209.2 205.8h0M216.1 202.6h0M223.0 199.4h0M229.9 196.2h0M236.8 193.0h0M243.7 189.7h0M250.6 186.5h0M257.4 183.3h0M264.3 180.1h0M271.2 176.9h0M278.1 173.7h0M285.0 170.5h0M291.9 167.3h0M298.8 164.0h0M305.7 160.8h0M312.6 157.6h0M319.4 154.4h0M326.3 151.2h0M333.2 148.0h0M340.1 144.8h0M347.0 141.6h0M119.9 248.1h0M127.0 245.5h0M134.2 242.9h0M141.3 240.3h0M148.5 237.7h0M155.6 235.1h0M162.8 232.5h0M169.9 229.9h0M177.0 227.3h0M184.2 224.7h0M191.3 222.1h0M198.5 219.5h0M205.6 216.9h0M212.7 214.3h0M219.9 211.7h0M227.0 209.1h0M234.2 206.5h0M241.3 203.9h0M248.5 201.3h0M255.6 198.7h0M262.7 196.1h0M269.9 193.5h0M277.0 190.9h0M284.2 188.3h0M291.3 185.7h0M298.4 183.1h0M305.6 180.5h0M312.7 177.9h0M319.9 175.3h0M327.0 172.7h0M334.2 170.1h0M341.3 167.5h0M120.1 248.6h0M127.4 246.7h0M134.8 244.7h0M142.1 242.7h0M149.4 240.7h0M156.8 238.8h0M164.1 236.8h0M171.5 234.8h0M178.8 232.9h0M186.1 230.9h0M193.5 228.9h0M200.8 227.0h0M208.2 225.0h0M215.5 223.0h0M222.9 221.1h0M230.2 219.1h0M237.5 217.1h0M244.9 215.2h0M252.2 213.2h0M259.6 211.2h0M266.9 209.3h0M274.2 207.3h0M281.6 205.3h0M288.9 203.4h0M296.3 201.4h0M303.6 199.4h0M310.9 197.5h0M318.3 195.5h0M325.6 193.5h0M333.0 191.6h0M340.3 189.6h0M347.7 187.6h0M120.2 249.2h0M127.7 247.9h0M135.2 246.5h0M142.7 245.2h0M150.1 243.9h0M157.6 242.6h0M165.1 241.3h0M172.6 239.9h0M180.1 238.6h0M187.6 237.3h0M195.0 236.0h0M202.5 234.7h0M210.0 233.3h0M217.5 232.0h0M225.0 230.7h0M232.5 229.4h0M240.0 228.1h0M247.4 226.7h0M254.9 225.4h0M262.4 224.1h0M269.9 222.8h0M277.4 221.5h0M284.9 220.1h0M292.3 218.8h0M299.8 217.5h0M307.3 216.2h0M314.8 214.9h0M322.3 213.5h0M329.8 212.2h0M337.3 210.9h0M344.7 209.6h0M120.3 249.7h0M127.8 249.1h0M135.4 248.4h0M143.0 247.7h0M150.6 247.1h0M158.1 246.4h0M165.7 245.8h0M173.3 245.1h0M180.8 244.4h0M188.4 243.8h0M196.0 243.1h0M203.6 242.4h0M211.1 241.8h0M218.7 241.1h0M226.3 240.5h0M233.8 239.8h0M241.4 239.1h0M249.0 238.5h0M256.6 237.8h0M264.1 237.1h0M271.7 236.5h0M279.3 235.8h0M286.8 235.2h0M294.4 234.5h0M302.0 233.8h0M309.6 233.2h0M317.1 232.5h0M324.7 231.8h0M332.3 231.2h0M339.8 230.5h0M347.4 229.9h0M120.3 250.3h0M127.9 250.3h0M135.5 250.3h0M143.1 250.3h0M150.7 250.3h0M158.3 250.3h0M165.9 250.3h0M173.5 250.3h0M181.1 250.3h0M188.7 250.3h0M196.3 250.3h0M203.9 250.3h0M211.5 250.3h0M219.1 250.3h0M226.7 250.3h0M234.3 250.3h0M241.9 250.3h0M249.5 250.3h0M257.1 250.3h0M264.7 250.3h0M272.3 250.3h0M279.9 250.3h0M287.5 250.3h0M295.1 250.3h0M302.7 250.3h0M310.3 250.3h0M317.9 250.3h0M325.5 250.3h0M333.1 250.3h0M340.7 250.3h0M120.3 250.9h0M127.8 251.5h0M135.4 252.2h0M143.0 252.9h0M150.6 253.5h0M158.1 254.2h0M165.7 254.8h0M173.3 255.5h0M180.8 256.2h0M188.4 256.8h0M196.0 257.5h0M203.6 258.2h0M211.1 258.8h0M218.7 259.5h0M226.3 260.1h0M233.8 260.8h0M241.4 261.5h0M249.0 262.1h0M256.6 262.8h0M264.1 263.5h0M271.7 264.1h0M279.3 264.8h0M286.8 265.4h0M294.4 266.1h0M302.0 266.8h0M309.6 267.4h0M317.1 268.1h0M324.7 268.8h0M332.3 269.4h0M339.8 270.1h0M347.4 270.7h0M120.2 251.4h0M127.7 252.7h0M135.2 254.1h0M142.7 255.4h0M150.1 256.7h0M157.6 258.0h0M165.1 259.3h0M172.6 260.7h0M180.1 262.0h0M187.6 263.3h0M195.0 264.6h0M202.5 265.9h0M210.0 267.3h0M217.5 268.6h0M225.0 269.9h0M232.5 271.2h0M240.0 272.5h0M247.4 273.9h0M254.9 275.2h0M262.4 276.5h0M269.9 277.8h0M277.4 279.1h0M284.9 280.5h0M292.3 281.8h0M299.8 283.1h0M307.3 284.4h0M314.8 285.7h0M322.3 287.1h0M329.8 288.4h0M337.3 289.7h0M344.7 291.0h0M120.1 252.0h0M127.4 253.9h0M134.8 255.9h0M142.1 257.9h0M149.4 259.9h0M156.8 261.8h0M164.1 263.8h0M171.5 265.8h0M178.8 267.7h0M186.1 269.7h0M193.5 271.7h0M200.8 273.6h0M208.2 275.6h0M215.5 277.6h0M222.9 279.5h0M230.2 281.5h0M237.5 283.5h0M244.9 285.4h0M252.2 287.4h0M259.6 289.4h0M266.9 291.3h0M274.2 293.3h0M281.6 295.3h0M288.9 297.2h0M296.3 299.2h0M303.6 301.2h0M310.9 303.1h0M119.9 252.5h0M127.0 255.1h0M134.2 257.7h0M141.3 260.3h0M148.5 262.9h0M155.6 265.5h0M162.8 268.1h0M169.9 270.7h0M177.0 273.3h0M184.2 275.9h0M191.3 278.5h0M198.5 281.1h0M205.6 283.7h0M212.7 286.3h0M219.9 288.9h0M227.0 291.5h0M234.2 294.1h0M241.3 296.7h0M248.5 299.3h0M255.6 301.9h0M262.7 304.5h0M269.9 307.1h0M277.0 309.7h0M284.2 312.3h0M291.3 314.9h0M298.4 317.5h0M305.6 320.1h0M119.7 253.0h0M126.6 256.3h0M133.5 259.5h0M140.4 262.7h0M147.2 265.9h0M154.1 269.1h0M161.0 272.3h0M167.9 275.5h0M174.8 278.7h0M181.7 282.0h0M188.6 285.2h0M195.5 288.4h0M202.3 291.6h0M209.2 294.8h0M216.1 298.0h0M223.0 301.2h0M229.9 304.4h0M236.8 307.6h0M243.7 310.9h0M250.6 314.1h0M257.4 317.3h0M264.3 320.5h0M271.2 323.7h0M278.1 326.9h0M285.0 330.1h0M291.9 333.3h0M298.8 336.6h0M119.4 253.6h0M126.0 257.4h0M132.6 261.1h0M139.2 264.9h0M145.8 268.8h0M152.3 272.6h0M158.9 276.4h0M165.5 280.1h0M172.1 283.9h0M178.7 287.8h0M185.2 291.6h0M191.8 295.3h0M198.4 299.1h0M205.0 302.9h0M211.6 306.8h0M218.2 310.5h0M224.7 314.3h0M231.3 318.1h0M237.9 321.9h0M244.5 325.8h0M251.1 329.5h0M257.6 333.3h0M264.2 337.1h0M270.8 340.9h0M277.4 344.7h0M284.0 348.5h0M119.1 254.0h0M125.4 258.4h0M131.6 262.7h0M137.8 267.1h0M144.0 271.5h0M150.3 275.8h0M156.5 280.2h0M162.7 284.5h0M168.9 288.9h0M175.2 293.3h0M181.4 297.6h0M187.6 302.0h0M193.8 306.3h0M200.1 310.7h0M206.3 315.1h0M212.5 319.4h0M218.7 323.8h0M225.0 328.1h0M231.2 332.5h0M237.4 336.9h0M243.6 341.2h0M249.9 345.6h0M256.1 349.9h0M262.3 354.3h0M268.5 358.6h0M274.8 363.0h0M118.8 254.5h0M124.6 259.4h0M130.4 264.2h0M136.2 269.1h0M142.1 274.0h0M147.9 278.9h0M153.7 283.8h0M159.5 288.7h0M165.4 293.6h0M171.2 298.4h0M177.0 303.3h0M182.8 308.2h0M188.6 313.1h0M194.5 318.0h0M200.3 322.9h0M206.1 327.8h0M211.9 332.6h0M217.8 337.5h0M223.6 342.4h0M229.4 347.3h0M235.2 352.2h0M241.0 357.1h0M246.9 362.0h0M252.7 366.8h0M258.5 371.7h0M118.4 254.9h0M123.8 260.3h0M129.1 265.6h0M134.5 271.0h0M139.9 276.4h0M145.3 281.8h0M150.6 287.1h0M156.0 292.5h0M161.4 297.9h0M166.8 303.3h0M172.1 308.6h0M177.5 314.0h0M182.9 319.4h0M188.3 324.8h0M193.6 330.1h0M199.0 335.5h0M204.4 340.9h0M209.8 346.3h0M215.1 351.6h0M220.5 357.0h0M225.9 362.4h0M231.3 367.8h0M236.6 373.1h0M242.0 378.5h0M247.4 383.9h0M118.0 255.3h0M122.9 261.1h0M127.7 266.9h0M132.6 272.7h0M137.5 278.6h0M142.4 284.4h0M147.3 290.2h0M152.2 296.0h0M157.1 301.9h0M161.9 307.7h0M166.8 313.5h0M171.7 319.3h0M176.6 325.1h0M181.5 331.0h0M186.4 336.8h0M191.3 342.6h0M196.1 348.4h0M201.0 354.3h0M205.9 360.1h0M210.8 365.9h0M215.7 371.7h0M220.6 377.5h0M225.5 383.4h0M230.3 389.2h0M117.5 255.6h0M121.9 261.9h0M126.2 268.1h0M130.6 274.3h0M135.0 280.5h0M139.3 286.8h0M143.7 293.0h0M148.0 299.2h0M152.4 305.4h0M156.8 311.7h0M161.1 317.9h0M165.5 324.1h0M169.8 330.3h0M174.2 336.6h0M178.6 342.8h0M182.9 349.0h0M187.3 355.2h0M191.6 361.5h0M196.0 367.7h0M200.4 373.9h0M204.7 380.1h0M209.1 386.4h0M213.4 392.6h0M117.0 255.9h0M120.8 262.5h0M124.6 269.1h0M128.4 275.7h0M132.2 282.3h0M136.0 288.8h0M139.8 295.4h0M143.6 302.0h0M147.4 308.6h0M151.2 315.2h0M155.0 321.7h0M158.8 328.3h0M162.6 334.9h0M166.4 341.5h0M170.2 348.1h0M174.0 354.7h0M177.8 361.2h0M181.6 367.8h0M185.4 374.4h0M189.2 381.0h0M193.0 387.6h0M196.8 394.1h0M200.6 400.7h0M116.5 256.2h0M119.8 263.1h0M123.0 270.0h0M126.2 276.9h0M129.4 283.7h0M132.6 290.6h0M135.8 297.5h0M139.0 304.4h0M142.2 311.3h0M145.5 318.2h0M148.7 325.1h0M151.9 332.0h0M155.1 338.8h0M158.3 345.7h0M161.5 352.6h0M164.7 359.5h0M167.9 366.4h0M171.1 373.3h0M174.4 380.2h0M177.6 387.1h0M180.8 393.9h0M184.0 400.8h0M116.0 256.4h0M118.6 263.5h0M121.2 270.7h0M123.8 277.8h0M126.4 285.0h0M129.0 292.1h0M131.6 299.3h0M134.2 306.4h0M136.8 313.5h0M139.4 320.7h0M142.0 327.8h0M144.6 335.0h0M147.2 342.1h0M149.8 349.2h0M152.4 356.4h0M155.0 363.5h0M157.6 370.7h0M160.2 377.8h0M162.8 385.0h0M165.4 392.1h0M168.0 399.2h0M170.6 406.4h0M115.5 256.6h0M117.4 263.9h0M119.4 271.3h0M121.4 278.6h0M123.4 285.9h0M125.3 293.3h0M127.3 300.6h0M129.3 308.0h0M131.2 315.3h0M133.2 322.6h0M135.2 330.0h0M137.1 337.3h0M139.1 344.7h0M141.1 352.0h0M143.0 359.4h0M145.0 366.7h0M147.0 374.0h0M148.9 381.4h0M150.9 388.7h0M152.9 396.1h0M154.8 403.4h0M114.9 256.7h0M116.2 264.2h0M117.6 271.7h0M118.9 279.2h0M120.2 286.6h0M121.5 294.1h0M122.8 301.6h0M124.2 309.1h0M125.5 316.6h0M126.8 324.1h0M128.1 331.5h0M129.4 339.0h0M130.8 346.5h0M132.1 354.0h0M133.4 361.5h0M134.7 369.0h0M136.0 376.5h0M137.4 383.9h0M138.7 391.4h0M140.0 398.9h0M114.4 256.8h0M115.0 264.3h0M115.7 271.9h0M116.4 279.5h0M117.0 287.1h0M117.7 294.6h0M118.3 302.2h0M119.0 309.8h0M119.7 317.3h0M120.3 324.9h0M121.0 332.5h0M121.7 340.1h0M122.3 347.6h0M123.0 355.2h0M123.6 362.8h0M124.3 370.3h0M125.0 377.9h0M125.6 385.5h0M126.3 393.1h0M127.0 400.6h0M113.8 256.8h0M113.8 264.4h0M113.8 272.0h0M113.8 279.6h0M113.8 287.2h0M113.8 294.8h0M113.8 302.4h0M113.8 310.0h0M113.8 317.6h0M113.8 325.2h0M113.8 332.8h0M113.8 340.4h0M113.8 348.0h0M113.8 355.6h0M113.8 363.2h0M113.8 370.8h0M113.8 378.4h0M113.8 386.0h0M113.8 393.6h0M113.2 256.8h0M112.6 264.3h0M111.9 271.9h0M111.2 279.5h0M110.6 287.1h0M109.9 294.6h0M109.3 302.2h0M108.6 309.8h0M107.9 317.3h0M107.3 324.9h0M106.6 332.5h0M105.9 340.1h0M105.3 347.6h0M104.6 355.2h0M104.0 362.8h0M103.3 370.3h0M102.6 377.9h0M102.0 385.5h0M101.3 393.1h0M112.7 256.7h0M111.4 264.2h0M110.0 271.7h0M108.7 279.2h0M107.4 286.6h0M106.1 294.1h0M104.8 301.6h0M103.4 309.1h0M102.1 316.6h0M100.8 324.1h0M99.5 331.5h0M98.2 339.0h0M96.8 346.5h0M95.5 354.0h0M94.2 361.5h0M92.9 369.0h0M91.6 376.5h0M90.2 383.9h0M112.1 256.6h0M110.2 263.9h0M108.2 271.3h0M106.2 278.6h0M104.2 285.9h0M102.3 293.3h0M100.3 300.6h0M98.3 308.0h0M96.4 315.3h0M94.4 322.6h0M92.4 330.0h0M90.5 337.3h0M88.5 344.7h0M86.5 352.0h0M84.6 359.4h0M82.6 366.7h0M80.6 374.0h0M78.7 381.4h0M111.6 256.4h0M109.0 263.5h0M106.4 270.7h0M103.8 277.8h0M101.2 285.0h0M98.6 292.1h0M96.0 299.3h0M93.4 306.4h0M90.8 313.5h0M88.2 320.7h0M85.6 327.8h0M83.0 335.0h0M80.4 342.1h0M77.8 349.2h0M75.2 356.4h0M72.6 363.5h0M70.0 370.7h0M67.4 377.8h0" stroke="#00ff00" stroke-width="2.8" stroke-linecap="round" fill="none"/>
<path d="M71.1 273.4h0M78.5 274.7h0M86.0 276.0h0M93.5 277.3h0M70.9 274.1h0M78.2 276.1h0M85.6 278.1h0M92.9 280.0h0M70.7 274.9h0M77.8 277.5h0M84.9 280.1h0M92.1 282.7h0M70.4 275.6h0M77.2 278.8h0M84.1 282.0h0M91.0 285.2h0M70.0 276.3h0M76.6 280.1h0M83.2 283.9h0M89.7 287.7h0M69.6 277.0h0M75.8 281.3h0M82.0 285.7h0M88.2 290.0h0M69.1 277.6h0M74.9 282.5h0M80.7 287.4h0M86.6 292.2h0M68.6 278.2h0M73.9 283.5h0M79.3 288.9h0M84.7 294.3h0M68.0 278.7h0M72.9 284.5h0M77.8 290.3h0M82.6 296.2h0M67.4 279.2h0M71.7 285.4h0M76.1 291.6h0M80.4 297.8h0M66.7 279.6h0M70.5 286.2h0M74.3 292.8h0M78.1 299.3h0M66.0 280.0h0M69.2 286.8h0M72.4 293.7h0M75.6 300.6h0M65.3 280.3h0M67.9 287.4h0M70.5 294.5h0M73.1 301.7h0M64.5 280.5h0M66.5 287.8h0M68.5 295.2h0M70.4 302.5h0M63.8 280.7h0M65.1 288.1h0M66.4 295.6h0M67.7 303.1h0M63.0 280.8h0M63.6 288.3h0M64.3 295.9h0M65.0 303.5h0M62.2 280.8h0M62.2 288.4h0M62.2 296.0h0M62.2 303.6h0M61.4 280.8h0M60.8 288.3h0M60.1 295.9h0M59.4 303.5h0M60.6 280.7h0M59.3 288.1h0M58.0 295.6h0M56.7 303.1h0M59.9 280.5h0M57.9 287.8h0M55.9 295.2h0M54.0 302.5h0M59.1 280.3h0M56.5 287.4h0M53.9 294.5h0M51.3 301.7h0M58.4 280.0h0M55.2 286.8h0M52.0 293.7h0M48.8 300.6h0M57.7 279.6h0M53.9 286.2h0M50.1 292.8h0M46.3 299.3h0M57.0 279.2h0M52.7 285.4h0M48.3 291.6h0M44.0 297.8h0M56.4 278.7h0M46.6 290.3h0M41.8 296.2h0M55.8 278.2h0M45.1 288.9h0M39.7 294.3h0M55.3 277.6h0M54.8 277.0h0M54.4 276.3h0M54.0 275.6h0M53.7 274.9h0" stroke="#ff0000" stroke-width="2.8" stroke-linecap="round" fill="none"/>
<path d="M29.5 309.5h0M32.0 316.2h0M32.2 323.3h0M30.2 330.1h0M26.1 335.9h0M20.3 340.1h0M13.5 342.3h0M6.4 342.1h0M39.4 319.2h0M38.9 326.0h0M36.8 332.6h0M33.1 338.5h0M28.3 343.4h0M22.3 346.9h0M15.8 349.0h0M8.9 349.5h0M2.1 348.3h0M46.3 323.1h0M45.1 330.2h0M42.5 336.8h0M38.6 342.8h0M33.7 348.0h0M27.8 352.0h0M21.2 354.8h0M14.2 356.3h0M7.1 356.3h0M0.1 355.0h0M53.1 325.9h0M51.6 332.8h0M49.1 339.3h0M45.5 345.3h0M41.0 350.7h0M35.8 355.2h0M29.8 358.9h0M23.3 361.5h0M16.5 363.1h0M9.5 363.5h0M2.6 362.8h0M60.4 321.8h0M59.7 328.7h0M58.1 335.4h0M55.6 341.8h0M52.3 347.8h0M48.2 353.3h0M43.3 358.1h0M37.8 362.3h0M31.8 365.7h0M25.4 368.2h0M18.8 369.8h0M11.9 370.5h0M5.0 370.2h0M67.2 325.8h0M66.1 332.8h0M64.1 339.5h0M61.4 346.0h0M57.9 352.1h0M53.6 357.7h0M48.7 362.7h0M43.2 367.1h0M37.3 370.8h0M30.9 373.7h0M24.2 375.8h0M17.2 377.1h0M10.2 377.5h0M3.2 377.0h0M74.4 321.7h0M73.9 328.6h0M72.6 335.4h0M70.7 342.1h0M68.0 348.5h0M64.6 354.5h0M60.6 360.2h0M56.0 365.4h0M50.9 370.1h0M45.3 374.2h0M39.3 377.6h0M32.9 380.4h0M26.3 382.5h0M19.5 383.8h0M12.6 384.5h0M5.7 384.3h0M81.3 317.7h0M81.3 324.5h0M80.6 331.3h0M79.2 338.1h0M77.2 344.6h0M74.5 351.0h0M71.3 357.0h0M67.5 362.7h0M63.1 368.0h0M58.3 372.9h0M53.0 377.3h0M47.3 381.1h0M41.3 384.4h0M35.0 387.1h0M28.5 389.2h0M21.7 390.6h0M14.9 391.4h0M8.1 391.5h0M1.2 390.9h0M88.1 313.7h0M88.4 320.5h0M88.1 327.3h0M87.2 334.0h0M85.7 340.7h0M83.7 347.2h0M81.1 353.5h0M77.9 359.5h0M74.3 365.2h0M70.2 370.6h0M65.6 375.7h0M60.5 380.3h0M55.1 384.4h0M49.4 388.0h0M43.4 391.2h0M37.1 393.8h0M30.6 395.8h0M23.9 397.3h0M17.2 398.2h0M10.4 398.5h0M3.6 398.2h0M94.8 310.6h0M95.3 317.5h0M95.3 324.4h0M94.7 331.3h0M93.6 338.1h0M91.9 344.8h0M89.6 351.3h0M86.9 357.6h0M83.6 363.7h0M79.8 369.5h0M75.6 375.0h0M71.0 380.1h0M65.9 384.8h0M60.5 389.1h0M54.8 393.0h0M48.7 396.4h0M42.5 399.2h0M36.0 401.6h0M29.3 403.4h0M22.5 404.6h0M15.6 405.3h0M8.7 405.5h0M1.8 405.1h0M101.4 306.7h0M102.1 313.5h0M102.4 320.3h0M102.2 327.2h0M101.4 334.0h0M100.1 340.7h0M98.4 347.4h0M96.1 353.8h0M93.4 360.1h0M90.2 366.2h0M86.6 372.0h0M82.6 377.6h0M78.1 382.8h0M73.3 387.6h0M68.1 392.1h0M62.6 396.2h0M56.8 399.9h0M50.8 403.2h0M44.5 405.9h0M38.1 408.2h0M31.5 410.1h0M24.7 411.4h0M17.9 412.2h0M11.1 412.5h0M4.2 412.3h0M106.4 296.2h0M107.8 302.8h0M108.8 309.6h0M109.3 316.3h0M109.4 323.2h0M108.9 330.0h0M108.1 336.7h0M106.7 343.4h0M104.9 350.0h0M102.7 356.4h0M100.0 362.6h0M96.9 368.7h0M93.4 374.5h0M89.4 380.1h0M85.2 385.4h0M80.5 390.4h0M75.6 395.0h0M70.3 399.3h0M64.7 403.3h0M58.9 406.8h0M52.8 409.9h0M46.6 412.6h0M40.2 414.9h0M33.6 416.7h0M26.9 418.1h0M20.2 419.0h0M13.4 419.5h0M6.6 419.4h0M112.7 292.9h0M114.3 299.6h0M115.5 306.4h0M116.2 313.3h0M116.4 320.2h0M116.2 327.1h0M115.5 333.9h0M114.5 340.7h0M112.9 347.4h0M110.9 354.1h0M108.6 360.5h0M105.7 366.8h0M102.5 372.9h0M98.9 378.8h0M95.0 384.4h0M90.6 389.8h0M85.9 394.9h0M81.0 399.6h0M75.7 404.0h0M70.1 408.1h0M64.3 411.8h0M58.2 415.1h0M52.0 418.0h0M45.5 420.5h0M39.0 422.6h0M32.3 424.2h0M25.5 425.4h0M18.6 426.2h0M11.7 426.5h0M4.9 426.4h0" stroke="#000000" stroke-width="2.8" stroke-linecap="round" fill="none"/><path d="M214.7 -1.0L211.2 13.4L206.1 44.5L200.9 56.6L195.7 96.3L192.3 130.7L190.5 148.0L188.8 172.2L194.0 192.9L188.8 217.1L168.1 248.1L140.5 275.7L112.9 296.5L99.1 320.6L92.2 337.9L78.3 358.6L57.6 382.7L36.9 403.5L19.7 427.7L15.0 434.0" stroke="#000" stroke-width="1" fill="none"/><text x="0" y="0" font-size="17" fill="#000" transform="translate(71,369) rotate(-58)">-100</text><text x="0" y="0" font-size="17" fill="#000" transform="translate(196,170) rotate(-90)">-100</text>
<use href="#landg"/>
<g clip-path="url(#landclip)"><line x1="58.0" y1="0.0" x2="58.0" y2="427.5" class="g"/>
<line x1="115.9" y1="0.0" x2="115.9" y2="427.5" class="g"/>
<line x1="173.9" y1="0.0" x2="173.9" y2="427.5" class="g"/>
<line x1="231.9" y1="0.0" x2="231.9" y2="427.5" class="g"/>
<line x1="289.8" y1="0.0" x2="289.8" y2="427.5" class="g"/>
<line x1="0.0" y1="72.4" x2="347.8" y2="72.4" class="g"/>
<line x1="0.0" y1="144.3" x2="347.8" y2="144.3" class="g"/>
<line x1="0.0" y1="215.7" x2="347.8" y2="215.7" class="g"/>
<line x1="0.0" y1="286.8" x2="347.8" y2="286.8" class="g"/>
<line x1="0.0" y1="357.3" x2="347.8" y2="357.3" class="g"/></g>
</g>
<path d="M58.5 47.5L74.1 47.5M60.8 42.0L71.8 53.0M66.3 39.7L66.3 55.3M71.8 42.0L60.8 53.0" stroke="#ff1a1a" stroke-width="1.3"/>
<path d="M96.6 156.3L112.2 156.3M98.9 150.8L109.9 161.8M104.4 148.5L104.4 164.1M109.9 150.8L98.9 161.8" stroke="#ff1a1a" stroke-width="1.3"/>
<path d="M106.0 250.3L121.6 250.3M108.3 244.8L119.3 255.8M113.8 242.5L113.8 258.1M119.3 244.8L108.3 255.8" stroke="#ff1a1a" stroke-width="1.3"/>
<path d="M54.4 271.8L70.0 271.8M56.7 266.3L67.7 277.3M62.2 264.0L62.2 279.6M67.7 266.3L56.7 277.3" stroke="#ff1a1a" stroke-width="1.3"/>
<path d="M2.6 320.5L18.2 320.5M4.9 315.0L15.9 326.0M10.4 312.7L10.4 328.3M15.9 315.0L4.9 326.0" stroke="#ff1a1a" stroke-width="1.3"/>
</g>
<line x1="132.5" y1="1169.8" x2="132.5" y2="1165.8" class="t"/>
<line x1="132.5" y1="742.3" x2="132.5" y2="746.3" class="t"/>
<line x1="190.4" y1="1169.8" x2="190.4" y2="1165.8" class="t"/>
<line x1="190.4" y1="742.3" x2="190.4" y2="746.3" class="t"/>
<line x1="248.4" y1="1169.8" x2="248.4" y2="1165.8" class="t"/>
<line x1="248.4" y1="742.3" x2="248.4" y2="746.3" class="t"/>
<line x1="306.4" y1="1169.8" x2="306.4" y2="1165.8" class="t"/>
<line x1="306.4" y1="742.3" x2="306.4" y2="746.3" class="t"/>
<line x1="364.3" y1="1169.8" x2="364.3" y2="1165.8" class="t"/>
<line x1="364.3" y1="742.3" x2="364.3" y2="746.3" class="t"/>
<line x1="74.5" y1="814.7" x2="78.5" y2="814.7" class="t"/>
<line x1="422.3" y1="814.7" x2="418.3" y2="814.7" class="t"/>
<line x1="74.5" y1="886.6" x2="78.5" y2="886.6" class="t"/>
<line x1="422.3" y1="886.6" x2="418.3" y2="886.6" class="t"/>
<line x1="74.5" y1="958.0" x2="78.5" y2="958.0" class="t"/>
<line x1="422.3" y1="958.0" x2="418.3" y2="958.0" class="t"/>
<line x1="74.5" y1="1029.1" x2="78.5" y2="1029.1" class="t"/>
<line x1="422.3" y1="1029.1" x2="418.3" y2="1029.1" class="t"/>
<line x1="74.5" y1="1099.6" x2="78.5" y2="1099.6" class="t"/>
<line x1="422.3" y1="1099.6" x2="418.3" y2="1099.6" class="t"/>
<rect x="74.5" y="742.3" width="347.8" height="427.5" class="fr"/>
<text x="68.7" y="749.9" class="L" text-anchor="end">37°N</text>
<text x="68.7" y="821.6" class="S" text-anchor="end">30'</text>
<text x="68.7" y="894.2" class="L" text-anchor="end">36°N</text>
<text x="68.7" y="964.9" class="S" text-anchor="end">30'</text>
<text x="68.7" y="1036.7" class="L" text-anchor="end">35°N</text>
<text x="68.7" y="1106.5" class="S" text-anchor="end">30'</text>
<text x="68.7" y="1177.4" class="L" text-anchor="end">34°N</text>
<text x="74.5" y="1187.3" class="S" text-anchor="middle">30'</text>
<text x="135.7" y="1190.8" class="L" text-anchor="middle">76°W</text>
<text x="190.4" y="1187.3" class="S" text-anchor="middle">30'</text>
<text x="251.6" y="1190.8" class="L" text-anchor="middle">75°W</text>
<text x="306.4" y="1187.3" class="S" text-anchor="middle">30'</text>
<text x="367.5" y="1190.8" class="L" text-anchor="middle">74°W</text>
<text x="422.3" y="1187.3" class="S" text-anchor="middle">30'</text>
<g transform="translate(458.5,742.3)">
<g clip-path="url(#clipP)">
<line x1="58.0" y1="0.0" x2="58.0" y2="427.5" class="g"/>
<line x1="115.9" y1="0.0" x2="115.9" y2="427.5" class="g"/>
<line x1="173.9" y1="0.0" x2="173.9" y2="427.5" class="g"/>
<line x1="231.9" y1="0.0" x2="231.9" y2="427.5" class="g"/>
<line x1="289.8" y1="0.0" x2="289.8" y2="427.5" class="g"/>
<line x1="0.0" y1="72.4" x2="347.8" y2="72.4" class="g"/>
<line x1="0.0" y1="144.3" x2="347.8" y2="144.3" class="g"/>
<line x1="0.0" y1="215.7" x2="347.8" y2="215.7" class="g"/>
<line x1="0.0" y1="286.8" x2="347.8" y2="286.8" class="g"/>
<line x1="0.0" y1="357.3" x2="347.8" y2="357.3" class="g"/>
<path fill="#0000e6" d="M67.4 -1.3h8.2v8.4h-8.2zM82.7 -1.3h8.2v8.4h-8.2zM98.0 -1.3h8.2v8.4h-8.2zM151.7 -1.3h8.2v8.4h-8.2zM167.0 -1.3h8.2v8.4h-8.2zM274.2 -1.3h15.8v8.4h-15.8zM297.2 -1.3h8.2v8.4h-8.2zM67.4 6.6h15.8v8.4h-15.8zM121.0 6.6h8.2v8.4h-8.2zM136.3 6.6h15.8v8.4h-15.8zM182.3 6.6h8.2v8.4h-8.2zM243.6 6.6h8.2v8.4h-8.2zM274.2 6.6h8.2v8.4h-8.2zM304.9 6.6h8.2v8.4h-8.2zM82.7 14.4h15.8v8.4h-15.8zM128.7 14.4h8.2v8.4h-8.2zM144.0 14.4h15.8v8.4h-15.8zM174.6 14.4h8.2v8.4h-8.2zM197.6 14.4h15.8v8.4h-15.8zM243.6 14.4h8.2v8.4h-8.2zM258.9 14.4h8.2v8.4h-8.2zM274.2 14.4h8.2v8.4h-8.2zM297.2 14.4h15.8v8.4h-15.8zM75.1 22.3h8.2v8.4h-8.2zM90.4 22.3h15.8v8.4h-15.8zM113.4 22.3h61.8v8.4h-61.8zM205.3 22.3h8.2v8.4h-8.2zM220.6 22.3h8.2v8.4h-8.2zM251.2 22.3h8.2v8.4h-8.2zM266.6 22.3h8.2v8.4h-8.2zM289.5 22.3h23.5v8.4h-23.5zM113.4 30.1h15.8v8.4h-15.8zM197.6 30.1h31.1v8.4h-31.1zM235.9 30.1h8.2v8.4h-8.2zM297.2 30.1h8.2v8.4h-8.2zM243.6 37.9h8.2v8.4h-8.2zM258.9 37.9h8.2v8.4h-8.2zM274.2 37.9h8.2v8.4h-8.2zM105.7 45.7h8.2v8.4h-8.2zM121.0 45.7h8.2v8.4h-8.2zM136.3 45.7h8.2v8.4h-8.2zM159.3 45.7h8.2v8.4h-8.2zM182.3 45.7h8.2v8.4h-8.2zM197.6 45.7h15.8v8.4h-15.8zM228.3 45.7h23.5v8.4h-23.5zM266.6 45.7h8.2v8.4h-8.2zM182.3 53.5h23.5v8.4h-23.5zM235.9 53.5h8.2v8.4h-8.2zM251.2 53.5h8.2v8.4h-8.2zM281.9 53.5h15.8v8.4h-15.8zM113.4 61.4h15.8v8.4h-15.8zM151.7 61.4h8.2v8.4h-8.2zM167.0 61.4h8.2v8.4h-8.2zM190.0 61.4h15.8v8.4h-15.8zM220.6 61.4h15.8v8.4h-15.8zM258.9 61.4h8.2v8.4h-8.2zM274.2 61.4h8.2v8.4h-8.2zM82.7 69.2h15.8v8.4h-15.8zM105.7 69.2h15.8v8.4h-15.8zM128.7 69.2h8.2v8.4h-8.2zM144.0 69.2h15.8v8.4h-15.8zM182.3 69.2h8.2v8.4h-8.2zM205.3 69.2h8.2v8.4h-8.2zM128.7 77.0h15.8v8.4h-15.8zM151.7 77.0h23.5v8.4h-23.5zM190.0 77.0h8.2v8.4h-8.2zM212.9 77.0h8.2v8.4h-8.2zM266.6 77.0h23.5v8.4h-23.5zM128.7 84.7h15.8v8.4h-15.8zM174.6 84.7h8.2v8.4h-8.2zM190.0 84.7h23.5v8.4h-23.5zM281.9 84.7h8.2v8.4h-8.2zM113.4 92.5h8.2v8.4h-8.2zM190.0 92.5h8.2v8.4h-8.2zM205.3 92.5h15.8v8.4h-15.8zM243.6 92.5h8.2v8.4h-8.2zM266.6 92.5h23.5v8.4h-23.5zM136.3 100.3h8.2v8.4h-8.2zM151.7 100.3h8.2v8.4h-8.2zM220.6 100.3h8.2v8.4h-8.2zM251.2 100.3h8.2v8.4h-8.2zM274.2 100.3h8.2v8.4h-8.2zM151.7 108.1h8.2v8.4h-8.2zM174.6 108.1h15.8v8.4h-15.8zM205.3 108.1h8.2v8.4h-8.2zM251.2 108.1h8.2v8.4h-8.2zM266.6 108.1h8.2v8.4h-8.2zM98.0 115.9h8.2v8.4h-8.2zM113.4 115.9h15.8v8.4h-15.8zM151.7 115.9h8.2v8.4h-8.2zM174.6 115.9h8.2v8.4h-8.2zM190.0 115.9h15.8v8.4h-15.8zM228.3 115.9h8.2v8.4h-8.2zM258.9 115.9h8.2v8.4h-8.2zM105.7 123.6h8.2v8.4h-8.2zM174.6 123.6h8.2v8.4h-8.2zM190.0 123.6h23.5v8.4h-23.5zM235.9 123.6h15.8v8.4h-15.8zM258.9 123.6h8.2v8.4h-8.2zM121.0 131.4h15.8v8.4h-15.8zM144.0 131.4h8.2v8.4h-8.2zM167.0 131.4h8.2v8.4h-8.2zM281.9 131.4h8.2v8.4h-8.2zM128.7 139.1h8.2v8.3h-8.2zM197.6 139.1h8.2v8.3h-8.2zM212.9 139.1h8.2v8.3h-8.2zM235.9 139.1h8.2v8.3h-8.2zM274.2 139.1h15.8v8.3h-15.8zM327.8 139.1h15.8v8.3h-15.8zM190.0 146.9h15.8v8.3h-15.8zM228.3 146.9h8.2v8.3h-8.2zM121.0 154.6h8.2v8.3h-8.2zM151.7 154.6h8.2v8.3h-8.2zM167.0 154.6h8.2v8.3h-8.2zM205.3 154.6h8.2v8.3h-8.2zM274.2 154.6h23.5v8.3h-23.5zM304.9 154.6h15.8v8.3h-15.8zM335.5 154.6h8.2v8.3h-8.2zM128.7 162.4h15.8v8.3h-15.8zM190.0 162.4h8.2v8.3h-8.2zM212.9 162.4h15.8v8.3h-15.8zM274.2 162.4h8.2v8.3h-8.2zM297.2 162.4h8.2v8.3h-8.2zM327.8 162.4h8.2v8.3h-8.2zM128.7 170.1h8.2v8.3h-8.2zM182.3 170.1h8.2v8.3h-8.2zM205.3 170.1h15.8v8.3h-15.8zM228.3 170.1h8.2v8.3h-8.2zM274.2 170.1h15.8v8.3h-15.8zM136.3 177.8h8.2v8.3h-8.2zM174.6 177.8h15.8v8.3h-15.8zM228.3 177.8h8.2v8.3h-8.2zM243.6 177.8h8.2v8.3h-8.2zM304.9 177.8h8.2v8.3h-8.2zM327.8 177.8h8.2v8.3h-8.2zM343.2 177.8h8.2v8.3h-8.2zM212.9 185.5h8.2v8.3h-8.2zM243.6 185.5h31.1v8.3h-31.1zM297.2 185.5h15.8v8.3h-15.8zM320.2 185.5h15.8v8.3h-15.8zM136.3 193.3h8.2v8.3h-8.2zM151.7 193.3h8.2v8.3h-8.2zM182.3 193.3h8.2v8.3h-8.2zM243.6 193.3h15.8v8.3h-15.8zM297.2 193.3h8.2v8.3h-8.2zM136.3 201.0h15.8v8.3h-15.8zM182.3 201.0h8.2v8.3h-8.2zM343.2 201.0h8.2v8.3h-8.2zM136.3 208.7h15.8v8.3h-15.8zM159.3 208.7h8.2v8.3h-8.2zM243.6 208.7h8.2v8.3h-8.2zM266.6 208.7h8.2v8.3h-8.2zM320.2 208.7h15.8v8.3h-15.8zM343.2 208.7h8.2v8.3h-8.2zM136.3 216.4h8.2v8.3h-8.2zM281.9 216.4h8.2v8.3h-8.2zM297.2 216.4h8.2v8.3h-8.2zM320.2 216.4h8.2v8.3h-8.2zM136.3 224.1h8.2v8.3h-8.2zM343.2 224.1h8.2v8.3h-8.2zM274.2 231.8h8.2v8.3h-8.2zM320.2 231.8h23.5v8.3h-23.5zM327.8 239.5h23.5v8.3h-23.5zM251.2 247.1h8.2v8.3h-8.2zM320.2 247.1h15.8v8.3h-15.8zM343.2 247.1h8.2v8.3h-8.2zM243.6 254.8h8.2v8.3h-8.2zM258.9 254.8h8.2v8.3h-8.2zM320.2 254.8h23.5v8.3h-23.5zM90.4 262.5h8.2v8.3h-8.2zM235.9 262.5h15.8v8.3h-15.8zM312.5 262.5h38.8v8.3h-38.8zM312.5 270.1h38.8v8.3h-38.8zM82.7 277.8h23.5v8.3h-23.5zM297.2 277.8h54.1v8.3h-54.1zM67.4 285.5h8.2v8.2h-8.2zM182.3 285.5h8.2v8.2h-8.2zM297.2 285.5h8.2v8.2h-8.2zM320.2 285.5h8.2v8.2h-8.2zM343.2 285.5h8.2v8.2h-8.2zM67.4 293.1h31.1v8.2h-31.1zM205.3 293.1h8.2v8.2h-8.2zM243.6 293.1h15.8v8.2h-15.8zM297.2 293.1h8.2v8.2h-8.2zM327.8 293.1h8.2v8.2h-8.2zM36.8 300.8h15.8v8.2h-15.8zM59.7 300.8h15.8v8.2h-15.8zM82.7 300.8h8.2v8.2h-8.2zM205.3 300.8h8.2v8.2h-8.2zM281.9 300.8h8.2v8.2h-8.2zM36.8 308.4h15.8v8.2h-15.8zM59.7 308.4h15.8v8.2h-15.8zM258.9 308.4h8.2v8.2h-8.2zM297.2 308.4h8.2v8.2h-8.2zM44.4 316.0h31.1v8.2h-31.1zM105.7 316.0h8.2v8.2h-8.2zM297.2 316.0h8.2v8.2h-8.2zM52.1 323.7h15.8v8.2h-15.8zM75.1 323.7h8.2v8.2h-8.2zM105.7 323.7h15.8v8.2h-15.8zM251.2 323.7h8.2v8.2h-8.2zM281.9 323.7h15.8v8.2h-15.8zM228.3 331.3h8.2v8.2h-8.2zM281.9 331.3h15.8v8.2h-15.8zM197.6 338.9h8.2v8.2h-8.2zM212.9 338.9h8.2v8.2h-8.2zM235.9 338.9h8.2v8.2h-8.2zM289.5 338.9h8.2v8.2h-8.2zM220.6 346.5h23.5v8.2h-23.5zM220.6 354.1h15.8v8.2h-15.8z"/>
<path fill="#001aff" d="M75.1 -1.3h8.2v8.4h-8.2zM90.4 -1.3h8.2v8.4h-8.2zM113.4 -1.3h15.8v8.4h-15.8zM136.3 -1.3h15.8v8.4h-15.8zM190.0 -1.3h15.8v8.4h-15.8zM251.2 -1.3h15.8v8.4h-15.8zM289.5 -1.3h8.2v8.4h-8.2zM113.4 6.6h8.2v8.4h-8.2zM128.7 6.6h8.2v8.4h-8.2zM151.7 6.6h31.1v8.4h-31.1zM212.9 6.6h15.8v8.4h-15.8zM289.5 6.6h15.8v8.4h-15.8zM75.1 14.4h8.2v8.4h-8.2zM105.7 14.4h8.2v8.4h-8.2zM121.0 14.4h8.2v8.4h-8.2zM136.3 14.4h8.2v8.4h-8.2zM159.3 14.4h15.8v8.4h-15.8zM182.3 14.4h15.8v8.4h-15.8zM212.9 14.4h8.2v8.4h-8.2zM235.9 14.4h8.2v8.4h-8.2zM251.2 14.4h8.2v8.4h-8.2zM289.5 14.4h8.2v8.4h-8.2zM82.7 22.3h8.2v8.4h-8.2zM174.6 22.3h8.2v8.4h-8.2zM197.6 22.3h8.2v8.4h-8.2zM228.3 22.3h23.5v8.4h-23.5zM274.2 22.3h15.8v8.4h-15.8zM75.1 30.1h23.5v8.4h-23.5zM105.7 30.1h8.2v8.4h-8.2zM136.3 30.1h23.5v8.4h-23.5zM167.0 30.1h8.2v8.4h-8.2zM182.3 30.1h15.8v8.4h-15.8zM243.6 30.1h8.2v8.4h-8.2zM258.9 30.1h8.2v8.4h-8.2zM274.2 30.1h8.2v8.4h-8.2zM82.7 37.9h8.2v8.4h-8.2zM98.0 37.9h8.2v8.4h-8.2zM113.4 37.9h8.2v8.4h-8.2zM136.3 37.9h8.2v8.4h-8.2zM151.7 37.9h15.8v8.4h-15.8zM174.6 37.9h31.1v8.4h-31.1zM212.9 37.9h8.2v8.4h-8.2zM228.3 37.9h8.2v8.4h-8.2zM266.6 37.9h8.2v8.4h-8.2zM167.0 45.7h15.8v8.4h-15.8zM212.9 45.7h15.8v8.4h-15.8zM258.9 45.7h8.2v8.4h-8.2zM113.4 53.5h31.1v8.4h-31.1zM159.3 53.5h8.2v8.4h-8.2zM228.3 53.5h8.2v8.4h-8.2zM243.6 53.5h8.2v8.4h-8.2zM258.9 53.5h15.8v8.4h-15.8zM98.0 61.4h15.8v8.4h-15.8zM128.7 61.4h15.8v8.4h-15.8zM159.3 61.4h8.2v8.4h-8.2zM174.6 61.4h8.2v8.4h-8.2zM243.6 61.4h8.2v8.4h-8.2zM289.5 61.4h8.2v8.4h-8.2zM167.0 69.2h8.2v8.4h-8.2zM197.6 69.2h8.2v8.4h-8.2zM220.6 69.2h8.2v8.4h-8.2zM251.2 69.2h8.2v8.4h-8.2zM266.6 69.2h23.5v8.4h-23.5zM82.7 77.0h46.5v8.4h-46.5zM144.0 77.0h8.2v8.4h-8.2zM174.6 77.0h15.8v8.4h-15.8zM197.6 77.0h15.8v8.4h-15.8zM251.2 77.0h15.8v8.4h-15.8zM105.7 84.7h8.2v8.4h-8.2zM121.0 84.7h8.2v8.4h-8.2zM144.0 84.7h8.2v8.4h-8.2zM159.3 84.7h15.8v8.4h-15.8zM182.3 84.7h8.2v8.4h-8.2zM212.9 84.7h8.2v8.4h-8.2zM243.6 84.7h8.2v8.4h-8.2zM258.9 84.7h8.2v8.4h-8.2zM274.2 84.7h8.2v8.4h-8.2zM136.3 92.5h15.8v8.4h-15.8zM167.0 92.5h23.5v8.4h-23.5zM220.6 92.5h8.2v8.4h-8.2zM251.2 92.5h8.2v8.4h-8.2zM113.4 100.3h23.5v8.4h-23.5zM144.0 100.3h8.2v8.4h-8.2zM167.0 100.3h31.1v8.4h-31.1zM205.3 100.3h8.2v8.4h-8.2zM228.3 100.3h15.8v8.4h-15.8zM258.9 100.3h8.2v8.4h-8.2zM121.0 108.1h15.8v8.4h-15.8zM159.3 108.1h15.8v8.4h-15.8zM190.0 108.1h15.8v8.4h-15.8zM212.9 108.1h15.8v8.4h-15.8zM243.6 108.1h8.2v8.4h-8.2zM258.9 108.1h8.2v8.4h-8.2zM159.3 115.9h15.8v8.4h-15.8zM205.3 115.9h23.5v8.4h-23.5zM235.9 115.9h8.2v8.4h-8.2zM327.8 115.9h8.2v8.4h-8.2zM121.0 123.6h23.5v8.4h-23.5zM151.7 123.6h8.2v8.4h-8.2zM167.0 123.6h8.2v8.4h-8.2zM182.3 123.6h8.2v8.4h-8.2zM212.9 123.6h23.5v8.4h-23.5zM281.9 123.6h8.2v8.4h-8.2zM327.8 123.6h8.2v8.4h-8.2zM113.4 131.4h8.2v8.4h-8.2zM136.3 131.4h8.2v8.4h-8.2zM174.6 131.4h8.2v8.4h-8.2zM190.0 131.4h23.5v8.4h-23.5zM220.6 131.4h23.5v8.4h-23.5zM327.8 131.4h23.5v8.4h-23.5zM113.4 139.1h15.8v8.3h-15.8zM144.0 139.1h8.2v8.3h-8.2zM167.0 139.1h8.2v8.3h-8.2zM182.3 139.1h15.8v8.3h-15.8zM205.3 139.1h8.2v8.3h-8.2zM228.3 139.1h8.2v8.3h-8.2zM121.0 146.9h15.8v8.3h-15.8zM151.7 146.9h8.2v8.3h-8.2zM182.3 146.9h8.2v8.3h-8.2zM205.3 146.9h15.8v8.3h-15.8zM289.5 146.9h8.2v8.3h-8.2zM320.2 146.9h23.5v8.3h-23.5zM128.7 154.6h23.5v8.3h-23.5zM174.6 154.6h15.8v8.3h-15.8zM197.6 154.6h8.2v8.3h-8.2zM212.9 154.6h15.8v8.3h-15.8zM266.6 154.6h8.2v8.3h-8.2zM320.2 154.6h15.8v8.3h-15.8zM343.2 154.6h8.2v8.3h-8.2zM144.0 162.4h15.8v8.3h-15.8zM167.0 162.4h15.8v8.3h-15.8zM197.6 162.4h15.8v8.3h-15.8zM228.3 162.4h15.8v8.3h-15.8zM281.9 162.4h15.8v8.3h-15.8zM312.5 162.4h15.8v8.3h-15.8zM335.5 162.4h8.2v8.3h-8.2zM144.0 170.1h38.8v8.3h-38.8zM289.5 170.1h8.2v8.3h-8.2zM304.9 170.1h31.1v8.3h-31.1zM343.2 170.1h8.2v8.3h-8.2zM144.0 177.8h8.2v8.3h-8.2zM159.3 177.8h8.2v8.3h-8.2zM190.0 177.8h38.8v8.3h-38.8zM235.9 177.8h8.2v8.3h-8.2zM274.2 177.8h15.8v8.3h-15.8zM297.2 177.8h8.2v8.3h-8.2zM320.2 177.8h8.2v8.3h-8.2zM335.5 177.8h8.2v8.3h-8.2zM144.0 185.5h23.5v8.3h-23.5zM220.6 185.5h23.5v8.3h-23.5zM274.2 185.5h8.2v8.3h-8.2zM289.5 185.5h8.2v8.3h-8.2zM335.5 185.5h8.2v8.3h-8.2zM144.0 193.3h8.2v8.3h-8.2zM235.9 193.3h8.2v8.3h-8.2zM258.9 193.3h8.2v8.3h-8.2zM289.5 193.3h8.2v8.3h-8.2zM312.5 193.3h15.8v8.3h-15.8zM335.5 193.3h15.8v8.3h-15.8zM121.0 201.0h8.2v8.3h-8.2zM167.0 201.0h8.2v8.3h-8.2zM251.2 201.0h8.2v8.3h-8.2zM289.5 201.0h23.5v8.3h-23.5zM335.5 201.0h8.2v8.3h-8.2zM167.0 208.7h8.2v8.3h-8.2zM251.2 208.7h8.2v8.3h-8.2zM289.5 208.7h15.8v8.3h-15.8zM335.5 208.7h8.2v8.3h-8.2zM128.7 216.4h8.2v8.3h-8.2zM144.0 216.4h15.8v8.3h-15.8zM258.9 216.4h8.2v8.3h-8.2zM289.5 216.4h8.2v8.3h-8.2zM312.5 216.4h8.2v8.3h-8.2zM327.8 216.4h15.8v8.3h-15.8zM144.0 224.1h8.2v8.3h-8.2zM281.9 224.1h23.5v8.3h-23.5zM335.5 224.1h8.2v8.3h-8.2zM197.6 231.8h8.2v8.3h-8.2zM235.9 231.8h8.2v8.3h-8.2zM197.6 239.5h8.2v8.3h-8.2zM235.9 239.5h8.2v8.3h-8.2zM258.9 239.5h8.2v8.3h-8.2zM320.2 239.5h8.2v8.3h-8.2zM235.9 247.1h15.8v8.3h-15.8zM258.9 247.1h8.2v8.3h-8.2zM304.9 247.1h15.8v8.3h-15.8zM212.9 254.8h8.2v8.3h-8.2zM228.3 254.8h15.8v8.3h-15.8zM297.2 254.8h8.2v8.3h-8.2zM312.5 254.8h8.2v8.3h-8.2zM82.7 262.5h8.2v8.3h-8.2zM212.9 262.5h8.2v8.3h-8.2zM228.3 262.5h8.2v8.3h-8.2zM266.6 262.5h15.8v8.3h-15.8zM67.4 270.1h31.1v8.3h-31.1zM212.9 270.1h8.2v8.3h-8.2zM235.9 270.1h15.8v8.3h-15.8zM266.6 270.1h15.8v8.3h-15.8zM59.7 277.8h23.5v8.3h-23.5zM205.3 277.8h23.5v8.3h-23.5zM243.6 277.8h8.2v8.3h-8.2zM52.1 285.5h15.8v8.2h-15.8zM82.7 285.5h8.2v8.2h-8.2zM197.6 285.5h23.5v8.2h-23.5zM44.4 293.1h23.5v8.2h-23.5zM212.9 293.1h8.2v8.2h-8.2zM52.1 300.8h8.2v8.2h-8.2zM212.9 300.8h8.2v8.2h-8.2zM243.6 300.8h23.5v8.2h-23.5zM52.1 308.4h8.2v8.2h-8.2zM90.4 308.4h8.2v8.2h-8.2zM212.9 308.4h8.2v8.2h-8.2zM243.6 308.4h15.8v8.2h-15.8zM90.4 316.0h8.2v8.2h-8.2zM228.3 316.0h8.2v8.2h-8.2zM266.6 316.0h8.2v8.2h-8.2zM82.7 323.7h8.2v8.2h-8.2zM174.6 323.7h8.2v8.2h-8.2zM205.3 323.7h8.2v8.2h-8.2zM220.6 323.7h15.8v8.2h-15.8zM220.6 331.3h8.2v8.2h-8.2zM205.3 338.9h8.2v8.2h-8.2zM220.6 361.7h15.8v8.2h-15.8zM98.0 369.3h8.2v8.2h-8.2zM197.6 369.3h8.2v8.2h-8.2z"/>
<path fill="#004dff" d="M105.7 -1.3h8.2v8.4h-8.2zM128.7 -1.3h8.2v8.4h-8.2zM159.3 -1.3h8.2v8.4h-8.2zM174.6 -1.3h8.2v8.4h-8.2zM243.6 -1.3h8.2v8.4h-8.2zM82.7 6.6h8.2v8.4h-8.2zM98.0 6.6h15.8v8.4h-15.8zM190.0 6.6h8.2v8.4h-8.2zM228.3 6.6h8.2v8.4h-8.2zM251.2 6.6h23.5v8.4h-23.5zM281.9 6.6h8.2v8.4h-8.2zM98.0 14.4h8.2v8.4h-8.2zM113.4 14.4h8.2v8.4h-8.2zM220.6 14.4h15.8v8.4h-15.8zM266.6 14.4h8.2v8.4h-8.2zM105.7 22.3h8.2v8.4h-8.2zM182.3 22.3h15.8v8.4h-15.8zM212.9 22.3h8.2v8.4h-8.2zM258.9 22.3h8.2v8.4h-8.2zM98.0 30.1h8.2v8.4h-8.2zM128.7 30.1h8.2v8.4h-8.2zM174.6 30.1h8.2v8.4h-8.2zM251.2 30.1h8.2v8.4h-8.2zM266.6 30.1h8.2v8.4h-8.2zM75.1 37.9h8.2v8.4h-8.2zM90.4 37.9h8.2v8.4h-8.2zM128.7 37.9h8.2v8.4h-8.2zM167.0 37.9h8.2v8.4h-8.2zM205.3 37.9h8.2v8.4h-8.2zM220.6 37.9h8.2v8.4h-8.2zM235.9 37.9h8.2v8.4h-8.2zM98.0 45.7h8.2v8.4h-8.2zM190.0 45.7h8.2v8.4h-8.2zM251.2 45.7h8.2v8.4h-8.2zM274.2 45.7h8.2v8.4h-8.2zM98.0 53.5h8.2v8.4h-8.2zM174.6 53.5h8.2v8.4h-8.2zM274.2 53.5h8.2v8.4h-8.2zM90.4 61.4h8.2v8.4h-8.2zM144.0 61.4h8.2v8.4h-8.2zM182.3 61.4h8.2v8.4h-8.2zM251.2 61.4h8.2v8.4h-8.2zM121.0 69.2h8.2v8.4h-8.2zM174.6 69.2h8.2v8.4h-8.2zM190.0 69.2h8.2v8.4h-8.2zM258.9 69.2h8.2v8.4h-8.2zM82.7 84.7h15.8v8.4h-15.8zM151.7 84.7h8.2v8.4h-8.2zM105.7 92.5h8.2v8.4h-8.2zM159.3 92.5h8.2v8.4h-8.2zM197.6 92.5h8.2v8.4h-8.2zM258.9 92.5h8.2v8.4h-8.2zM90.4 100.3h8.2v8.4h-8.2zM159.3 100.3h8.2v8.4h-8.2zM197.6 100.3h8.2v8.4h-8.2zM212.9 100.3h8.2v8.4h-8.2zM243.6 100.3h8.2v8.4h-8.2zM105.7 108.1h15.8v8.4h-15.8zM136.3 108.1h15.8v8.4h-15.8zM228.3 108.1h15.8v8.4h-15.8zM105.7 115.9h8.2v8.4h-8.2zM128.7 115.9h15.8v8.4h-15.8zM182.3 115.9h8.2v8.4h-8.2zM243.6 115.9h15.8v8.4h-15.8zM266.6 115.9h8.2v8.4h-8.2zM98.0 123.6h8.2v8.4h-8.2zM144.0 123.6h8.2v8.4h-8.2zM159.3 123.6h8.2v8.4h-8.2zM251.2 123.6h8.2v8.4h-8.2zM266.6 123.6h8.2v8.4h-8.2zM105.7 131.4h8.2v8.4h-8.2zM159.3 131.4h8.2v8.4h-8.2zM182.3 131.4h8.2v8.4h-8.2zM212.9 131.4h8.2v8.4h-8.2zM274.2 131.4h8.2v8.4h-8.2zM320.2 131.4h8.2v8.4h-8.2zM136.3 139.1h8.2v8.3h-8.2zM151.7 139.1h15.8v8.3h-15.8zM220.6 139.1h8.2v8.3h-8.2zM343.2 139.1h8.2v8.3h-8.2zM136.3 146.9h15.8v8.3h-15.8zM159.3 146.9h23.5v8.3h-23.5zM297.2 146.9h23.5v8.3h-23.5zM343.2 146.9h8.2v8.3h-8.2zM159.3 154.6h8.2v8.3h-8.2zM228.3 154.6h8.2v8.3h-8.2zM297.2 154.6h8.2v8.3h-8.2zM159.3 162.4h8.2v8.3h-8.2zM182.3 162.4h8.2v8.3h-8.2zM266.6 162.4h8.2v8.3h-8.2zM304.9 162.4h8.2v8.3h-8.2zM343.2 162.4h8.2v8.3h-8.2zM136.3 170.1h8.2v8.3h-8.2zM190.0 170.1h15.8v8.3h-15.8zM220.6 170.1h8.2v8.3h-8.2zM235.9 170.1h8.2v8.3h-8.2zM297.2 170.1h8.2v8.3h-8.2zM335.5 170.1h8.2v8.3h-8.2zM151.7 177.8h8.2v8.3h-8.2zM167.0 177.8h8.2v8.3h-8.2zM289.5 177.8h8.2v8.3h-8.2zM312.5 177.8h8.2v8.3h-8.2zM167.0 185.5h8.2v8.3h-8.2zM312.5 185.5h8.2v8.3h-8.2zM343.2 185.5h8.2v8.3h-8.2zM159.3 193.3h15.8v8.3h-15.8zM304.9 193.3h8.2v8.3h-8.2zM151.7 201.0h15.8v8.3h-15.8zM281.9 201.0h8.2v8.3h-8.2zM312.5 201.0h23.5v8.3h-23.5zM121.0 208.7h8.2v8.3h-8.2zM151.7 208.7h8.2v8.3h-8.2zM258.9 208.7h8.2v8.3h-8.2zM281.9 208.7h8.2v8.3h-8.2zM304.9 208.7h15.8v8.3h-15.8zM159.3 216.4h8.2v8.3h-8.2zM197.6 216.4h8.2v8.3h-8.2zM251.2 216.4h8.2v8.3h-8.2zM266.6 216.4h15.8v8.3h-15.8zM128.7 224.1h8.2v8.3h-8.2zM151.7 224.1h8.2v8.3h-8.2zM205.3 224.1h8.2v8.3h-8.2zM243.6 224.1h23.5v8.3h-23.5zM274.2 224.1h8.2v8.3h-8.2zM304.9 224.1h8.2v8.3h-8.2zM327.8 224.1h8.2v8.3h-8.2zM144.0 231.8h8.2v8.3h-8.2zM243.6 231.8h15.8v8.3h-15.8zM266.6 231.8h8.2v8.3h-8.2zM281.9 231.8h8.2v8.3h-8.2zM312.5 231.8h8.2v8.3h-8.2zM144.0 239.5h8.2v8.3h-8.2zM182.3 239.5h8.2v8.3h-8.2zM243.6 239.5h15.8v8.3h-15.8zM266.6 239.5h31.1v8.3h-31.1zM174.6 247.1h23.5v8.3h-23.5zM205.3 247.1h31.1v8.3h-31.1zM266.6 247.1h23.5v8.3h-23.5zM297.2 247.1h8.2v8.3h-8.2zM182.3 254.8h15.8v8.3h-15.8zM220.6 254.8h8.2v8.3h-8.2zM266.6 254.8h23.5v8.3h-23.5zM304.9 254.8h8.2v8.3h-8.2zM205.3 262.5h8.2v8.3h-8.2zM220.6 262.5h8.2v8.3h-8.2zM251.2 262.5h15.8v8.3h-15.8zM297.2 262.5h8.2v8.3h-8.2zM205.3 270.1h8.2v8.3h-8.2zM220.6 270.1h15.8v8.3h-15.8zM281.9 270.1h8.2v8.3h-8.2zM297.2 270.1h15.8v8.3h-15.8zM197.6 277.8h8.2v8.3h-8.2zM228.3 277.8h15.8v8.3h-15.8zM289.5 277.8h8.2v8.3h-8.2zM98.0 285.5h8.2v8.2h-8.2zM220.6 285.5h8.2v8.2h-8.2zM235.9 285.5h15.8v8.2h-15.8zM289.5 285.5h8.2v8.2h-8.2zM105.7 293.1h8.2v8.2h-8.2zM197.6 293.1h8.2v8.2h-8.2zM289.5 293.1h8.2v8.2h-8.2zM98.0 300.8h8.2v8.2h-8.2zM98.0 308.4h8.2v8.2h-8.2zM174.6 308.4h8.2v8.2h-8.2zM266.6 308.4h8.2v8.2h-8.2zM98.0 316.0h8.2v8.2h-8.2zM174.6 316.0h8.2v8.2h-8.2zM205.3 316.0h8.2v8.2h-8.2zM220.6 316.0h8.2v8.2h-8.2zM235.9 316.0h31.1v8.2h-31.1zM243.6 323.7h8.2v8.2h-8.2zM197.6 331.3h23.5v8.2h-23.5zM235.9 331.3h8.2v8.2h-8.2zM190.0 338.9h8.2v8.2h-8.2zM190.0 346.5h15.8v8.2h-15.8zM98.0 354.1h15.8v8.2h-15.8zM98.0 361.7h8.2v8.2h-8.2zM205.3 369.3h15.8v8.2h-15.8zM228.3 369.3h8.2v8.2h-8.2zM212.9 376.9h8.2v8.2h-8.2z"/>
<path fill="#0080ff" d="M182.3 -1.3h8.2v8.4h-8.2zM220.6 -1.3h15.8v8.4h-15.8zM266.6 -1.3h8.2v8.4h-8.2zM90.4 6.6h8.2v8.4h-8.2zM197.6 6.6h8.2v8.4h-8.2zM281.9 14.4h8.2v8.4h-8.2zM159.3 30.1h8.2v8.4h-8.2zM228.3 30.1h8.2v8.4h-8.2zM281.9 30.1h8.2v8.4h-8.2zM105.7 37.9h8.2v8.4h-8.2zM121.0 37.9h8.2v8.4h-8.2zM144.0 37.9h8.2v8.4h-8.2zM251.2 37.9h8.2v8.4h-8.2zM113.4 45.7h8.2v8.4h-8.2zM128.7 45.7h8.2v8.4h-8.2zM144.0 45.7h15.8v8.4h-15.8zM281.9 45.7h8.2v8.4h-8.2zM82.7 53.5h15.8v8.4h-15.8zM105.7 53.5h8.2v8.4h-8.2zM144.0 53.5h15.8v8.4h-15.8zM167.0 53.5h8.2v8.4h-8.2zM205.3 53.5h8.2v8.4h-8.2zM220.6 53.5h8.2v8.4h-8.2zM82.7 61.4h8.2v8.4h-8.2zM212.9 61.4h8.2v8.4h-8.2zM266.6 61.4h8.2v8.4h-8.2zM281.9 61.4h8.2v8.4h-8.2zM98.0 69.2h8.2v8.4h-8.2zM136.3 69.2h8.2v8.4h-8.2zM159.3 69.2h8.2v8.4h-8.2zM212.9 69.2h8.2v8.4h-8.2zM98.0 84.7h8.2v8.4h-8.2zM113.4 84.7h8.2v8.4h-8.2zM220.6 84.7h8.2v8.4h-8.2zM266.6 84.7h8.2v8.4h-8.2zM90.4 92.5h15.8v8.4h-15.8zM121.0 92.5h15.8v8.4h-15.8zM151.7 92.5h8.2v8.4h-8.2zM228.3 92.5h8.2v8.4h-8.2zM98.0 100.3h15.8v8.4h-15.8zM266.6 100.3h8.2v8.4h-8.2zM98.0 108.1h8.2v8.4h-8.2zM144.0 115.9h8.2v8.4h-8.2zM320.2 115.9h8.2v8.4h-8.2zM113.4 123.6h8.2v8.4h-8.2zM151.7 131.4h8.2v8.4h-8.2zM251.2 131.4h8.2v8.4h-8.2zM174.6 139.1h8.2v8.3h-8.2zM266.6 139.1h8.2v8.3h-8.2zM320.2 139.1h8.2v8.3h-8.2zM220.6 146.9h8.2v8.3h-8.2zM266.6 146.9h8.2v8.3h-8.2zM190.0 154.6h8.2v8.3h-8.2zM258.9 154.6h8.2v8.3h-8.2zM136.3 185.5h8.2v8.3h-8.2zM174.6 185.5h15.8v8.3h-15.8zM281.9 185.5h8.2v8.3h-8.2zM174.6 193.3h8.2v8.3h-8.2zM190.0 193.3h8.2v8.3h-8.2zM327.8 193.3h8.2v8.3h-8.2zM243.6 201.0h8.2v8.3h-8.2zM258.9 201.0h8.2v8.3h-8.2zM243.6 216.4h8.2v8.3h-8.2zM197.6 224.1h8.2v8.3h-8.2zM235.9 224.1h8.2v8.3h-8.2zM266.6 224.1h8.2v8.3h-8.2zM136.3 231.8h8.2v8.3h-8.2zM190.0 231.8h8.2v8.3h-8.2zM205.3 231.8h8.2v8.3h-8.2zM228.3 231.8h8.2v8.3h-8.2zM258.9 231.8h8.2v8.3h-8.2zM289.5 231.8h8.2v8.3h-8.2zM304.9 231.8h8.2v8.3h-8.2zM136.3 239.5h8.2v8.3h-8.2zM174.6 239.5h8.2v8.3h-8.2zM190.0 239.5h8.2v8.3h-8.2zM205.3 239.5h8.2v8.3h-8.2zM220.6 239.5h15.8v8.3h-15.8zM297.2 239.5h15.8v8.3h-15.8zM197.6 247.1h8.2v8.3h-8.2zM289.5 247.1h8.2v8.3h-8.2zM174.6 254.8h8.2v8.3h-8.2zM289.5 254.8h8.2v8.3h-8.2zM190.0 262.5h8.2v8.3h-8.2zM281.9 262.5h8.2v8.3h-8.2zM304.9 262.5h8.2v8.3h-8.2zM251.2 270.1h15.8v8.3h-15.8zM182.3 277.8h15.8v8.3h-15.8zM281.9 277.8h8.2v8.3h-8.2zM190.0 285.5h8.2v8.2h-8.2zM228.3 285.5h8.2v8.2h-8.2zM190.0 293.1h8.2v8.2h-8.2zM281.9 293.1h8.2v8.2h-8.2zM190.0 300.8h8.2v8.2h-8.2zM220.6 300.8h8.2v8.2h-8.2zM105.7 308.4h8.2v8.2h-8.2zM182.3 308.4h8.2v8.2h-8.2zM182.3 316.0h8.2v8.2h-8.2zM197.6 316.0h8.2v8.2h-8.2zM212.9 316.0h8.2v8.2h-8.2zM98.0 323.7h8.2v8.2h-8.2zM212.9 323.7h8.2v8.2h-8.2zM235.9 323.7h8.2v8.2h-8.2zM266.6 323.7h8.2v8.2h-8.2zM190.0 331.3h8.2v8.2h-8.2zM243.6 331.3h8.2v8.2h-8.2zM258.9 331.3h8.2v8.2h-8.2zM105.7 361.7h8.2v8.2h-8.2zM212.9 361.7h8.2v8.2h-8.2z"/>
<path fill="#00b2ff" d="M205.3 -1.3h15.8v8.4h-15.8zM235.9 -1.3h8.2v8.4h-8.2zM205.3 6.6h8.2v8.4h-8.2zM281.9 37.9h8.2v8.4h-8.2zM82.7 45.7h15.8v8.4h-15.8zM289.5 45.7h8.2v8.4h-8.2zM212.9 53.5h8.2v8.4h-8.2zM205.3 61.4h8.2v8.4h-8.2zM235.9 61.4h8.2v8.4h-8.2zM228.3 69.2h15.8v8.4h-15.8zM220.6 77.0h15.8v8.4h-15.8zM228.3 84.7h15.8v8.4h-15.8zM251.2 84.7h8.2v8.4h-8.2zM235.9 92.5h8.2v8.4h-8.2zM312.5 115.9h8.2v8.4h-8.2zM320.2 123.6h8.2v8.4h-8.2zM266.6 131.4h8.2v8.4h-8.2zM258.9 139.1h8.2v8.3h-8.2zM190.0 185.5h8.2v8.3h-8.2zM205.3 185.5h8.2v8.3h-8.2zM174.6 201.0h8.2v8.3h-8.2zM128.7 208.7h8.2v8.3h-8.2zM274.2 208.7h8.2v8.3h-8.2zM167.0 216.4h8.2v8.3h-8.2zM205.3 216.4h8.2v8.3h-8.2zM304.9 216.4h8.2v8.3h-8.2zM159.3 224.1h8.2v8.3h-8.2zM212.9 224.1h8.2v8.3h-8.2zM320.2 224.1h8.2v8.3h-8.2zM151.7 231.8h8.2v8.3h-8.2zM212.9 231.8h8.2v8.3h-8.2zM151.7 239.5h8.2v8.3h-8.2zM212.9 239.5h8.2v8.3h-8.2zM312.5 239.5h8.2v8.3h-8.2zM197.6 254.8h15.8v8.3h-15.8zM197.6 262.5h8.2v8.3h-8.2zM190.0 270.1h15.8v8.3h-15.8zM251.2 277.8h8.2v8.3h-8.2zM274.2 277.8h8.2v8.3h-8.2zM113.4 293.1h8.2v8.2h-8.2zM220.6 293.1h8.2v8.2h-8.2zM197.6 300.8h8.2v8.2h-8.2zM274.2 300.8h8.2v8.2h-8.2zM190.0 308.4h23.5v8.2h-23.5zM274.2 308.4h8.2v8.2h-8.2zM182.3 323.7h8.2v8.2h-8.2zM258.9 323.7h8.2v8.2h-8.2zM182.3 331.3h8.2v8.2h-8.2zM251.2 331.3h8.2v8.2h-8.2zM182.3 338.9h8.2v8.2h-8.2zM220.6 338.9h8.2v8.2h-8.2zM251.2 338.9h8.2v8.2h-8.2zM98.0 346.5h8.2v8.2h-8.2zM258.9 346.5h8.2v8.2h-8.2z"/>
<path fill="#00e5ff" d="M235.9 6.6h8.2v8.4h-8.2zM289.5 30.1h8.2v8.4h-8.2zM289.5 37.9h15.8v8.4h-15.8zM75.1 45.7h8.2v8.4h-8.2zM243.6 69.2h8.2v8.4h-8.2zM235.9 77.0h15.8v8.4h-15.8zM274.2 108.1h8.2v8.4h-8.2zM274.2 115.9h8.2v8.4h-8.2zM274.2 123.6h8.2v8.4h-8.2zM312.5 123.6h8.2v8.4h-8.2zM243.6 131.4h8.2v8.4h-8.2zM258.9 131.4h8.2v8.4h-8.2zM312.5 131.4h8.2v8.4h-8.2zM235.9 146.9h8.2v8.3h-8.2zM235.9 154.6h8.2v8.3h-8.2zM251.2 154.6h8.2v8.3h-8.2zM251.2 177.8h8.2v8.3h-8.2zM266.6 177.8h8.2v8.3h-8.2zM197.6 185.5h8.2v8.3h-8.2zM197.6 193.3h15.8v8.3h-15.8zM220.6 193.3h15.8v8.3h-15.8zM266.6 193.3h8.2v8.3h-8.2zM281.9 193.3h8.2v8.3h-8.2zM128.7 201.0h8.2v8.3h-8.2zM205.3 201.0h8.2v8.3h-8.2zM235.9 201.0h8.2v8.3h-8.2zM274.2 201.0h8.2v8.3h-8.2zM174.6 208.7h8.2v8.3h-8.2zM197.6 208.7h15.8v8.3h-15.8zM220.6 208.7h8.2v8.3h-8.2zM235.9 208.7h8.2v8.3h-8.2zM212.9 216.4h8.2v8.3h-8.2zM167.0 224.1h8.2v8.3h-8.2zM220.6 224.1h8.2v8.3h-8.2zM312.5 224.1h8.2v8.3h-8.2zM220.6 231.8h8.2v8.3h-8.2zM297.2 231.8h8.2v8.3h-8.2zM159.3 239.5h15.8v8.3h-15.8zM151.7 247.1h15.8v8.3h-15.8zM144.0 254.8h15.8v8.3h-15.8zM151.7 262.5h8.2v8.3h-8.2zM182.3 262.5h8.2v8.3h-8.2zM289.5 262.5h8.2v8.3h-8.2zM151.7 270.1h8.2v8.3h-8.2zM182.3 270.1h8.2v8.3h-8.2zM289.5 270.1h8.2v8.3h-8.2zM266.6 277.8h8.2v8.3h-8.2zM251.2 285.5h8.2v8.2h-8.2zM266.6 285.5h8.2v8.2h-8.2zM281.9 285.5h8.2v8.2h-8.2zM182.3 293.1h8.2v8.2h-8.2zM228.3 293.1h15.8v8.2h-15.8zM258.9 293.1h23.5v8.2h-23.5zM182.3 300.8h8.2v8.2h-8.2zM228.3 300.8h15.8v8.2h-15.8zM167.0 308.4h8.2v8.2h-8.2zM220.6 308.4h23.5v8.2h-23.5zM190.0 316.0h8.2v8.2h-8.2zM190.0 323.7h15.8v8.2h-15.8zM105.7 331.3h15.8v8.2h-15.8zM98.0 338.9h23.5v8.2h-23.5zM243.6 338.9h8.2v8.2h-8.2zM258.9 338.9h8.2v8.2h-8.2zM105.7 346.5h8.2v8.2h-8.2z"/>
<path fill="#4dffb2" d="M297.2 45.7h8.2v8.4h-8.2zM105.7 247.1h15.8v8.3h-15.8zM167.0 247.1h8.2v8.3h-8.2zM105.7 254.8h15.8v8.3h-15.8zM151.7 277.8h23.5v8.3h-23.5zM105.7 285.5h8.2v8.2h-8.2zM174.6 285.5h8.2v8.2h-8.2zM274.2 285.5h8.2v8.2h-8.2zM121.0 293.1h8.2v8.2h-8.2zM174.6 293.1h8.2v8.2h-8.2zM105.7 300.8h8.2v8.2h-8.2zM174.6 300.8h8.2v8.2h-8.2zM182.3 346.5h8.2v8.2h-8.2zM235.9 354.1h8.2v8.2h-8.2z"/>
<path fill="#b3ff4c" d="M243.6 139.1h8.2v8.3h-8.2zM243.6 146.9h15.8v8.3h-15.8zM258.9 162.4h8.2v8.3h-8.2zM258.9 170.1h15.8v8.3h-15.8zM121.0 177.8h8.2v8.3h-8.2zM190.0 201.0h15.8v8.3h-15.8zM220.6 201.0h8.2v8.3h-8.2zM190.0 208.7h8.2v8.3h-8.2zM212.9 208.7h8.2v8.3h-8.2zM228.3 208.7h8.2v8.3h-8.2zM190.0 216.4h8.2v8.3h-8.2zM220.6 216.4h23.5v8.3h-23.5zM190.0 224.1h8.2v8.3h-8.2zM167.0 231.8h8.2v8.3h-8.2zM182.3 231.8h8.2v8.3h-8.2zM167.0 254.8h8.2v8.3h-8.2zM159.3 262.5h8.2v8.3h-8.2zM174.6 262.5h8.2v8.3h-8.2zM174.6 270.1h8.2v8.3h-8.2zM167.0 285.5h8.2v8.2h-8.2z"/>
<path fill="#ffe500" d="M251.2 139.1h8.2v8.3h-8.2zM121.0 185.5h8.2v8.3h-8.2zM174.6 231.8h8.2v8.3h-8.2z"/>
<path fill="#ffb300" d="M258.9 146.9h8.2v8.3h-8.2zM182.3 216.4h8.2v8.3h-8.2zM182.3 224.1h8.2v8.3h-8.2z"/>
<path fill="#1affe5" d="M243.6 154.6h8.2v8.3h-8.2zM243.6 162.4h8.2v8.3h-8.2zM243.6 170.1h8.2v8.3h-8.2zM258.9 177.8h8.2v8.3h-8.2zM128.7 185.5h8.2v8.3h-8.2zM128.7 193.3h8.2v8.3h-8.2zM212.9 193.3h8.2v8.3h-8.2zM274.2 193.3h8.2v8.3h-8.2zM212.9 201.0h8.2v8.3h-8.2zM228.3 201.0h8.2v8.3h-8.2zM266.6 201.0h8.2v8.3h-8.2zM182.3 208.7h8.2v8.3h-8.2zM228.3 224.1h8.2v8.3h-8.2zM159.3 231.8h8.2v8.3h-8.2zM159.3 254.8h8.2v8.3h-8.2zM105.7 270.1h8.2v8.3h-8.2zM105.7 277.8h8.2v8.3h-8.2zM174.6 277.8h8.2v8.3h-8.2zM258.9 277.8h8.2v8.3h-8.2zM258.9 285.5h8.2v8.2h-8.2zM98.0 331.3h8.2v8.2h-8.2zM243.6 346.5h15.8v8.2h-15.8zM243.6 354.1h8.2v8.2h-8.2z"/>
<path fill="#80ff80" d="M251.2 162.4h8.2v8.3h-8.2zM251.2 170.1h8.2v8.3h-8.2zM128.7 177.8h8.2v8.3h-8.2zM159.3 270.1h15.8v8.3h-15.8zM159.3 285.5h8.2v8.2h-8.2zM113.4 300.8h8.2v8.2h-8.2z"/>
<path fill="#e5ff1a" d="M121.0 193.3h8.2v8.3h-8.2zM174.6 216.4h8.2v8.3h-8.2zM174.6 224.1h8.2v8.3h-8.2zM167.0 262.5h8.2v8.3h-8.2zM113.4 285.5h8.2v8.2h-8.2zM167.0 300.8h8.2v8.2h-8.2z"/>
<path fill="#0000b2" d="M335.5 247.1h8.2v8.3h-8.2zM251.2 254.8h8.2v8.3h-8.2zM75.1 285.5h8.2v8.2h-8.2zM304.9 285.5h15.8v8.2h-15.8zM327.8 285.5h15.8v8.2h-15.8zM304.9 293.1h23.5v8.2h-23.5zM335.5 293.1h15.8v8.2h-15.8zM75.1 300.8h8.2v8.2h-8.2zM266.6 300.8h8.2v8.2h-8.2zM289.5 300.8h54.1v8.2h-54.1zM29.1 308.4h8.2v8.2h-8.2zM75.1 308.4h15.8v8.2h-15.8zM281.9 308.4h15.8v8.2h-15.8zM304.9 308.4h23.5v8.2h-23.5zM75.1 316.0h15.8v8.2h-15.8zM281.9 316.0h15.8v8.2h-15.8zM304.9 316.0h15.8v8.2h-15.8zM67.4 323.7h8.2v8.2h-8.2zM297.2 323.7h23.5v8.2h-23.5zM297.2 331.3h8.2v8.2h-8.2zM228.3 338.9h8.2v8.2h-8.2zM105.7 369.3h8.2v8.2h-8.2zM205.3 376.9h8.2v8.2h-8.2z"/><path d="M247.4 142.0L247.0 143.0L246.5 150.8L247.4 152.0L255.1 151.7L262.7 153.8L265.7 150.8L262.7 147.4L257.8 143.0L255.1 140.6L247.4 142.0M262.7 165.6L258.9 166.2L258.9 174.0L262.7 175.2L270.4 174.9L270.8 174.0L270.4 173.4L263.3 166.2L262.7 165.6M128.7 181.7L128.7 189.4L127.7 197.1L124.9 198.4M193.8 204.2L193.4 204.8L192.5 212.5L186.1 215.7L178.5 217.9L176.6 220.2L176.2 227.9L170.8 234.7L169.5 235.6L170.8 236.6L178.5 238.0L186.1 236.2L186.8 235.6L193.8 228.6L194.4 227.9L194.3 220.2L194.7 212.5L201.4 205.8L202.4 204.8L201.4 203.9L193.8 204.2M224.4 203.9L223.2 204.8L224.4 205.8L231.1 212.5L224.4 219.3L217.7 212.5L216.8 211.2L215.8 212.5L216.8 213.5L223.5 220.2L224.4 221.2L232.1 221.5L239.8 220.9L240.4 220.2L239.8 219.3L233.0 212.5L232.1 211.2L225.7 204.8L224.4 203.9M170.8 256.7L169.5 258.6L163.2 265.0L162.2 266.3L163.2 270.1L170.8 272.1L174.6 274.0L178.5 275.3L179.4 274.0L179.4 266.3L178.5 265.7L171.4 258.6L170.8 256.7" stroke="#000" stroke-width="1.1" fill="none" stroke-linejoin="round"/>
<use href="#landg"/>
<g clip-path="url(#landclip)"><line x1="58.0" y1="0.0" x2="58.0" y2="427.5" class="g"/>
<line x1="115.9" y1="0.0" x2="115.9" y2="427.5" class="g"/>
<line x1="173.9" y1="0.0" x2="173.9" y2="427.5" class="g"/>
<line x1="231.9" y1="0.0" x2="231.9" y2="427.5" class="g"/>
<line x1="289.8" y1="0.0" x2="289.8" y2="427.5" class="g"/>
<line x1="0.0" y1="72.4" x2="347.8" y2="72.4" class="g"/>
<line x1="0.0" y1="144.3" x2="347.8" y2="144.3" class="g"/>
<line x1="0.0" y1="215.7" x2="347.8" y2="215.7" class="g"/>
<line x1="0.0" y1="286.8" x2="347.8" y2="286.8" class="g"/>
<line x1="0.0" y1="357.3" x2="347.8" y2="357.3" class="g"/></g>
</g>
<path d="M58.5 47.5L74.1 47.5M60.8 42.0L71.8 53.0M66.3 39.7L66.3 55.3M71.8 42.0L60.8 53.0" stroke="#ff1a1a" stroke-width="1.3"/>
<path d="M96.6 156.3L112.2 156.3M98.9 150.8L109.9 161.8M104.4 148.5L104.4 164.1M109.9 150.8L98.9 161.8" stroke="#ff1a1a" stroke-width="1.3"/>
<path d="M106.0 250.3L121.6 250.3M108.3 244.8L119.3 255.8M113.8 242.5L113.8 258.1M119.3 244.8L108.3 255.8" stroke="#ff1a1a" stroke-width="1.3"/>
<path d="M54.4 271.8L70.0 271.8M56.7 266.3L67.7 277.3M62.2 264.0L62.2 279.6M67.7 266.3L56.7 277.3" stroke="#ff1a1a" stroke-width="1.3"/>
<path d="M2.6 320.5L18.2 320.5M4.9 315.0L15.9 326.0M10.4 312.7L10.4 328.3M15.9 315.0L4.9 326.0" stroke="#ff1a1a" stroke-width="1.3"/>
</g>
<line x1="516.5" y1="1169.8" x2="516.5" y2="1165.8" class="t"/>
<line x1="516.5" y1="742.3" x2="516.5" y2="746.3" class="t"/>
<line x1="574.4" y1="1169.8" x2="574.4" y2="1165.8" class="t"/>
<line x1="574.4" y1="742.3" x2="574.4" y2="746.3" class="t"/>
<line x1="632.4" y1="1169.8" x2="632.4" y2="1165.8" class="t"/>
<line x1="632.4" y1="742.3" x2="632.4" y2="746.3" class="t"/>
<line x1="690.4" y1="1169.8" x2="690.4" y2="1165.8" class="t"/>
<line x1="690.4" y1="742.3" x2="690.4" y2="746.3" class="t"/>
<line x1="748.3" y1="1169.8" x2="748.3" y2="1165.8" class="t"/>
<line x1="748.3" y1="742.3" x2="748.3" y2="746.3" class="t"/>
<line x1="458.5" y1="814.7" x2="462.5" y2="814.7" class="t"/>
<line x1="806.3" y1="814.7" x2="802.3" y2="814.7" class="t"/>
<line x1="458.5" y1="886.6" x2="462.5" y2="886.6" class="t"/>
<line x1="806.3" y1="886.6" x2="802.3" y2="886.6" class="t"/>
<line x1="458.5" y1="958.0" x2="462.5" y2="958.0" class="t"/>
<line x1="806.3" y1="958.0" x2="802.3" y2="958.0" class="t"/>
<line x1="458.5" y1="1029.1" x2="462.5" y2="1029.1" class="t"/>
<line x1="806.3" y1="1029.1" x2="802.3" y2="1029.1" class="t"/>
<line x1="458.5" y1="1099.6" x2="462.5" y2="1099.6" class="t"/>
<line x1="806.3" y1="1099.6" x2="802.3" y2="1099.6" class="t"/>
<rect x="458.5" y="742.3" width="347.8" height="427.5" class="fr"/>
<text x="452.7" y="749.9" class="L" text-anchor="end">37°N</text>
<text x="452.7" y="821.6" class="S" text-anchor="end">30'</text>
<text x="452.7" y="894.2" class="L" text-anchor="end">36°N</text>
<text x="452.7" y="964.9" class="S" text-anchor="end">30'</text>
<text x="452.7" y="1036.7" class="L" text-anchor="end">35°N</text>
<text x="452.7" y="1106.5" class="S" text-anchor="end">30'</text>
<text x="452.7" y="1177.4" class="L" text-anchor="end">34°N</text>
<text x="458.5" y="1187.3" class="S" text-anchor="middle">30'</text>
<text x="519.7" y="1190.8" class="L" text-anchor="middle">76°W</text>
<text x="574.4" y="1187.3" class="S" text-anchor="middle">30'</text>
<text x="635.6" y="1190.8" class="L" text-anchor="middle">75°W</text>
<text x="690.4" y="1187.3" class="S" text-anchor="middle">30'</text>
<text x="751.5" y="1190.8" class="L" text-anchor="middle">74°W</text>
<text x="806.3" y="1187.3" class="S" text-anchor="middle">30'</text>
<g transform="translate(843.5,742.3)">
<g clip-path="url(#clipP)">
<line x1="58.0" y1="0.0" x2="58.0" y2="427.5" class="g"/>
<line x1="115.9" y1="0.0" x2="115.9" y2="427.5" class="g"/>
<line x1="173.9" y1="0.0" x2="173.9" y2="427.5" class="g"/>
<line x1="231.9" y1="0.0" x2="231.9" y2="427.5" class="g"/>
<line x1="289.8" y1="0.0" x2="289.8" y2="427.5" class="g"/>
<line x1="0.0" y1="72.4" x2="347.8" y2="72.4" class="g"/>
<line x1="0.0" y1="144.3" x2="347.8" y2="144.3" class="g"/>
<line x1="0.0" y1="215.7" x2="347.8" y2="215.7" class="g"/>
<line x1="0.0" y1="286.8" x2="347.8" y2="286.8" class="g"/>
<line x1="0.0" y1="357.3" x2="347.8" y2="357.3" class="g"/>
<path fill="#0060ff" d="M67.4 -1.3h230.3v8.4h-230.3zM67.4 6.6h230.3v8.4h-230.3zM75.1 14.4h238.0v8.4h-238.0zM75.1 22.3h238.0v8.4h-238.0zM75.1 30.1h230.3v8.4h-230.3zM75.1 37.9h230.3v8.4h-230.3zM75.1 45.7h230.3v8.4h-230.3zM82.7 53.5h215.0v8.4h-215.0zM82.7 61.4h215.0v8.4h-215.0zM82.7 69.2h207.3v8.4h-207.3zM82.7 77.0h207.3v8.4h-207.3zM82.7 84.7h207.3v8.4h-207.3zM90.4 92.5h199.7v8.4h-199.7zM90.4 100.3h192.0v8.4h-192.0zM98.0 108.1h184.3v8.4h-184.3zM98.0 115.9h77.1v8.4h-77.1zM190.0 115.9h92.4v8.4h-92.4zM98.0 123.6h77.1v8.4h-77.1zM205.3 123.6h77.1v8.4h-77.1zM105.7 131.4h69.4v8.4h-69.4zM212.9 131.4h77.1v8.4h-77.1zM113.4 139.1h61.8v8.3h-61.8zM228.3 139.1h15.8v8.3h-15.8zM258.9 139.1h31.1v8.3h-31.1zM121.0 146.9h38.8v8.3h-38.8zM274.2 146.9h8.2v8.3h-8.2zM121.0 154.6h31.1v8.3h-31.1zM128.7 162.4h23.5v8.3h-23.5zM128.7 170.1h23.5v8.3h-23.5z"/>
<path fill="#0000a8" d="M297.2 -1.3h54.1v8.4h-54.1zM297.2 6.6h54.1v8.4h-54.1zM312.5 14.4h38.8v8.4h-38.8zM312.5 22.3h38.8v8.4h-38.8zM304.9 30.1h46.5v8.4h-46.5zM304.9 37.9h46.5v8.4h-46.5zM304.9 45.7h46.5v8.4h-46.5zM297.2 53.5h54.1v8.4h-54.1zM297.2 61.4h54.1v8.4h-54.1zM289.5 69.2h61.8v8.4h-61.8zM289.5 77.0h61.8v8.4h-61.8zM289.5 84.7h61.8v8.4h-61.8zM289.5 92.5h61.8v8.4h-61.8zM281.9 100.3h69.4v8.4h-69.4zM281.9 108.1h69.4v8.4h-69.4zM281.9 115.9h31.1v8.4h-31.1zM335.5 115.9h15.8v8.4h-15.8zM281.9 123.6h31.1v8.4h-31.1zM335.5 123.6h15.8v8.4h-15.8zM289.5 131.4h31.1v8.4h-31.1zM105.7 139.1h8.2v8.3h-8.2zM289.5 139.1h31.1v8.3h-31.1zM113.4 146.9h8.2v8.3h-8.2zM281.9 146.9h15.8v8.3h-15.8zM113.4 154.6h8.2v8.3h-8.2zM121.0 162.4h8.2v8.3h-8.2zM121.0 170.1h8.2v8.3h-8.2zM121.0 208.7h8.2v8.3h-8.2z"/>
<path fill="#00aaff" d="M174.6 115.9h15.8v8.4h-15.8zM174.6 123.6h31.1v8.4h-31.1zM174.6 131.4h38.8v8.4h-38.8zM174.6 139.1h54.1v8.3h-54.1zM243.6 139.1h15.8v8.3h-15.8zM159.3 146.9h107.7v8.3h-107.7zM151.7 154.6h107.7v8.3h-107.7zM151.7 162.4h115.4v8.3h-115.4zM151.7 170.1h123.1v8.3h-123.1zM144.0 177.8h92.4v8.3h-92.4zM251.2 177.8h23.5v8.3h-23.5zM144.0 185.5h84.8v8.3h-84.8zM144.0 193.3h15.8v8.3h-15.8zM167.0 193.3h54.1v8.3h-54.1zM151.7 201.0h61.8v8.3h-61.8zM151.7 208.7h38.8v8.3h-38.8zM159.3 216.4h15.8v8.3h-15.8z"/>
<path fill="#0000ff" d="M312.5 115.9h23.5v8.4h-23.5zM312.5 123.6h23.5v8.4h-23.5zM320.2 131.4h31.1v8.4h-31.1zM320.2 139.1h31.1v8.3h-31.1zM266.6 146.9h8.2v8.3h-8.2zM297.2 146.9h54.1v8.3h-54.1zM258.9 154.6h92.4v8.3h-92.4zM266.6 162.4h84.8v8.3h-84.8zM274.2 170.1h77.1v8.3h-77.1zM121.0 177.8h23.5v8.3h-23.5zM235.9 177.8h15.8v8.3h-15.8zM274.2 177.8h77.1v8.3h-77.1zM121.0 185.5h23.5v8.3h-23.5zM228.3 185.5h123.1v8.3h-123.1zM121.0 193.3h23.5v8.3h-23.5zM159.3 193.3h8.2v8.3h-8.2zM220.6 193.3h130.7v8.3h-130.7zM121.0 201.0h31.1v8.3h-31.1zM212.9 201.0h138.4v8.3h-138.4zM128.7 208.7h23.5v8.3h-23.5zM190.0 208.7h161.4v8.3h-161.4zM128.7 216.4h31.1v8.3h-31.1zM174.6 216.4h176.7v8.3h-176.7zM128.7 224.1h222.6v8.3h-222.6zM136.3 231.8h215.0v8.3h-215.0zM136.3 239.5h215.0v8.3h-215.0zM151.7 247.1h199.7v8.3h-199.7zM144.0 254.8h207.3v8.3h-207.3zM144.0 262.5h207.3v8.3h-207.3zM151.7 270.1h199.7v8.3h-199.7zM151.7 277.8h199.7v8.3h-199.7zM151.7 285.5h199.7v8.2h-199.7zM159.3 293.1h192.0v8.2h-192.0zM159.3 300.8h192.0v8.2h-192.0zM167.0 308.4h161.4v8.2h-161.4zM174.6 316.0h100.1v8.2h-100.1zM281.9 316.0h38.8v8.2h-38.8zM174.6 323.7h92.4v8.2h-92.4zM281.9 323.7h38.8v8.2h-38.8zM182.3 331.3h77.1v8.2h-77.1zM281.9 331.3h31.1v8.2h-31.1zM182.3 338.9h84.8v8.2h-84.8zM297.2 338.9h8.2v8.2h-8.2zM182.3 346.5h23.5v8.2h-23.5zM220.6 346.5h38.8v8.2h-38.8zM220.6 354.1h38.8v8.2h-38.8zM212.9 361.7h23.5v8.2h-23.5zM243.6 361.7h15.8v8.2h-15.8zM197.6 369.3h23.5v8.2h-23.5zM228.3 369.3h8.2v8.2h-8.2zM205.3 376.9h23.5v8.2h-23.5zM205.3 384.5h15.8v8.2h-15.8z"/>
<path fill="#0000cc" d="M121.0 216.4h8.2v8.3h-8.2zM121.0 224.1h8.2v8.3h-8.2zM121.0 231.8h15.8v8.3h-15.8zM121.0 239.5h15.8v8.3h-15.8zM121.0 247.1h31.1v8.3h-31.1zM121.0 254.8h23.5v8.3h-23.5zM105.7 262.5h38.8v8.3h-38.8zM113.4 270.1h38.8v8.3h-38.8zM113.4 277.8h38.8v8.3h-38.8zM121.0 285.5h31.1v8.2h-31.1zM121.0 293.1h38.8v8.2h-38.8zM121.0 300.8h38.8v8.2h-38.8zM113.4 308.4h54.1v8.2h-54.1zM327.8 308.4h23.5v8.2h-23.5zM113.4 316.0h61.8v8.2h-61.8zM274.2 316.0h8.2v8.2h-8.2zM320.2 316.0h31.1v8.2h-31.1zM121.0 323.7h54.1v8.2h-54.1zM266.6 323.7h15.8v8.2h-15.8zM320.2 323.7h15.8v8.2h-15.8zM121.0 331.3h61.8v8.2h-61.8zM258.9 331.3h23.5v8.2h-23.5zM320.2 331.3h15.8v8.2h-15.8zM121.0 338.9h61.8v8.2h-61.8zM266.6 338.9h31.1v8.2h-31.1zM312.5 338.9h23.5v8.2h-23.5zM113.4 346.5h69.4v8.2h-69.4zM205.3 346.5h15.8v8.2h-15.8zM258.9 346.5h38.8v8.2h-38.8zM312.5 346.5h23.5v8.2h-23.5zM113.4 354.1h61.8v8.2h-61.8zM190.0 354.1h31.1v8.2h-31.1zM258.9 354.1h31.1v8.2h-31.1zM320.2 354.1h8.2v8.2h-8.2zM113.4 361.7h54.1v8.2h-54.1zM190.0 361.7h23.5v8.2h-23.5zM235.9 361.7h8.2v8.2h-8.2zM258.9 361.7h23.5v8.2h-23.5zM113.4 369.3h38.8v8.2h-38.8zM220.6 369.3h8.2v8.2h-8.2zM235.9 369.3h31.1v8.2h-31.1zM197.6 376.9h8.2v8.2h-8.2zM228.3 376.9h38.8v8.2h-38.8zM197.6 384.5h8.2v8.2h-8.2zM220.6 384.5h46.5v8.2h-46.5zM167.0 392.1h15.8v8.2h-15.8zM205.3 392.1h23.5v8.2h-23.5zM235.9 392.1h31.1v8.2h-31.1zM159.3 399.7h31.1v8.2h-31.1zM220.6 399.7h38.8v8.2h-38.8zM167.0 407.3h23.5v8.2h-23.5zM205.3 407.3h46.5v8.2h-46.5zM205.3 414.8h38.8v8.2h-38.8zM205.3 422.4h23.5v8.2h-23.5z"/>
<path fill="#ff7000" d="M105.7 247.1h15.8v8.3h-15.8zM105.7 254.8h15.8v8.3h-15.8z"/>
<path fill="#ffc000" d="M90.4 254.8h15.8v8.3h-15.8z"/>
<path fill="#800000" d="M82.7 262.5h15.8v8.3h-15.8zM59.7 270.1h38.8v8.3h-38.8zM52.1 277.8h46.5v8.3h-46.5zM44.4 285.5h46.5v8.2h-46.5zM36.8 293.1h54.1v8.2h-54.1zM36.8 300.8h54.1v8.2h-54.1zM29.1 308.4h69.4v8.2h-69.4zM44.4 316.0h54.1v8.2h-54.1zM52.1 323.7h38.8v8.2h-38.8z"/>
<path fill="#00dfff" d="M98.0 262.5h8.2v8.3h-8.2zM98.0 270.1h8.2v8.3h-8.2zM90.4 285.5h8.2v8.2h-8.2zM90.4 293.1h8.2v8.2h-8.2zM90.4 300.8h8.2v8.2h-8.2zM21.4 316.0h23.5v8.2h-23.5zM13.8 323.7h38.8v8.2h-38.8zM90.4 323.7h8.2v8.2h-8.2zM13.8 331.3h84.8v8.2h-84.8zM6.1 338.9h92.4v8.2h-92.4zM6.1 346.5h92.4v8.2h-92.4zM6.1 354.1h92.4v8.2h-92.4zM6.1 361.7h92.4v8.2h-92.4zM6.1 369.3h92.4v8.2h-92.4zM6.1 376.9h107.7v8.2h-107.7zM6.1 384.5h107.7v8.2h-107.7zM6.1 392.1h100.1v8.2h-100.1zM6.1 399.7h92.4v8.2h-92.4zM6.1 407.3h84.8v8.2h-84.8zM6.1 414.8h77.1v8.2h-77.1zM6.1 422.4h61.8v8.2h-61.8z"/>
<path fill="#40ffc0" d="M105.7 270.1h8.2v8.3h-8.2zM98.0 277.8h15.8v8.3h-15.8zM98.0 285.5h23.5v8.2h-23.5zM98.0 293.1h23.5v8.2h-23.5zM98.0 300.8h23.5v8.2h-23.5zM98.0 308.4h15.8v8.2h-15.8zM98.0 316.0h15.8v8.2h-15.8zM98.0 323.7h23.5v8.2h-23.5zM98.0 331.3h23.5v8.2h-23.5zM98.0 338.9h23.5v8.2h-23.5zM98.0 346.5h15.8v8.2h-15.8zM98.0 354.1h15.8v8.2h-15.8zM98.0 361.7h15.8v8.2h-15.8zM98.0 369.3h15.8v8.2h-15.8z"/>
<path fill="#00008f" d="M335.5 323.7h15.8v8.2h-15.8zM312.5 331.3h8.2v8.2h-8.2zM335.5 331.3h15.8v8.2h-15.8zM304.9 338.9h8.2v8.2h-8.2zM335.5 338.9h15.8v8.2h-15.8zM297.2 346.5h15.8v8.2h-15.8zM335.5 346.5h15.8v8.2h-15.8zM174.6 354.1h15.8v8.2h-15.8zM289.5 354.1h31.1v8.2h-31.1zM327.8 354.1h23.5v8.2h-23.5zM167.0 361.7h23.5v8.2h-23.5zM281.9 361.7h69.4v8.2h-69.4zM151.7 369.3h46.5v8.2h-46.5zM266.6 369.3h84.8v8.2h-84.8zM113.4 376.9h84.8v8.2h-84.8zM266.6 376.9h84.8v8.2h-84.8zM113.4 384.5h84.8v8.2h-84.8zM266.6 384.5h84.8v8.2h-84.8zM105.7 392.1h61.8v8.2h-61.8zM182.3 392.1h23.5v8.2h-23.5zM228.3 392.1h8.2v8.2h-8.2zM266.6 392.1h84.8v8.2h-84.8zM98.0 399.7h61.8v8.2h-61.8zM190.0 399.7h31.1v8.2h-31.1zM258.9 399.7h92.4v8.2h-92.4zM90.4 407.3h77.1v8.2h-77.1zM190.0 407.3h15.8v8.2h-15.8zM251.2 407.3h100.1v8.2h-100.1zM82.7 414.8h123.1v8.2h-123.1zM243.6 414.8h107.7v8.2h-107.7zM67.4 422.4h138.4v8.2h-138.4zM228.3 422.4h123.1v8.2h-123.1z"/>
<use href="#landg"/>
<g clip-path="url(#landclip)"><line x1="58.0" y1="0.0" x2="58.0" y2="427.5" class="g"/>
<line x1="115.9" y1="0.0" x2="115.9" y2="427.5" class="g"/>
<line x1="173.9" y1="0.0" x2="173.9" y2="427.5" class="g"/>
<line x1="231.9" y1="0.0" x2="231.9" y2="427.5" class="g"/>
<line x1="289.8" y1="0.0" x2="289.8" y2="427.5" class="g"/>
<line x1="0.0" y1="72.4" x2="347.8" y2="72.4" class="g"/>
<line x1="0.0" y1="144.3" x2="347.8" y2="144.3" class="g"/>
<line x1="0.0" y1="215.7" x2="347.8" y2="215.7" class="g"/>
<line x1="0.0" y1="286.8" x2="347.8" y2="286.8" class="g"/>
<line x1="0.0" y1="357.3" x2="347.8" y2="357.3" class="g"/></g>
</g>
<path d="M58.5 47.5L74.1 47.5M60.8 42.0L71.8 53.0M66.3 39.7L66.3 55.3M71.8 42.0L60.8 53.0" stroke="#ff1a1a" stroke-width="1.3"/>
<path d="M96.6 156.3L112.2 156.3M98.9 150.8L109.9 161.8M104.4 148.5L104.4 164.1M109.9 150.8L98.9 161.8" stroke="#ff1a1a" stroke-width="1.3"/>
<path d="M106.0 250.3L121.6 250.3M108.3 244.8L119.3 255.8M113.8 242.5L113.8 258.1M119.3 244.8L108.3 255.8" stroke="#ff1a1a" stroke-width="1.3"/>
<path d="M54.4 271.8L70.0 271.8M56.7 266.3L67.7 277.3M62.2 264.0L62.2 279.6M67.7 266.3L56.7 277.3" stroke="#ff1a1a" stroke-width="1.3"/>
<path d="M2.6 320.5L18.2 320.5M4.9 315.0L15.9 326.0M10.4 312.7L10.4 328.3M15.9 315.0L4.9 326.0" stroke="#ff1a1a" stroke-width="1.3"/>
</g>
<line x1="901.5" y1="1169.8" x2="901.5" y2="1165.8" class="t"/>
<line x1="901.5" y1="742.3" x2="901.5" y2="746.3" class="t"/>
<line x1="959.4" y1="1169.8" x2="959.4" y2="1165.8" class="t"/>
<line x1="959.4" y1="742.3" x2="959.4" y2="746.3" class="t"/>
<line x1="1017.4" y1="1169.8" x2="1017.4" y2="1165.8" class="t"/>
<line x1="1017.4" y1="742.3" x2="1017.4" y2="746.3" class="t"/>
<line x1="1075.4" y1="1169.8" x2="1075.4" y2="1165.8" class="t"/>
<line x1="1075.4" y1="742.3" x2="1075.4" y2="746.3" class="t"/>
<line x1="1133.3" y1="1169.8" x2="1133.3" y2="1165.8" class="t"/>
<line x1="1133.3" y1="742.3" x2="1133.3" y2="746.3" class="t"/>
<line x1="843.5" y1="814.7" x2="847.5" y2="814.7" class="t"/>
<line x1="1191.3" y1="814.7" x2="1187.3" y2="814.7" class="t"/>
<line x1="843.5" y1="886.6" x2="847.5" y2="886.6" class="t"/>
<line x1="1191.3" y1="886.6" x2="1187.3" y2="886.6" class="t"/>
<line x1="843.5" y1="958.0" x2="847.5" y2="958.0" class="t"/>
<line x1="1191.3" y1="958.0" x2="1187.3" y2="958.0" class="t"/>
<line x1="843.5" y1="1029.1" x2="847.5" y2="1029.1" class="t"/>
<line x1="1191.3" y1="1029.1" x2="1187.3" y2="1029.1" class="t"/>
<line x1="843.5" y1="1099.6" x2="847.5" y2="1099.6" class="t"/>
<line x1="1191.3" y1="1099.6" x2="1187.3" y2="1099.6" class="t"/>
<rect x="843.5" y="742.3" width="347.8" height="427.5" class="fr"/>
<text x="837.7" y="749.9" class="L" text-anchor="end">37°N</text>
<text x="837.7" y="821.6" class="S" text-anchor="end">30'</text>
<text x="837.7" y="894.2" class="L" text-anchor="end">36°N</text>
<text x="837.7" y="964.9" class="S" text-anchor="end">30'</text>
<text x="837.7" y="1036.7" class="L" text-anchor="end">35°N</text>
<text x="837.7" y="1106.5" class="S" text-anchor="end">30'</text>
<text x="837.7" y="1177.4" class="L" text-anchor="end">34°N</text>
<text x="843.5" y="1187.3" class="S" text-anchor="middle">30'</text>
<text x="904.7" y="1190.8" class="L" text-anchor="middle">76°W</text>
<text x="959.4" y="1187.3" class="S" text-anchor="middle">30'</text>
<text x="1020.6" y="1190.8" class="L" text-anchor="middle">75°W</text>
<text x="1075.4" y="1187.3" class="S" text-anchor="middle">30'</text>
<text x="1136.5" y="1190.8" class="L" text-anchor="middle">74°W</text>
<text x="1191.3" y="1187.3" class="S" text-anchor="middle">30'</text>

<rect x="85" y="158.5" width="112.5" height="24.5" fill="url(#jetg)" stroke="#262626" stroke-width="1.3"/>
<rect x="462.2" y="162.4" width="113.4" height="24.9" fill="url(#jetg)" stroke="#262626" stroke-width="1.3"/>
<rect x="847.5" y="162.5" width="111.1" height="24.8" fill="url(#jetg)" stroke="#262626" stroke-width="1.3"/>
<rect x="1231.6" y="162.6" width="112.3" height="24.8" fill="url(#jetg)" stroke="#262626" stroke-width="1.3"/>
<rect x="462.2" y="762.4" width="113.4" height="24.9" fill="url(#jetg)" stroke="#262626" stroke-width="1.3"/>
<rect x="847.5" y="762.5" width="111.1" height="24.8" fill="url(#jetg)" stroke="#262626" stroke-width="1.3"/>
<text x="461.3" y="149.3" font-size="17.5" text-anchor="middle" fill="#262626">0</text>
<text x="518" y="149.3" font-size="17.5" text-anchor="middle" fill="#262626">2</text>
<text x="574" y="149.3" font-size="17.5" text-anchor="middle" fill="#262626">4</text>
<text x="847.3" y="149.3" font-size="17.5" text-anchor="middle" fill="#262626">0</text>
<text x="942.2" y="149.3" font-size="17.5" text-anchor="middle" fill="#262626">50</text>
<text x="1229.7" y="149.3" font-size="17.5" text-anchor="middle" fill="#262626">0</text>
<text x="1269" y="149.3" font-size="17.5" text-anchor="middle" fill="#262626">1</text>
<text x="1304.6" y="149.3" font-size="17.5" text-anchor="middle" fill="#262626">2</text>
<text x="1343" y="149.3" font-size="17.5" text-anchor="middle" fill="#262626">3</text>
<text x="461.3" y="749.2" font-size="17.5" text-anchor="middle" fill="#262626">0</text>
<text x="555.2" y="749.2" font-size="17.5" text-anchor="middle" fill="#262626">50</text>
<text x="847.3" y="749.2" font-size="17.5" text-anchor="middle" fill="#262626">0</text>
<text x="891" y="749.2" font-size="17.5" text-anchor="middle" fill="#262626">20</text>
<text x="939.4" y="749.2" font-size="17.5" text-anchor="middle" fill="#262626">40</text>
<text x="248.6" y="128.6" font-size="24" font-weight="bold" text-anchor="middle" fill="#000" textLength="199" lengthAdjust="spacingAndGlyphs">2023-06-21 07:00</text>
<text x="631.9" y="130.4" font-size="20.5" font-weight="bold" text-anchor="middle" fill="#000" textLength="236" lengthAdjust="spacingAndGlyphs">GDOP TotalErrors (1.25)</text>
<text x="1017.5" y="130.4" font-size="20.5" font-weight="bold" text-anchor="middle" fill="#000" textLength="190" lengthAdjust="spacingAndGlyphs">Number of Rads (3)</text>
<text x="1399.9" y="130.4" font-size="20.5" font-weight="bold" text-anchor="middle" fill="#000" textLength="189" lengthAdjust="spacingAndGlyphs">Number of Sites (2)</text>
<text x="248.7" y="729.8" font-size="24.4" font-weight="bold" text-anchor="middle" fill="#000" textLength="133" lengthAdjust="spacingAndGlyphs">Radial Grid</text>
<text x="631.8" y="730.6" font-size="20.5" font-weight="bold" text-anchor="middle" fill="#000" textLength="211" lengthAdjust="spacingAndGlyphs">FitDif TotalErrors (30)</text>
<text x="1016.4" y="730" font-size="24.5" font-weight="bold" text-anchor="middle" fill="#000" textLength="131" lengthAdjust="spacingAndGlyphs">Site Codes</text>
<text x="118.6" y="114.4" font-size="21" text-anchor="start" fill="#262626" textLength="45.2" lengthAdjust="spacingAndGlyphs">cm/s</text>
<text x="495.6" y="723" font-size="21" text-anchor="start" fill="#262626" textLength="45" lengthAdjust="spacingAndGlyphs">cm/s</text>
<rect x="80.5" y="129.2" width="132.5" height="13.3" rx="5" fill="#262626"/>
<text x="82" y="141" font-size="14" fill="#5a5a5a" textLength="128" lengthAdjust="spacingAndGlyphs">Clean-stat MARACOOS 6km 0.5</text>
<text x="83" y="140.5" font-size="13" fill="#4a4a4a" textLength="126" lengthAdjust="spacingAndGlyphs">Outliers removed min_rads 3</text>
<text x="350.7" y="207" font-size="20" text-anchor="start" fill="#000" textLength="72.8" lengthAdjust="spacingAndGlyphs">50 cm/s</text>
<text x="360.2" y="244.6" font-size="20" text-anchor="start" fill="#000" textLength="57" lengthAdjust="spacingAndGlyphs">10 km</text><line x1="381.2" y1="250.9" x2="395.2" y2="250.9" stroke="#000" stroke-width="4" stroke-linecap="round"/>
<text x="743.2" y="179.5" font-size="20" text-anchor="start" fill="#000" textLength="57" lengthAdjust="spacingAndGlyphs">10 km</text><line x1="764.2" y1="185.8" x2="778.2" y2="185.8" stroke="#000" stroke-width="4" stroke-linecap="round"/>
<text x="1128.2" y="179.5" font-size="20" text-anchor="start" fill="#000" textLength="57" lengthAdjust="spacingAndGlyphs">10 km</text><line x1="1149.2" y1="185.8" x2="1163.2" y2="185.8" stroke="#000" stroke-width="4" stroke-linecap="round"/>
<text x="1512.0" y="179.5" font-size="20" text-anchor="start" fill="#000" textLength="57" lengthAdjust="spacingAndGlyphs">10 km</text><line x1="1533.0" y1="185.8" x2="1547.0" y2="185.8" stroke="#000" stroke-width="4" stroke-linecap="round"/>
<text x="359.2" y="779.5" font-size="20" text-anchor="start" fill="#000" textLength="57" lengthAdjust="spacingAndGlyphs">10 km</text><line x1="380.2" y1="785.8" x2="394.2" y2="785.8" stroke="#000" stroke-width="4" stroke-linecap="round"/>
<text x="743.2" y="779.5" font-size="20" text-anchor="start" fill="#000" textLength="57" lengthAdjust="spacingAndGlyphs">10 km</text><line x1="764.2" y1="785.8" x2="778.2" y2="785.8" stroke="#000" stroke-width="4" stroke-linecap="round"/>
<text x="1128.2" y="779.5" font-size="20" text-anchor="start" fill="#000" textLength="57" lengthAdjust="spacingAndGlyphs">10 km</text><line x1="1149.2" y1="785.8" x2="1163.2" y2="785.8" stroke="#000" stroke-width="4" stroke-linecap="round"/>
<path d="M1149.6 141L1154.8 147.8L1163.3 148.7L1171.8 143.6M1168.4 158.1L1178.7 161.5L1186.4 164M1171.8 171.8L1170.1 183.7L1178.7 187.2L1186.4 188" stroke="#000" stroke-width="1" fill="none"/>
<text x="0" y="0" font-size="13.5" fill="#000" text-anchor="middle" transform="translate(719,157) rotate(-20)">1.25</text>
<text x="0" y="0" font-size="13.5" fill="#000" text-anchor="middle" transform="translate(724,306) rotate(80)">1.25</text>
<text x="0" y="0" font-size="13.5" fill="#000" text-anchor="middle" transform="translate(680,434) rotate(-32)">1.25</text>
<text x="0" y="0" font-size="13.5" fill="#000" text-anchor="middle" transform="translate(1532,178) rotate(-30)">2</text>
<text x="0" y="0" font-size="13.5" fill="#000" text-anchor="middle" transform="translate(1553,274) rotate(60)">2</text>
<text x="0" y="0" font-size="13.5" fill="#000" text-anchor="middle" transform="translate(1347,301) rotate(70)">2</text>
<text x="0" y="0" font-size="13.5" fill="#000" text-anchor="middle" transform="translate(1355,364) rotate(70)">2</text>
<text x="0" y="0" font-size="13.5" fill="#000" text-anchor="middle" transform="translate(1321,427) rotate(-60)">2</text>
<text x="0" y="0" font-size="13.5" fill="#000" text-anchor="middle" transform="translate(1308,452) rotate(-60)">2</text>
<text x="0" y="0" font-size="13.5" fill="#000" text-anchor="middle" transform="translate(1267,467) rotate(40)">2</text>
<text x="0" y="0" font-size="13.5" fill="#000" text-anchor="middle" transform="translate(1428,524) rotate(-30)">2</text>
<text x="0" y="0" font-size="13.5" fill="#000" text-anchor="middle" transform="translate(1546,462) rotate(-40)">2</text>
<text x="0" y="0" font-size="13.5" fill="#000" text-anchor="middle" transform="translate(1115,485) rotate(10)">3</text>
<text x="0" y="0" font-size="13.5" fill="#000" text-anchor="middle" transform="translate(927,556) rotate(-20)">3</text>
<text x="0" y="0" font-size="13.5" fill="#000" text-anchor="middle" transform="translate(941,414) rotate(80)">3</text>
<text x="0" y="0" font-size="13.5" fill="#000" text-anchor="middle" transform="translate(1174,170) rotate(40)">3</text>
<text x="0" y="0" font-size="13.5" fill="#000" text-anchor="middle" transform="translate(583,940) rotate(80)">30</text>
<text x="0" y="0" font-size="13.5" fill="#000" text-anchor="middle" transform="translate(718,899) rotate(80)">30</text>
<text x="0" y="0" font-size="13.5" fill="#000" text-anchor="middle" transform="translate(720,919) rotate(60)">30</text>
<text x="0" y="0" font-size="13.5" fill="#000" text-anchor="middle" transform="translate(658,958) rotate(80)">30</text>
<text x="0" y="0" font-size="13.5" fill="#000" text-anchor="middle" transform="translate(646,979) rotate(100)">30</text>
<text x="0" y="0" font-size="13.5" fill="#000" text-anchor="middle" transform="translate(697,966) rotate(80)">30</text>
<text x="0" y="0" font-size="13.5" fill="#000" text-anchor="middle" transform="translate(636,1015) rotate(40)">30</text>
<text x="0" y="0" font-size="13.5" fill="#000" text-anchor="middle" transform="translate(622,1042) rotate(70)">30</text>
</svg></body></html>
